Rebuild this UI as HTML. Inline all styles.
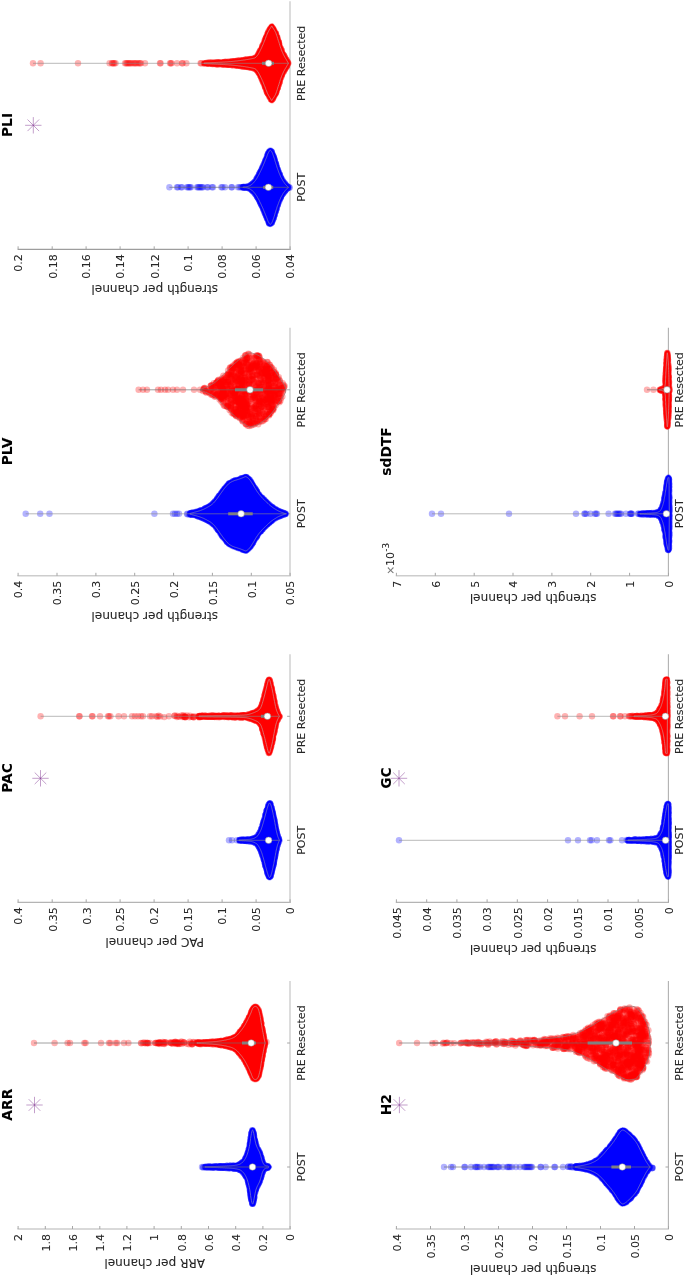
<!DOCTYPE html>
<html><head><meta charset="utf-8"><title>Violin plots</title><style>html,body{margin:0;padding:0;background:#fff}svg{display:block}text{stroke:#262626;stroke-width:.08px}</style></head><body>
<svg width="685" height="1277" viewBox="0 0 685 1277" font-family="'DejaVu Sans','Liberation Sans',sans-serif" fill="#262626">
<path d="M17.4 1229H290.8" fill="none" stroke="#cdcdcd" stroke-width="1.4"/>
<path d="M290 1229V981" fill="none" stroke="#cdcdcd" stroke-width="1.4"/>
<path d="M290.1 1229v-3M262.9 1229v-3M235.7 1229v-3M208.5 1229v-3M181.3 1229v-3M154.1 1229v-3M126.9 1229v-3M99.8 1229v-3M72.5 1229v-3M45.3 1229v-3M18.1 1229v-3M290.1 1167h-3M290.1 1043h-3" fill="none" stroke="#a6a6a6" stroke-width="1"/>
<text transform="translate(294.4,1233.9) rotate(-90)" text-anchor="end" font-size="11.0">0</text>
<text transform="translate(267.2,1233.9) rotate(-90)" text-anchor="end" font-size="11.0">0.2</text>
<text transform="translate(240,1233.9) rotate(-90)" text-anchor="end" font-size="11.0">0.4</text>
<text transform="translate(212.8,1233.9) rotate(-90)" text-anchor="end" font-size="11.0">0.6</text>
<text transform="translate(185.6,1233.9) rotate(-90)" text-anchor="end" font-size="11.0">0.8</text>
<text transform="translate(158.4,1233.9) rotate(-90)" text-anchor="end" font-size="11.0">1</text>
<text transform="translate(131.2,1233.9) rotate(-90)" text-anchor="end" font-size="11.0">1.2</text>
<text transform="translate(104,1233.9) rotate(-90)" text-anchor="end" font-size="11.0">1.4</text>
<text transform="translate(76.8,1233.9) rotate(-90)" text-anchor="end" font-size="11.0">1.6</text>
<text transform="translate(49.6,1233.9) rotate(-90)" text-anchor="end" font-size="11.0">1.8</text>
<text transform="translate(22.4,1233.9) rotate(-90)" text-anchor="end" font-size="11.0">2</text>
<text transform="translate(305.2,1167) rotate(-90)" text-anchor="middle" font-size="11.0">POST</text>
<text transform="translate(305.2,1043) rotate(-90)" text-anchor="middle" font-size="11.0">PRE Resected</text>
<text transform="translate(154.7,1258.5) rotate(180)" text-anchor="middle" font-size="12.1">ARR per channel</text>
<text transform="translate(12.3,1104.7) rotate(-90)" text-anchor="middle" font-size="13.8" font-weight="bold" fill="#000">ARR</text>
<path d="M26.3 1105h16.4 M34.5 1096.8v16.4 M28.7 1099.2l11.6 11.6 M28.7 1110.8l11.6 -11.6" stroke="#7E2F8E" stroke-width="0.55" stroke-opacity="0.85" fill="none"/>
<g fill="#0000ff" fill-opacity="0.3"><circle cx="202" cy="1167" r="3.2"/><circle cx="203.5" cy="1167" r="3.2"/><circle cx="216.8" cy="1166.8" r="3.2"/><circle cx="222.7" cy="1166.7" r="3.2"/><circle cx="220.1" cy="1166.7" r="3.2"/><circle cx="208" cy="1166.9" r="3.2"/><circle cx="209.6" cy="1167" r="3.2"/><circle cx="222.2" cy="1167.1" r="3.2"/><circle cx="203.1" cy="1167.6" r="3.2"/><circle cx="221.1" cy="1167.4" r="3.2"/><circle cx="220.5" cy="1167.1" r="3.2"/><circle cx="213.3" cy="1167.6" r="3.2"/><circle cx="267.6" cy="1167.5" r="3.2"/><circle cx="267.9" cy="1166.4" r="3.2"/><circle cx="267.3" cy="1167" r="3.2"/></g>
<path d="M205 1166.7 205.4 1166.7 205.8 1166.7 206.2 1166.7 206.6 1166.7 207 1166.7 207.4 1166.7 207.8 1166.7 208.2 1166.7 208.6 1166.6 209 1166.6 209.4 1166.6 209.8 1166.6 210.2 1166.6 210.6 1166.6 211 1166.6 211.5 1166.6 211.9 1166.6 212.3 1166.6 212.7 1166.5 213.1 1166.5 213.5 1166.5 213.9 1166.5 214.3 1166.5 214.7 1166.5 215.1 1166.5 215.5 1166.5 215.9 1166.4 216.3 1166.4 216.7 1166.4 217.1 1166.4 217.5 1166.4 217.9 1166.4 218.3 1166.3 218.7 1166.3 219.1 1166.3 219.5 1166.3 219.9 1166.3 220.3 1166.3 220.7 1166.2 221.1 1166.2 221.5 1166.2 221.9 1166.2 222.3 1166.2 222.7 1166.2 223.1 1166.1 223.5 1166.1 223.9 1166.1 224.4 1166.1 224.8 1166.1 225.2 1166 225.6 1166 226 1166 226.4 1166 226.8 1166 227.2 1165.9 227.6 1165.9 228 1165.9 228.4 1165.9 228.8 1165.9 229.2 1165.8 229.6 1165.8 230 1165.8 230.4 1165.8 230.8 1165.7 231.2 1165.7 231.6 1165.7 232 1165.6 232.4 1165.6 232.8 1165.6 233.2 1165.5 233.6 1165.5 234 1165.5 234.4 1165.4 234.8 1165.4 235.2 1165.3 235.6 1165.2 236 1165.2 236.4 1165.1 236.8 1165 237.3 1164.9 237.7 1164.8 238.1 1164.7 238.5 1164.6 238.9 1164.5 239.3 1164.4 239.7 1164.2 240.1 1164 240.5 1163.8 240.9 1163.6 241.3 1163.3 241.7 1163 242.1 1162.6 242.5 1162.3 242.9 1161.9 243.3 1161.5 243.7 1161 244.1 1160.5 244.5 1159.9 244.9 1159.3 245.3 1158.6 245.7 1157.9 246.1 1157.1 246.5 1156.2 246.9 1155.2 247.3 1154.1 247.7 1152.9 248.1 1151.5 248.5 1150 248.9 1148.4 249.3 1146.7 249.7 1144.7 250.2 1141.9 250.6 1138.4 251 1135.8 251.4 1133.6 251.8 1131.6 252.2 1130.3 252.6 1130 253 1130.4 253.4 1131.9 253.8 1133.7 254.2 1135.9 254.6 1138 255 1140.1 255.4 1142.1 255.8 1143.8 256.2 1145 256.6 1146.1 257 1147 257.4 1147.9 257.8 1148.7 258.2 1149.5 258.6 1150.3 259 1151 259.4 1151.9 259.8 1152.9 260.2 1154.1 260.6 1155.4 261 1156.8 261.4 1158.2 261.8 1159.7 262.2 1161.1 262.6 1162.2 263.1 1163.1 263.5 1164 263.9 1164.6 264.3 1164.9 264.7 1165.2 265.1 1165.5 265.5 1165.7 265.9 1165.8 266.3 1165.9 266.7 1166 267.1 1166 267.5 1166 267.9 1166.1 268.3 1166.2 268.7 1166.6 269.1 1167 269.1 1167 268.7 1167.4 268.3 1167.8 267.9 1167.9 267.5 1168 267.1 1168 266.7 1168 266.3 1168.1 265.9 1168.2 265.5 1168.3 265.1 1168.5 264.7 1168.8 264.3 1169.1 263.9 1169.4 263.5 1170 263.1 1170.9 262.6 1171.8 262.2 1172.9 261.8 1174.3 261.4 1175.8 261 1177.2 260.6 1178.6 260.2 1179.9 259.8 1181.1 259.4 1182.1 259 1183 258.6 1183.7 258.2 1184.5 257.8 1185.3 257.4 1186.1 257 1187 256.6 1187.9 256.2 1189 255.8 1190.2 255.4 1191.9 255 1193.9 254.6 1196 254.2 1198.1 253.8 1200.3 253.4 1202.1 253 1203.6 252.6 1204 252.2 1203.7 251.8 1202.4 251.4 1200.4 251 1198.2 250.6 1195.6 250.2 1192.1 249.7 1189.3 249.3 1187.3 248.9 1185.6 248.5 1184 248.1 1182.5 247.7 1181.1 247.3 1179.9 246.9 1178.8 246.5 1177.8 246.1 1176.9 245.7 1176.1 245.3 1175.4 244.9 1174.7 244.5 1174.1 244.1 1173.5 243.7 1173 243.3 1172.5 242.9 1172.1 242.5 1171.7 242.1 1171.4 241.7 1171 241.3 1170.7 240.9 1170.4 240.5 1170.2 240.1 1170 239.7 1169.8 239.3 1169.6 238.9 1169.5 238.5 1169.4 238.1 1169.3 237.7 1169.2 237.3 1169.1 236.8 1169 236.4 1168.9 236 1168.8 235.6 1168.8 235.2 1168.7 234.8 1168.6 234.4 1168.6 234 1168.5 233.6 1168.5 233.2 1168.5 232.8 1168.4 232.4 1168.4 232 1168.4 231.6 1168.3 231.2 1168.3 230.8 1168.3 230.4 1168.2 230 1168.2 229.6 1168.2 229.2 1168.2 228.8 1168.1 228.4 1168.1 228 1168.1 227.6 1168.1 227.2 1168.1 226.8 1168 226.4 1168 226 1168 225.6 1168 225.2 1168 224.8 1167.9 224.4 1167.9 223.9 1167.9 223.5 1167.9 223.1 1167.9 222.7 1167.8 222.3 1167.8 221.9 1167.8 221.5 1167.8 221.1 1167.8 220.7 1167.8 220.3 1167.7 219.9 1167.7 219.5 1167.7 219.1 1167.7 218.7 1167.7 218.3 1167.7 217.9 1167.6 217.5 1167.6 217.1 1167.6 216.7 1167.6 216.3 1167.6 215.9 1167.6 215.5 1167.5 215.1 1167.5 214.7 1167.5 214.3 1167.5 213.9 1167.5 213.5 1167.5 213.1 1167.5 212.7 1167.5 212.3 1167.4 211.9 1167.4 211.5 1167.4 211 1167.4 210.6 1167.4 210.2 1167.4 209.8 1167.4 209.4 1167.4 209 1167.4 208.6 1167.4 208.2 1167.3 207.8 1167.3 207.4 1167.3 207 1167.3 206.6 1167.3 206.2 1167.3 205.8 1167.3 205.4 1167.3 205 1167.3Z" fill="#0000ff" stroke="#0000ff" stroke-width="5.9" stroke-opacity="0.35" stroke-linejoin="round"/>
<path d="M205 1166.7 205.4 1166.7 205.8 1166.7 206.2 1166.7 206.6 1166.7 207 1166.7 207.4 1166.7 207.8 1166.7 208.2 1166.7 208.6 1166.6 209 1166.6 209.4 1166.6 209.8 1166.6 210.2 1166.6 210.6 1166.6 211 1166.6 211.5 1166.6 211.9 1166.6 212.3 1166.6 212.7 1166.5 213.1 1166.5 213.5 1166.5 213.9 1166.5 214.3 1166.5 214.7 1166.5 215.1 1166.5 215.5 1166.5 215.9 1166.4 216.3 1166.4 216.7 1166.4 217.1 1166.4 217.5 1166.4 217.9 1166.4 218.3 1166.3 218.7 1166.3 219.1 1166.3 219.5 1166.3 219.9 1166.3 220.3 1166.3 220.7 1166.2 221.1 1166.2 221.5 1166.2 221.9 1166.2 222.3 1166.2 222.7 1166.2 223.1 1166.1 223.5 1166.1 223.9 1166.1 224.4 1166.1 224.8 1166.1 225.2 1166 225.6 1166 226 1166 226.4 1166 226.8 1166 227.2 1165.9 227.6 1165.9 228 1165.9 228.4 1165.9 228.8 1165.9 229.2 1165.8 229.6 1165.8 230 1165.8 230.4 1165.8 230.8 1165.7 231.2 1165.7 231.6 1165.7 232 1165.6 232.4 1165.6 232.8 1165.6 233.2 1165.5 233.6 1165.5 234 1165.5 234.4 1165.4 234.8 1165.4 235.2 1165.3 235.6 1165.2 236 1165.2 236.4 1165.1 236.8 1165 237.3 1164.9 237.7 1164.8 238.1 1164.7 238.5 1164.6 238.9 1164.5 239.3 1164.4 239.7 1164.2 240.1 1164 240.5 1163.8 240.9 1163.6 241.3 1163.3 241.7 1163 242.1 1162.6 242.5 1162.3 242.9 1161.9 243.3 1161.5 243.7 1161 244.1 1160.5 244.5 1159.9 244.9 1159.3 245.3 1158.6 245.7 1157.9 246.1 1157.1 246.5 1156.2 246.9 1155.2 247.3 1154.1 247.7 1152.9 248.1 1151.5 248.5 1150 248.9 1148.4 249.3 1146.7 249.7 1144.7 250.2 1141.9 250.6 1138.4 251 1135.8 251.4 1133.6 251.8 1131.6 252.2 1130.3 252.6 1130 253 1130.4 253.4 1131.9 253.8 1133.7 254.2 1135.9 254.6 1138 255 1140.1 255.4 1142.1 255.8 1143.8 256.2 1145 256.6 1146.1 257 1147 257.4 1147.9 257.8 1148.7 258.2 1149.5 258.6 1150.3 259 1151 259.4 1151.9 259.8 1152.9 260.2 1154.1 260.6 1155.4 261 1156.8 261.4 1158.2 261.8 1159.7 262.2 1161.1 262.6 1162.2 263.1 1163.1 263.5 1164 263.9 1164.6 264.3 1164.9 264.7 1165.2 265.1 1165.5 265.5 1165.7 265.9 1165.8 266.3 1165.9 266.7 1166 267.1 1166 267.5 1166 267.9 1166.1 268.3 1166.2 268.7 1166.6 269.1 1167 269.1 1167 268.7 1167.4 268.3 1167.8 267.9 1167.9 267.5 1168 267.1 1168 266.7 1168 266.3 1168.1 265.9 1168.2 265.5 1168.3 265.1 1168.5 264.7 1168.8 264.3 1169.1 263.9 1169.4 263.5 1170 263.1 1170.9 262.6 1171.8 262.2 1172.9 261.8 1174.3 261.4 1175.8 261 1177.2 260.6 1178.6 260.2 1179.9 259.8 1181.1 259.4 1182.1 259 1183 258.6 1183.7 258.2 1184.5 257.8 1185.3 257.4 1186.1 257 1187 256.6 1187.9 256.2 1189 255.8 1190.2 255.4 1191.9 255 1193.9 254.6 1196 254.2 1198.1 253.8 1200.3 253.4 1202.1 253 1203.6 252.6 1204 252.2 1203.7 251.8 1202.4 251.4 1200.4 251 1198.2 250.6 1195.6 250.2 1192.1 249.7 1189.3 249.3 1187.3 248.9 1185.6 248.5 1184 248.1 1182.5 247.7 1181.1 247.3 1179.9 246.9 1178.8 246.5 1177.8 246.1 1176.9 245.7 1176.1 245.3 1175.4 244.9 1174.7 244.5 1174.1 244.1 1173.5 243.7 1173 243.3 1172.5 242.9 1172.1 242.5 1171.7 242.1 1171.4 241.7 1171 241.3 1170.7 240.9 1170.4 240.5 1170.2 240.1 1170 239.7 1169.8 239.3 1169.6 238.9 1169.5 238.5 1169.4 238.1 1169.3 237.7 1169.2 237.3 1169.1 236.8 1169 236.4 1168.9 236 1168.8 235.6 1168.8 235.2 1168.7 234.8 1168.6 234.4 1168.6 234 1168.5 233.6 1168.5 233.2 1168.5 232.8 1168.4 232.4 1168.4 232 1168.4 231.6 1168.3 231.2 1168.3 230.8 1168.3 230.4 1168.2 230 1168.2 229.6 1168.2 229.2 1168.2 228.8 1168.1 228.4 1168.1 228 1168.1 227.6 1168.1 227.2 1168.1 226.8 1168 226.4 1168 226 1168 225.6 1168 225.2 1168 224.8 1167.9 224.4 1167.9 223.9 1167.9 223.5 1167.9 223.1 1167.9 222.7 1167.8 222.3 1167.8 221.9 1167.8 221.5 1167.8 221.1 1167.8 220.7 1167.8 220.3 1167.7 219.9 1167.7 219.5 1167.7 219.1 1167.7 218.7 1167.7 218.3 1167.7 217.9 1167.6 217.5 1167.6 217.1 1167.6 216.7 1167.6 216.3 1167.6 215.9 1167.6 215.5 1167.5 215.1 1167.5 214.7 1167.5 214.3 1167.5 213.9 1167.5 213.5 1167.5 213.1 1167.5 212.7 1167.5 212.3 1167.4 211.9 1167.4 211.5 1167.4 211 1167.4 210.6 1167.4 210.2 1167.4 209.8 1167.4 209.4 1167.4 209 1167.4 208.6 1167.4 208.2 1167.3 207.8 1167.3 207.4 1167.3 207 1167.3 206.6 1167.3 206.2 1167.3 205.8 1167.3 205.4 1167.3 205 1167.3Z" fill="#0000ff" stroke="#0000ff" stroke-width="4.5" stroke-linejoin="round"/>
<path d="M229.8 1168.1h0M210.1 1167.4h0M248.9 1148.8h0M250 1190.7h0M206.4 1167.3h0M228.1 1168.1h0M259.4 1182.1h0M261.2 1157.3h0M253.1 1202.5h0M250.4 1141h0M244.6 1173.9h0M246.1 1176.4h0M258.7 1183h0M251.2 1199.2h0M254 1198.8h0M232.6 1165.7h0M265.7 1165.8h0M239.5 1164.4h0M220.2 1167.7h0M261.9 1160.2h0M227.2 1166h0M225.8 1166h0M250.8 1196.8h0M232.6 1165.6h0M249 1149.3h0M255.7 1144.6h0M208.5 1166.7h0M253.6 1200.6h0M260.9 1177.1h0M254.2 1198h0M256.2 1145.7h0M263 1170.9h0M258.3 1150.1h0M258.6 1182.9h0M257.4 1185.3h0M231.1 1165.8h0M225.7 1168h0M250.9 1197.3h0M264.2 1164.9h0M250 1143.3h0M255.5 1142.8h0M261.1 1176.9h0M212.9 1167.4h0M264.1 1169.1h0M254 1198.8h0M266.2 1168.1h0M228.4 1168.1h0M262.3 1172.7h0M251.5 1133h0M253.6 1134h0M248.9 1185.1h0M226.2 1168h0M256.1 1146.1h0M218 1166.4h0M261.1 1157.3h0M210.4 1166.6h0M234.1 1168.5h0M250.8 1196.8h0M224.1 1167.9h0M240.5 1163.9h0M258.4 1150h0M227 1166h0M257.9 1184.2h0M210.8 1167.4h0M218 1167.6h0M240.8 1170.3h0M219.9 1166.3h0M227.7 1166h0M251.6 1133.9h0M252.7 1203.9h0M242.1 1162.8h0M261.6 1158.7h0M253.4 1201.8h0M263.6 1164.3h0M248.7 1184.2h0M245.8 1158.2h0M259.4 1152.5h0M250.4 1192.4h0M242.3 1171.5h0M255.8 1189.5h0M213.9 1166.5h0M220.4 1166.3h0M262 1160.5h0M259.5 1152.3h0M248 1152.8h0M254.8 1139.9h0M256.7 1186.9h0" stroke="#0000ff" stroke-opacity="0.4" stroke-width="6.4" stroke-linecap="round" fill="none"/>
<path d="M223.5 1166.2h0M209.1 1167.3h0M262.3 1172.5h0M249.7 1145.6h0M227.2 1168h0M245.2 1174.6h0M222.8 1166.2h0M249.9 1189.8h0M255.5 1143.6h0M249.9 1144.3h0M251.4 1133.8h0M241.7 1163.1h0M245.7 1158.2h0M251.5 1199.4h0M222.4 1167.8h0M246.8 1156.1h0M229.8 1165.8h0M261 1176.8h0M260 1153.8h0M250.8 1138h0M262.8 1162.7h0M261.3 1157.7h0M245.5 1175.5h0M209.4 1166.7h0M250.5 1194.1h0M207.9 1167.3h0M219.2 1167.7h0M247.8 1153.5h0M243.5 1172.7h0M244.3 1173.5h0M262.1 1160.8h0M205.6 1166.7h0M220.8 1167.7h0M206.6 1166.7h0M250 1144.2h0M227.9 1168h0M243.6 1172.5h0M243.2 1172.1h0M248.3 1151.7h0M250.1 1191.3h0M251 1198h0M247.2 1154.9h0M247.9 1180.7h0M233.9 1168.5h0M254.9 1141.1h0M242.5 1171.7h0M210.8 1166.6h0M259.8 1153.1h0M249.3 1186.7h0M240.1 1169.9h0M252.3 1130.3h0M212.1 1167.4h0M258.6 1183.2h0M262.2 1172.9h0M250.1 1190.8h0M208.5 1167.3h0M233.6 1168.5h0M209.5 1167.4h0M254 1135.7h0M263.3 1170.3h0M253.6 1199.4h0M250.9 1197.4h0M264.9 1168.5h0M243 1161.8h0M252.2 1203.6h0M260.6 1178.3h0M256.3 1145.4h0M250.9 1137.6h0M216.1 1166.4h0M259.1 1182.1h0M255 1141.2h0M223.6 1167.9h0M229.7 1165.8h0M245.7 1158.1h0M253.6 1132.9h0M220.4 1166.3h0M245.6 1158.4h0M229.8 1165.8h0M248.7 1149.6h0M251 1137.4h0M256.1 1188.6h0M220.1 1167.7h0M236 1168.8h0M251.9 1133h0M261.3 1176h0M216.2 1166.4h0M259.1 1151.9h0" stroke="#0000ff" stroke-opacity="0.4" stroke-width="6.4" stroke-linecap="round" fill="none"/>
<path d="M251.7 1133.1h0M250 1143.5h0M252.4 1202.8h0M233.5 1165.6h0M254.3 1196.9h0M205.4 1167.3h0M235.8 1168.7h0M260.1 1180.3h0M215.5 1166.5h0M260.9 1177.5h0M211.8 1167.4h0M222.3 1167.8h0M267 1166h0M253 1132.6h0M248.2 1182.6h0M216.1 1167.5h0M253.9 1198.2h0M253.7 1134.6h0M263.7 1169.7h0M221.8 1166.2h0M250.5 1194.8h0M253.2 1202.5h0M247.2 1155.3h0M261 1157.2h0M241.6 1163h0M245.3 1158.7h0M265.7 1165.8h0M250.1 1191.6h0M251.2 1136h0M250.1 1142.5h0M222.4 1167.8h0M255.8 1189.5h0M247.5 1154.1h0M252.4 1131.8h0M255.1 1141.2h0M244.8 1174.3h0M263.9 1169.3h0M236.3 1168.8h0M267.2 1168h0M261.7 1174.9h0M247.7 1153h0M262.6 1172h0M250.1 1142.8h0M258.1 1184.6h0M252.5 1131.1h0M246.6 1156.3h0M229.5 1168.2h0M218 1167.6h0M251.3 1135.5h0M265.1 1168.4h0M252.9 1202.8h0M247.2 1154.9h0M255.2 1191.9h0M257.9 1149.7h0M262.3 1161.4h0M207.3 1167.3h0M226.6 1166h0M251.2 1198.2h0M207.4 1167.3h0M250.3 1141.2h0M251.7 1200h0M209.6 1166.6h0M260.3 1154.4h0M241.2 1163.4h0M257.7 1185.4h0M257.6 1184.8h0M261.2 1157.7h0M253.1 1203h0M253.7 1134.9h0M258 1184.8h0M260.7 1177.8h0M208.1 1166.7h0M250.7 1137.6h0M234.1 1168.5h0M216.7 1167.6h0M253.7 1199.8h0M245.3 1174.9h0M233.5 1168.4h0M214.4 1166.5h0M239.4 1169.7h0M220.1 1166.3h0M214.4 1167.5h0M240.1 1164h0M226.6 1166h0M245.5 1175.6h0M255.1 1141.6h0" stroke="#0000ff" stroke-opacity="0.4" stroke-width="6.4" stroke-linecap="round" fill="none"/>
<path d="M205 1166.7 205.4 1166.7 205.8 1166.7 206.2 1166.7 206.6 1166.7 207 1166.7 207.4 1166.7 207.8 1166.7 208.2 1166.7 208.6 1166.6 209 1166.6 209.4 1166.6 209.8 1166.6 210.2 1166.6 210.6 1166.6 211 1166.6 211.5 1166.6 211.9 1166.6 212.3 1166.6 212.7 1166.5 213.1 1166.5 213.5 1166.5 213.9 1166.5 214.3 1166.5 214.7 1166.5 215.1 1166.5 215.5 1166.5 215.9 1166.4 216.3 1166.4 216.7 1166.4 217.1 1166.4 217.5 1166.4 217.9 1166.4 218.3 1166.3 218.7 1166.3 219.1 1166.3 219.5 1166.3 219.9 1166.3 220.3 1166.3 220.7 1166.2 221.1 1166.2 221.5 1166.2 221.9 1166.2 222.3 1166.2 222.7 1166.2 223.1 1166.1 223.5 1166.1 223.9 1166.1 224.4 1166.1 224.8 1166.1 225.2 1166 225.6 1166 226 1166 226.4 1166 226.8 1166 227.2 1165.9 227.6 1165.9 228 1165.9 228.4 1165.9 228.8 1165.9 229.2 1165.8 229.6 1165.8 230 1165.8 230.4 1165.8 230.8 1165.7 231.2 1165.7 231.6 1165.7 232 1165.6 232.4 1165.6 232.8 1165.6 233.2 1165.5 233.6 1165.5 234 1165.5 234.4 1165.4 234.8 1165.4 235.2 1165.3 235.6 1165.2 236 1165.2 236.4 1165.1 236.8 1165 237.3 1164.9 237.7 1164.8 238.1 1164.7 238.5 1164.6 238.9 1164.5 239.3 1164.4 239.7 1164.2 240.1 1164 240.5 1163.8 240.9 1163.6 241.3 1163.3 241.7 1163 242.1 1162.6 242.5 1162.3 242.9 1161.9 243.3 1161.5 243.7 1161 244.1 1160.5 244.5 1159.9 244.9 1159.3 245.3 1158.6 245.7 1157.9 246.1 1157.1 246.5 1156.2 246.9 1155.2 247.3 1154.1 247.7 1152.9 248.1 1151.5 248.5 1150 248.9 1148.4 249.3 1146.7 249.7 1144.7 250.2 1141.9 250.6 1138.4 251 1135.8 251.4 1133.6 251.8 1131.6 252.2 1130.3 252.6 1130 253 1130.4 253.4 1131.9 253.8 1133.7 254.2 1135.9 254.6 1138 255 1140.1 255.4 1142.1 255.8 1143.8 256.2 1145 256.6 1146.1 257 1147 257.4 1147.9 257.8 1148.7 258.2 1149.5 258.6 1150.3 259 1151 259.4 1151.9 259.8 1152.9 260.2 1154.1 260.6 1155.4 261 1156.8 261.4 1158.2 261.8 1159.7 262.2 1161.1 262.6 1162.2 263.1 1163.1 263.5 1164 263.9 1164.6 264.3 1164.9 264.7 1165.2 265.1 1165.5 265.5 1165.7 265.9 1165.8 266.3 1165.9 266.7 1166 267.1 1166 267.5 1166 267.9 1166.1 268.3 1166.2 268.7 1166.6 269.1 1167 269.1 1167 268.7 1167.4 268.3 1167.8 267.9 1167.9 267.5 1168 267.1 1168 266.7 1168 266.3 1168.1 265.9 1168.2 265.5 1168.3 265.1 1168.5 264.7 1168.8 264.3 1169.1 263.9 1169.4 263.5 1170 263.1 1170.9 262.6 1171.8 262.2 1172.9 261.8 1174.3 261.4 1175.8 261 1177.2 260.6 1178.6 260.2 1179.9 259.8 1181.1 259.4 1182.1 259 1183 258.6 1183.7 258.2 1184.5 257.8 1185.3 257.4 1186.1 257 1187 256.6 1187.9 256.2 1189 255.8 1190.2 255.4 1191.9 255 1193.9 254.6 1196 254.2 1198.1 253.8 1200.3 253.4 1202.1 253 1203.6 252.6 1204 252.2 1203.7 251.8 1202.4 251.4 1200.4 251 1198.2 250.6 1195.6 250.2 1192.1 249.7 1189.3 249.3 1187.3 248.9 1185.6 248.5 1184 248.1 1182.5 247.7 1181.1 247.3 1179.9 246.9 1178.8 246.5 1177.8 246.1 1176.9 245.7 1176.1 245.3 1175.4 244.9 1174.7 244.5 1174.1 244.1 1173.5 243.7 1173 243.3 1172.5 242.9 1172.1 242.5 1171.7 242.1 1171.4 241.7 1171 241.3 1170.7 240.9 1170.4 240.5 1170.2 240.1 1170 239.7 1169.8 239.3 1169.6 238.9 1169.5 238.5 1169.4 238.1 1169.3 237.7 1169.2 237.3 1169.1 236.8 1169 236.4 1168.9 236 1168.8 235.6 1168.8 235.2 1168.7 234.8 1168.6 234.4 1168.6 234 1168.5 233.6 1168.5 233.2 1168.5 232.8 1168.4 232.4 1168.4 232 1168.4 231.6 1168.3 231.2 1168.3 230.8 1168.3 230.4 1168.2 230 1168.2 229.6 1168.2 229.2 1168.2 228.8 1168.1 228.4 1168.1 228 1168.1 227.6 1168.1 227.2 1168.1 226.8 1168 226.4 1168 226 1168 225.6 1168 225.2 1168 224.8 1167.9 224.4 1167.9 223.9 1167.9 223.5 1167.9 223.1 1167.9 222.7 1167.8 222.3 1167.8 221.9 1167.8 221.5 1167.8 221.1 1167.8 220.7 1167.8 220.3 1167.7 219.9 1167.7 219.5 1167.7 219.1 1167.7 218.7 1167.7 218.3 1167.7 217.9 1167.6 217.5 1167.6 217.1 1167.6 216.7 1167.6 216.3 1167.6 215.9 1167.6 215.5 1167.5 215.1 1167.5 214.7 1167.5 214.3 1167.5 213.9 1167.5 213.5 1167.5 213.1 1167.5 212.7 1167.5 212.3 1167.4 211.9 1167.4 211.5 1167.4 211 1167.4 210.6 1167.4 210.2 1167.4 209.8 1167.4 209.4 1167.4 209 1167.4 208.6 1167.4 208.2 1167.3 207.8 1167.3 207.4 1167.3 207 1167.3 206.6 1167.3 206.2 1167.3 205.8 1167.3 205.4 1167.3 205 1167.3Z" fill="none" stroke="#7474cc" stroke-width="0.8" stroke-linejoin="round"/>
<line x1="202" y1="1167" x2="268" y2="1167" stroke="#6c6c6c" stroke-width="0.65"/>
<circle cx="252.5" cy="1167" r="3.3" fill="#fff" stroke="#808080" stroke-width="0.5"/>
<g fill="#ff0000" fill-opacity="0.3"><circle cx="34" cy="1043" r="3.2"/><circle cx="54.6" cy="1043" r="3.2"/><circle cx="67.6" cy="1043" r="3.2"/><circle cx="70" cy="1043" r="3.2"/><circle cx="84.4" cy="1043" r="3.2"/><circle cx="85.6" cy="1043" r="3.2"/><circle cx="101" cy="1043" r="3.2"/><circle cx="109" cy="1043" r="3.2"/><circle cx="110.4" cy="1043" r="3.2"/><circle cx="115.6" cy="1043" r="3.2"/><circle cx="117.2" cy="1043" r="3.2"/><circle cx="124" cy="1043" r="3.2"/><circle cx="128.4" cy="1043" r="3.2"/><circle cx="141" cy="1043" r="3.2"/><circle cx="143" cy="1043" r="3.2"/><circle cx="145" cy="1043" r="3.2"/><circle cx="148" cy="1043" r="3.2"/><circle cx="150" cy="1043" r="3.2"/><circle cx="156" cy="1043" r="3.2"/><circle cx="159.9" cy="1042.8" r="3.2"/><circle cx="141.4" cy="1043.3" r="3.2"/><circle cx="155.9" cy="1043" r="3.2"/><circle cx="147" cy="1042.9" r="3.2"/><circle cx="155.2" cy="1042.9" r="3.2"/><circle cx="157.6" cy="1042.9" r="3.2"/><circle cx="159.8" cy="1042.6" r="3.2"/><circle cx="143.9" cy="1042.5" r="3.2"/><circle cx="148" cy="1043.3" r="3.2"/><circle cx="158.7" cy="1043.1" r="3.2"/><circle cx="158.8" cy="1043.2" r="3.2"/><circle cx="146.2" cy="1043.4" r="3.2"/><circle cx="158.7" cy="1042.7" r="3.2"/><circle cx="146.9" cy="1042.7" r="3.2"/><circle cx="163.4" cy="1043.9" r="3.2"/><circle cx="164" cy="1042.4" r="3.2"/><circle cx="174.5" cy="1042.5" r="3.2"/><circle cx="165.6" cy="1042.4" r="3.2"/><circle cx="164.4" cy="1044" r="3.2"/><circle cx="171.6" cy="1042.6" r="3.2"/><circle cx="161.3" cy="1043.2" r="3.2"/><circle cx="159.4" cy="1044" r="3.2"/><circle cx="173" cy="1043.9" r="3.2"/><circle cx="174.4" cy="1042.1" r="3.2"/><circle cx="163.8" cy="1043" r="3.2"/><circle cx="171.6" cy="1043.2" r="3.2"/><circle cx="157.8" cy="1043.4" r="3.2"/><circle cx="166.3" cy="1042.7" r="3.2"/><circle cx="170.3" cy="1042.7" r="3.2"/><circle cx="162.8" cy="1042" r="3.2"/><circle cx="165" cy="1042.1" r="3.2"/><circle cx="171" cy="1043.1" r="3.2"/><circle cx="170.6" cy="1042.2" r="3.2"/><circle cx="160.5" cy="1042.4" r="3.2"/><circle cx="173.3" cy="1042.7" r="3.2"/><circle cx="158.8" cy="1042.1" r="3.2"/><circle cx="175.8" cy="1043.5" r="3.2"/><circle cx="200" cy="1043.8" r="3.2"/><circle cx="186.8" cy="1043.7" r="3.2"/><circle cx="180.5" cy="1042.9" r="3.2"/><circle cx="194.1" cy="1042.2" r="3.2"/><circle cx="175.3" cy="1041.8" r="3.2"/><circle cx="181.6" cy="1043.9" r="3.2"/><circle cx="200.9" cy="1044.2" r="3.2"/><circle cx="199.2" cy="1042.3" r="3.2"/><circle cx="192.2" cy="1044" r="3.2"/><circle cx="177.5" cy="1042.7" r="3.2"/><circle cx="183.6" cy="1042.5" r="3.2"/><circle cx="175.8" cy="1043" r="3.2"/><circle cx="180.9" cy="1041.7" r="3.2"/><circle cx="175.7" cy="1042.9" r="3.2"/><circle cx="178.4" cy="1042.2" r="3.2"/><circle cx="192.1" cy="1043.6" r="3.2"/><circle cx="177.7" cy="1043" r="3.2"/><circle cx="179.2" cy="1044" r="3.2"/><circle cx="199.4" cy="1044" r="3.2"/><circle cx="184.1" cy="1042.5" r="3.2"/><circle cx="184" cy="1042.4" r="3.2"/><circle cx="177.3" cy="1044.1" r="3.2"/><circle cx="196.5" cy="1043" r="3.2"/><circle cx="193.3" cy="1042" r="3.2"/><circle cx="189.8" cy="1041.8" r="3.2"/><circle cx="191.7" cy="1044.3" r="3.2"/><circle cx="177.7" cy="1043.2" r="3.2"/><circle cx="182" cy="1041.8" r="3.2"/><circle cx="190.8" cy="1043" r="3.2"/><circle cx="200.7" cy="1043" r="3.2"/><circle cx="197.1" cy="1042.8" r="3.2"/><circle cx="192.3" cy="1044.2" r="3.2"/><circle cx="189" cy="1044.2" r="3.2"/><circle cx="175.4" cy="1042" r="3.2"/><circle cx="199" cy="1042.1" r="3.2"/><circle cx="176.8" cy="1042.8" r="3.2"/><circle cx="178.5" cy="1043.9" r="3.2"/><circle cx="266.5" cy="1042" r="3.2"/></g>
<path d="M197 1042.5 197.4 1042.5 197.9 1042.5 198.3 1042.5 198.7 1042.5 199.1 1042.5 199.6 1042.5 200 1042.5 200.4 1042.5 200.9 1042.4 201.3 1042.4 201.7 1042.4 202.1 1042.4 202.6 1042.4 203 1042.4 203.4 1042.4 203.9 1042.3 204.3 1042.3 204.7 1042.3 205.1 1042.3 205.6 1042.3 206 1042.2 206.4 1042.2 206.9 1042.2 207.3 1042.2 207.7 1042.1 208.1 1042.1 208.6 1042.1 209 1042 209.4 1042 209.8 1042 210.3 1042 210.7 1041.9 211.1 1041.9 211.6 1041.9 212 1041.8 212.4 1041.8 212.8 1041.8 213.3 1041.7 213.7 1041.7 214.1 1041.7 214.6 1041.6 215 1041.6 215.4 1041.6 215.8 1041.5 216.3 1041.5 216.7 1041.4 217.1 1041.4 217.6 1041.3 218 1041.3 218.4 1041.2 218.8 1041.2 219.3 1041.1 219.7 1041 220.1 1041 220.6 1040.9 221 1040.8 221.4 1040.8 221.8 1040.7 222.3 1040.6 222.7 1040.5 223.1 1040.5 223.6 1040.4 224 1040.3 224.4 1040.2 224.8 1040.1 225.3 1040.1 225.7 1040 226.1 1039.9 226.6 1039.8 227 1039.7 227.4 1039.6 227.8 1039.5 228.3 1039.4 228.7 1039.3 229.1 1039.2 229.6 1039.1 230 1039 230.4 1038.9 230.8 1038.7 231.3 1038.6 231.7 1038.4 232.1 1038.3 232.5 1038.1 233 1037.9 233.4 1037.7 233.8 1037.5 234.3 1037.2 234.7 1037 235.1 1036.7 235.5 1036.4 236 1036 236.4 1035.7 236.8 1035.4 237.3 1035 237.7 1034.6 238.1 1034.1 238.5 1033.6 239 1033.1 239.4 1032.6 239.8 1032.1 240.3 1031.5 240.7 1031 241.1 1030.5 241.5 1029.9 242 1029.4 242.4 1028.8 242.8 1028.2 243.3 1027.6 243.7 1027 244.1 1026.3 244.5 1025.7 245 1025 245.4 1024.2 245.8 1023.4 246.3 1022.6 246.7 1021.8 247.1 1021 247.5 1020.1 248 1019.3 248.4 1018.4 248.8 1017.5 249.3 1016.6 249.7 1015.7 250.1 1014.7 250.5 1013.8 251 1012.8 251.4 1011.7 251.8 1010.5 252.3 1009.3 252.7 1008.3 253.1 1007.7 253.5 1007.3 254 1006.9 254.4 1006.7 254.8 1006.5 255.2 1006.4 255.7 1006.5 256.1 1006.6 256.5 1006.8 257 1007.1 257.4 1007.5 257.8 1008.1 258.2 1009 258.7 1010.2 259.1 1011.7 259.5 1013.3 260 1015.2 260.4 1017.6 260.8 1020.1 261.2 1022.7 261.7 1025.3 262.1 1028 262.5 1030.4 263 1032.7 263.4 1034.8 263.8 1036.9 264.2 1039 264.7 1041 265.1 1043 265.1 1043 264.7 1045 264.2 1047 263.8 1049.1 263.4 1051.2 263 1053.3 262.5 1055.6 262.1 1058 261.7 1060.7 261.2 1063.3 260.8 1065.9 260.4 1068.4 260 1070.8 259.5 1072.7 259.1 1074.3 258.7 1075.8 258.2 1077 257.8 1077.9 257.4 1078.5 257 1078.9 256.5 1079.2 256.1 1079.4 255.7 1079.5 255.2 1079.6 254.8 1079.5 254.4 1079.3 254 1079.1 253.5 1078.7 253.1 1078.3 252.7 1077.7 252.3 1076.7 251.8 1075.5 251.4 1074.3 251 1073.2 250.5 1072.2 250.1 1071.3 249.7 1070.3 249.3 1069.4 248.8 1068.5 248.4 1067.6 248 1066.7 247.5 1065.9 247.1 1065 246.7 1064.2 246.3 1063.4 245.8 1062.6 245.4 1061.8 245 1061 244.5 1060.3 244.1 1059.7 243.7 1059 243.3 1058.4 242.8 1057.8 242.4 1057.2 242 1056.6 241.5 1056.1 241.1 1055.5 240.7 1055 240.3 1054.5 239.8 1053.9 239.4 1053.4 239 1052.9 238.5 1052.4 238.1 1051.9 237.7 1051.4 237.3 1051 236.8 1050.6 236.4 1050.3 236 1050 235.5 1049.6 235.1 1049.3 234.7 1049 234.3 1048.8 233.8 1048.5 233.4 1048.3 233 1048.1 232.5 1047.9 232.1 1047.7 231.7 1047.6 231.3 1047.4 230.8 1047.3 230.4 1047.1 230 1047 229.6 1046.9 229.1 1046.8 228.7 1046.7 228.3 1046.6 227.8 1046.5 227.4 1046.4 227 1046.3 226.6 1046.2 226.1 1046.1 225.7 1046 225.3 1045.9 224.8 1045.9 224.4 1045.8 224 1045.7 223.6 1045.6 223.1 1045.5 222.7 1045.5 222.3 1045.4 221.8 1045.3 221.4 1045.2 221 1045.2 220.6 1045.1 220.1 1045 219.7 1045 219.3 1044.9 218.8 1044.8 218.4 1044.8 218 1044.7 217.6 1044.7 217.1 1044.6 216.7 1044.6 216.3 1044.5 215.8 1044.5 215.4 1044.4 215 1044.4 214.6 1044.4 214.1 1044.3 213.7 1044.3 213.3 1044.3 212.8 1044.2 212.4 1044.2 212 1044.2 211.6 1044.1 211.1 1044.1 210.7 1044.1 210.3 1044 209.8 1044 209.4 1044 209 1044 208.6 1043.9 208.1 1043.9 207.7 1043.9 207.3 1043.8 206.9 1043.8 206.4 1043.8 206 1043.8 205.6 1043.7 205.1 1043.7 204.7 1043.7 204.3 1043.7 203.9 1043.7 203.4 1043.6 203 1043.6 202.6 1043.6 202.1 1043.6 201.7 1043.6 201.3 1043.6 200.9 1043.6 200.4 1043.5 200 1043.5 199.6 1043.5 199.1 1043.5 198.7 1043.5 198.3 1043.5 197.9 1043.5 197.4 1043.5 197 1043.5Z" fill="#ff0000" stroke="#ff0000" stroke-width="5.9" stroke-opacity="0.35" stroke-linejoin="round"/>
<path d="M197 1042.5 197.4 1042.5 197.9 1042.5 198.3 1042.5 198.7 1042.5 199.1 1042.5 199.6 1042.5 200 1042.5 200.4 1042.5 200.9 1042.4 201.3 1042.4 201.7 1042.4 202.1 1042.4 202.6 1042.4 203 1042.4 203.4 1042.4 203.9 1042.3 204.3 1042.3 204.7 1042.3 205.1 1042.3 205.6 1042.3 206 1042.2 206.4 1042.2 206.9 1042.2 207.3 1042.2 207.7 1042.1 208.1 1042.1 208.6 1042.1 209 1042 209.4 1042 209.8 1042 210.3 1042 210.7 1041.9 211.1 1041.9 211.6 1041.9 212 1041.8 212.4 1041.8 212.8 1041.8 213.3 1041.7 213.7 1041.7 214.1 1041.7 214.6 1041.6 215 1041.6 215.4 1041.6 215.8 1041.5 216.3 1041.5 216.7 1041.4 217.1 1041.4 217.6 1041.3 218 1041.3 218.4 1041.2 218.8 1041.2 219.3 1041.1 219.7 1041 220.1 1041 220.6 1040.9 221 1040.8 221.4 1040.8 221.8 1040.7 222.3 1040.6 222.7 1040.5 223.1 1040.5 223.6 1040.4 224 1040.3 224.4 1040.2 224.8 1040.1 225.3 1040.1 225.7 1040 226.1 1039.9 226.6 1039.8 227 1039.7 227.4 1039.6 227.8 1039.5 228.3 1039.4 228.7 1039.3 229.1 1039.2 229.6 1039.1 230 1039 230.4 1038.9 230.8 1038.7 231.3 1038.6 231.7 1038.4 232.1 1038.3 232.5 1038.1 233 1037.9 233.4 1037.7 233.8 1037.5 234.3 1037.2 234.7 1037 235.1 1036.7 235.5 1036.4 236 1036 236.4 1035.7 236.8 1035.4 237.3 1035 237.7 1034.6 238.1 1034.1 238.5 1033.6 239 1033.1 239.4 1032.6 239.8 1032.1 240.3 1031.5 240.7 1031 241.1 1030.5 241.5 1029.9 242 1029.4 242.4 1028.8 242.8 1028.2 243.3 1027.6 243.7 1027 244.1 1026.3 244.5 1025.7 245 1025 245.4 1024.2 245.8 1023.4 246.3 1022.6 246.7 1021.8 247.1 1021 247.5 1020.1 248 1019.3 248.4 1018.4 248.8 1017.5 249.3 1016.6 249.7 1015.7 250.1 1014.7 250.5 1013.8 251 1012.8 251.4 1011.7 251.8 1010.5 252.3 1009.3 252.7 1008.3 253.1 1007.7 253.5 1007.3 254 1006.9 254.4 1006.7 254.8 1006.5 255.2 1006.4 255.7 1006.5 256.1 1006.6 256.5 1006.8 257 1007.1 257.4 1007.5 257.8 1008.1 258.2 1009 258.7 1010.2 259.1 1011.7 259.5 1013.3 260 1015.2 260.4 1017.6 260.8 1020.1 261.2 1022.7 261.7 1025.3 262.1 1028 262.5 1030.4 263 1032.7 263.4 1034.8 263.8 1036.9 264.2 1039 264.7 1041 265.1 1043 265.1 1043 264.7 1045 264.2 1047 263.8 1049.1 263.4 1051.2 263 1053.3 262.5 1055.6 262.1 1058 261.7 1060.7 261.2 1063.3 260.8 1065.9 260.4 1068.4 260 1070.8 259.5 1072.7 259.1 1074.3 258.7 1075.8 258.2 1077 257.8 1077.9 257.4 1078.5 257 1078.9 256.5 1079.2 256.1 1079.4 255.7 1079.5 255.2 1079.6 254.8 1079.5 254.4 1079.3 254 1079.1 253.5 1078.7 253.1 1078.3 252.7 1077.7 252.3 1076.7 251.8 1075.5 251.4 1074.3 251 1073.2 250.5 1072.2 250.1 1071.3 249.7 1070.3 249.3 1069.4 248.8 1068.5 248.4 1067.6 248 1066.7 247.5 1065.9 247.1 1065 246.7 1064.2 246.3 1063.4 245.8 1062.6 245.4 1061.8 245 1061 244.5 1060.3 244.1 1059.7 243.7 1059 243.3 1058.4 242.8 1057.8 242.4 1057.2 242 1056.6 241.5 1056.1 241.1 1055.5 240.7 1055 240.3 1054.5 239.8 1053.9 239.4 1053.4 239 1052.9 238.5 1052.4 238.1 1051.9 237.7 1051.4 237.3 1051 236.8 1050.6 236.4 1050.3 236 1050 235.5 1049.6 235.1 1049.3 234.7 1049 234.3 1048.8 233.8 1048.5 233.4 1048.3 233 1048.1 232.5 1047.9 232.1 1047.7 231.7 1047.6 231.3 1047.4 230.8 1047.3 230.4 1047.1 230 1047 229.6 1046.9 229.1 1046.8 228.7 1046.7 228.3 1046.6 227.8 1046.5 227.4 1046.4 227 1046.3 226.6 1046.2 226.1 1046.1 225.7 1046 225.3 1045.9 224.8 1045.9 224.4 1045.8 224 1045.7 223.6 1045.6 223.1 1045.5 222.7 1045.5 222.3 1045.4 221.8 1045.3 221.4 1045.2 221 1045.2 220.6 1045.1 220.1 1045 219.7 1045 219.3 1044.9 218.8 1044.8 218.4 1044.8 218 1044.7 217.6 1044.7 217.1 1044.6 216.7 1044.6 216.3 1044.5 215.8 1044.5 215.4 1044.4 215 1044.4 214.6 1044.4 214.1 1044.3 213.7 1044.3 213.3 1044.3 212.8 1044.2 212.4 1044.2 212 1044.2 211.6 1044.1 211.1 1044.1 210.7 1044.1 210.3 1044 209.8 1044 209.4 1044 209 1044 208.6 1043.9 208.1 1043.9 207.7 1043.9 207.3 1043.8 206.9 1043.8 206.4 1043.8 206 1043.8 205.6 1043.7 205.1 1043.7 204.7 1043.7 204.3 1043.7 203.9 1043.7 203.4 1043.6 203 1043.6 202.6 1043.6 202.1 1043.6 201.7 1043.6 201.3 1043.6 200.9 1043.6 200.4 1043.5 200 1043.5 199.6 1043.5 199.1 1043.5 198.7 1043.5 198.3 1043.5 197.9 1043.5 197.4 1043.5 197 1043.5Z" fill="#ff0000" stroke="#ff0000" stroke-width="4.5" stroke-linejoin="round"/>
<path d="M252.3 1010.6h0M221.1 1040.9h0M258.3 1075.9h0M264.5 1045.7h0M242.1 1056.8h0M225.9 1046h0M238.7 1052.1h0M254.7 1077.9h0M264.2 1038.6h0M262 1027.9h0M229.7 1046.8h0M251.5 1012.9h0M261 1064.4h0M236.2 1049.7h0M252.2 1076.1h0M264.2 1038.9h0M261 1022h0M220.2 1045h0M252.2 1011.2h0M247.5 1020.3h0M211.7 1041.9h0M213.3 1044.2h0M212.4 1044.2h0M241.7 1030.3h0M255.6 1007h0M244.4 1026.1h0M259 1012h0M239.7 1032.3h0M256.5 1078.3h0M264.9 1044h0M264.1 1047.5h0M221.4 1045.2h0M251 1071.9h0M261.1 1063.3h0M212.8 1041.8h0M242.1 1056.1h0M247 1021.6h0M260.2 1018.1h0M264.9 1042.1h0M241.2 1055.6h0M253.2 1078.2h0M262.2 1029.3h0M229.5 1046.7h0M258.1 1076.1h0M263.9 1037.4h0M251.5 1074.3h0M202.7 1042.4h0M237.7 1051.3h0M261.3 1023.4h0M250 1070.6h0M264.2 1038.7h0M254.3 1008.6h0M230 1039.2h0M210.7 1044.1h0M213.9 1044.3h0M249 1018.3h0M203.8 1043.6h0M244.2 1059.6h0M262.2 1028.9h0M260.6 1019.9h0M258.9 1074.6h0M233.8 1037.8h0M263.5 1035.6h0M237.2 1050.7h0M247.1 1021.3h0M230 1046.9h0M262.4 1056.3h0M242.9 1057.6h0M250.8 1072.7h0M240.7 1054.9h0M258.6 1010.2h0M245.7 1024.6h0M211.6 1044.1h0M261.8 1059.8h0M207 1043.8h0M264.3 1046.7h0M211.7 1041.9h0M211.3 1041.9h0M240.7 1054.8h0M260.9 1064.5h0M246 1062.8h0M247 1021.8h0M226.9 1039.8h0M263.4 1051h0M206.6 1042.2h0M262.8 1031.8h0M226.3 1039.9h0" stroke="#ff0000" stroke-opacity="0.4" stroke-width="6.4" stroke-linecap="round" fill="none"/>
<path d="M259.3 1072.6h0M261.2 1063.3h0M219.3 1044.8h0M248.5 1019.7h0M255.1 1007.5h0M199.1 1043.5h0M246.7 1022.8h0M216.8 1041.5h0M246.1 1062.7h0M230 1047h0M259 1073.3h0M263.4 1034.7h0M248.6 1067.7h0M205 1042.3h0M208.2 1042.1h0M264.6 1045.1h0M217.4 1044.6h0M262.2 1057.7h0M247.6 1065.1h0M230.1 1047h0M260.9 1065.4h0M198.5 1043.5h0M218.6 1041.3h0M242.2 1029.5h0M230 1039h0M262.9 1053.5h0M232.2 1047.5h0M246.7 1063.3h0M207.8 1043.9h0M200.3 1043.5h0M198.7 1043.5h0M206.9 1042.2h0M233.1 1038.1h0M261 1064.5h0M248.6 1067.6h0M262.1 1058.2h0M210.1 1042h0M259.4 1071.6h0M259 1074.1h0M260.5 1066.7h0M259 1011.9h0M244.7 1025.4h0M263.2 1051.6h0M240.8 1031.1h0M200.5 1043.5h0M205.5 1042.3h0M249 1017.8h0M231.7 1047.4h0M263.6 1049.9h0M197.7 1042.5h0M210.6 1042h0M230.5 1047h0M262.7 1054.7h0M259.9 1015.2h0M247.2 1065.1h0M259.7 1070.6h0M251 1071.8h0M260.3 1068.6h0M250.6 1071.3h0M262.2 1028.7h0M219.6 1041.1h0M251 1073.1h0M198.5 1042.5h0M261.2 1023.1h0M260.1 1016.5h0M207 1043.8h0M251.3 1012h0M239 1052.6h0M263.9 1037.8h0M251.9 1011.2h0M244.9 1025.9h0M264.2 1046.9h0M261.4 1061.5h0M251.7 1011.7h0M260.6 1019.3h0M262.3 1056.7h0M262.5 1030.6h0M246.4 1022.6h0M253.2 1009.5h0M215.5 1041.6h0M264.8 1044.1h0M263.1 1033.8h0M249.3 1017.2h0M206.7 1043.8h0M258.8 1075h0M262.6 1054.8h0M197.1 1042.5h0" stroke="#ff0000" stroke-opacity="0.4" stroke-width="6.4" stroke-linecap="round" fill="none"/>
<path d="M250.3 1071.6h0M198.6 1043.5h0M244.9 1060.4h0M203.5 1042.4h0M203.5 1042.4h0M248.5 1067.5h0M230.7 1047h0M262.9 1032.7h0M244.5 1026.1h0M260.9 1064.9h0M234.7 1037.2h0M203.2 1042.4h0M238.6 1052h0M226.5 1039.8h0M256.1 1077.4h0M262.6 1030.8h0M264.4 1046.3h0M262.3 1029.4h0M220 1044.9h0M211.4 1041.9h0M263.3 1051.5h0M227.1 1039.8h0M250.6 1014.4h0M220.5 1040.9h0M240 1031.9h0M225.2 1045.9h0M262.7 1054.9h0M262.3 1029.6h0M212.7 1041.8h0M231.2 1047.2h0M215.5 1041.6h0M244.9 1060h0M209.5 1042h0M249.6 1069.8h0M252.5 1010.2h0M239.4 1053.3h0M249.7 1068.8h0M226.4 1040h0M241.8 1056.1h0M217.1 1041.4h0M247.3 1065h0M244.5 1026h0M232.9 1047.8h0M263.6 1049.9h0M265 1042.4h0M246.3 1022.9h0M218.3 1041.3h0M251.4 1012.2h0M234.2 1037.5h0M238 1034.5h0M262.2 1029h0M260.4 1067h0M206.5 1042.2h0M243.5 1027.4h0M230.8 1038.9h0M261.9 1059h0M264.7 1044.8h0M208.2 1042.1h0M262.5 1055.3h0M203.6 1042.4h0M227.3 1046.2h0M252.5 1075.2h0M219.2 1041.2h0M249 1017.5h0M254.6 1077.7h0M244.3 1059.6h0M203.1 1043.6h0M250.6 1071.7h0M235.1 1048.9h0M262.5 1030.5h0M261.1 1023.1h0M229.2 1046.8h0M230.8 1038.9h0M246.9 1022.4h0M204.6 1043.7h0M231.5 1047.5h0M245.4 1061.6h0M225.2 1040.2h0M263.1 1033.6h0M245.2 1061.2h0M207 1042.2h0M240 1032.2h0M233.3 1048.1h0M220.7 1045.1h0M230.4 1039.1h0M263.6 1036.1h0" stroke="#ff0000" stroke-opacity="0.4" stroke-width="6.4" stroke-linecap="round" fill="none"/>
<path d="M197 1042.5 197.4 1042.5 197.9 1042.5 198.3 1042.5 198.7 1042.5 199.1 1042.5 199.6 1042.5 200 1042.5 200.4 1042.5 200.9 1042.4 201.3 1042.4 201.7 1042.4 202.1 1042.4 202.6 1042.4 203 1042.4 203.4 1042.4 203.9 1042.3 204.3 1042.3 204.7 1042.3 205.1 1042.3 205.6 1042.3 206 1042.2 206.4 1042.2 206.9 1042.2 207.3 1042.2 207.7 1042.1 208.1 1042.1 208.6 1042.1 209 1042 209.4 1042 209.8 1042 210.3 1042 210.7 1041.9 211.1 1041.9 211.6 1041.9 212 1041.8 212.4 1041.8 212.8 1041.8 213.3 1041.7 213.7 1041.7 214.1 1041.7 214.6 1041.6 215 1041.6 215.4 1041.6 215.8 1041.5 216.3 1041.5 216.7 1041.4 217.1 1041.4 217.6 1041.3 218 1041.3 218.4 1041.2 218.8 1041.2 219.3 1041.1 219.7 1041 220.1 1041 220.6 1040.9 221 1040.8 221.4 1040.8 221.8 1040.7 222.3 1040.6 222.7 1040.5 223.1 1040.5 223.6 1040.4 224 1040.3 224.4 1040.2 224.8 1040.1 225.3 1040.1 225.7 1040 226.1 1039.9 226.6 1039.8 227 1039.7 227.4 1039.6 227.8 1039.5 228.3 1039.4 228.7 1039.3 229.1 1039.2 229.6 1039.1 230 1039 230.4 1038.9 230.8 1038.7 231.3 1038.6 231.7 1038.4 232.1 1038.3 232.5 1038.1 233 1037.9 233.4 1037.7 233.8 1037.5 234.3 1037.2 234.7 1037 235.1 1036.7 235.5 1036.4 236 1036 236.4 1035.7 236.8 1035.4 237.3 1035 237.7 1034.6 238.1 1034.1 238.5 1033.6 239 1033.1 239.4 1032.6 239.8 1032.1 240.3 1031.5 240.7 1031 241.1 1030.5 241.5 1029.9 242 1029.4 242.4 1028.8 242.8 1028.2 243.3 1027.6 243.7 1027 244.1 1026.3 244.5 1025.7 245 1025 245.4 1024.2 245.8 1023.4 246.3 1022.6 246.7 1021.8 247.1 1021 247.5 1020.1 248 1019.3 248.4 1018.4 248.8 1017.5 249.3 1016.6 249.7 1015.7 250.1 1014.7 250.5 1013.8 251 1012.8 251.4 1011.7 251.8 1010.5 252.3 1009.3 252.7 1008.3 253.1 1007.7 253.5 1007.3 254 1006.9 254.4 1006.7 254.8 1006.5 255.2 1006.4 255.7 1006.5 256.1 1006.6 256.5 1006.8 257 1007.1 257.4 1007.5 257.8 1008.1 258.2 1009 258.7 1010.2 259.1 1011.7 259.5 1013.3 260 1015.2 260.4 1017.6 260.8 1020.1 261.2 1022.7 261.7 1025.3 262.1 1028 262.5 1030.4 263 1032.7 263.4 1034.8 263.8 1036.9 264.2 1039 264.7 1041 265.1 1043 265.1 1043 264.7 1045 264.2 1047 263.8 1049.1 263.4 1051.2 263 1053.3 262.5 1055.6 262.1 1058 261.7 1060.7 261.2 1063.3 260.8 1065.9 260.4 1068.4 260 1070.8 259.5 1072.7 259.1 1074.3 258.7 1075.8 258.2 1077 257.8 1077.9 257.4 1078.5 257 1078.9 256.5 1079.2 256.1 1079.4 255.7 1079.5 255.2 1079.6 254.8 1079.5 254.4 1079.3 254 1079.1 253.5 1078.7 253.1 1078.3 252.7 1077.7 252.3 1076.7 251.8 1075.5 251.4 1074.3 251 1073.2 250.5 1072.2 250.1 1071.3 249.7 1070.3 249.3 1069.4 248.8 1068.5 248.4 1067.6 248 1066.7 247.5 1065.9 247.1 1065 246.7 1064.2 246.3 1063.4 245.8 1062.6 245.4 1061.8 245 1061 244.5 1060.3 244.1 1059.7 243.7 1059 243.3 1058.4 242.8 1057.8 242.4 1057.2 242 1056.6 241.5 1056.1 241.1 1055.5 240.7 1055 240.3 1054.5 239.8 1053.9 239.4 1053.4 239 1052.9 238.5 1052.4 238.1 1051.9 237.7 1051.4 237.3 1051 236.8 1050.6 236.4 1050.3 236 1050 235.5 1049.6 235.1 1049.3 234.7 1049 234.3 1048.8 233.8 1048.5 233.4 1048.3 233 1048.1 232.5 1047.9 232.1 1047.7 231.7 1047.6 231.3 1047.4 230.8 1047.3 230.4 1047.1 230 1047 229.6 1046.9 229.1 1046.8 228.7 1046.7 228.3 1046.6 227.8 1046.5 227.4 1046.4 227 1046.3 226.6 1046.2 226.1 1046.1 225.7 1046 225.3 1045.9 224.8 1045.9 224.4 1045.8 224 1045.7 223.6 1045.6 223.1 1045.5 222.7 1045.5 222.3 1045.4 221.8 1045.3 221.4 1045.2 221 1045.2 220.6 1045.1 220.1 1045 219.7 1045 219.3 1044.9 218.8 1044.8 218.4 1044.8 218 1044.7 217.6 1044.7 217.1 1044.6 216.7 1044.6 216.3 1044.5 215.8 1044.5 215.4 1044.4 215 1044.4 214.6 1044.4 214.1 1044.3 213.7 1044.3 213.3 1044.3 212.8 1044.2 212.4 1044.2 212 1044.2 211.6 1044.1 211.1 1044.1 210.7 1044.1 210.3 1044 209.8 1044 209.4 1044 209 1044 208.6 1043.9 208.1 1043.9 207.7 1043.9 207.3 1043.8 206.9 1043.8 206.4 1043.8 206 1043.8 205.6 1043.7 205.1 1043.7 204.7 1043.7 204.3 1043.7 203.9 1043.7 203.4 1043.6 203 1043.6 202.6 1043.6 202.1 1043.6 201.7 1043.6 201.3 1043.6 200.9 1043.6 200.4 1043.5 200 1043.5 199.6 1043.5 199.1 1043.5 198.7 1043.5 198.3 1043.5 197.9 1043.5 197.4 1043.5 197 1043.5Z" fill="none" stroke="#d48484" stroke-width="0.8" stroke-linejoin="round"/>
<line x1="34" y1="1043" x2="266" y2="1043" stroke="#6c6c6c" stroke-width="0.65"/>
<rect x="242" y="1041.5" width="14" height="3" fill="#808080"/>
<circle cx="251.2" cy="1043" r="3.3" fill="#fff" stroke="#808080" stroke-width="0.5"/>
<path d="M17.5 902.3H290.8" fill="none" stroke="#b4b4b4" stroke-width="1.2"/>
<path d="M290 902.3V654.3" fill="none" stroke="#cdcdcd" stroke-width="1.4"/>
<path d="M290.1 902.3v-3M256.1 902.3v-3M222.1 902.3v-3M188.1 902.3v-3M154.1 902.3v-3M120.1 902.3v-3M86.2 902.3v-3M52.2 902.3v-3M18.1 902.3v-3M290.1 840.3h-3M290.1 716.3h-3" fill="none" stroke="#a6a6a6" stroke-width="1"/>
<text transform="translate(294.4,907.2) rotate(-90)" text-anchor="end" font-size="11.0">0</text>
<text transform="translate(260.4,907.2) rotate(-90)" text-anchor="end" font-size="11.0">0.05</text>
<text transform="translate(226.4,907.2) rotate(-90)" text-anchor="end" font-size="11.0">0.1</text>
<text transform="translate(192.4,907.2) rotate(-90)" text-anchor="end" font-size="11.0">0.15</text>
<text transform="translate(158.4,907.2) rotate(-90)" text-anchor="end" font-size="11.0">0.2</text>
<text transform="translate(124.4,907.2) rotate(-90)" text-anchor="end" font-size="11.0">0.25</text>
<text transform="translate(90.5,907.2) rotate(-90)" text-anchor="end" font-size="11.0">0.3</text>
<text transform="translate(56.5,907.2) rotate(-90)" text-anchor="end" font-size="11.0">0.35</text>
<text transform="translate(22.4,907.2) rotate(-90)" text-anchor="end" font-size="11.0">0.4</text>
<text transform="translate(305.2,840.3) rotate(-90)" text-anchor="middle" font-size="11.0">POST</text>
<text transform="translate(305.2,716.3) rotate(-90)" text-anchor="middle" font-size="11.0">PRE Resected</text>
<text transform="translate(154.7,938.4) rotate(180)" text-anchor="middle" font-size="12.1">PAC per channel</text>
<text transform="translate(12.3,778) rotate(-90)" text-anchor="middle" font-size="13.8" font-weight="bold" fill="#000">PAC</text>
<path d="M32.3 778.3h16.4 M40.5 770.1v16.4 M34.7 772.5l11.6 11.6 M34.7 784.1l11.6 -11.6" stroke="#7E2F8E" stroke-width="0.55" stroke-opacity="0.85" fill="none"/>
<g fill="#0000ff" fill-opacity="0.3"><circle cx="229" cy="840.3" r="3.2"/><circle cx="232" cy="840.3" r="3.2"/><circle cx="237" cy="840.3" r="3.2"/><circle cx="241" cy="840.2" r="3.2"/><circle cx="242" cy="840.2" r="3.2"/><circle cx="243.4" cy="840" r="3.2"/><circle cx="245.8" cy="840.8" r="3.2"/><circle cx="244.8" cy="839.8" r="3.2"/><circle cx="241.4" cy="839.9" r="3.2"/></g>
<path d="M239.2 839.9 239.5 839.9 239.7 839.9 240 839.9 240.2 839.9 240.5 839.9 240.7 839.9 241 839.9 241.2 839.9 241.5 839.9 241.7 839.9 242 839.9 242.2 839.8 242.5 839.8 242.8 839.8 243 839.8 243.3 839.8 243.5 839.8 243.8 839.8 244 839.8 244.3 839.7 244.5 839.7 244.8 839.7 245 839.7 245.3 839.7 245.6 839.7 245.8 839.7 246.1 839.6 246.3 839.6 246.6 839.6 246.8 839.6 247.1 839.6 247.3 839.5 247.6 839.5 247.8 839.5 248.1 839.5 248.3 839.4 248.6 839.4 248.9 839.4 249.1 839.4 249.4 839.3 249.6 839.3 249.9 839.3 250.1 839.3 250.4 839.2 250.6 839.2 250.9 839.2 251.1 839.1 251.4 839.1 251.7 839 251.9 839 252.2 838.9 252.4 838.8 252.7 838.7 252.9 838.7 253.2 838.6 253.4 838.5 253.7 838.4 253.9 838.3 254.2 838.2 254.4 838.1 254.7 838 255 837.9 255.2 837.7 255.5 837.6 255.7 837.4 256 837.3 256.2 837.1 256.5 836.9 256.7 836.7 257 836.5 257.2 836.3 257.5 836 257.7 835.7 258 835.4 258.3 835 258.5 834.6 258.8 834.1 259 833.7 259.3 833.3 259.5 832.8 259.8 832.3 260 831.8 260.3 831.3 260.5 830.8 260.8 830.2 261.1 829.6 261.3 828.9 261.6 828.2 261.8 827.5 262.1 826.7 262.3 825.9 262.6 825.1 262.8 824.2 263.1 823.4 263.3 822.6 263.6 821.7 263.8 820.8 264.1 819.9 264.4 818.9 264.6 817.9 264.9 817 265.1 816 265.4 815 265.6 814.1 265.9 813.2 266.1 812.3 266.4 811.4 266.6 810.5 266.9 809.6 267.1 808.7 267.4 807.8 267.7 807 267.9 806.2 268.2 805.5 268.4 804.8 268.7 804.2 268.9 803.7 269.2 803.3 269.4 803.1 269.7 803 269.9 803.3 270.2 803.6 270.5 804 270.7 804.6 271 805.3 271.2 806 271.5 806.9 271.7 807.8 272 808.9 272.2 809.9 272.5 811 272.7 812.1 273 813.2 273.2 814.5 273.5 815.7 273.8 817 274 818.3 274.3 819.6 274.5 821 274.8 822.4 275 823.8 275.3 825.2 275.5 826.5 275.8 827.9 276 829.3 276.3 830.6 276.6 831.8 276.8 832.8 277.1 833.8 277.3 834.8 277.6 835.6 277.8 836.4 278.1 837.1 278.3 837.8 278.6 838.4 278.8 839 279.1 839.5 279.3 839.9 279.6 840.3 279.6 840.3 279.3 840.7 279.1 841.1 278.8 841.6 278.6 842.2 278.3 842.8 278.1 843.5 277.8 844.2 277.6 845 277.3 845.8 277.1 846.8 276.8 847.8 276.6 848.8 276.3 850 276 851.3 275.8 852.7 275.5 854.1 275.3 855.4 275 856.8 274.8 858.2 274.5 859.6 274.3 861 274 862.3 273.8 863.6 273.5 864.9 273.2 866.1 273 867.4 272.7 868.5 272.5 869.6 272.2 870.7 272 871.7 271.7 872.8 271.5 873.7 271.2 874.6 271 875.3 270.7 876 270.5 876.6 270.2 877 269.9 877.3 269.7 877.6 269.4 877.5 269.2 877.3 268.9 876.9 268.7 876.4 268.4 875.8 268.2 875.1 267.9 874.4 267.7 873.6 267.4 872.8 267.1 871.9 266.9 871 266.6 870.1 266.4 869.2 266.1 868.3 265.9 867.4 265.6 866.5 265.4 865.6 265.1 864.6 264.9 863.6 264.6 862.7 264.4 861.7 264.1 860.7 263.8 859.8 263.6 858.9 263.3 858 263.1 857.2 262.8 856.4 262.6 855.5 262.3 854.7 262.1 853.9 261.8 853.1 261.6 852.4 261.3 851.7 261.1 851 260.8 850.4 260.5 849.8 260.3 849.3 260 848.8 259.8 848.3 259.5 847.8 259.3 847.3 259 846.9 258.8 846.5 258.5 846 258.3 845.6 258 845.2 257.7 844.9 257.5 844.6 257.2 844.3 257 844.1 256.7 843.9 256.5 843.7 256.2 843.5 256 843.3 255.7 843.2 255.5 843 255.2 842.9 255 842.7 254.7 842.6 254.4 842.5 254.2 842.4 253.9 842.3 253.7 842.2 253.4 842.1 253.2 842 252.9 841.9 252.7 841.9 252.4 841.8 252.2 841.7 251.9 841.6 251.7 841.6 251.4 841.5 251.1 841.5 250.9 841.4 250.6 841.4 250.4 841.4 250.1 841.3 249.9 841.3 249.6 841.3 249.4 841.3 249.1 841.2 248.9 841.2 248.6 841.2 248.3 841.2 248.1 841.1 247.8 841.1 247.6 841.1 247.3 841.1 247.1 841 246.8 841 246.6 841 246.3 841 246.1 841 245.8 840.9 245.6 840.9 245.3 840.9 245 840.9 244.8 840.9 244.5 840.9 244.3 840.9 244 840.8 243.8 840.8 243.5 840.8 243.3 840.8 243 840.8 242.8 840.8 242.5 840.8 242.2 840.8 242 840.7 241.7 840.7 241.5 840.7 241.2 840.7 241 840.7 240.7 840.7 240.5 840.7 240.2 840.7 240 840.7 239.7 840.7 239.5 840.7 239.2 840.7Z" fill="#0000ff" stroke="#0000ff" stroke-width="5.9" stroke-opacity="0.35" stroke-linejoin="round"/>
<path d="M239.2 839.9 239.5 839.9 239.7 839.9 240 839.9 240.2 839.9 240.5 839.9 240.7 839.9 241 839.9 241.2 839.9 241.5 839.9 241.7 839.9 242 839.9 242.2 839.8 242.5 839.8 242.8 839.8 243 839.8 243.3 839.8 243.5 839.8 243.8 839.8 244 839.8 244.3 839.7 244.5 839.7 244.8 839.7 245 839.7 245.3 839.7 245.6 839.7 245.8 839.7 246.1 839.6 246.3 839.6 246.6 839.6 246.8 839.6 247.1 839.6 247.3 839.5 247.6 839.5 247.8 839.5 248.1 839.5 248.3 839.4 248.6 839.4 248.9 839.4 249.1 839.4 249.4 839.3 249.6 839.3 249.9 839.3 250.1 839.3 250.4 839.2 250.6 839.2 250.9 839.2 251.1 839.1 251.4 839.1 251.7 839 251.9 839 252.2 838.9 252.4 838.8 252.7 838.7 252.9 838.7 253.2 838.6 253.4 838.5 253.7 838.4 253.9 838.3 254.2 838.2 254.4 838.1 254.7 838 255 837.9 255.2 837.7 255.5 837.6 255.7 837.4 256 837.3 256.2 837.1 256.5 836.9 256.7 836.7 257 836.5 257.2 836.3 257.5 836 257.7 835.7 258 835.4 258.3 835 258.5 834.6 258.8 834.1 259 833.7 259.3 833.3 259.5 832.8 259.8 832.3 260 831.8 260.3 831.3 260.5 830.8 260.8 830.2 261.1 829.6 261.3 828.9 261.6 828.2 261.8 827.5 262.1 826.7 262.3 825.9 262.6 825.1 262.8 824.2 263.1 823.4 263.3 822.6 263.6 821.7 263.8 820.8 264.1 819.9 264.4 818.9 264.6 817.9 264.9 817 265.1 816 265.4 815 265.6 814.1 265.9 813.2 266.1 812.3 266.4 811.4 266.6 810.5 266.9 809.6 267.1 808.7 267.4 807.8 267.7 807 267.9 806.2 268.2 805.5 268.4 804.8 268.7 804.2 268.9 803.7 269.2 803.3 269.4 803.1 269.7 803 269.9 803.3 270.2 803.6 270.5 804 270.7 804.6 271 805.3 271.2 806 271.5 806.9 271.7 807.8 272 808.9 272.2 809.9 272.5 811 272.7 812.1 273 813.2 273.2 814.5 273.5 815.7 273.8 817 274 818.3 274.3 819.6 274.5 821 274.8 822.4 275 823.8 275.3 825.2 275.5 826.5 275.8 827.9 276 829.3 276.3 830.6 276.6 831.8 276.8 832.8 277.1 833.8 277.3 834.8 277.6 835.6 277.8 836.4 278.1 837.1 278.3 837.8 278.6 838.4 278.8 839 279.1 839.5 279.3 839.9 279.6 840.3 279.6 840.3 279.3 840.7 279.1 841.1 278.8 841.6 278.6 842.2 278.3 842.8 278.1 843.5 277.8 844.2 277.6 845 277.3 845.8 277.1 846.8 276.8 847.8 276.6 848.8 276.3 850 276 851.3 275.8 852.7 275.5 854.1 275.3 855.4 275 856.8 274.8 858.2 274.5 859.6 274.3 861 274 862.3 273.8 863.6 273.5 864.9 273.2 866.1 273 867.4 272.7 868.5 272.5 869.6 272.2 870.7 272 871.7 271.7 872.8 271.5 873.7 271.2 874.6 271 875.3 270.7 876 270.5 876.6 270.2 877 269.9 877.3 269.7 877.6 269.4 877.5 269.2 877.3 268.9 876.9 268.7 876.4 268.4 875.8 268.2 875.1 267.9 874.4 267.7 873.6 267.4 872.8 267.1 871.9 266.9 871 266.6 870.1 266.4 869.2 266.1 868.3 265.9 867.4 265.6 866.5 265.4 865.6 265.1 864.6 264.9 863.6 264.6 862.7 264.4 861.7 264.1 860.7 263.8 859.8 263.6 858.9 263.3 858 263.1 857.2 262.8 856.4 262.6 855.5 262.3 854.7 262.1 853.9 261.8 853.1 261.6 852.4 261.3 851.7 261.1 851 260.8 850.4 260.5 849.8 260.3 849.3 260 848.8 259.8 848.3 259.5 847.8 259.3 847.3 259 846.9 258.8 846.5 258.5 846 258.3 845.6 258 845.2 257.7 844.9 257.5 844.6 257.2 844.3 257 844.1 256.7 843.9 256.5 843.7 256.2 843.5 256 843.3 255.7 843.2 255.5 843 255.2 842.9 255 842.7 254.7 842.6 254.4 842.5 254.2 842.4 253.9 842.3 253.7 842.2 253.4 842.1 253.2 842 252.9 841.9 252.7 841.9 252.4 841.8 252.2 841.7 251.9 841.6 251.7 841.6 251.4 841.5 251.1 841.5 250.9 841.4 250.6 841.4 250.4 841.4 250.1 841.3 249.9 841.3 249.6 841.3 249.4 841.3 249.1 841.2 248.9 841.2 248.6 841.2 248.3 841.2 248.1 841.1 247.8 841.1 247.6 841.1 247.3 841.1 247.1 841 246.8 841 246.6 841 246.3 841 246.1 841 245.8 840.9 245.6 840.9 245.3 840.9 245 840.9 244.8 840.9 244.5 840.9 244.3 840.9 244 840.8 243.8 840.8 243.5 840.8 243.3 840.8 243 840.8 242.8 840.8 242.5 840.8 242.2 840.8 242 840.7 241.7 840.7 241.5 840.7 241.2 840.7 241 840.7 240.7 840.7 240.5 840.7 240.2 840.7 240 840.7 239.7 840.7 239.5 840.7 239.2 840.7Z" fill="#0000ff" stroke="#0000ff" stroke-width="4.5" stroke-linejoin="round"/>
<path d="M272.2 811.1h0M277.3 845.7h0M247.7 841.1h0M264.1 820.6h0M276.6 848.4h0M242.2 840.7h0M278 843.5h0M257.4 844.5h0M246.3 841h0M263.5 822h0M262.3 854.1h0M271.2 872.7h0M277.5 835.7h0M275.9 851.8h0M268.7 874.8h0M262.8 825h0M262.8 856.1h0M265.7 865.9h0M261.4 851.4h0M277.1 846.2h0M270.2 803.7h0M261.8 827.6h0M261.3 851.4h0M276.3 830.7h0M266.5 812.7h0M278.2 837.5h0M277.6 835.7h0M249.8 841.3h0M275.4 826.4h0M278.6 838.5h0M258 845h0M273.4 865.2h0M277.5 835.4h0M275.3 825.5h0M262.5 825.5h0M263.2 823.5h0M265.9 866h0M273.9 818.7h0M267.6 872.7h0M249.5 841.3h0M242.7 839.8h0M250.9 839.2h0M273.2 815.1h0M243.8 840.8h0M276.7 832.6h0M276 851.3h0M262.6 854.8h0M262.5 825.6h0M264.9 863.2h0M263.3 823.8h0M270.4 875.8h0M276.4 848.9h0M272.7 868.1h0M266.7 868.7h0M275 856.4h0M247.5 839.5h0M276.9 833.2h0M264 859.4h0M276.6 832.3h0M277 846.7h0M265.8 814.7h0M265.9 866.6h0M261.3 851.3h0M260.6 849.4h0M261.7 828.3h0M276.1 830h0M273.8 818.5h0M274.4 820.3h0M276.8 833.1h0M274.2 819.1h0M266.6 810.9h0M273.8 863.2h0M274.8 823.1h0M266.8 869.4h0M255.4 837.6h0M254.2 842.3h0M266 866.8h0M278.5 838.3h0M276.5 831.6h0M261.1 850.9h0M270.5 875.2h0M261.9 853.3h0M259.2 846.8h0M277.6 844.7h0M269 875.2h0M263.9 859.6h0M250.6 839.2h0" stroke="#0000ff" stroke-opacity="0.4" stroke-width="6.4" stroke-linecap="round" fill="none"/>
<path d="M270 803.5h0M264.5 861.1h0M276.3 849.4h0M276.2 830.8h0M275.2 855h0M265.5 814.6h0M240 840.7h0M240.5 840.7h0M276.5 831.7h0M275.5 826.6h0M275.6 827.1h0M263 824.2h0M262.9 824.3h0M272.2 811.8h0M261.8 852.9h0M256.9 836.6h0M279.1 839.5h0M278.4 838h0M275.1 855.8h0M275.3 826.3h0M268.3 874.4h0M263.9 858.9h0M255.3 842.9h0M263.3 857.6h0M261 830.4h0M262.8 855.9h0M261.5 828.8h0M273.6 863.3h0M278.5 842.3h0M260.9 850h0M247 839.6h0M274.4 820.8h0M259.6 847.5h0M276.4 849.2h0M265.8 865.5h0M274.8 857.6h0M276.4 849h0M271.7 872.2h0M270.7 875.6h0M279.2 840.9h0M277.5 835.7h0M275.1 825.1h0M275.2 855h0M275.1 824.7h0M260.6 849.6h0M263.1 823.3h0M239.7 839.9h0M249.3 841.2h0M268.7 804.6h0M274 819.2h0M264.8 863.1h0M260.4 831.5h0M247.3 841.1h0M259.5 847.6h0M271.5 872.8h0M267.4 872.4h0M271.7 871.8h0M268.9 876.4h0M275.2 825h0M245.4 840.9h0M273.9 862.5h0M275.2 855.4h0M266.4 868.2h0M275.1 855.9h0M268.2 873.8h0M276.1 850.4h0M271.6 808h0M276.5 831.7h0M251.1 841.4h0M261.7 852.2h0M252.7 841.9h0M252.7 838.8h0M276.8 832.8h0M263.5 857.7h0M266.6 868.5h0M263.8 822h0M272.9 813.5h0M276.2 830.4h0M265.3 865.4h0M267.4 871.6h0M266.9 810.8h0M275.3 855.1h0M255.5 843h0M241.4 839.9h0M273 866.2h0M258.3 835h0M245.3 839.7h0" stroke="#0000ff" stroke-opacity="0.4" stroke-width="6.4" stroke-linecap="round" fill="none"/>
<path d="M260.9 850.3h0M270.3 876.6h0M248.8 839.4h0M277.6 845h0M259 834.1h0M245.1 840.9h0M262.3 854.5h0M266.7 810.4h0M272.7 813.4h0M274.7 822.2h0M277.2 834.3h0M276.5 848.8h0M247.3 839.6h0M258.9 846.7h0M276.9 833.5h0M243.2 839.8h0M258.2 845.5h0M239.8 839.9h0M248.1 839.5h0M252.5 838.8h0M272.9 812.9h0M259.3 847.1h0M276.6 848.3h0M272.8 814.2h0M263 824.6h0M269.2 875.9h0M274.9 823.2h0M274.9 857.3h0M273.2 865.1h0M267.3 871.1h0M265.2 864.9h0M240.8 839.9h0M261.3 851.7h0M273.7 863.8h0M275.3 854.4h0M274.5 859.6h0M263.9 820.7h0M262.5 854.6h0M267.7 873.7h0M278.2 837.7h0M267.6 872.9h0M265.1 817.6h0M267.7 872h0M272.9 813.7h0M274.5 859.1h0M264.5 819.3h0M258.9 834h0M274.2 820.4h0M261.1 850.7h0M266 866.2h0M268.3 806.9h0M267.2 871.4h0M278.1 843.3h0M274.1 819.8h0M276.8 833.2h0M273.8 863.1h0M270.6 804.6h0M268.2 806.2h0M273.7 817.2h0M274.3 859.9h0M261.5 829.1h0M242.5 839.8h0M275.6 852.9h0M259.5 847.3h0M272 870h0M259.7 832.8h0M263.9 859.5h0M266.2 813.6h0M254.5 838.1h0M269.7 804.1h0M274 861.4h0M260.1 848.9h0M276 829.3h0M265.4 815.5h0M258.9 846.2h0M245.2 840.9h0M271.9 809.4h0M271.5 808h0M274.7 822.7h0M278.7 838.7h0M274.5 858.7h0M240.9 839.9h0M260 848.8h0M261.5 851.9h0M274.3 821h0M275.6 852.9h0" stroke="#0000ff" stroke-opacity="0.4" stroke-width="6.4" stroke-linecap="round" fill="none"/>
<path d="M239.2 839.9 239.5 839.9 239.7 839.9 240 839.9 240.2 839.9 240.5 839.9 240.7 839.9 241 839.9 241.2 839.9 241.5 839.9 241.7 839.9 242 839.9 242.2 839.8 242.5 839.8 242.8 839.8 243 839.8 243.3 839.8 243.5 839.8 243.8 839.8 244 839.8 244.3 839.7 244.5 839.7 244.8 839.7 245 839.7 245.3 839.7 245.6 839.7 245.8 839.7 246.1 839.6 246.3 839.6 246.6 839.6 246.8 839.6 247.1 839.6 247.3 839.5 247.6 839.5 247.8 839.5 248.1 839.5 248.3 839.4 248.6 839.4 248.9 839.4 249.1 839.4 249.4 839.3 249.6 839.3 249.9 839.3 250.1 839.3 250.4 839.2 250.6 839.2 250.9 839.2 251.1 839.1 251.4 839.1 251.7 839 251.9 839 252.2 838.9 252.4 838.8 252.7 838.7 252.9 838.7 253.2 838.6 253.4 838.5 253.7 838.4 253.9 838.3 254.2 838.2 254.4 838.1 254.7 838 255 837.9 255.2 837.7 255.5 837.6 255.7 837.4 256 837.3 256.2 837.1 256.5 836.9 256.7 836.7 257 836.5 257.2 836.3 257.5 836 257.7 835.7 258 835.4 258.3 835 258.5 834.6 258.8 834.1 259 833.7 259.3 833.3 259.5 832.8 259.8 832.3 260 831.8 260.3 831.3 260.5 830.8 260.8 830.2 261.1 829.6 261.3 828.9 261.6 828.2 261.8 827.5 262.1 826.7 262.3 825.9 262.6 825.1 262.8 824.2 263.1 823.4 263.3 822.6 263.6 821.7 263.8 820.8 264.1 819.9 264.4 818.9 264.6 817.9 264.9 817 265.1 816 265.4 815 265.6 814.1 265.9 813.2 266.1 812.3 266.4 811.4 266.6 810.5 266.9 809.6 267.1 808.7 267.4 807.8 267.7 807 267.9 806.2 268.2 805.5 268.4 804.8 268.7 804.2 268.9 803.7 269.2 803.3 269.4 803.1 269.7 803 269.9 803.3 270.2 803.6 270.5 804 270.7 804.6 271 805.3 271.2 806 271.5 806.9 271.7 807.8 272 808.9 272.2 809.9 272.5 811 272.7 812.1 273 813.2 273.2 814.5 273.5 815.7 273.8 817 274 818.3 274.3 819.6 274.5 821 274.8 822.4 275 823.8 275.3 825.2 275.5 826.5 275.8 827.9 276 829.3 276.3 830.6 276.6 831.8 276.8 832.8 277.1 833.8 277.3 834.8 277.6 835.6 277.8 836.4 278.1 837.1 278.3 837.8 278.6 838.4 278.8 839 279.1 839.5 279.3 839.9 279.6 840.3 279.6 840.3 279.3 840.7 279.1 841.1 278.8 841.6 278.6 842.2 278.3 842.8 278.1 843.5 277.8 844.2 277.6 845 277.3 845.8 277.1 846.8 276.8 847.8 276.6 848.8 276.3 850 276 851.3 275.8 852.7 275.5 854.1 275.3 855.4 275 856.8 274.8 858.2 274.5 859.6 274.3 861 274 862.3 273.8 863.6 273.5 864.9 273.2 866.1 273 867.4 272.7 868.5 272.5 869.6 272.2 870.7 272 871.7 271.7 872.8 271.5 873.7 271.2 874.6 271 875.3 270.7 876 270.5 876.6 270.2 877 269.9 877.3 269.7 877.6 269.4 877.5 269.2 877.3 268.9 876.9 268.7 876.4 268.4 875.8 268.2 875.1 267.9 874.4 267.7 873.6 267.4 872.8 267.1 871.9 266.9 871 266.6 870.1 266.4 869.2 266.1 868.3 265.9 867.4 265.6 866.5 265.4 865.6 265.1 864.6 264.9 863.6 264.6 862.7 264.4 861.7 264.1 860.7 263.8 859.8 263.6 858.9 263.3 858 263.1 857.2 262.8 856.4 262.6 855.5 262.3 854.7 262.1 853.9 261.8 853.1 261.6 852.4 261.3 851.7 261.1 851 260.8 850.4 260.5 849.8 260.3 849.3 260 848.8 259.8 848.3 259.5 847.8 259.3 847.3 259 846.9 258.8 846.5 258.5 846 258.3 845.6 258 845.2 257.7 844.9 257.5 844.6 257.2 844.3 257 844.1 256.7 843.9 256.5 843.7 256.2 843.5 256 843.3 255.7 843.2 255.5 843 255.2 842.9 255 842.7 254.7 842.6 254.4 842.5 254.2 842.4 253.9 842.3 253.7 842.2 253.4 842.1 253.2 842 252.9 841.9 252.7 841.9 252.4 841.8 252.2 841.7 251.9 841.6 251.7 841.6 251.4 841.5 251.1 841.5 250.9 841.4 250.6 841.4 250.4 841.4 250.1 841.3 249.9 841.3 249.6 841.3 249.4 841.3 249.1 841.2 248.9 841.2 248.6 841.2 248.3 841.2 248.1 841.1 247.8 841.1 247.6 841.1 247.3 841.1 247.1 841 246.8 841 246.6 841 246.3 841 246.1 841 245.8 840.9 245.6 840.9 245.3 840.9 245 840.9 244.8 840.9 244.5 840.9 244.3 840.9 244 840.8 243.8 840.8 243.5 840.8 243.3 840.8 243 840.8 242.8 840.8 242.5 840.8 242.2 840.8 242 840.7 241.7 840.7 241.5 840.7 241.2 840.7 241 840.7 240.7 840.7 240.5 840.7 240.2 840.7 240 840.7 239.7 840.7 239.5 840.7 239.2 840.7Z" fill="none" stroke="#7474cc" stroke-width="0.8" stroke-linejoin="round"/>
<line x1="229" y1="840.3" x2="279.4" y2="840.3" stroke="#8a8a8a" stroke-width="0.6"/>
<circle cx="268.6" cy="840.3" r="3.3" fill="#fff" stroke="#808080" stroke-width="0.5"/>
<g fill="#ff0000" fill-opacity="0.3"><circle cx="40.6" cy="716.3" r="3.2"/><circle cx="79.2" cy="716.3" r="3.2"/><circle cx="79.6" cy="716.3" r="3.2"/><circle cx="92" cy="716.3" r="3.2"/><circle cx="92.5" cy="716.3" r="3.2"/><circle cx="100" cy="716.3" r="3.2"/><circle cx="108" cy="716.3" r="3.2"/><circle cx="109" cy="716.3" r="3.2"/><circle cx="110.4" cy="716.3" r="3.2"/><circle cx="118.6" cy="716.3" r="3.2"/><circle cx="124" cy="716.3" r="3.2"/><circle cx="132" cy="716.3" r="3.2"/><circle cx="135" cy="716.3" r="3.2"/><circle cx="138" cy="716.3" r="3.2"/><circle cx="141" cy="716.3" r="3.2"/><circle cx="143" cy="716.3" r="3.2"/><circle cx="150" cy="716.3" r="3.2"/><circle cx="152" cy="716.3" r="3.2"/><circle cx="156" cy="716.3" r="3.2"/><circle cx="164.3" cy="717.1" r="3.2"/><circle cx="176.9" cy="717.1" r="3.2"/><circle cx="179.5" cy="716.6" r="3.2"/><circle cx="168.9" cy="716.2" r="3.2"/><circle cx="184.7" cy="716.7" r="3.2"/><circle cx="174.7" cy="715.8" r="3.2"/><circle cx="178.2" cy="716.6" r="3.2"/><circle cx="157.6" cy="716.7" r="3.2"/><circle cx="160.2" cy="716.4" r="3.2"/><circle cx="176.9" cy="715.8" r="3.2"/><circle cx="183.4" cy="715.3" r="3.2"/><circle cx="174.6" cy="715.7" r="3.2"/><circle cx="182.6" cy="717" r="3.2"/><circle cx="158.7" cy="715.7" r="3.2"/><circle cx="181.6" cy="715.5" r="3.2"/><circle cx="185.4" cy="717.2" r="3.2"/><circle cx="191.4" cy="716.9" r="3.2"/><circle cx="192.9" cy="716.9" r="3.2"/><circle cx="199.3" cy="717.5" r="3.2"/><circle cx="198.8" cy="716.4" r="3.2"/><circle cx="201.3" cy="715.5" r="3.2"/><circle cx="199.5" cy="716.6" r="3.2"/><circle cx="189.9" cy="715.8" r="3.2"/><circle cx="183.1" cy="716.3" r="3.2"/><circle cx="201" cy="716.2" r="3.2"/><circle cx="185" cy="716.5" r="3.2"/><circle cx="193.7" cy="717.3" r="3.2"/><circle cx="185.8" cy="717" r="3.2"/><circle cx="198" cy="716.1" r="3.2"/><circle cx="184.4" cy="717.1" r="3.2"/><circle cx="189.3" cy="717.2" r="3.2"/><circle cx="184.8" cy="717" r="3.2"/><circle cx="198.9" cy="716.4" r="3.2"/><circle cx="193.6" cy="717.3" r="3.2"/><circle cx="193.9" cy="716.3" r="3.2"/><circle cx="186.9" cy="715.4" r="3.2"/></g>
<path d="M199 715.9 199.5 715.9 200 715.9 200.5 715.9 201 715.9 201.5 715.9 202 715.8 202.5 715.8 203.1 715.8 203.6 715.8 204.1 715.8 204.6 715.8 205.1 715.8 205.6 715.8 206.1 715.8 206.6 715.8 207.1 715.8 207.6 715.7 208.1 715.7 208.6 715.7 209.1 715.7 209.6 715.7 210.1 715.7 210.7 715.7 211.2 715.7 211.7 715.7 212.2 715.7 212.7 715.7 213.2 715.7 213.7 715.6 214.2 715.6 214.7 715.6 215.2 715.6 215.7 715.6 216.2 715.6 216.7 715.6 217.2 715.6 217.7 715.6 218.3 715.6 218.8 715.6 219.3 715.6 219.8 715.6 220.3 715.6 220.8 715.6 221.3 715.6 221.8 715.5 222.3 715.5 222.8 715.5 223.3 715.5 223.8 715.5 224.3 715.5 224.8 715.5 225.3 715.5 225.8 715.5 226.4 715.5 226.9 715.5 227.4 715.5 227.9 715.5 228.4 715.5 228.9 715.5 229.4 715.5 229.9 715.5 230.4 715.5 230.9 715.5 231.4 715.4 231.9 715.4 232.4 715.4 232.9 715.4 233.4 715.4 234 715.4 234.5 715.4 235 715.4 235.5 715.4 236 715.4 236.5 715.4 237 715.3 237.5 715.3 238 715.3 238.5 715.3 239 715.3 239.5 715.3 240 715.2 240.5 715.2 241 715.2 241.6 715.2 242.1 715.2 242.6 715.1 243.1 715.1 243.6 715.1 244.1 715 244.6 715 245.1 715 245.6 714.9 246.1 714.9 246.6 714.8 247.1 714.7 247.6 714.6 248.1 714.5 248.6 714.4 249.2 714.2 249.7 714.1 250.2 713.9 250.7 713.8 251.2 713.6 251.7 713.5 252.2 713.3 252.7 713.1 253.2 712.9 253.7 712.7 254.2 712.5 254.7 712.3 255.2 712.1 255.7 711.8 256.2 711.6 256.8 711.3 257.3 711.1 257.8 710.8 258.3 710.4 258.8 710 259.3 709.6 259.8 709 260.3 708.3 260.8 707.4 261.3 706.3 261.8 704.9 262.3 703.4 262.8 701.7 263.3 699.9 263.8 698 264.4 696 264.9 694 265.4 692 265.9 690 266.4 688 266.9 685.9 267.4 683.8 267.9 681.9 268.4 680.2 268.9 679.4 269.4 679.5 269.9 680.5 270.4 682.3 270.9 684.3 271.4 686.3 272 688.6 272.5 691 273 693.6 273.5 696.3 274 698.9 274.5 701.5 275 703.9 275.5 706.4 276 708.5 276.5 710.2 277 711.5 277.5 712.7 278 713.8 278.5 714.7 279 715.6 279.6 716.3 279.6 716.3 279 717 278.5 717.9 278 718.8 277.5 719.9 277 721.1 276.5 722.4 276 724.1 275.5 726.2 275 728.7 274.5 731.1 274 733.7 273.5 736.3 273 739 272.5 741.6 272 744 271.4 746.3 270.9 748.3 270.4 750.3 269.9 752.1 269.4 753.1 268.9 753.2 268.4 752.4 267.9 750.7 267.4 748.8 266.9 746.7 266.4 744.6 265.9 742.6 265.4 740.6 264.9 738.6 264.4 736.6 263.8 734.6 263.3 732.7 262.8 730.9 262.3 729.2 261.8 727.7 261.3 726.3 260.8 725.2 260.3 724.3 259.8 723.6 259.3 723 258.8 722.6 258.3 722.2 257.8 721.8 257.3 721.5 256.8 721.3 256.2 721 255.7 720.8 255.2 720.5 254.7 720.3 254.2 720.1 253.7 719.9 253.2 719.7 252.7 719.5 252.2 719.3 251.7 719.1 251.2 719 250.7 718.8 250.2 718.7 249.7 718.5 249.2 718.4 248.6 718.2 248.1 718.1 247.6 718 247.1 717.9 246.6 717.8 246.1 717.7 245.6 717.7 245.1 717.6 244.6 717.6 244.1 717.6 243.6 717.5 243.1 717.5 242.6 717.5 242.1 717.4 241.6 717.4 241 717.4 240.5 717.4 240 717.4 239.5 717.3 239 717.3 238.5 717.3 238 717.3 237.5 717.3 237 717.3 236.5 717.2 236 717.2 235.5 717.2 235 717.2 234.5 717.2 234 717.2 233.4 717.2 232.9 717.2 232.4 717.2 231.9 717.2 231.4 717.2 230.9 717.1 230.4 717.1 229.9 717.1 229.4 717.1 228.9 717.1 228.4 717.1 227.9 717.1 227.4 717.1 226.9 717.1 226.4 717.1 225.8 717.1 225.3 717.1 224.8 717.1 224.3 717.1 223.8 717.1 223.3 717.1 222.8 717.1 222.3 717.1 221.8 717.1 221.3 717 220.8 717 220.3 717 219.8 717 219.3 717 218.8 717 218.3 717 217.7 717 217.2 717 216.7 717 216.2 717 215.7 717 215.2 717 214.7 717 214.2 717 213.7 717 213.2 716.9 212.7 716.9 212.2 716.9 211.7 716.9 211.2 716.9 210.7 716.9 210.1 716.9 209.6 716.9 209.1 716.9 208.6 716.9 208.1 716.9 207.6 716.9 207.1 716.8 206.6 716.8 206.1 716.8 205.6 716.8 205.1 716.8 204.6 716.8 204.1 716.8 203.6 716.8 203.1 716.8 202.5 716.8 202 716.8 201.5 716.7 201 716.7 200.5 716.7 200 716.7 199.5 716.7 199 716.7Z" fill="#ff0000" stroke="#ff0000" stroke-width="5.9" stroke-opacity="0.35" stroke-linejoin="round"/>
<path d="M199 715.9 199.5 715.9 200 715.9 200.5 715.9 201 715.9 201.5 715.9 202 715.8 202.5 715.8 203.1 715.8 203.6 715.8 204.1 715.8 204.6 715.8 205.1 715.8 205.6 715.8 206.1 715.8 206.6 715.8 207.1 715.8 207.6 715.7 208.1 715.7 208.6 715.7 209.1 715.7 209.6 715.7 210.1 715.7 210.7 715.7 211.2 715.7 211.7 715.7 212.2 715.7 212.7 715.7 213.2 715.7 213.7 715.6 214.2 715.6 214.7 715.6 215.2 715.6 215.7 715.6 216.2 715.6 216.7 715.6 217.2 715.6 217.7 715.6 218.3 715.6 218.8 715.6 219.3 715.6 219.8 715.6 220.3 715.6 220.8 715.6 221.3 715.6 221.8 715.5 222.3 715.5 222.8 715.5 223.3 715.5 223.8 715.5 224.3 715.5 224.8 715.5 225.3 715.5 225.8 715.5 226.4 715.5 226.9 715.5 227.4 715.5 227.9 715.5 228.4 715.5 228.9 715.5 229.4 715.5 229.9 715.5 230.4 715.5 230.9 715.5 231.4 715.4 231.9 715.4 232.4 715.4 232.9 715.4 233.4 715.4 234 715.4 234.5 715.4 235 715.4 235.5 715.4 236 715.4 236.5 715.4 237 715.3 237.5 715.3 238 715.3 238.5 715.3 239 715.3 239.5 715.3 240 715.2 240.5 715.2 241 715.2 241.6 715.2 242.1 715.2 242.6 715.1 243.1 715.1 243.6 715.1 244.1 715 244.6 715 245.1 715 245.6 714.9 246.1 714.9 246.6 714.8 247.1 714.7 247.6 714.6 248.1 714.5 248.6 714.4 249.2 714.2 249.7 714.1 250.2 713.9 250.7 713.8 251.2 713.6 251.7 713.5 252.2 713.3 252.7 713.1 253.2 712.9 253.7 712.7 254.2 712.5 254.7 712.3 255.2 712.1 255.7 711.8 256.2 711.6 256.8 711.3 257.3 711.1 257.8 710.8 258.3 710.4 258.8 710 259.3 709.6 259.8 709 260.3 708.3 260.8 707.4 261.3 706.3 261.8 704.9 262.3 703.4 262.8 701.7 263.3 699.9 263.8 698 264.4 696 264.9 694 265.4 692 265.9 690 266.4 688 266.9 685.9 267.4 683.8 267.9 681.9 268.4 680.2 268.9 679.4 269.4 679.5 269.9 680.5 270.4 682.3 270.9 684.3 271.4 686.3 272 688.6 272.5 691 273 693.6 273.5 696.3 274 698.9 274.5 701.5 275 703.9 275.5 706.4 276 708.5 276.5 710.2 277 711.5 277.5 712.7 278 713.8 278.5 714.7 279 715.6 279.6 716.3 279.6 716.3 279 717 278.5 717.9 278 718.8 277.5 719.9 277 721.1 276.5 722.4 276 724.1 275.5 726.2 275 728.7 274.5 731.1 274 733.7 273.5 736.3 273 739 272.5 741.6 272 744 271.4 746.3 270.9 748.3 270.4 750.3 269.9 752.1 269.4 753.1 268.9 753.2 268.4 752.4 267.9 750.7 267.4 748.8 266.9 746.7 266.4 744.6 265.9 742.6 265.4 740.6 264.9 738.6 264.4 736.6 263.8 734.6 263.3 732.7 262.8 730.9 262.3 729.2 261.8 727.7 261.3 726.3 260.8 725.2 260.3 724.3 259.8 723.6 259.3 723 258.8 722.6 258.3 722.2 257.8 721.8 257.3 721.5 256.8 721.3 256.2 721 255.7 720.8 255.2 720.5 254.7 720.3 254.2 720.1 253.7 719.9 253.2 719.7 252.7 719.5 252.2 719.3 251.7 719.1 251.2 719 250.7 718.8 250.2 718.7 249.7 718.5 249.2 718.4 248.6 718.2 248.1 718.1 247.6 718 247.1 717.9 246.6 717.8 246.1 717.7 245.6 717.7 245.1 717.6 244.6 717.6 244.1 717.6 243.6 717.5 243.1 717.5 242.6 717.5 242.1 717.4 241.6 717.4 241 717.4 240.5 717.4 240 717.4 239.5 717.3 239 717.3 238.5 717.3 238 717.3 237.5 717.3 237 717.3 236.5 717.2 236 717.2 235.5 717.2 235 717.2 234.5 717.2 234 717.2 233.4 717.2 232.9 717.2 232.4 717.2 231.9 717.2 231.4 717.2 230.9 717.1 230.4 717.1 229.9 717.1 229.4 717.1 228.9 717.1 228.4 717.1 227.9 717.1 227.4 717.1 226.9 717.1 226.4 717.1 225.8 717.1 225.3 717.1 224.8 717.1 224.3 717.1 223.8 717.1 223.3 717.1 222.8 717.1 222.3 717.1 221.8 717.1 221.3 717 220.8 717 220.3 717 219.8 717 219.3 717 218.8 717 218.3 717 217.7 717 217.2 717 216.7 717 216.2 717 215.7 717 215.2 717 214.7 717 214.2 717 213.7 717 213.2 716.9 212.7 716.9 212.2 716.9 211.7 716.9 211.2 716.9 210.7 716.9 210.1 716.9 209.6 716.9 209.1 716.9 208.6 716.9 208.1 716.9 207.6 716.9 207.1 716.8 206.6 716.8 206.1 716.8 205.6 716.8 205.1 716.8 204.6 716.8 204.1 716.8 203.6 716.8 203.1 716.8 202.5 716.8 202 716.8 201.5 716.7 201 716.7 200.5 716.7 200 716.7 199.5 716.7 199 716.7Z" fill="#ff0000" stroke="#ff0000" stroke-width="4.5" stroke-linejoin="round"/>
<path d="M235 717.2h0M254.5 712.5h0M211.4 715.7h0M241.9 717.4h0M266 742.7h0M276.8 711h0M276.6 710.4h0M223.4 715.5h0M253.1 713.1h0M228 717.1h0M231.7 715.5h0M259.5 709.7h0M204.8 715.8h0M272 742.9h0M266.5 743.7h0M279.4 716.5h0M261.2 707.1h0M227.8 715.5h0M257.4 711.3h0M203.3 715.8h0M202.6 715.8h0M269 679.9h0M262.3 703.6h0M210.4 716.9h0M240.5 717.4h0M273.6 697.9h0M252.4 713.4h0M277.4 720.1h0M274.6 702.3h0M232.5 717.1h0M264.6 695.8h0M275.3 705.5h0M215.4 715.7h0M213.7 715.7h0M239.9 717.3h0M213.7 715.7h0M269.4 681.4h0M263.6 733.2h0M227 717.1h0M262.8 702.2h0M273.3 695.9h0M235.2 717.2h0M256.6 711.6h0M278.2 714.2h0M263.5 699.4h0M211 716.9h0M206.6 716.8h0M276.1 708.9h0M275.3 726.7h0M254.3 720.1h0M227.2 717.1h0M273.2 695.9h0M206.2 716.8h0M208.8 716.8h0M225.2 715.6h0M201.4 716.7h0M230.2 715.5h0M266.1 690.6h0M259.1 710h0M273.5 697.1h0M261.1 707.3h0M270.2 682.6h0M274.3 731.5h0M276.1 723.4h0M271.2 746.2h0M274 732.9h0M208 716.8h0M272.8 739.4h0M265.9 690.3h0M273 738.8h0M271.9 688.8h0M264.7 694.7h0M262.2 728.3h0M234.5 717.2h0M212.6 715.7h0M269.6 680.6h0M243.9 715.1h0M267.1 746.9h0M257.3 711.4h0M262.9 730.5h0M265.9 690h0M233.5 717.1h0M256.7 711.5h0M269.4 681.5h0M264.6 696.1h0M276.5 710.3h0M212.9 716.9h0" stroke="#ff0000" stroke-opacity="0.4" stroke-width="6.4" stroke-linecap="round" fill="none"/>
<path d="M267 686.6h0M252 713.5h0M205.5 715.8h0M258.5 710.4h0M272.7 738.8h0M207.8 716.8h0M259.2 722.6h0M207 716.8h0M261.9 704.6h0M277.5 712.6h0M229.9 717.1h0M274.6 730.1h0M219.2 717h0M260.5 708.1h0M201.6 716.7h0M242.7 715.1h0M228.4 717.1h0M241.5 715.2h0M263.5 732.8h0M234.3 717.2h0M270.5 684.1h0M243 715.1h0M275.3 727.1h0M204.1 716.8h0M214.8 717h0M265.1 693.4h0M234.2 715.5h0M258.7 710.2h0M278.5 717.9h0M224.2 715.6h0M274.4 701.4h0M244.2 715.1h0M262.4 728.7h0M215.1 716.9h0M268.8 753h0M266.9 746.7h0M270 680.8h0M270.7 747.9h0M270.7 683.9h0M233.4 717.2h0M267.1 685.4h0M272.6 693.1h0M274.2 731.8h0M267.2 684.6h0M269.4 679.9h0M260 709h0M272.2 742h0M248.2 714.5h0M253.1 719.5h0M243.7 715.1h0M255.6 720.4h0M277.8 719.1h0M199.5 716.7h0M267.7 684.3h0M231.6 715.4h0M274.1 732.9h0M226.5 715.5h0M241.1 717.4h0M275.3 727.1h0M266.5 687.6h0M267.7 683.3h0M223.1 715.5h0M251.1 713.7h0M264.4 695.8h0M267.2 686.2h0M260.7 724.4h0M229.2 717.1h0M212.1 715.7h0M252.9 719.5h0M275.5 706.7h0M199.4 715.9h0M276.8 711.3h0M251.3 718.9h0M234.8 717.2h0M263.7 733.3h0M266.4 744.6h0M274.5 701.9h0M272.6 692.6h0M266.2 742.4h0M211.6 716.9h0M277.7 713.2h0M218.3 715.6h0M249.1 718.3h0M263.9 698.7h0M267.6 749.2h0M278.1 718.5h0M257.9 710.9h0" stroke="#ff0000" stroke-opacity="0.4" stroke-width="6.4" stroke-linecap="round" fill="none"/>
<path d="M249.1 718.3h0M224.4 715.5h0M267.4 684.6h0M276 708.8h0M271.4 687.6h0M249.7 714.1h0M276.5 710.3h0M274.9 728.6h0M276.1 708.7h0M251.3 713.6h0M262.4 729.3h0M205.7 716.8h0M265.3 692.7h0M265.6 691.5h0M231.6 717.1h0M276.5 710.1h0M199.3 716.7h0M256.5 721h0M260 723.5h0M277.2 711.9h0M260.2 708.8h0M247.9 718h0M242.4 717.4h0M274.5 730.8h0M265 739h0M219.1 715.6h0M201.2 716.7h0M216.8 717h0M272.9 738.4h0M262.6 729.6h0M277.4 720h0M264.7 736.9h0M208.4 716.8h0M238.9 717.3h0M209.1 716.8h0M267.5 685h0M267.1 685.9h0M209.8 715.7h0M224.5 717.1h0M255.5 720.6h0M257.2 711.2h0M267 746.2h0M268.2 750.2h0M275 728h0M273.5 697.1h0M265.3 692.6h0M269.8 750.6h0M259.6 709.2h0M273.3 696h0M235.7 717.2h0M220.4 717h0M211.9 715.7h0M275.9 724.2h0M239.2 717.3h0M268 681.4h0M264.1 735.1h0M266.9 745.1h0M243.2 715.1h0M263.1 701.1h0M263.9 734h0M261.2 706.8h0M241.6 715.2h0M273.5 697.6h0M212.5 716.9h0M237.5 715.4h0M206.5 716.8h0M265.5 740.4h0M201.9 715.9h0M256.8 721.1h0M277.4 719.9h0M218.9 717h0M209.8 716.9h0M252.6 713.3h0M230.5 715.5h0M257.3 711.3h0M276.7 711h0M249.8 718.5h0M251.3 718.9h0M213.6 715.7h0M228.7 717.1h0M279.5 716.4h0M262.4 703.8h0M271.6 688.1h0M265.8 741.8h0M275.8 725h0M274 699.6h0" stroke="#ff0000" stroke-opacity="0.4" stroke-width="6.4" stroke-linecap="round" fill="none"/>
<path d="M199 715.9 199.5 715.9 200 715.9 200.5 715.9 201 715.9 201.5 715.9 202 715.8 202.5 715.8 203.1 715.8 203.6 715.8 204.1 715.8 204.6 715.8 205.1 715.8 205.6 715.8 206.1 715.8 206.6 715.8 207.1 715.8 207.6 715.7 208.1 715.7 208.6 715.7 209.1 715.7 209.6 715.7 210.1 715.7 210.7 715.7 211.2 715.7 211.7 715.7 212.2 715.7 212.7 715.7 213.2 715.7 213.7 715.6 214.2 715.6 214.7 715.6 215.2 715.6 215.7 715.6 216.2 715.6 216.7 715.6 217.2 715.6 217.7 715.6 218.3 715.6 218.8 715.6 219.3 715.6 219.8 715.6 220.3 715.6 220.8 715.6 221.3 715.6 221.8 715.5 222.3 715.5 222.8 715.5 223.3 715.5 223.8 715.5 224.3 715.5 224.8 715.5 225.3 715.5 225.8 715.5 226.4 715.5 226.9 715.5 227.4 715.5 227.9 715.5 228.4 715.5 228.9 715.5 229.4 715.5 229.9 715.5 230.4 715.5 230.9 715.5 231.4 715.4 231.9 715.4 232.4 715.4 232.9 715.4 233.4 715.4 234 715.4 234.5 715.4 235 715.4 235.5 715.4 236 715.4 236.5 715.4 237 715.3 237.5 715.3 238 715.3 238.5 715.3 239 715.3 239.5 715.3 240 715.2 240.5 715.2 241 715.2 241.6 715.2 242.1 715.2 242.6 715.1 243.1 715.1 243.6 715.1 244.1 715 244.6 715 245.1 715 245.6 714.9 246.1 714.9 246.6 714.8 247.1 714.7 247.6 714.6 248.1 714.5 248.6 714.4 249.2 714.2 249.7 714.1 250.2 713.9 250.7 713.8 251.2 713.6 251.7 713.5 252.2 713.3 252.7 713.1 253.2 712.9 253.7 712.7 254.2 712.5 254.7 712.3 255.2 712.1 255.7 711.8 256.2 711.6 256.8 711.3 257.3 711.1 257.8 710.8 258.3 710.4 258.8 710 259.3 709.6 259.8 709 260.3 708.3 260.8 707.4 261.3 706.3 261.8 704.9 262.3 703.4 262.8 701.7 263.3 699.9 263.8 698 264.4 696 264.9 694 265.4 692 265.9 690 266.4 688 266.9 685.9 267.4 683.8 267.9 681.9 268.4 680.2 268.9 679.4 269.4 679.5 269.9 680.5 270.4 682.3 270.9 684.3 271.4 686.3 272 688.6 272.5 691 273 693.6 273.5 696.3 274 698.9 274.5 701.5 275 703.9 275.5 706.4 276 708.5 276.5 710.2 277 711.5 277.5 712.7 278 713.8 278.5 714.7 279 715.6 279.6 716.3 279.6 716.3 279 717 278.5 717.9 278 718.8 277.5 719.9 277 721.1 276.5 722.4 276 724.1 275.5 726.2 275 728.7 274.5 731.1 274 733.7 273.5 736.3 273 739 272.5 741.6 272 744 271.4 746.3 270.9 748.3 270.4 750.3 269.9 752.1 269.4 753.1 268.9 753.2 268.4 752.4 267.9 750.7 267.4 748.8 266.9 746.7 266.4 744.6 265.9 742.6 265.4 740.6 264.9 738.6 264.4 736.6 263.8 734.6 263.3 732.7 262.8 730.9 262.3 729.2 261.8 727.7 261.3 726.3 260.8 725.2 260.3 724.3 259.8 723.6 259.3 723 258.8 722.6 258.3 722.2 257.8 721.8 257.3 721.5 256.8 721.3 256.2 721 255.7 720.8 255.2 720.5 254.7 720.3 254.2 720.1 253.7 719.9 253.2 719.7 252.7 719.5 252.2 719.3 251.7 719.1 251.2 719 250.7 718.8 250.2 718.7 249.7 718.5 249.2 718.4 248.6 718.2 248.1 718.1 247.6 718 247.1 717.9 246.6 717.8 246.1 717.7 245.6 717.7 245.1 717.6 244.6 717.6 244.1 717.6 243.6 717.5 243.1 717.5 242.6 717.5 242.1 717.4 241.6 717.4 241 717.4 240.5 717.4 240 717.4 239.5 717.3 239 717.3 238.5 717.3 238 717.3 237.5 717.3 237 717.3 236.5 717.2 236 717.2 235.5 717.2 235 717.2 234.5 717.2 234 717.2 233.4 717.2 232.9 717.2 232.4 717.2 231.9 717.2 231.4 717.2 230.9 717.1 230.4 717.1 229.9 717.1 229.4 717.1 228.9 717.1 228.4 717.1 227.9 717.1 227.4 717.1 226.9 717.1 226.4 717.1 225.8 717.1 225.3 717.1 224.8 717.1 224.3 717.1 223.8 717.1 223.3 717.1 222.8 717.1 222.3 717.1 221.8 717.1 221.3 717 220.8 717 220.3 717 219.8 717 219.3 717 218.8 717 218.3 717 217.7 717 217.2 717 216.7 717 216.2 717 215.7 717 215.2 717 214.7 717 214.2 717 213.7 717 213.2 716.9 212.7 716.9 212.2 716.9 211.7 716.9 211.2 716.9 210.7 716.9 210.1 716.9 209.6 716.9 209.1 716.9 208.6 716.9 208.1 716.9 207.6 716.9 207.1 716.8 206.6 716.8 206.1 716.8 205.6 716.8 205.1 716.8 204.6 716.8 204.1 716.8 203.6 716.8 203.1 716.8 202.5 716.8 202 716.8 201.5 716.7 201 716.7 200.5 716.7 200 716.7 199.5 716.7 199 716.7Z" fill="none" stroke="#d48484" stroke-width="0.8" stroke-linejoin="round"/>
<line x1="40.6" y1="716.3" x2="279.4" y2="716.3" stroke="#8a8a8a" stroke-width="0.6"/>
<rect x="261" y="714.8" width="8" height="3" fill="#808080"/>
<circle cx="267.4" cy="716.3" r="3.3" fill="#fff" stroke="#808080" stroke-width="0.5"/>
<path d="M17.4 575.8H290.8" fill="none" stroke="#cdcdcd" stroke-width="1.4"/>
<path d="M290 575.8V327.8" fill="none" stroke="#cdcdcd" stroke-width="1.4"/>
<path d="M290.1 575.8v-3M251.3 575.8v-3M212.4 575.8v-3M173.6 575.8v-3M134.7 575.8v-3M95.9 575.8v-3M57 575.8v-3M18.1 575.8v-3M290.1 513.8h-3M290.1 389.8h-3" fill="none" stroke="#a6a6a6" stroke-width="1"/>
<text transform="translate(294.4,580.7) rotate(-90)" text-anchor="end" font-size="11.0">0.05</text>
<text transform="translate(255.6,580.7) rotate(-90)" text-anchor="end" font-size="11.0">0.1</text>
<text transform="translate(216.7,580.7) rotate(-90)" text-anchor="end" font-size="11.0">0.15</text>
<text transform="translate(177.9,580.7) rotate(-90)" text-anchor="end" font-size="11.0">0.2</text>
<text transform="translate(139,580.7) rotate(-90)" text-anchor="end" font-size="11.0">0.25</text>
<text transform="translate(100.2,580.7) rotate(-90)" text-anchor="end" font-size="11.0">0.3</text>
<text transform="translate(61.3,580.7) rotate(-90)" text-anchor="end" font-size="11.0">0.35</text>
<text transform="translate(22.4,580.7) rotate(-90)" text-anchor="end" font-size="11.0">0.4</text>
<text transform="translate(305.2,513.8) rotate(-90)" text-anchor="middle" font-size="11.0">POST</text>
<text transform="translate(305.2,389.8) rotate(-90)" text-anchor="middle" font-size="11.0">PRE Resected</text>
<text transform="translate(154.7,611.9) rotate(180)" text-anchor="middle" font-size="12.1">strength per channel</text>
<text transform="translate(12.3,451.5) rotate(-90)" text-anchor="middle" font-size="13.8" font-weight="bold" fill="#000">PLV</text>
<g fill="#0000ff" fill-opacity="0.3"><circle cx="25.7" cy="513.8" r="3.2"/><circle cx="40.2" cy="513.8" r="3.2"/><circle cx="49.5" cy="513.8" r="3.2"/><circle cx="154.4" cy="513.8" r="3.2"/><circle cx="173" cy="513.8" r="3.2"/><circle cx="175" cy="513.8" r="3.2"/><circle cx="177" cy="513.8" r="3.2"/><circle cx="179" cy="513.8" r="3.2"/><circle cx="190.6" cy="514.6" r="3.2"/><circle cx="189.1" cy="514.6" r="3.2"/><circle cx="187.3" cy="513.8" r="3.2"/><circle cx="191.7" cy="513.6" r="3.2"/><circle cx="187.3" cy="514.2" r="3.2"/><circle cx="192.1" cy="514.5" r="3.2"/><circle cx="191.2" cy="514" r="3.2"/><circle cx="191.1" cy="513" r="3.2"/><circle cx="191.5" cy="513.1" r="3.2"/></g>
<path d="M190 513.4 190.6 513.3 191.2 513.1 191.8 513 192.4 512.8 193 512.6 193.6 512.5 194.2 512.3 194.8 512.1 195.4 512 196 511.8 196.6 511.7 197.2 511.5 197.8 511.3 198.4 511.1 199 511 199.6 510.8 200.2 510.6 200.8 510.3 201.4 510.1 202.1 509.9 202.7 509.6 203.3 509.4 203.9 509.1 204.5 508.8 205.1 508.5 205.7 508.2 206.3 507.9 206.9 507.6 207.5 507.2 208.1 506.9 208.7 506.6 209.3 506.2 209.9 505.8 210.5 505.5 211.1 505 211.7 504.6 212.3 504.1 212.9 503.6 213.5 503 214.1 502.4 214.7 501.7 215.3 501 215.9 500.2 216.5 499.5 217.1 498.7 217.7 497.9 218.3 497 218.9 496.1 219.5 495.3 220.1 494.4 220.7 493.5 221.3 492.7 221.9 491.9 222.5 491 223.1 490.2 223.7 489.4 224.3 488.6 224.9 487.9 225.5 487.1 226.2 486.4 226.8 485.7 227.4 485 228 484.4 228.6 483.8 229.2 483.3 229.8 482.9 230.4 482.5 231 482.1 231.6 481.8 232.2 481.5 232.8 481.2 233.4 481 234 480.8 234.6 480.5 235.2 480.3 235.8 480.2 236.4 480 237 479.8 237.6 479.6 238.2 479.4 238.8 479.2 239.4 479 240 478.8 240.6 478.6 241.2 478.4 241.8 478.1 242.4 477.9 243 477.7 243.6 477.4 244.2 477.1 244.8 476.9 245.4 476.7 246 476.6 246.6 477 247.2 477.4 247.8 477.8 248.4 478.3 249 478.9 249.6 479.7 250.3 480.5 250.9 481.4 251.5 482.3 252.1 483.3 252.7 484.2 253.3 485.2 253.9 486.2 254.5 487.3 255.1 488.3 255.7 489.3 256.3 490.3 256.9 491.2 257.5 492 258.1 492.9 258.7 493.7 259.3 494.5 259.9 495.2 260.5 495.9 261.1 496.6 261.7 497.3 262.3 498 262.9 498.6 263.5 499.2 264.1 499.8 264.7 500.4 265.3 501 265.9 501.6 266.5 502.1 267.1 502.7 267.7 503.2 268.3 503.8 268.9 504.4 269.5 504.9 270.1 505.4 270.7 505.9 271.3 506.4 271.9 506.9 272.5 507.3 273.1 507.7 273.7 508.2 274.4 508.6 275 509 275.6 509.3 276.2 509.7 276.8 510 277.4 510.4 278 510.7 278.6 511 279.2 511.3 279.8 511.5 280.4 511.8 281 512 281.6 512.3 282.2 512.5 282.8 512.7 283.4 512.9 284 513.2 284.6 513.4 285.2 513.6 285.8 513.8 285.8 513.8 285.2 514 284.6 514.2 284 514.4 283.4 514.7 282.8 514.9 282.2 515.1 281.6 515.3 281 515.6 280.4 515.8 279.8 516.1 279.2 516.3 278.6 516.6 278 516.9 277.4 517.2 276.8 517.6 276.2 517.9 275.6 518.3 275 518.6 274.4 519 273.7 519.4 273.1 519.9 272.5 520.3 271.9 520.7 271.3 521.2 270.7 521.7 270.1 522.2 269.5 522.7 268.9 523.2 268.3 523.8 267.7 524.4 267.1 524.9 266.5 525.5 265.9 526 265.3 526.6 264.7 527.2 264.1 527.8 263.5 528.4 262.9 529 262.3 529.6 261.7 530.3 261.1 531 260.5 531.7 259.9 532.4 259.3 533.1 258.7 533.9 258.1 534.7 257.5 535.6 256.9 536.4 256.3 537.3 255.7 538.3 255.1 539.3 254.5 540.3 253.9 541.4 253.3 542.4 252.7 543.4 252.1 544.3 251.5 545.3 250.9 546.2 250.3 547.1 249.6 547.9 249 548.7 248.4 549.3 247.8 549.8 247.2 550.2 246.6 550.6 246 551 245.4 550.9 244.8 550.7 244.2 550.5 243.6 550.2 243 549.9 242.4 549.7 241.8 549.5 241.2 549.2 240.6 549 240 548.8 239.4 548.6 238.8 548.4 238.2 548.2 237.6 548 237 547.8 236.4 547.6 235.8 547.4 235.2 547.3 234.6 547.1 234 546.8 233.4 546.6 232.8 546.4 232.2 546.1 231.6 545.8 231 545.5 230.4 545.1 229.8 544.7 229.2 544.3 228.6 543.8 228 543.2 227.4 542.6 226.8 541.9 226.2 541.2 225.5 540.5 224.9 539.7 224.3 539 223.7 538.2 223.1 537.4 222.5 536.6 221.9 535.7 221.3 534.9 220.7 534.1 220.1 533.2 219.5 532.3 218.9 531.5 218.3 530.6 217.7 529.7 217.1 528.9 216.5 528.1 215.9 527.4 215.3 526.6 214.7 525.9 214.1 525.2 213.5 524.6 212.9 524 212.3 523.5 211.7 523 211.1 522.6 210.5 522.1 209.9 521.8 209.3 521.4 208.7 521 208.1 520.7 207.5 520.4 206.9 520 206.3 519.7 205.7 519.4 205.1 519.1 204.5 518.8 203.9 518.5 203.3 518.2 202.7 518 202.1 517.7 201.4 517.5 200.8 517.3 200.2 517 199.6 516.8 199 516.6 198.4 516.5 197.8 516.3 197.2 516.1 196.6 515.9 196 515.8 195.4 515.6 194.8 515.5 194.2 515.3 193.6 515.1 193 515 192.4 514.8 191.8 514.6 191.2 514.5 190.6 514.3 190 514.2Z" fill="#0000ff" stroke="#0000ff" stroke-width="5.9" stroke-opacity="0.35" stroke-linejoin="round"/>
<path d="M190 513.4 190.6 513.3 191.2 513.1 191.8 513 192.4 512.8 193 512.6 193.6 512.5 194.2 512.3 194.8 512.1 195.4 512 196 511.8 196.6 511.7 197.2 511.5 197.8 511.3 198.4 511.1 199 511 199.6 510.8 200.2 510.6 200.8 510.3 201.4 510.1 202.1 509.9 202.7 509.6 203.3 509.4 203.9 509.1 204.5 508.8 205.1 508.5 205.7 508.2 206.3 507.9 206.9 507.6 207.5 507.2 208.1 506.9 208.7 506.6 209.3 506.2 209.9 505.8 210.5 505.5 211.1 505 211.7 504.6 212.3 504.1 212.9 503.6 213.5 503 214.1 502.4 214.7 501.7 215.3 501 215.9 500.2 216.5 499.5 217.1 498.7 217.7 497.9 218.3 497 218.9 496.1 219.5 495.3 220.1 494.4 220.7 493.5 221.3 492.7 221.9 491.9 222.5 491 223.1 490.2 223.7 489.4 224.3 488.6 224.9 487.9 225.5 487.1 226.2 486.4 226.8 485.7 227.4 485 228 484.4 228.6 483.8 229.2 483.3 229.8 482.9 230.4 482.5 231 482.1 231.6 481.8 232.2 481.5 232.8 481.2 233.4 481 234 480.8 234.6 480.5 235.2 480.3 235.8 480.2 236.4 480 237 479.8 237.6 479.6 238.2 479.4 238.8 479.2 239.4 479 240 478.8 240.6 478.6 241.2 478.4 241.8 478.1 242.4 477.9 243 477.7 243.6 477.4 244.2 477.1 244.8 476.9 245.4 476.7 246 476.6 246.6 477 247.2 477.4 247.8 477.8 248.4 478.3 249 478.9 249.6 479.7 250.3 480.5 250.9 481.4 251.5 482.3 252.1 483.3 252.7 484.2 253.3 485.2 253.9 486.2 254.5 487.3 255.1 488.3 255.7 489.3 256.3 490.3 256.9 491.2 257.5 492 258.1 492.9 258.7 493.7 259.3 494.5 259.9 495.2 260.5 495.9 261.1 496.6 261.7 497.3 262.3 498 262.9 498.6 263.5 499.2 264.1 499.8 264.7 500.4 265.3 501 265.9 501.6 266.5 502.1 267.1 502.7 267.7 503.2 268.3 503.8 268.9 504.4 269.5 504.9 270.1 505.4 270.7 505.9 271.3 506.4 271.9 506.9 272.5 507.3 273.1 507.7 273.7 508.2 274.4 508.6 275 509 275.6 509.3 276.2 509.7 276.8 510 277.4 510.4 278 510.7 278.6 511 279.2 511.3 279.8 511.5 280.4 511.8 281 512 281.6 512.3 282.2 512.5 282.8 512.7 283.4 512.9 284 513.2 284.6 513.4 285.2 513.6 285.8 513.8 285.8 513.8 285.2 514 284.6 514.2 284 514.4 283.4 514.7 282.8 514.9 282.2 515.1 281.6 515.3 281 515.6 280.4 515.8 279.8 516.1 279.2 516.3 278.6 516.6 278 516.9 277.4 517.2 276.8 517.6 276.2 517.9 275.6 518.3 275 518.6 274.4 519 273.7 519.4 273.1 519.9 272.5 520.3 271.9 520.7 271.3 521.2 270.7 521.7 270.1 522.2 269.5 522.7 268.9 523.2 268.3 523.8 267.7 524.4 267.1 524.9 266.5 525.5 265.9 526 265.3 526.6 264.7 527.2 264.1 527.8 263.5 528.4 262.9 529 262.3 529.6 261.7 530.3 261.1 531 260.5 531.7 259.9 532.4 259.3 533.1 258.7 533.9 258.1 534.7 257.5 535.6 256.9 536.4 256.3 537.3 255.7 538.3 255.1 539.3 254.5 540.3 253.9 541.4 253.3 542.4 252.7 543.4 252.1 544.3 251.5 545.3 250.9 546.2 250.3 547.1 249.6 547.9 249 548.7 248.4 549.3 247.8 549.8 247.2 550.2 246.6 550.6 246 551 245.4 550.9 244.8 550.7 244.2 550.5 243.6 550.2 243 549.9 242.4 549.7 241.8 549.5 241.2 549.2 240.6 549 240 548.8 239.4 548.6 238.8 548.4 238.2 548.2 237.6 548 237 547.8 236.4 547.6 235.8 547.4 235.2 547.3 234.6 547.1 234 546.8 233.4 546.6 232.8 546.4 232.2 546.1 231.6 545.8 231 545.5 230.4 545.1 229.8 544.7 229.2 544.3 228.6 543.8 228 543.2 227.4 542.6 226.8 541.9 226.2 541.2 225.5 540.5 224.9 539.7 224.3 539 223.7 538.2 223.1 537.4 222.5 536.6 221.9 535.7 221.3 534.9 220.7 534.1 220.1 533.2 219.5 532.3 218.9 531.5 218.3 530.6 217.7 529.7 217.1 528.9 216.5 528.1 215.9 527.4 215.3 526.6 214.7 525.9 214.1 525.2 213.5 524.6 212.9 524 212.3 523.5 211.7 523 211.1 522.6 210.5 522.1 209.9 521.8 209.3 521.4 208.7 521 208.1 520.7 207.5 520.4 206.9 520 206.3 519.7 205.7 519.4 205.1 519.1 204.5 518.8 203.9 518.5 203.3 518.2 202.7 518 202.1 517.7 201.4 517.5 200.8 517.3 200.2 517 199.6 516.8 199 516.6 198.4 516.5 197.8 516.3 197.2 516.1 196.6 515.9 196 515.8 195.4 515.6 194.8 515.5 194.2 515.3 193.6 515.1 193 515 192.4 514.8 191.8 514.6 191.2 514.5 190.6 514.3 190 514.2Z" fill="#0000ff" stroke="#0000ff" stroke-width="4.5" stroke-linejoin="round"/>
<path d="M235.3 480.4h0M226.2 487.9h0M201.4 517.5h0M240.1 547.7h0M269.7 522.1h0M257.3 535.4h0M280.9 512h0M253.1 485.6h0M213 504h0M217.8 498.6h0M253.2 542.4h0M265.5 501.3h0M272.4 507.5h0M226.9 541.5h0M230.3 543.3h0M256 537.3h0M240.6 480.6h0M217.8 498.6h0M258.1 533.8h0M276.8 510.1h0M252.2 542.6h0M257.1 535.9h0M275.8 509.7h0M226.3 486.9h0M237.5 480.4h0M190.6 514.3h0M246.3 477.3h0M267.7 503.9h0M216.9 499.6h0M206.2 508h0M220 495.5h0M250.4 545.7h0M243.7 549.5h0M243.2 478.7h0M284.1 513.2h0M251.5 484h0M271 506.5h0M275.3 518.3h0M229.4 484.2h0M212.6 523.3h0M254 488h0M206.2 507.9h0M275.8 517.9h0M213.8 503.2h0M270.5 505.8h0M260.6 530.9h0M208.8 520.9h0M255.5 489.3h0M191.6 513h0M222.5 535.9h0M228.5 484.1h0M216.9 499.2h0M222.9 491h0M258.7 494.4h0M230.4 544h0M224.5 488.8h0M267.6 503.7h0M279.8 516h0M263.9 499.8h0M199.4 510.9h0M272.5 520.3h0M283 512.8h0M256 537.8h0M204.9 518.8h0M278 516.8h0M208.3 520.7h0M227.5 541.2h0M253.4 486.6h0M221.2 493.2h0M250.5 546.5h0M227.5 485.4h0M268.7 504.5h0M212.5 504.4h0M251.6 484h0M284.7 514.2h0M255.1 538.3h0M227.1 486.4h0M245.8 550.4h0M265.2 501.1h0M226.9 486.7h0M248.5 479.3h0M261.1 530.9h0M256.6 490.9h0M207.9 507.2h0M267.4 524.3h0M218.1 529.7h0M199.9 510.8h0" stroke="#0000ff" stroke-opacity="0.4" stroke-width="6.4" stroke-linecap="round" fill="none"/>
<path d="M263.8 499.5h0M241.6 478.3h0M190.1 513.4h0M270.8 521.3h0M218.5 497h0M207.1 520h0M282.3 515h0M254.9 488.2h0M204.7 518.7h0M198 516.2h0M243.8 479.3h0M190.3 514.3h0M278 516.8h0M216.8 528.3h0M238.2 548h0M256.3 537.1h0M262 497.9h0M275.4 509.3h0M209.6 521.3h0M279.1 516.3h0M192.2 512.8h0M225.1 488.9h0M206.2 508.2h0M210.3 505.9h0M274 508.4h0M196.8 511.6h0M250.9 545.1h0M246.3 477.1h0M262.8 529h0M250 480.9h0M220.7 533.7h0M262.3 498.3h0M244.3 477.8h0M218.5 497.5h0M200.9 517.1h0M228.8 543.5h0M216.1 527.3h0M282.2 512.6h0M260.1 531.2h0M282.2 515h0M216.1 527.1h0M279 516.4h0M209.3 521.2h0M284.4 514.3h0M220.6 533.3h0M218 529.6h0M229 543h0M249.7 479.8h0M278.7 511.1h0M193.1 512.7h0M243.5 549.8h0M263.6 499.7h0M238.6 480.7h0M200.1 510.8h0M217.5 528.5h0M230.4 483.3h0M214.4 502.3h0M218.1 497.5h0M221.5 534.7h0M251.1 483h0M249.3 480.5h0M254.2 540.1h0M256.6 491.2h0M217.1 498.7h0M285.1 513.6h0M204.8 508.7h0M212.4 523.6h0M264.2 527.3h0M220.6 533.6h0M229.3 483.7h0M220.8 533h0M272.1 507.2h0M235.2 480.4h0M251.8 544.6h0M211.1 522.4h0M265.8 502h0M218.5 529.8h0M219.2 495.8h0M269.3 522.8h0M254.2 539.9h0M263.7 499.7h0M238 480.1h0M267.8 523.8h0M203.6 518.4h0M199.2 516.7h0M285.7 513.8h0M263.3 527.9h0" stroke="#0000ff" stroke-opacity="0.4" stroke-width="6.4" stroke-linecap="round" fill="none"/>
<path d="M273.1 508h0M241.2 478.4h0M242.4 549.4h0M211 505.1h0M244.2 478.4h0M279.5 511.5h0M190.3 513.3h0M272.4 507.3h0M265.7 526.1h0M201.1 517.3h0M260.4 531.5h0M278 510.8h0M262.1 529.5h0M275.8 509.6h0M256.7 491.4h0M251.8 484h0M227.9 485.7h0M269.1 522.6h0M195.5 512h0M218.6 497.6h0M227.7 542.1h0M265.5 501.6h0M256 489.9h0M224.2 490.2h0M261.8 497.8h0M285.1 514h0M224.4 489.9h0M249.6 546.8h0M214.1 524.8h0M267.8 503.5h0M207.6 507.4h0M204.9 508.8h0M202.8 517.9h0M212.7 503.8h0M223.7 537.6h0M192.2 514.7h0M229.5 483.3h0M276 509.7h0M269.3 505h0M202.2 509.9h0M214.1 502.5h0M205.2 519.1h0M222.7 536.7h0M201.2 517.3h0M280.2 511.8h0M240.8 547.8h0M193.2 512.6h0M218.5 530h0M204.8 508.8h0M226.9 541.7h0M222.2 535.5h0M219 496.7h0M218.7 496.5h0M222.2 492.7h0M268.5 504.1h0M235.9 481.1h0M267.5 503.1h0M209.7 521.2h0M215.1 501.3h0M278.5 511h0M232.4 482.9h0M280.7 515.7h0M256.9 536.1h0M198 516.2h0M250.5 481.9h0M233.2 481.2h0M200.8 510.4h0M197.6 516.2h0M244.5 478.8h0M271 521.1h0M262 497.8h0M209.7 506.2h0M282 515.1h0M222.5 491.9h0M246.5 549.5h0M266.1 502.4h0M283.4 513h0M206.3 519.7h0M247.6 548.5h0M283.5 513h0M272.6 507.7h0M210.7 505.6h0M281.4 515.4h0M252.7 542.9h0M251.2 482h0M225.1 538.6h0" stroke="#0000ff" stroke-opacity="0.4" stroke-width="6.4" stroke-linecap="round" fill="none"/>
<path d="M190 513.4 190.6 513.3 191.2 513.1 191.8 513 192.4 512.8 193 512.6 193.6 512.5 194.2 512.3 194.8 512.1 195.4 512 196 511.8 196.6 511.7 197.2 511.5 197.8 511.3 198.4 511.1 199 511 199.6 510.8 200.2 510.6 200.8 510.3 201.4 510.1 202.1 509.9 202.7 509.6 203.3 509.4 203.9 509.1 204.5 508.8 205.1 508.5 205.7 508.2 206.3 507.9 206.9 507.6 207.5 507.2 208.1 506.9 208.7 506.6 209.3 506.2 209.9 505.8 210.5 505.5 211.1 505 211.7 504.6 212.3 504.1 212.9 503.6 213.5 503 214.1 502.4 214.7 501.7 215.3 501 215.9 500.2 216.5 499.5 217.1 498.7 217.7 497.9 218.3 497 218.9 496.1 219.5 495.3 220.1 494.4 220.7 493.5 221.3 492.7 221.9 491.9 222.5 491 223.1 490.2 223.7 489.4 224.3 488.6 224.9 487.9 225.5 487.1 226.2 486.4 226.8 485.7 227.4 485 228 484.4 228.6 483.8 229.2 483.3 229.8 482.9 230.4 482.5 231 482.1 231.6 481.8 232.2 481.5 232.8 481.2 233.4 481 234 480.8 234.6 480.5 235.2 480.3 235.8 480.2 236.4 480 237 479.8 237.6 479.6 238.2 479.4 238.8 479.2 239.4 479 240 478.8 240.6 478.6 241.2 478.4 241.8 478.1 242.4 477.9 243 477.7 243.6 477.4 244.2 477.1 244.8 476.9 245.4 476.7 246 476.6 246.6 477 247.2 477.4 247.8 477.8 248.4 478.3 249 478.9 249.6 479.7 250.3 480.5 250.9 481.4 251.5 482.3 252.1 483.3 252.7 484.2 253.3 485.2 253.9 486.2 254.5 487.3 255.1 488.3 255.7 489.3 256.3 490.3 256.9 491.2 257.5 492 258.1 492.9 258.7 493.7 259.3 494.5 259.9 495.2 260.5 495.9 261.1 496.6 261.7 497.3 262.3 498 262.9 498.6 263.5 499.2 264.1 499.8 264.7 500.4 265.3 501 265.9 501.6 266.5 502.1 267.1 502.7 267.7 503.2 268.3 503.8 268.9 504.4 269.5 504.9 270.1 505.4 270.7 505.9 271.3 506.4 271.9 506.9 272.5 507.3 273.1 507.7 273.7 508.2 274.4 508.6 275 509 275.6 509.3 276.2 509.7 276.8 510 277.4 510.4 278 510.7 278.6 511 279.2 511.3 279.8 511.5 280.4 511.8 281 512 281.6 512.3 282.2 512.5 282.8 512.7 283.4 512.9 284 513.2 284.6 513.4 285.2 513.6 285.8 513.8 285.8 513.8 285.2 514 284.6 514.2 284 514.4 283.4 514.7 282.8 514.9 282.2 515.1 281.6 515.3 281 515.6 280.4 515.8 279.8 516.1 279.2 516.3 278.6 516.6 278 516.9 277.4 517.2 276.8 517.6 276.2 517.9 275.6 518.3 275 518.6 274.4 519 273.7 519.4 273.1 519.9 272.5 520.3 271.9 520.7 271.3 521.2 270.7 521.7 270.1 522.2 269.5 522.7 268.9 523.2 268.3 523.8 267.7 524.4 267.1 524.9 266.5 525.5 265.9 526 265.3 526.6 264.7 527.2 264.1 527.8 263.5 528.4 262.9 529 262.3 529.6 261.7 530.3 261.1 531 260.5 531.7 259.9 532.4 259.3 533.1 258.7 533.9 258.1 534.7 257.5 535.6 256.9 536.4 256.3 537.3 255.7 538.3 255.1 539.3 254.5 540.3 253.9 541.4 253.3 542.4 252.7 543.4 252.1 544.3 251.5 545.3 250.9 546.2 250.3 547.1 249.6 547.9 249 548.7 248.4 549.3 247.8 549.8 247.2 550.2 246.6 550.6 246 551 245.4 550.9 244.8 550.7 244.2 550.5 243.6 550.2 243 549.9 242.4 549.7 241.8 549.5 241.2 549.2 240.6 549 240 548.8 239.4 548.6 238.8 548.4 238.2 548.2 237.6 548 237 547.8 236.4 547.6 235.8 547.4 235.2 547.3 234.6 547.1 234 546.8 233.4 546.6 232.8 546.4 232.2 546.1 231.6 545.8 231 545.5 230.4 545.1 229.8 544.7 229.2 544.3 228.6 543.8 228 543.2 227.4 542.6 226.8 541.9 226.2 541.2 225.5 540.5 224.9 539.7 224.3 539 223.7 538.2 223.1 537.4 222.5 536.6 221.9 535.7 221.3 534.9 220.7 534.1 220.1 533.2 219.5 532.3 218.9 531.5 218.3 530.6 217.7 529.7 217.1 528.9 216.5 528.1 215.9 527.4 215.3 526.6 214.7 525.9 214.1 525.2 213.5 524.6 212.9 524 212.3 523.5 211.7 523 211.1 522.6 210.5 522.1 209.9 521.8 209.3 521.4 208.7 521 208.1 520.7 207.5 520.4 206.9 520 206.3 519.7 205.7 519.4 205.1 519.1 204.5 518.8 203.9 518.5 203.3 518.2 202.7 518 202.1 517.7 201.4 517.5 200.8 517.3 200.2 517 199.6 516.8 199 516.6 198.4 516.5 197.8 516.3 197.2 516.1 196.6 515.9 196 515.8 195.4 515.6 194.8 515.5 194.2 515.3 193.6 515.1 193 515 192.4 514.8 191.8 514.6 191.2 514.5 190.6 514.3 190 514.2Z" fill="none" stroke="#7474cc" stroke-width="0.8" stroke-linejoin="round"/>
<line x1="25.7" y1="513.8" x2="287" y2="513.8" stroke="#8a8a8a" stroke-width="0.6"/>
<rect x="228.2" y="512.3" width="24.5" height="3" fill="#808080"/>
<circle cx="241.1" cy="513.8" r="3.3" fill="#fff" stroke="#808080" stroke-width="0.5"/>
<g fill="#ff0000" fill-opacity="0.3"><circle cx="138.6" cy="389.8" r="3.2"/><circle cx="143" cy="389.8" r="3.2"/><circle cx="147" cy="389.8" r="3.2"/><circle cx="158" cy="389.8" r="3.2"/><circle cx="161" cy="389.8" r="3.2"/><circle cx="165" cy="389.8" r="3.2"/><circle cx="168" cy="389.8" r="3.2"/><circle cx="173" cy="389.8" r="3.2"/><circle cx="177" cy="389.8" r="3.2"/><circle cx="183" cy="389.8" r="3.2"/><circle cx="194" cy="389.8" r="3.2"/><circle cx="200" cy="389.8" r="3.2"/></g>
<path d="M200 389.4 200.5 389.2 201.1 389.1 201.6 388.9 202.2 388.7 202.7 388.5 203.2 388.3 203.8 388.1 204.3 387.9 204.9 387.7 205.4 387.5 205.9 387.3 206.5 387 207 386.8 207.6 386.5 208.1 386.3 208.7 386 209.2 385.8 209.7 385.5 210.3 385.2 210.8 384.9 211.4 384.6 211.9 384.3 212.4 384 213 383.6 213.5 383.3 214.1 382.9 214.6 382.6 215.1 382.2 215.7 381.8 216.2 381.4 216.8 380.9 217.3 380.4 217.8 379.9 218.4 379.4 218.9 378.9 219.5 378.3 220 377.8 220.6 377.3 221.1 376.7 221.6 376.2 222.2 375.6 222.7 375.1 223.3 374.5 223.8 374 224.3 373.5 224.9 372.9 225.4 372.4 226 371.8 226.5 371.3 227 370.7 227.6 370.2 228.1 369.6 228.7 369.1 229.2 368.5 229.7 368 230.3 367.5 230.8 367 231.4 366.5 231.9 366 232.5 365.5 233 365 233.5 364.5 234.1 364 234.6 363.5 235.2 363 235.7 362.6 236.2 362.1 236.8 361.6 237.3 361.2 237.9 360.7 238.4 360.3 238.9 359.8 239.5 359.4 240 359 240.6 358.5 241.1 358.1 241.6 357.7 242.2 357.2 242.7 356.8 243.3 356.4 243.8 356.1 244.4 355.7 244.9 355.4 245.4 355 246 354.7 246.5 354.3 247.1 354 247.6 353.6 248.1 353.3 248.7 353.1 249.2 352.9 249.8 352.8 250.3 352.8 250.8 352.8 251.4 352.9 251.9 353 252.5 353.2 253 353.3 253.5 353.5 254.1 353.7 254.6 353.9 255.2 354.1 255.7 354.3 256.3 354.5 256.8 354.7 257.3 354.9 257.9 355.2 258.4 355.4 259 355.7 259.5 356 260 356.3 260.6 356.6 261.1 357 261.7 357.4 262.2 357.7 262.7 358.1 263.3 358.5 263.8 358.9 264.4 359.3 264.9 359.7 265.4 360.2 266 360.6 266.5 361.1 267.1 361.6 267.6 362.1 268.2 362.6 268.7 363.1 269.2 363.7 269.8 364.3 270.3 364.9 270.9 365.5 271.4 366.1 271.9 366.7 272.5 367.4 273 368.1 273.6 368.8 274.1 369.6 274.6 370.3 275.2 371.1 275.7 371.9 276.3 372.7 276.8 373.5 277.3 374.3 277.9 375.1 278.4 375.9 279 376.7 279.5 377.5 280.1 378.3 280.6 379.1 281.1 379.9 281.7 380.8 282.2 381.6 282.8 382.4 283.3 383.2 283.8 384 284.4 385 284.9 386.1 285.5 387.7 286 389.8 286 389.8 285.5 391.9 284.9 393.5 284.4 394.6 283.8 395.6 283.3 396.4 282.8 397.2 282.2 398 281.7 398.8 281.1 399.7 280.6 400.5 280.1 401.3 279.5 402.1 279 402.9 278.4 403.7 277.9 404.5 277.3 405.3 276.8 406.1 276.3 406.9 275.7 407.7 275.2 408.5 274.6 409.3 274.1 410 273.6 410.8 273 411.5 272.5 412.2 271.9 412.9 271.4 413.5 270.9 414.1 270.3 414.7 269.8 415.3 269.2 415.9 268.7 416.5 268.2 417 267.6 417.5 267.1 418 266.5 418.5 266 419 265.4 419.4 264.9 419.9 264.4 420.3 263.8 420.7 263.3 421.1 262.7 421.5 262.2 421.9 261.7 422.2 261.1 422.6 260.6 423 260 423.3 259.5 423.6 259 423.9 258.4 424.2 257.9 424.4 257.3 424.7 256.8 424.9 256.3 425.1 255.7 425.3 255.2 425.5 254.6 425.7 254.1 425.9 253.5 426.1 253 426.3 252.5 426.4 251.9 426.6 251.4 426.7 250.8 426.8 250.3 426.8 249.8 426.8 249.2 426.7 248.7 426.5 248.1 426.3 247.6 426 247.1 425.6 246.5 425.3 246 424.9 245.4 424.6 244.9 424.2 244.4 423.9 243.8 423.5 243.3 423.2 242.7 422.8 242.2 422.4 241.6 421.9 241.1 421.5 240.6 421.1 240 420.6 239.5 420.2 238.9 419.8 238.4 419.3 237.9 418.9 237.3 418.4 236.8 418 236.2 417.5 235.7 417 235.2 416.6 234.6 416.1 234.1 415.6 233.5 415.1 233 414.6 232.5 414.1 231.9 413.6 231.4 413.1 230.8 412.6 230.3 412.1 229.7 411.6 229.2 411.1 228.7 410.5 228.1 410 227.6 409.4 227 408.9 226.5 408.3 226 407.8 225.4 407.2 224.9 406.7 224.3 406.1 223.8 405.6 223.3 405.1 222.7 404.5 222.2 404 221.6 403.4 221.1 402.9 220.6 402.3 220 401.8 219.5 401.3 218.9 400.7 218.4 400.2 217.8 399.7 217.3 399.2 216.8 398.7 216.2 398.2 215.7 397.8 215.1 397.4 214.6 397 214.1 396.7 213.5 396.3 213 396 212.4 395.6 211.9 395.3 211.4 395 210.8 394.7 210.3 394.4 209.7 394.1 209.2 393.8 208.7 393.6 208.1 393.3 207.6 393.1 207 392.8 206.5 392.6 205.9 392.3 205.4 392.1 204.9 391.9 204.3 391.7 203.8 391.5 203.2 391.3 202.7 391.1 202.2 390.9 201.6 390.7 201.1 390.5 200.5 390.4 200 390.2Z" fill="#ff0000" fill-opacity="0.3" stroke="none"/>
<g fill="#ff0000" fill-opacity="0.3"><circle cx="271.2" cy="367" r="3.2"/><circle cx="265.8" cy="419.1" r="3.2"/><circle cx="241.1" cy="368.7" r="3.2"/><circle cx="253.1" cy="395.8" r="3.2"/><circle cx="237.1" cy="364.9" r="3.2"/><circle cx="233.3" cy="414" r="3.2"/><circle cx="233.6" cy="365.3" r="3.2"/><circle cx="226" cy="396.6" r="3.2"/><circle cx="235.8" cy="408.6" r="3.2"/><circle cx="234.9" cy="379" r="3.2"/><circle cx="258.2" cy="355.9" r="3.2"/><circle cx="236.6" cy="363.9" r="3.2"/><circle cx="218.1" cy="380.9" r="3.2"/><circle cx="246" cy="407.7" r="3.2"/><circle cx="233.3" cy="391.2" r="3.2"/><circle cx="259.1" cy="416.8" r="3.2"/><circle cx="234.7" cy="396.8" r="3.2"/><circle cx="252.5" cy="396.7" r="3.2"/><circle cx="231.5" cy="375.8" r="3.2"/><circle cx="248.9" cy="369.5" r="3.2"/><circle cx="269.5" cy="414.5" r="3.2"/><circle cx="239.7" cy="417.4" r="3.2"/><circle cx="251.1" cy="385.2" r="3.2"/><circle cx="246.8" cy="410.9" r="3.2"/><circle cx="221.5" cy="395.8" r="3.2"/><circle cx="212.4" cy="387.2" r="3.2"/><circle cx="267.9" cy="373.3" r="3.2"/><circle cx="241.8" cy="405.8" r="3.2"/><circle cx="258.9" cy="421.4" r="3.2"/><circle cx="245.5" cy="423.5" r="3.2"/><circle cx="267.6" cy="381.9" r="3.2"/><circle cx="232.9" cy="368.3" r="3.2"/><circle cx="249" cy="376.5" r="3.2"/><circle cx="252.1" cy="358.2" r="3.2"/><circle cx="264.8" cy="419.2" r="3.2"/><circle cx="214.7" cy="387" r="3.2"/><circle cx="242.9" cy="412.8" r="3.2"/><circle cx="248.6" cy="371.2" r="3.2"/><circle cx="254" cy="423.1" r="3.2"/><circle cx="228.8" cy="389.3" r="3.2"/><circle cx="251.9" cy="414.4" r="3.2"/><circle cx="259.3" cy="396.5" r="3.2"/><circle cx="261.4" cy="407.2" r="3.2"/><circle cx="234.9" cy="367.2" r="3.2"/><circle cx="246.9" cy="360.3" r="3.2"/><circle cx="239.4" cy="381.1" r="3.2"/><circle cx="244.3" cy="415.5" r="3.2"/><circle cx="243" cy="416.9" r="3.2"/><circle cx="275.8" cy="397.3" r="3.2"/><circle cx="210" cy="390.7" r="3.2"/><circle cx="276.1" cy="374.2" r="3.2"/><circle cx="215.5" cy="396.6" r="3.2"/><circle cx="222.5" cy="394.4" r="3.2"/><circle cx="233.6" cy="395.7" r="3.2"/><circle cx="238.7" cy="410.2" r="3.2"/><circle cx="268.9" cy="375.8" r="3.2"/><circle cx="267.8" cy="396.4" r="3.2"/><circle cx="274.8" cy="396.8" r="3.2"/><circle cx="244.4" cy="407.3" r="3.2"/><circle cx="210.9" cy="385.8" r="3.2"/><circle cx="255.9" cy="406" r="3.2"/><circle cx="271.8" cy="408.5" r="3.2"/><circle cx="225.7" cy="394.3" r="3.2"/><circle cx="266.9" cy="371.1" r="3.2"/><circle cx="203" cy="391" r="3.2"/><circle cx="261.4" cy="363.8" r="3.2"/><circle cx="249.5" cy="369.9" r="3.2"/><circle cx="272.5" cy="405.7" r="3.2"/><circle cx="270" cy="394.3" r="3.2"/><circle cx="218.1" cy="386.5" r="3.2"/><circle cx="249.7" cy="412.2" r="3.2"/><circle cx="236" cy="397.9" r="3.2"/><circle cx="246.9" cy="362.5" r="3.2"/><circle cx="221.1" cy="382.8" r="3.2"/><circle cx="242.8" cy="410.3" r="3.2"/><circle cx="245.3" cy="411.4" r="3.2"/><circle cx="205" cy="388" r="3.2"/><circle cx="248.6" cy="391.4" r="3.2"/><circle cx="271.5" cy="399.9" r="3.2"/><circle cx="220.3" cy="385.5" r="3.2"/><circle cx="275.8" cy="374.3" r="3.2"/><circle cx="249.3" cy="383.7" r="3.2"/><circle cx="233.9" cy="412.1" r="3.2"/><circle cx="278.6" cy="396.1" r="3.2"/><circle cx="248.5" cy="368.8" r="3.2"/><circle cx="246.7" cy="414.4" r="3.2"/><circle cx="243.7" cy="401.1" r="3.2"/><circle cx="270.5" cy="379.4" r="3.2"/><circle cx="227.8" cy="380.6" r="3.2"/><circle cx="233.9" cy="373.2" r="3.2"/><circle cx="238.5" cy="384.2" r="3.2"/><circle cx="220.5" cy="386.3" r="3.2"/><circle cx="268" cy="378" r="3.2"/><circle cx="249.2" cy="417.4" r="3.2"/><circle cx="254.7" cy="408.5" r="3.2"/><circle cx="270.8" cy="389.4" r="3.2"/><circle cx="249.5" cy="424" r="3.2"/><circle cx="238.1" cy="400" r="3.2"/><circle cx="251.3" cy="423.2" r="3.2"/><circle cx="249.8" cy="413.8" r="3.2"/><circle cx="239.4" cy="398" r="3.2"/><circle cx="235.3" cy="400.2" r="3.2"/><circle cx="242.7" cy="407.9" r="3.2"/><circle cx="261.5" cy="406.5" r="3.2"/><circle cx="230.7" cy="406.8" r="3.2"/><circle cx="283.6" cy="387.8" r="3.2"/><circle cx="235.6" cy="382.4" r="3.2"/><circle cx="237.9" cy="375.1" r="3.2"/><circle cx="227.1" cy="406" r="3.2"/><circle cx="244.5" cy="417.4" r="3.2"/><circle cx="243.4" cy="385.9" r="3.2"/><circle cx="258.7" cy="383" r="3.2"/><circle cx="271.6" cy="372.5" r="3.2"/><circle cx="236.4" cy="416.2" r="3.2"/><circle cx="265.8" cy="399.9" r="3.2"/><circle cx="240" cy="418.3" r="3.2"/><circle cx="245.2" cy="399" r="3.2"/><circle cx="227.6" cy="390.3" r="3.2"/><circle cx="271.3" cy="401.6" r="3.2"/><circle cx="243.5" cy="415.7" r="3.2"/><circle cx="259.7" cy="413" r="3.2"/><circle cx="214" cy="387.7" r="3.2"/><circle cx="259.5" cy="390.3" r="3.2"/><circle cx="235" cy="413.5" r="3.2"/><circle cx="247.4" cy="390.3" r="3.2"/><circle cx="258.3" cy="410.6" r="3.2"/><circle cx="231.1" cy="390.9" r="3.2"/><circle cx="251.1" cy="414.4" r="3.2"/><circle cx="267.4" cy="365.7" r="3.2"/><circle cx="230.5" cy="367.3" r="3.2"/><circle cx="248.2" cy="359.9" r="3.2"/><circle cx="232.1" cy="386.7" r="3.2"/><circle cx="228.9" cy="384.2" r="3.2"/><circle cx="249.3" cy="423.7" r="3.2"/><circle cx="247.7" cy="425.8" r="3.2"/><circle cx="256.8" cy="364.2" r="3.2"/><circle cx="268.9" cy="407.5" r="3.2"/><circle cx="260" cy="390.4" r="3.2"/><circle cx="241.5" cy="411.7" r="3.2"/><circle cx="249.1" cy="380.2" r="3.2"/><circle cx="258.3" cy="408.6" r="3.2"/><circle cx="267.6" cy="362.3" r="3.2"/><circle cx="258.8" cy="387.6" r="3.2"/><circle cx="249.9" cy="377.4" r="3.2"/><circle cx="228.1" cy="379.8" r="3.2"/><circle cx="269.6" cy="379.5" r="3.2"/><circle cx="238.4" cy="385" r="3.2"/><circle cx="245.1" cy="389.5" r="3.2"/><circle cx="270.7" cy="391" r="3.2"/><circle cx="233.7" cy="401.8" r="3.2"/><circle cx="273" cy="404" r="3.2"/><circle cx="235.2" cy="414.5" r="3.2"/><circle cx="223.6" cy="395.1" r="3.2"/><circle cx="250.4" cy="371.8" r="3.2"/><circle cx="264.9" cy="394.5" r="3.2"/><circle cx="245" cy="385.6" r="3.2"/><circle cx="267.9" cy="375.2" r="3.2"/><circle cx="244.7" cy="378.3" r="3.2"/><circle cx="266.1" cy="374.1" r="3.2"/><circle cx="226.2" cy="391.2" r="3.2"/><circle cx="238.5" cy="364.1" r="3.2"/><circle cx="227.1" cy="391.5" r="3.2"/><circle cx="261.8" cy="384.1" r="3.2"/><circle cx="248.3" cy="353.7" r="3.2"/><circle cx="257.4" cy="374.2" r="3.2"/><circle cx="235.8" cy="415.5" r="3.2"/><circle cx="261.5" cy="395" r="3.2"/><circle cx="282.7" cy="383.3" r="3.2"/><circle cx="222.6" cy="392.1" r="3.2"/><circle cx="240.6" cy="402.6" r="3.2"/><circle cx="269.7" cy="371.1" r="3.2"/><circle cx="268.5" cy="384.6" r="3.2"/><circle cx="269.8" cy="375.2" r="3.2"/><circle cx="235" cy="392.1" r="3.2"/><circle cx="252.8" cy="413.4" r="3.2"/><circle cx="223.5" cy="381.8" r="3.2"/><circle cx="246.4" cy="364.2" r="3.2"/><circle cx="253.4" cy="363.6" r="3.2"/><circle cx="237" cy="396.3" r="3.2"/><circle cx="246" cy="359.5" r="3.2"/><circle cx="243.1" cy="391.6" r="3.2"/><circle cx="223.3" cy="399.3" r="3.2"/><circle cx="221.3" cy="396.9" r="3.2"/><circle cx="264.1" cy="400.2" r="3.2"/><circle cx="204.2" cy="388" r="3.2"/><circle cx="281.3" cy="388.5" r="3.2"/><circle cx="271.7" cy="377.8" r="3.2"/><circle cx="281.5" cy="390.1" r="3.2"/><circle cx="264.4" cy="368.6" r="3.2"/><circle cx="203.8" cy="388.6" r="3.2"/><circle cx="226.5" cy="406.5" r="3.2"/><circle cx="240.6" cy="413.6" r="3.2"/><circle cx="231.9" cy="370.6" r="3.2"/><circle cx="220.3" cy="397.8" r="3.2"/><circle cx="273.3" cy="371.2" r="3.2"/><circle cx="272.7" cy="382.7" r="3.2"/><circle cx="263.3" cy="420.7" r="3.2"/><circle cx="236.7" cy="414.6" r="3.2"/><circle cx="268.5" cy="388.1" r="3.2"/><circle cx="266.4" cy="401.5" r="3.2"/><circle cx="240.8" cy="382.4" r="3.2"/><circle cx="227.6" cy="403.5" r="3.2"/><circle cx="228.3" cy="382.3" r="3.2"/><circle cx="245.3" cy="369.4" r="3.2"/><circle cx="267.2" cy="369.8" r="3.2"/><circle cx="222.3" cy="393.5" r="3.2"/><circle cx="246.4" cy="393.9" r="3.2"/><circle cx="242.5" cy="416.2" r="3.2"/><circle cx="271.3" cy="373" r="3.2"/><circle cx="229.7" cy="403.1" r="3.2"/><circle cx="257.4" cy="420.7" r="3.2"/><circle cx="240.8" cy="405.3" r="3.2"/><circle cx="256.9" cy="362.8" r="3.2"/><circle cx="266.6" cy="369.9" r="3.2"/><circle cx="266.7" cy="366.3" r="3.2"/><circle cx="268.1" cy="380.7" r="3.2"/><circle cx="239.1" cy="405.4" r="3.2"/><circle cx="238.1" cy="369" r="3.2"/><circle cx="227.1" cy="387.8" r="3.2"/><circle cx="236.8" cy="364.1" r="3.2"/><circle cx="226.8" cy="396.5" r="3.2"/><circle cx="264.3" cy="365.3" r="3.2"/><circle cx="218.2" cy="395.8" r="3.2"/><circle cx="232.6" cy="395.3" r="3.2"/><circle cx="264.6" cy="371.1" r="3.2"/><circle cx="263.4" cy="402.2" r="3.2"/><circle cx="279.2" cy="386" r="3.2"/><circle cx="244" cy="391.4" r="3.2"/><circle cx="217.9" cy="390.9" r="3.2"/><circle cx="265.7" cy="376.4" r="3.2"/><circle cx="238.7" cy="384.9" r="3.2"/><circle cx="263.7" cy="407.6" r="3.2"/><circle cx="212" cy="393.9" r="3.2"/><circle cx="215.9" cy="395.5" r="3.2"/><circle cx="254.5" cy="394.7" r="3.2"/><circle cx="258.8" cy="415.2" r="3.2"/><circle cx="252.7" cy="363.5" r="3.2"/><circle cx="251.3" cy="425.5" r="3.2"/><circle cx="254.5" cy="357" r="3.2"/><circle cx="227.9" cy="405.7" r="3.2"/><circle cx="220.7" cy="397.2" r="3.2"/><circle cx="242.2" cy="382.6" r="3.2"/><circle cx="252.1" cy="411.1" r="3.2"/><circle cx="236.4" cy="415.3" r="3.2"/><circle cx="231.7" cy="373.9" r="3.2"/><circle cx="247.2" cy="400.5" r="3.2"/><circle cx="245.4" cy="355.4" r="3.2"/><circle cx="237.7" cy="399.3" r="3.2"/><circle cx="274.1" cy="372.1" r="3.2"/><circle cx="275.6" cy="395.8" r="3.2"/><circle cx="218.2" cy="380.2" r="3.2"/><circle cx="248.8" cy="382.7" r="3.2"/><circle cx="235.7" cy="409.8" r="3.2"/><circle cx="241.5" cy="377.4" r="3.2"/><circle cx="214.5" cy="396.5" r="3.2"/><circle cx="222.8" cy="389" r="3.2"/><circle cx="215.6" cy="384.7" r="3.2"/><circle cx="227.4" cy="406.8" r="3.2"/><circle cx="257" cy="365.7" r="3.2"/><circle cx="222.6" cy="392.5" r="3.2"/><circle cx="270.8" cy="411.4" r="3.2"/><circle cx="265.4" cy="416" r="3.2"/><circle cx="237.7" cy="393" r="3.2"/><circle cx="259.2" cy="370.3" r="3.2"/><circle cx="276.6" cy="389.8" r="3.2"/><circle cx="226.5" cy="382.1" r="3.2"/><circle cx="252.6" cy="376.2" r="3.2"/><circle cx="248.1" cy="376.5" r="3.2"/><circle cx="240.1" cy="371.4" r="3.2"/><circle cx="238.8" cy="362.3" r="3.2"/><circle cx="223.5" cy="397.6" r="3.2"/><circle cx="256.9" cy="355.7" r="3.2"/><circle cx="233" cy="393.4" r="3.2"/><circle cx="246" cy="380.5" r="3.2"/><circle cx="274.2" cy="395.8" r="3.2"/><circle cx="242.2" cy="395" r="3.2"/><circle cx="240.4" cy="388.5" r="3.2"/><circle cx="274.6" cy="400.6" r="3.2"/><circle cx="253.8" cy="395" r="3.2"/><circle cx="253.2" cy="418.8" r="3.2"/><circle cx="234.7" cy="394.3" r="3.2"/><circle cx="256.6" cy="416.3" r="3.2"/><circle cx="243.8" cy="414.4" r="3.2"/><circle cx="251.9" cy="405" r="3.2"/><circle cx="244.8" cy="378.1" r="3.2"/><circle cx="222.9" cy="389.4" r="3.2"/><circle cx="270.2" cy="368.7" r="3.2"/><circle cx="259.2" cy="405.1" r="3.2"/><circle cx="277.3" cy="394.4" r="3.2"/><circle cx="239.9" cy="409.3" r="3.2"/><circle cx="238.4" cy="365.3" r="3.2"/><circle cx="228.3" cy="374.7" r="3.2"/><circle cx="239.8" cy="398.8" r="3.2"/><circle cx="240.9" cy="404.4" r="3.2"/><circle cx="232.1" cy="369.4" r="3.2"/><circle cx="237.4" cy="362.9" r="3.2"/><circle cx="239.2" cy="379.2" r="3.2"/><circle cx="268.9" cy="381.3" r="3.2"/><circle cx="247.2" cy="357.6" r="3.2"/><circle cx="266.4" cy="366.6" r="3.2"/><circle cx="218.6" cy="383.5" r="3.2"/><circle cx="232.4" cy="366.2" r="3.2"/><circle cx="276.6" cy="378.2" r="3.2"/><circle cx="218.7" cy="379.6" r="3.2"/><circle cx="221.5" cy="386.3" r="3.2"/><circle cx="250.6" cy="408.2" r="3.2"/><circle cx="238.9" cy="399.5" r="3.2"/><circle cx="232.8" cy="395" r="3.2"/><circle cx="255" cy="387.5" r="3.2"/><circle cx="255" cy="367.4" r="3.2"/><circle cx="232.4" cy="367.9" r="3.2"/><circle cx="251.6" cy="366.6" r="3.2"/><circle cx="247.6" cy="422.2" r="3.2"/><circle cx="268.1" cy="406.9" r="3.2"/><circle cx="221.3" cy="391.7" r="3.2"/><circle cx="235.4" cy="395.9" r="3.2"/><circle cx="252.9" cy="407.7" r="3.2"/><circle cx="215.6" cy="394.9" r="3.2"/><circle cx="268.1" cy="375.7" r="3.2"/><circle cx="278.5" cy="398.2" r="3.2"/><circle cx="241.1" cy="399.2" r="3.2"/><circle cx="263.7" cy="376.1" r="3.2"/><circle cx="236.4" cy="378" r="3.2"/><circle cx="276.1" cy="378.5" r="3.2"/><circle cx="234" cy="392.2" r="3.2"/><circle cx="206.4" cy="392.4" r="3.2"/><circle cx="221.3" cy="397.5" r="3.2"/><circle cx="247.8" cy="365.6" r="3.2"/><circle cx="216.6" cy="383.1" r="3.2"/><circle cx="280.3" cy="384.9" r="3.2"/><circle cx="256.1" cy="366.1" r="3.2"/><circle cx="253.1" cy="363.7" r="3.2"/><circle cx="255.9" cy="406.2" r="3.2"/><circle cx="245.8" cy="376.8" r="3.2"/><circle cx="270.8" cy="393" r="3.2"/><circle cx="260.3" cy="377.5" r="3.2"/><circle cx="246.4" cy="424.1" r="3.2"/><circle cx="238.6" cy="395.3" r="3.2"/><circle cx="229" cy="374.6" r="3.2"/><circle cx="240.4" cy="407.1" r="3.2"/><circle cx="242.4" cy="376" r="3.2"/><circle cx="222.8" cy="388.5" r="3.2"/><circle cx="273.9" cy="381.1" r="3.2"/><circle cx="237" cy="389.2" r="3.2"/><circle cx="251.7" cy="375.6" r="3.2"/><circle cx="221" cy="385.1" r="3.2"/><circle cx="252.3" cy="364.7" r="3.2"/><circle cx="256.9" cy="422" r="3.2"/><circle cx="222.7" cy="381.2" r="3.2"/><circle cx="279.5" cy="384.5" r="3.2"/><circle cx="230.5" cy="385.8" r="3.2"/><circle cx="237.3" cy="367.9" r="3.2"/><circle cx="261.6" cy="372.2" r="3.2"/><circle cx="241.6" cy="383.9" r="3.2"/><circle cx="270.2" cy="394" r="3.2"/><circle cx="235.8" cy="391.8" r="3.2"/><circle cx="240.3" cy="381.6" r="3.2"/><circle cx="259.3" cy="401.8" r="3.2"/><circle cx="269" cy="402.7" r="3.2"/><circle cx="270.7" cy="378.3" r="3.2"/><circle cx="238.8" cy="374.3" r="3.2"/><circle cx="251.3" cy="399.1" r="3.2"/><circle cx="245.4" cy="383.6" r="3.2"/><circle cx="258.4" cy="412.5" r="3.2"/><circle cx="235.1" cy="363.6" r="3.2"/><circle cx="267.6" cy="392.1" r="3.2"/><circle cx="260.4" cy="379.7" r="3.2"/><circle cx="231.4" cy="376.4" r="3.2"/><circle cx="240.3" cy="412.6" r="3.2"/><circle cx="241.5" cy="371.7" r="3.2"/><circle cx="274.4" cy="401.2" r="3.2"/><circle cx="247.7" cy="415.5" r="3.2"/><circle cx="255.4" cy="423.1" r="3.2"/><circle cx="274.5" cy="374.7" r="3.2"/><circle cx="244.7" cy="366.2" r="3.2"/><circle cx="275.9" cy="375.2" r="3.2"/><circle cx="239" cy="379" r="3.2"/><circle cx="209.7" cy="393.3" r="3.2"/><circle cx="225.2" cy="394.7" r="3.2"/><circle cx="259.3" cy="366.4" r="3.2"/><circle cx="243.9" cy="363.1" r="3.2"/><circle cx="267.3" cy="403.8" r="3.2"/><circle cx="251.3" cy="398.9" r="3.2"/><circle cx="258.9" cy="355.8" r="3.2"/><circle cx="242.4" cy="395.5" r="3.2"/><circle cx="254" cy="367.4" r="3.2"/><circle cx="259.6" cy="375.9" r="3.2"/><circle cx="243.7" cy="362.9" r="3.2"/><circle cx="249.3" cy="426.1" r="3.2"/><circle cx="267.9" cy="387.4" r="3.2"/><circle cx="274.3" cy="394.5" r="3.2"/><circle cx="242.3" cy="370.5" r="3.2"/><circle cx="221.2" cy="386.5" r="3.2"/><circle cx="267.8" cy="397.9" r="3.2"/><circle cx="247.2" cy="407.5" r="3.2"/><circle cx="278.6" cy="400.9" r="3.2"/><circle cx="263.1" cy="373.9" r="3.2"/><circle cx="243.2" cy="372.5" r="3.2"/><circle cx="268.4" cy="384.6" r="3.2"/><circle cx="252.1" cy="375.7" r="3.2"/><circle cx="260.4" cy="411.1" r="3.2"/><circle cx="270.8" cy="383.5" r="3.2"/><circle cx="253.6" cy="380.6" r="3.2"/><circle cx="276.1" cy="389.9" r="3.2"/><circle cx="244.8" cy="394.2" r="3.2"/><circle cx="243.8" cy="379.9" r="3.2"/><circle cx="256.6" cy="355.3" r="3.2"/><circle cx="245.1" cy="406.1" r="3.2"/><circle cx="260.1" cy="364" r="3.2"/><circle cx="251.3" cy="415.9" r="3.2"/><circle cx="261.9" cy="373.5" r="3.2"/><circle cx="266.8" cy="375.9" r="3.2"/><circle cx="253" cy="392.4" r="3.2"/><circle cx="273" cy="407.5" r="3.2"/><circle cx="264.1" cy="382.5" r="3.2"/><circle cx="268.8" cy="388.8" r="3.2"/><circle cx="212.1" cy="388.8" r="3.2"/><circle cx="210.7" cy="386" r="3.2"/><circle cx="256.3" cy="374.9" r="3.2"/><circle cx="241.3" cy="416.4" r="3.2"/><circle cx="269.9" cy="412.1" r="3.2"/><circle cx="244.5" cy="373.1" r="3.2"/><circle cx="262" cy="416.9" r="3.2"/><circle cx="236.3" cy="363" r="3.2"/><circle cx="256.1" cy="405.3" r="3.2"/><circle cx="271.9" cy="367.9" r="3.2"/><circle cx="269.2" cy="385.9" r="3.2"/><circle cx="243.1" cy="384" r="3.2"/><circle cx="248.9" cy="385" r="3.2"/><circle cx="251.5" cy="422.3" r="3.2"/><circle cx="242" cy="380.2" r="3.2"/><circle cx="249" cy="354.3" r="3.2"/><circle cx="278" cy="378.5" r="3.2"/><circle cx="270.4" cy="402.2" r="3.2"/><circle cx="240.3" cy="366.7" r="3.2"/><circle cx="258.8" cy="359.6" r="3.2"/><circle cx="276.2" cy="379.3" r="3.2"/><circle cx="242.9" cy="421.4" r="3.2"/><circle cx="268.2" cy="386.8" r="3.2"/><circle cx="265.1" cy="368.7" r="3.2"/><circle cx="270.9" cy="397.5" r="3.2"/><circle cx="223.3" cy="386.1" r="3.2"/><circle cx="273.8" cy="392" r="3.2"/><circle cx="280.4" cy="400.7" r="3.2"/><circle cx="236" cy="400.7" r="3.2"/><circle cx="256.2" cy="392.3" r="3.2"/><circle cx="223.9" cy="405.6" r="3.2"/><circle cx="254.7" cy="390.2" r="3.2"/><circle cx="260.1" cy="386.6" r="3.2"/><circle cx="262.1" cy="412.3" r="3.2"/><circle cx="268.8" cy="414.1" r="3.2"/><circle cx="239.1" cy="403" r="3.2"/><circle cx="226.5" cy="384.8" r="3.2"/><circle cx="266.2" cy="384.2" r="3.2"/><circle cx="213.8" cy="383.2" r="3.2"/><circle cx="235.4" cy="375.7" r="3.2"/><circle cx="235.7" cy="404.9" r="3.2"/><circle cx="263.8" cy="389.1" r="3.2"/><circle cx="247" cy="415.3" r="3.2"/><circle cx="267.6" cy="399.3" r="3.2"/><circle cx="258" cy="394.4" r="3.2"/><circle cx="267.9" cy="406.6" r="3.2"/><circle cx="264.4" cy="389.7" r="3.2"/><circle cx="270.4" cy="398.1" r="3.2"/><circle cx="238.1" cy="389.2" r="3.2"/><circle cx="242.6" cy="380.1" r="3.2"/><circle cx="256" cy="408.6" r="3.2"/><circle cx="253.8" cy="358.7" r="3.2"/><circle cx="263.9" cy="419.2" r="3.2"/><circle cx="265.7" cy="416.9" r="3.2"/><circle cx="239.8" cy="410" r="3.2"/><circle cx="227" cy="388.6" r="3.2"/><circle cx="261.9" cy="386.6" r="3.2"/><circle cx="259" cy="383.2" r="3.2"/><circle cx="238.1" cy="387.4" r="3.2"/><circle cx="219.8" cy="383.3" r="3.2"/><circle cx="213.1" cy="393.5" r="3.2"/><circle cx="236.4" cy="411" r="3.2"/><circle cx="237.9" cy="389.8" r="3.2"/><circle cx="233.7" cy="407.8" r="3.2"/><circle cx="218.8" cy="385.3" r="3.2"/><circle cx="231.1" cy="406.4" r="3.2"/><circle cx="242.3" cy="420.7" r="3.2"/><circle cx="224.1" cy="395.3" r="3.2"/><circle cx="233.7" cy="413.3" r="3.2"/><circle cx="246.8" cy="405.9" r="3.2"/><circle cx="268.2" cy="400.3" r="3.2"/><circle cx="269.8" cy="388.4" r="3.2"/><circle cx="245.1" cy="359.4" r="3.2"/><circle cx="227.4" cy="375.2" r="3.2"/><circle cx="237.7" cy="408.8" r="3.2"/><circle cx="258.3" cy="367.9" r="3.2"/><circle cx="245.3" cy="402.7" r="3.2"/><circle cx="253.1" cy="365" r="3.2"/><circle cx="261.6" cy="406.4" r="3.2"/><circle cx="257.5" cy="421.5" r="3.2"/><circle cx="269" cy="396" r="3.2"/><circle cx="223.4" cy="375.6" r="3.2"/><circle cx="239.3" cy="404.1" r="3.2"/><circle cx="215.8" cy="389.4" r="3.2"/><circle cx="250.8" cy="416.8" r="3.2"/><circle cx="255.3" cy="364.8" r="3.2"/><circle cx="236.7" cy="377.5" r="3.2"/><circle cx="219.5" cy="399.5" r="3.2"/><circle cx="248" cy="414.4" r="3.2"/><circle cx="230.9" cy="408.5" r="3.2"/><circle cx="232.8" cy="390.8" r="3.2"/><circle cx="243.9" cy="401.6" r="3.2"/><circle cx="275.8" cy="405.1" r="3.2"/><circle cx="242.8" cy="400.4" r="3.2"/><circle cx="260.1" cy="362.2" r="3.2"/><circle cx="243.5" cy="366.7" r="3.2"/><circle cx="245.2" cy="355.4" r="3.2"/><circle cx="228.6" cy="373.7" r="3.2"/><circle cx="232.1" cy="367.1" r="3.2"/><circle cx="263.5" cy="382.6" r="3.2"/><circle cx="246.4" cy="398.1" r="3.2"/><circle cx="238.6" cy="411.3" r="3.2"/><circle cx="281.5" cy="388.1" r="3.2"/><circle cx="270.3" cy="372.9" r="3.2"/><circle cx="237.4" cy="413.3" r="3.2"/><circle cx="246.6" cy="419.4" r="3.2"/><circle cx="253" cy="424.7" r="3.2"/><circle cx="230.7" cy="368.1" r="3.2"/><circle cx="246.3" cy="396.2" r="3.2"/><circle cx="238.6" cy="397.5" r="3.2"/><circle cx="265.8" cy="391.8" r="3.2"/><circle cx="224.4" cy="379.6" r="3.2"/><circle cx="282.4" cy="396.4" r="3.2"/><circle cx="235.6" cy="391.8" r="3.2"/><circle cx="241.2" cy="360.3" r="3.2"/><circle cx="222.2" cy="385.4" r="3.2"/><circle cx="272.9" cy="399.7" r="3.2"/><circle cx="266.9" cy="372.9" r="3.2"/><circle cx="221.2" cy="397.1" r="3.2"/><circle cx="251.1" cy="368.4" r="3.2"/><circle cx="244.4" cy="385.2" r="3.2"/><circle cx="254.9" cy="374.9" r="3.2"/><circle cx="241.5" cy="366" r="3.2"/><circle cx="277" cy="402" r="3.2"/><circle cx="234.4" cy="381.5" r="3.2"/><circle cx="266.4" cy="404.3" r="3.2"/><circle cx="237.6" cy="412.4" r="3.2"/><circle cx="257.1" cy="374.6" r="3.2"/><circle cx="246.3" cy="354.9" r="3.2"/><circle cx="251" cy="391.7" r="3.2"/><circle cx="250.8" cy="370.2" r="3.2"/><circle cx="255.9" cy="416.3" r="3.2"/><circle cx="221.3" cy="380.9" r="3.2"/><circle cx="220.1" cy="395.2" r="3.2"/><circle cx="278.8" cy="377.2" r="3.2"/><circle cx="236.7" cy="376.9" r="3.2"/><circle cx="242.6" cy="369.9" r="3.2"/><circle cx="235.9" cy="409.1" r="3.2"/><circle cx="256.9" cy="396.7" r="3.2"/><circle cx="280.9" cy="393.1" r="3.2"/><circle cx="245" cy="361" r="3.2"/><circle cx="240.7" cy="377.8" r="3.2"/><circle cx="242.2" cy="415.4" r="3.2"/><circle cx="214.2" cy="391.4" r="3.2"/><circle cx="223.9" cy="398" r="3.2"/><circle cx="218.4" cy="389.8" r="3.2"/><circle cx="240.8" cy="371.2" r="3.2"/><circle cx="280.9" cy="398.2" r="3.2"/><circle cx="228.7" cy="380" r="3.2"/><circle cx="252.1" cy="365.6" r="3.2"/><circle cx="233.7" cy="397.4" r="3.2"/><circle cx="216.3" cy="382.8" r="3.2"/><circle cx="267.5" cy="404.5" r="3.2"/><circle cx="227.5" cy="398.1" r="3.2"/><circle cx="228.2" cy="385.1" r="3.2"/><circle cx="266.3" cy="390.7" r="3.2"/><circle cx="236.1" cy="389.1" r="3.2"/><circle cx="233.1" cy="368.6" r="3.2"/><circle cx="275.6" cy="374.7" r="3.2"/><circle cx="232.8" cy="382.5" r="3.2"/><circle cx="267.2" cy="362" r="3.2"/><circle cx="239.9" cy="370.5" r="3.2"/><circle cx="252.9" cy="380" r="3.2"/><circle cx="240.1" cy="397.7" r="3.2"/><circle cx="241.7" cy="390.8" r="3.2"/><circle cx="274.6" cy="377.1" r="3.2"/><circle cx="272.5" cy="401.4" r="3.2"/><circle cx="231.4" cy="403.6" r="3.2"/><circle cx="261" cy="400.5" r="3.2"/><circle cx="228.6" cy="397.6" r="3.2"/><circle cx="239.5" cy="374.8" r="3.2"/><circle cx="221.6" cy="399" r="3.2"/><circle cx="257" cy="395.8" r="3.2"/><circle cx="261.1" cy="368.6" r="3.2"/><circle cx="262.1" cy="401.6" r="3.2"/><circle cx="263.7" cy="397.7" r="3.2"/><circle cx="244.6" cy="394.5" r="3.2"/><circle cx="231.6" cy="388.4" r="3.2"/><circle cx="205.3" cy="391" r="3.2"/><circle cx="246.9" cy="406.2" r="3.2"/><circle cx="274.7" cy="393.3" r="3.2"/><circle cx="247.3" cy="358.6" r="3.2"/><circle cx="255.4" cy="370.7" r="3.2"/><circle cx="273.2" cy="410.3" r="3.2"/><circle cx="269.2" cy="384.7" r="3.2"/><circle cx="261.8" cy="398.4" r="3.2"/><circle cx="254.2" cy="363.2" r="3.2"/><circle cx="235.3" cy="393.6" r="3.2"/><circle cx="262.3" cy="396.8" r="3.2"/><circle cx="245.8" cy="408.1" r="3.2"/><circle cx="260" cy="421.2" r="3.2"/><circle cx="234.8" cy="387.5" r="3.2"/><circle cx="275.4" cy="382.9" r="3.2"/><circle cx="230.6" cy="374.4" r="3.2"/><circle cx="264.7" cy="379.8" r="3.2"/><circle cx="271.2" cy="387.1" r="3.2"/><circle cx="229.6" cy="409.9" r="3.2"/><circle cx="269.4" cy="390.4" r="3.2"/><circle cx="256.8" cy="402.1" r="3.2"/><circle cx="254.8" cy="406.6" r="3.2"/><circle cx="236.8" cy="362.4" r="3.2"/><circle cx="241.1" cy="372.9" r="3.2"/><circle cx="235.6" cy="392" r="3.2"/><circle cx="247" cy="358.1" r="3.2"/><circle cx="257" cy="365.3" r="3.2"/><circle cx="261.2" cy="406.3" r="3.2"/><circle cx="260" cy="401.5" r="3.2"/><circle cx="242.1" cy="366.3" r="3.2"/><circle cx="241.5" cy="365.3" r="3.2"/><circle cx="263.1" cy="411.4" r="3.2"/><circle cx="279.3" cy="389.1" r="3.2"/><circle cx="234.7" cy="380.1" r="3.2"/><circle cx="245.5" cy="405.1" r="3.2"/><circle cx="238.1" cy="399.7" r="3.2"/><circle cx="279.4" cy="402.2" r="3.2"/><circle cx="211.1" cy="385.8" r="3.2"/><circle cx="271.3" cy="402.6" r="3.2"/><circle cx="263.3" cy="387.3" r="3.2"/><circle cx="241.3" cy="373.8" r="3.2"/><circle cx="258.6" cy="389.7" r="3.2"/><circle cx="243.3" cy="357.8" r="3.2"/><circle cx="256.4" cy="363.3" r="3.2"/><circle cx="246.2" cy="362.2" r="3.2"/><circle cx="273.1" cy="398.1" r="3.2"/><circle cx="247.7" cy="404.9" r="3.2"/><circle cx="266" cy="374.8" r="3.2"/><circle cx="253.4" cy="375.8" r="3.2"/><circle cx="243.5" cy="408.1" r="3.2"/><circle cx="278.3" cy="386.6" r="3.2"/><circle cx="232.9" cy="382.3" r="3.2"/><circle cx="272.5" cy="409.7" r="3.2"/><circle cx="280.4" cy="390.8" r="3.2"/><circle cx="268.3" cy="391.9" r="3.2"/><circle cx="255.1" cy="397.7" r="3.2"/><circle cx="255.7" cy="357.2" r="3.2"/><circle cx="274.3" cy="385.8" r="3.2"/><circle cx="246.5" cy="410.3" r="3.2"/><circle cx="266.7" cy="398.4" r="3.2"/><circle cx="263.7" cy="414" r="3.2"/><circle cx="268.9" cy="379.8" r="3.2"/><circle cx="246.9" cy="388.1" r="3.2"/><circle cx="257.2" cy="371.3" r="3.2"/><circle cx="224.1" cy="379.7" r="3.2"/><circle cx="221.8" cy="378.5" r="3.2"/><circle cx="225.7" cy="379.1" r="3.2"/><circle cx="261.5" cy="367.9" r="3.2"/><circle cx="242.5" cy="385.8" r="3.2"/><circle cx="272.6" cy="385.8" r="3.2"/><circle cx="222.7" cy="397.6" r="3.2"/><circle cx="231.2" cy="402.7" r="3.2"/><circle cx="267.5" cy="392.1" r="3.2"/><circle cx="245.8" cy="400.8" r="3.2"/><circle cx="234.6" cy="388.1" r="3.2"/><circle cx="264.1" cy="378.2" r="3.2"/><circle cx="235.5" cy="390" r="3.2"/><circle cx="279.2" cy="393.1" r="3.2"/><circle cx="238" cy="416.4" r="3.2"/><circle cx="268.9" cy="406.5" r="3.2"/><circle cx="248.8" cy="357.9" r="3.2"/><circle cx="274.9" cy="395.2" r="3.2"/><circle cx="239.3" cy="365.1" r="3.2"/><circle cx="274" cy="394.8" r="3.2"/><circle cx="239.7" cy="411.1" r="3.2"/><circle cx="247.3" cy="404.1" r="3.2"/><circle cx="256.2" cy="362.9" r="3.2"/><circle cx="252.4" cy="384.2" r="3.2"/><circle cx="258.1" cy="368.8" r="3.2"/><circle cx="259.4" cy="400.7" r="3.2"/><circle cx="237.6" cy="402" r="3.2"/><circle cx="208" cy="391.4" r="3.2"/><circle cx="260.9" cy="380.3" r="3.2"/><circle cx="254.6" cy="396.8" r="3.2"/><circle cx="252.8" cy="368.5" r="3.2"/><circle cx="249.6" cy="421.6" r="3.2"/><circle cx="274.2" cy="407.4" r="3.2"/><circle cx="239.3" cy="361.4" r="3.2"/><circle cx="272.8" cy="392.6" r="3.2"/><circle cx="230.9" cy="399.8" r="3.2"/><circle cx="259.4" cy="371.6" r="3.2"/><circle cx="275.5" cy="372.8" r="3.2"/><circle cx="229.8" cy="368" r="3.2"/><circle cx="263.5" cy="402.7" r="3.2"/><circle cx="237.9" cy="361.4" r="3.2"/><circle cx="220.1" cy="387.1" r="3.2"/><circle cx="246.5" cy="411" r="3.2"/><circle cx="259.6" cy="359.6" r="3.2"/><circle cx="238.5" cy="402" r="3.2"/><circle cx="276.4" cy="387.5" r="3.2"/><circle cx="203.6" cy="389.4" r="3.2"/><circle cx="237.6" cy="388.9" r="3.2"/><circle cx="241.8" cy="380.2" r="3.2"/><circle cx="243.4" cy="414" r="3.2"/><circle cx="239.5" cy="400.1" r="3.2"/><circle cx="212.6" cy="388.5" r="3.2"/><circle cx="233.9" cy="370.3" r="3.2"/><circle cx="237.2" cy="390" r="3.2"/><circle cx="258.2" cy="424.2" r="3.2"/><circle cx="243.7" cy="416.2" r="3.2"/><circle cx="260.8" cy="361.3" r="3.2"/><circle cx="247" cy="379.5" r="3.2"/><circle cx="241.8" cy="387.8" r="3.2"/><circle cx="230.2" cy="385.6" r="3.2"/><circle cx="235.1" cy="369.1" r="3.2"/><circle cx="272" cy="375.4" r="3.2"/><circle cx="247.6" cy="392.3" r="3.2"/><circle cx="240.3" cy="403.5" r="3.2"/><circle cx="234.5" cy="401.1" r="3.2"/><circle cx="270.2" cy="398.4" r="3.2"/><circle cx="259.9" cy="401.5" r="3.2"/><circle cx="259.4" cy="356.5" r="3.2"/><circle cx="265.5" cy="373.1" r="3.2"/><circle cx="236" cy="380.8" r="3.2"/><circle cx="261.3" cy="373.9" r="3.2"/><circle cx="221.7" cy="386.7" r="3.2"/><circle cx="257.8" cy="382.8" r="3.2"/><circle cx="240.8" cy="379.7" r="3.2"/><circle cx="257.7" cy="355.8" r="3.2"/><circle cx="235" cy="409.2" r="3.2"/><circle cx="242.5" cy="419.7" r="3.2"/><circle cx="258.1" cy="397.8" r="3.2"/><circle cx="275.3" cy="381.4" r="3.2"/><circle cx="241.8" cy="386.6" r="3.2"/><circle cx="231" cy="408.7" r="3.2"/><circle cx="227.3" cy="393.7" r="3.2"/><circle cx="258.2" cy="403.4" r="3.2"/><circle cx="271.5" cy="399.3" r="3.2"/><circle cx="211.3" cy="394.7" r="3.2"/><circle cx="242" cy="399.8" r="3.2"/><circle cx="230.9" cy="371.8" r="3.2"/><circle cx="276.9" cy="390" r="3.2"/><circle cx="228" cy="406.7" r="3.2"/><circle cx="221.4" cy="379.9" r="3.2"/><circle cx="263.4" cy="361.8" r="3.2"/><circle cx="284.7" cy="386.1" r="3.2"/><circle cx="263.7" cy="363.1" r="3.2"/><circle cx="226.4" cy="377.4" r="3.2"/><circle cx="245.3" cy="408.6" r="3.2"/><circle cx="250.7" cy="397.2" r="3.2"/><circle cx="271.8" cy="400.6" r="3.2"/><circle cx="262.5" cy="393.4" r="3.2"/><circle cx="220.2" cy="386.2" r="3.2"/><circle cx="247.5" cy="410.5" r="3.2"/><circle cx="264" cy="369.5" r="3.2"/><circle cx="251.8" cy="379.5" r="3.2"/><circle cx="257.9" cy="383.9" r="3.2"/><circle cx="278.4" cy="394.8" r="3.2"/><circle cx="280" cy="395.9" r="3.2"/><circle cx="267.5" cy="393.5" r="3.2"/><circle cx="253.2" cy="397.7" r="3.2"/><circle cx="239.9" cy="376.3" r="3.2"/><circle cx="230.2" cy="394" r="3.2"/><circle cx="230.8" cy="405.5" r="3.2"/><circle cx="256.6" cy="385.5" r="3.2"/><circle cx="263.6" cy="405.4" r="3.2"/><circle cx="268.9" cy="390.2" r="3.2"/><circle cx="273" cy="390.4" r="3.2"/><circle cx="238.8" cy="396.2" r="3.2"/><circle cx="241.4" cy="366.8" r="3.2"/><circle cx="232.9" cy="375.7" r="3.2"/><circle cx="251.9" cy="365.9" r="3.2"/><circle cx="276" cy="391" r="3.2"/><circle cx="262.8" cy="400.5" r="3.2"/><circle cx="246.7" cy="404.6" r="3.2"/><circle cx="230.2" cy="376.8" r="3.2"/><circle cx="267.9" cy="380.7" r="3.2"/><circle cx="271.6" cy="373.2" r="3.2"/><circle cx="263.4" cy="399.4" r="3.2"/><circle cx="239" cy="385" r="3.2"/><circle cx="244.4" cy="374.3" r="3.2"/><circle cx="253.8" cy="369.9" r="3.2"/><circle cx="273.3" cy="408.9" r="3.2"/><circle cx="236" cy="388.8" r="3.2"/><circle cx="245.9" cy="424.2" r="3.2"/><circle cx="220.2" cy="385.4" r="3.2"/><circle cx="204.4" cy="388.7" r="3.2"/><circle cx="236.1" cy="401.7" r="3.2"/><circle cx="265.8" cy="414" r="3.2"/><circle cx="258.4" cy="366.7" r="3.2"/><circle cx="248.7" cy="416.4" r="3.2"/><circle cx="245.4" cy="395.9" r="3.2"/><circle cx="237.4" cy="413" r="3.2"/><circle cx="263.3" cy="417.8" r="3.2"/><circle cx="249.2" cy="384.4" r="3.2"/><circle cx="221.5" cy="401.8" r="3.2"/><circle cx="255.9" cy="367.2" r="3.2"/><circle cx="282.8" cy="389" r="3.2"/><circle cx="221.9" cy="388.2" r="3.2"/><circle cx="284" cy="387" r="3.2"/><circle cx="224.9" cy="389.3" r="3.2"/><circle cx="239.9" cy="405.3" r="3.2"/><circle cx="279.6" cy="380.3" r="3.2"/><circle cx="279" cy="389.3" r="3.2"/><circle cx="232.1" cy="391" r="3.2"/><circle cx="260.7" cy="369.7" r="3.2"/><circle cx="255.2" cy="399.9" r="3.2"/><circle cx="244.8" cy="372.8" r="3.2"/><circle cx="264.3" cy="394.1" r="3.2"/><circle cx="256.3" cy="394.9" r="3.2"/><circle cx="234.9" cy="403" r="3.2"/><circle cx="249.3" cy="421.9" r="3.2"/><circle cx="260.2" cy="418.3" r="3.2"/><circle cx="255.7" cy="389.9" r="3.2"/><circle cx="251.8" cy="372.3" r="3.2"/><circle cx="261.7" cy="373.1" r="3.2"/><circle cx="228.2" cy="401.4" r="3.2"/><circle cx="217.5" cy="394.8" r="3.2"/><circle cx="215.5" cy="394.4" r="3.2"/><circle cx="255.6" cy="413.5" r="3.2"/><circle cx="246.6" cy="394.4" r="3.2"/><circle cx="267.4" cy="412" r="3.2"/><circle cx="278.9" cy="393.9" r="3.2"/><circle cx="226.1" cy="394.6" r="3.2"/><circle cx="243.8" cy="412.5" r="3.2"/><circle cx="245.9" cy="400.5" r="3.2"/><circle cx="252" cy="409.5" r="3.2"/><circle cx="272.6" cy="408.9" r="3.2"/><circle cx="254.6" cy="382.3" r="3.2"/><circle cx="239.8" cy="405.2" r="3.2"/><circle cx="257.7" cy="375.8" r="3.2"/><circle cx="241.1" cy="388.9" r="3.2"/><circle cx="252.4" cy="417.2" r="3.2"/><circle cx="224.8" cy="405.7" r="3.2"/><circle cx="252.8" cy="422.5" r="3.2"/><circle cx="248.8" cy="408.7" r="3.2"/><circle cx="256.9" cy="414.2" r="3.2"/><circle cx="253" cy="417.9" r="3.2"/><circle cx="253.3" cy="397.8" r="3.2"/><circle cx="261.7" cy="373.2" r="3.2"/><circle cx="228.1" cy="370.4" r="3.2"/><circle cx="262.4" cy="406.5" r="3.2"/><circle cx="255.8" cy="408.3" r="3.2"/><circle cx="259.1" cy="405.5" r="3.2"/><circle cx="244.9" cy="395.3" r="3.2"/><circle cx="223.4" cy="394.6" r="3.2"/><circle cx="273.7" cy="398.9" r="3.2"/><circle cx="266.9" cy="391.6" r="3.2"/><circle cx="279.6" cy="393.7" r="3.2"/><circle cx="247.9" cy="369.8" r="3.2"/><circle cx="270.8" cy="391.5" r="3.2"/><circle cx="269.8" cy="396.4" r="3.2"/><circle cx="252.2" cy="394.8" r="3.2"/><circle cx="271.9" cy="378.6" r="3.2"/><circle cx="266.1" cy="368.1" r="3.2"/><circle cx="225.2" cy="395.1" r="3.2"/><circle cx="228.1" cy="374.2" r="3.2"/><circle cx="245.3" cy="410.2" r="3.2"/><circle cx="251.3" cy="366.3" r="3.2"/><circle cx="257.2" cy="408.8" r="3.2"/><circle cx="252.9" cy="379.3" r="3.2"/><circle cx="270.1" cy="410" r="3.2"/><circle cx="265.3" cy="373.5" r="3.2"/><circle cx="225.2" cy="378" r="3.2"/><circle cx="241.7" cy="401.1" r="3.2"/><circle cx="271" cy="403" r="3.2"/><circle cx="262.6" cy="380.2" r="3.2"/><circle cx="210.8" cy="389.5" r="3.2"/><circle cx="255.9" cy="401.3" r="3.2"/><circle cx="227.5" cy="381.8" r="3.2"/><circle cx="249.9" cy="381.6" r="3.2"/><circle cx="283.1" cy="390.7" r="3.2"/><circle cx="222.2" cy="384.2" r="3.2"/><circle cx="266.7" cy="369.5" r="3.2"/><circle cx="249" cy="419.9" r="3.2"/><circle cx="280" cy="381.1" r="3.2"/><circle cx="269" cy="415.5" r="3.2"/><circle cx="220.9" cy="398.7" r="3.2"/><circle cx="256.7" cy="386.1" r="3.2"/><circle cx="269" cy="408.8" r="3.2"/><circle cx="238.3" cy="364.2" r="3.2"/><circle cx="259.9" cy="394" r="3.2"/><circle cx="236.8" cy="381.6" r="3.2"/><circle cx="233.6" cy="379.7" r="3.2"/><circle cx="241.3" cy="415" r="3.2"/><circle cx="239.1" cy="362" r="3.2"/><circle cx="277.8" cy="400.6" r="3.2"/><circle cx="235.5" cy="367" r="3.2"/><circle cx="246.1" cy="402.3" r="3.2"/><circle cx="249.1" cy="374" r="3.2"/><circle cx="259.2" cy="391.6" r="3.2"/><circle cx="278.7" cy="401.3" r="3.2"/><circle cx="255.3" cy="411" r="3.2"/><circle cx="269.1" cy="368.7" r="3.2"/><circle cx="227.9" cy="382" r="3.2"/><circle cx="257.7" cy="389" r="3.2"/><circle cx="231.2" cy="399.9" r="3.2"/><circle cx="269.8" cy="364.6" r="3.2"/><circle cx="254.4" cy="416" r="3.2"/><circle cx="228.3" cy="403.7" r="3.2"/><circle cx="268.4" cy="414.4" r="3.2"/><circle cx="251" cy="367.8" r="3.2"/><circle cx="249.1" cy="368.7" r="3.2"/><circle cx="222.9" cy="399.7" r="3.2"/><circle cx="272.4" cy="390.5" r="3.2"/><circle cx="250.4" cy="371" r="3.2"/><circle cx="269.3" cy="364.7" r="3.2"/><circle cx="222.2" cy="381.7" r="3.2"/><circle cx="258.6" cy="401.8" r="3.2"/><circle cx="243.6" cy="405.4" r="3.2"/><circle cx="251.5" cy="379.1" r="3.2"/><circle cx="255.8" cy="419.4" r="3.2"/><circle cx="266.8" cy="390.4" r="3.2"/><circle cx="273.8" cy="390.5" r="3.2"/><circle cx="230.8" cy="385" r="3.2"/><circle cx="269" cy="384.7" r="3.2"/><circle cx="226.6" cy="384.6" r="3.2"/><circle cx="208.9" cy="392.3" r="3.2"/><circle cx="239.6" cy="386.2" r="3.2"/><circle cx="238.6" cy="373.9" r="3.2"/><circle cx="263.5" cy="385.8" r="3.2"/><circle cx="252.7" cy="420.9" r="3.2"/><circle cx="244.3" cy="399.3" r="3.2"/><circle cx="264.7" cy="365.9" r="3.2"/><circle cx="274.9" cy="386.7" r="3.2"/><circle cx="256.6" cy="387.5" r="3.2"/><circle cx="257.2" cy="355.9" r="3.2"/><circle cx="269.1" cy="414" r="3.2"/><circle cx="239.1" cy="414.8" r="3.2"/><circle cx="283.6" cy="384.9" r="3.2"/><circle cx="231.5" cy="392.3" r="3.2"/><circle cx="217.9" cy="386.1" r="3.2"/><circle cx="266.6" cy="373.3" r="3.2"/><circle cx="231.4" cy="379.3" r="3.2"/><circle cx="241.5" cy="361.2" r="3.2"/><circle cx="250.4" cy="403.7" r="3.2"/><circle cx="226.1" cy="385" r="3.2"/><circle cx="246.1" cy="403.9" r="3.2"/><circle cx="242.5" cy="410.5" r="3.2"/><circle cx="223.4" cy="392" r="3.2"/><circle cx="254.7" cy="378.6" r="3.2"/><circle cx="247.4" cy="363.8" r="3.2"/><circle cx="230.2" cy="396.5" r="3.2"/><circle cx="264.5" cy="400.4" r="3.2"/><circle cx="245.4" cy="409.3" r="3.2"/><circle cx="213.8" cy="385" r="3.2"/><circle cx="270.4" cy="367.2" r="3.2"/><circle cx="245.4" cy="416.1" r="3.2"/><circle cx="224.1" cy="393.2" r="3.2"/><circle cx="238.9" cy="365.5" r="3.2"/><circle cx="236.8" cy="401.6" r="3.2"/><circle cx="217.7" cy="381.2" r="3.2"/><circle cx="241.2" cy="398.2" r="3.2"/><circle cx="230.9" cy="392.3" r="3.2"/><circle cx="234.1" cy="400.9" r="3.2"/><circle cx="258.3" cy="361.9" r="3.2"/><circle cx="230.1" cy="407.9" r="3.2"/><circle cx="212.7" cy="395" r="3.2"/><circle cx="231.7" cy="412.7" r="3.2"/><circle cx="239.2" cy="405.9" r="3.2"/><circle cx="230.6" cy="381.3" r="3.2"/><circle cx="254.5" cy="424.3" r="3.2"/><circle cx="270.4" cy="395.5" r="3.2"/><circle cx="267.1" cy="402.1" r="3.2"/><circle cx="248.4" cy="401.6" r="3.2"/><circle cx="264.4" cy="371.9" r="3.2"/><circle cx="264.7" cy="411.2" r="3.2"/><circle cx="256.3" cy="400.2" r="3.2"/><circle cx="265.4" cy="373.2" r="3.2"/><circle cx="243.8" cy="381.6" r="3.2"/><circle cx="262.2" cy="367" r="3.2"/><circle cx="250.9" cy="384.8" r="3.2"/><circle cx="261.7" cy="421.5" r="3.2"/><circle cx="261.8" cy="382.3" r="3.2"/><circle cx="221" cy="387.1" r="3.2"/><circle cx="267.3" cy="406.8" r="3.2"/><circle cx="216.2" cy="382.8" r="3.2"/><circle cx="246.3" cy="362.9" r="3.2"/><circle cx="254.2" cy="407.6" r="3.2"/><circle cx="266.6" cy="368.6" r="3.2"/><circle cx="219.8" cy="392.4" r="3.2"/><circle cx="258.2" cy="411.6" r="3.2"/><circle cx="242" cy="393.9" r="3.2"/><circle cx="217.1" cy="382.1" r="3.2"/><circle cx="241.3" cy="371.1" r="3.2"/><circle cx="256.6" cy="392.6" r="3.2"/><circle cx="223.1" cy="403.5" r="3.2"/><circle cx="268.2" cy="398.1" r="3.2"/><circle cx="217.5" cy="393.6" r="3.2"/><circle cx="235.8" cy="395" r="3.2"/><circle cx="241.2" cy="378.7" r="3.2"/><circle cx="220.8" cy="392.6" r="3.2"/><circle cx="274" cy="369.8" r="3.2"/><circle cx="278.2" cy="387.4" r="3.2"/><circle cx="272.3" cy="403.9" r="3.2"/><circle cx="233.1" cy="375.1" r="3.2"/><circle cx="267.3" cy="398.1" r="3.2"/><circle cx="241.6" cy="404" r="3.2"/><circle cx="238.8" cy="369.3" r="3.2"/><circle cx="259.1" cy="414.1" r="3.2"/><circle cx="223.4" cy="381.9" r="3.2"/><circle cx="206.1" cy="392.2" r="3.2"/><circle cx="274.5" cy="383.7" r="3.2"/><circle cx="242.5" cy="397.1" r="3.2"/><circle cx="264.9" cy="416.8" r="3.2"/><circle cx="246.2" cy="412.4" r="3.2"/><circle cx="224.2" cy="389.3" r="3.2"/><circle cx="248.6" cy="367.4" r="3.2"/><circle cx="231.1" cy="395.1" r="3.2"/><circle cx="222.9" cy="392.4" r="3.2"/><circle cx="211.9" cy="385" r="3.2"/><circle cx="244.9" cy="381.7" r="3.2"/><circle cx="237" cy="413.7" r="3.2"/><circle cx="241.5" cy="391.4" r="3.2"/><circle cx="277.7" cy="380.2" r="3.2"/><circle cx="267" cy="397.9" r="3.2"/><circle cx="260" cy="386.7" r="3.2"/><circle cx="236.1" cy="412.6" r="3.2"/><circle cx="262.3" cy="389.2" r="3.2"/><circle cx="259.5" cy="357.8" r="3.2"/><circle cx="251.1" cy="364.8" r="3.2"/><circle cx="235.8" cy="372.1" r="3.2"/><circle cx="233.7" cy="412.8" r="3.2"/><circle cx="245.9" cy="379.9" r="3.2"/><circle cx="238.1" cy="380.9" r="3.2"/><circle cx="270.8" cy="413.1" r="3.2"/><circle cx="248.1" cy="368.4" r="3.2"/><circle cx="258.5" cy="398.2" r="3.2"/><circle cx="271.7" cy="410.7" r="3.2"/><circle cx="255.6" cy="418.9" r="3.2"/><circle cx="230.3" cy="374.6" r="3.2"/><circle cx="240.6" cy="388" r="3.2"/><circle cx="273.7" cy="379.5" r="3.2"/><circle cx="218" cy="393.8" r="3.2"/><circle cx="234.7" cy="376.4" r="3.2"/><circle cx="255.5" cy="366.8" r="3.2"/><circle cx="268.6" cy="377.6" r="3.2"/><circle cx="266.5" cy="368.5" r="3.2"/><circle cx="261.3" cy="403.9" r="3.2"/><circle cx="259.8" cy="375" r="3.2"/><circle cx="243.5" cy="383.1" r="3.2"/><circle cx="220.4" cy="384.2" r="3.2"/><circle cx="256.4" cy="381.4" r="3.2"/><circle cx="221.9" cy="384.4" r="3.2"/><circle cx="265.1" cy="381" r="3.2"/><circle cx="227.9" cy="398.1" r="3.2"/></g>
<path d="M200 389.4 200.5 389.2 201.1 389.1 201.6 388.9 202.2 388.7 202.7 388.5 203.2 388.3 203.8 388.1 204.3 387.9 204.9 387.7 205.4 387.5 205.9 387.3 206.5 387 207 386.8 207.6 386.5 208.1 386.3 208.7 386 209.2 385.8 209.7 385.5 210.3 385.2 210.8 384.9 211.4 384.6 211.9 384.3 212.4 384 213 383.6 213.5 383.3 214.1 382.9 214.6 382.6 215.1 382.2 215.7 381.8 216.2 381.4 216.8 380.9 217.3 380.4 217.8 379.9 218.4 379.4 218.9 378.9 219.5 378.3 220 377.8 220.6 377.3 221.1 376.7 221.6 376.2 222.2 375.6 222.7 375.1 223.3 374.5 223.8 374 224.3 373.5 224.9 372.9 225.4 372.4 226 371.8 226.5 371.3 227 370.7 227.6 370.2 228.1 369.6 228.7 369.1 229.2 368.5 229.7 368 230.3 367.5 230.8 367 231.4 366.5 231.9 366 232.5 365.5 233 365 233.5 364.5 234.1 364 234.6 363.5 235.2 363 235.7 362.6 236.2 362.1 236.8 361.6 237.3 361.2 237.9 360.7 238.4 360.3 238.9 359.8 239.5 359.4 240 359 240.6 358.5 241.1 358.1 241.6 357.7 242.2 357.2 242.7 356.8 243.3 356.4 243.8 356.1 244.4 355.7 244.9 355.4 245.4 355 246 354.7 246.5 354.3 247.1 354 247.6 353.6 248.1 353.3 248.7 353.1 249.2 352.9 249.8 352.8 250.3 352.8 250.8 352.8 251.4 352.9 251.9 353 252.5 353.2 253 353.3 253.5 353.5 254.1 353.7 254.6 353.9 255.2 354.1 255.7 354.3 256.3 354.5 256.8 354.7 257.3 354.9 257.9 355.2 258.4 355.4 259 355.7 259.5 356 260 356.3 260.6 356.6 261.1 357 261.7 357.4 262.2 357.7 262.7 358.1 263.3 358.5 263.8 358.9 264.4 359.3 264.9 359.7 265.4 360.2 266 360.6 266.5 361.1 267.1 361.6 267.6 362.1 268.2 362.6 268.7 363.1 269.2 363.7 269.8 364.3 270.3 364.9 270.9 365.5 271.4 366.1 271.9 366.7 272.5 367.4 273 368.1 273.6 368.8 274.1 369.6 274.6 370.3 275.2 371.1 275.7 371.9 276.3 372.7 276.8 373.5 277.3 374.3 277.9 375.1 278.4 375.9 279 376.7 279.5 377.5 280.1 378.3 280.6 379.1 281.1 379.9 281.7 380.8 282.2 381.6 282.8 382.4 283.3 383.2 283.8 384 284.4 385 284.9 386.1 285.5 387.7 286 389.8 286 389.8 285.5 391.9 284.9 393.5 284.4 394.6 283.8 395.6 283.3 396.4 282.8 397.2 282.2 398 281.7 398.8 281.1 399.7 280.6 400.5 280.1 401.3 279.5 402.1 279 402.9 278.4 403.7 277.9 404.5 277.3 405.3 276.8 406.1 276.3 406.9 275.7 407.7 275.2 408.5 274.6 409.3 274.1 410 273.6 410.8 273 411.5 272.5 412.2 271.9 412.9 271.4 413.5 270.9 414.1 270.3 414.7 269.8 415.3 269.2 415.9 268.7 416.5 268.2 417 267.6 417.5 267.1 418 266.5 418.5 266 419 265.4 419.4 264.9 419.9 264.4 420.3 263.8 420.7 263.3 421.1 262.7 421.5 262.2 421.9 261.7 422.2 261.1 422.6 260.6 423 260 423.3 259.5 423.6 259 423.9 258.4 424.2 257.9 424.4 257.3 424.7 256.8 424.9 256.3 425.1 255.7 425.3 255.2 425.5 254.6 425.7 254.1 425.9 253.5 426.1 253 426.3 252.5 426.4 251.9 426.6 251.4 426.7 250.8 426.8 250.3 426.8 249.8 426.8 249.2 426.7 248.7 426.5 248.1 426.3 247.6 426 247.1 425.6 246.5 425.3 246 424.9 245.4 424.6 244.9 424.2 244.4 423.9 243.8 423.5 243.3 423.2 242.7 422.8 242.2 422.4 241.6 421.9 241.1 421.5 240.6 421.1 240 420.6 239.5 420.2 238.9 419.8 238.4 419.3 237.9 418.9 237.3 418.4 236.8 418 236.2 417.5 235.7 417 235.2 416.6 234.6 416.1 234.1 415.6 233.5 415.1 233 414.6 232.5 414.1 231.9 413.6 231.4 413.1 230.8 412.6 230.3 412.1 229.7 411.6 229.2 411.1 228.7 410.5 228.1 410 227.6 409.4 227 408.9 226.5 408.3 226 407.8 225.4 407.2 224.9 406.7 224.3 406.1 223.8 405.6 223.3 405.1 222.7 404.5 222.2 404 221.6 403.4 221.1 402.9 220.6 402.3 220 401.8 219.5 401.3 218.9 400.7 218.4 400.2 217.8 399.7 217.3 399.2 216.8 398.7 216.2 398.2 215.7 397.8 215.1 397.4 214.6 397 214.1 396.7 213.5 396.3 213 396 212.4 395.6 211.9 395.3 211.4 395 210.8 394.7 210.3 394.4 209.7 394.1 209.2 393.8 208.7 393.6 208.1 393.3 207.6 393.1 207 392.8 206.5 392.6 205.9 392.3 205.4 392.1 204.9 391.9 204.3 391.7 203.8 391.5 203.2 391.3 202.7 391.1 202.2 390.9 201.6 390.7 201.1 390.5 200.5 390.4 200 390.2Z" fill="none" stroke="#a07070" stroke-width="0.8" stroke-linejoin="round"/>
<line x1="138.6" y1="389.8" x2="286" y2="389.8" stroke="#6c6c6c" stroke-width="0.65"/>
<rect x="235" y="388.3" width="28" height="3" fill="#808080"/>
<circle cx="250" cy="389.8" r="3.3" fill="#fff" stroke="#808080" stroke-width="0.5"/>
<path d="M17.6 249.3H290.8" fill="none" stroke="#858585" stroke-width="1.0"/>
<path d="M290 249.3V1.3" fill="none" stroke="#cdcdcd" stroke-width="1.4"/>
<path d="M290.1 249.3v-3M256.1 249.3v-3M222.1 249.3v-3M188.1 249.3v-3M154.2 249.3v-3M120.1 249.3v-3M86.1 249.3v-3M52.2 249.3v-3M18.1 249.3v-3M290.1 187.3h-3M290.1 63.3h-3" fill="none" stroke="#a6a6a6" stroke-width="1"/>
<text transform="translate(294.4,254.2) rotate(-90)" text-anchor="end" font-size="11.0">0.04</text>
<text transform="translate(260.4,254.2) rotate(-90)" text-anchor="end" font-size="11.0">0.06</text>
<text transform="translate(226.4,254.2) rotate(-90)" text-anchor="end" font-size="11.0">0.08</text>
<text transform="translate(192.4,254.2) rotate(-90)" text-anchor="end" font-size="11.0">0.1</text>
<text transform="translate(158.5,254.2) rotate(-90)" text-anchor="end" font-size="11.0">0.12</text>
<text transform="translate(124.4,254.2) rotate(-90)" text-anchor="end" font-size="11.0">0.14</text>
<text transform="translate(90.4,254.2) rotate(-90)" text-anchor="end" font-size="11.0">0.16</text>
<text transform="translate(56.5,254.2) rotate(-90)" text-anchor="end" font-size="11.0">0.18</text>
<text transform="translate(22.4,254.2) rotate(-90)" text-anchor="end" font-size="11.0">0.2</text>
<text transform="translate(305.2,187.3) rotate(-90)" text-anchor="middle" font-size="11.0">POST</text>
<text transform="translate(305.2,63.3) rotate(-90)" text-anchor="middle" font-size="11.0">PRE Resected</text>
<text transform="translate(154.7,285.4) rotate(180)" text-anchor="middle" font-size="12.1">strength per channel</text>
<text transform="translate(12.3,125) rotate(-90)" text-anchor="middle" font-size="13.8" font-weight="bold" fill="#000">PLI</text>
<path d="M25.1 125.3h16.4 M33.3 117.1v16.4 M27.5 119.5l11.6 11.6 M27.5 131.1l11.6 -11.6" stroke="#7E2F8E" stroke-width="0.55" stroke-opacity="0.85" fill="none"/>
<g fill="#0000ff" fill-opacity="0.3"><circle cx="169.4" cy="187.3" r="3.2"/><circle cx="177" cy="187.3" r="3.2"/><circle cx="178" cy="187.3" r="3.2"/><circle cx="181" cy="187.3" r="3.2"/><circle cx="182" cy="187.3" r="3.2"/><circle cx="187" cy="187.3" r="3.2"/><circle cx="188" cy="187.3" r="3.2"/><circle cx="189" cy="187.3" r="3.2"/><circle cx="190" cy="187.3" r="3.2"/><circle cx="191" cy="187.3" r="3.2"/><circle cx="197" cy="187.3" r="3.2"/><circle cx="198" cy="187.3" r="3.2"/><circle cx="199" cy="187.3" r="3.2"/><circle cx="200" cy="187.3" r="3.2"/><circle cx="201" cy="187.3" r="3.2"/><circle cx="202" cy="187.3" r="3.2"/><circle cx="203" cy="187.3" r="3.2"/><circle cx="207" cy="187.3" r="3.2"/><circle cx="208" cy="187.3" r="3.2"/><circle cx="212" cy="187.3" r="3.2"/><circle cx="213" cy="187.3" r="3.2"/><circle cx="221.4" cy="187.3" r="3.2"/><circle cx="222.5" cy="187.3" r="3.2"/><circle cx="225" cy="187.3" r="3.2"/><circle cx="231.4" cy="187.3" r="3.2"/><circle cx="232" cy="187.3" r="3.2"/><circle cx="238" cy="187.3" r="3.2"/><circle cx="239.5" cy="187.3" r="3.2"/><circle cx="241" cy="187.3" r="3.2"/><circle cx="242" cy="187.3" r="3.2"/><circle cx="243.5" cy="187.3" r="3.2"/><circle cx="244.5" cy="187.3" r="3.2"/><circle cx="289.3" cy="187.3" r="3.2"/><circle cx="289.6" cy="187.8" r="3.2"/></g>
<path d="M243 187 243.3 187 243.6 187 243.9 187 244.1 187 244.4 186.9 244.7 186.9 245 186.9 245.3 186.9 245.6 186.9 245.9 186.8 246.1 186.8 246.4 186.8 246.7 186.7 247 186.6 247.3 186.6 247.6 186.5 247.8 186.4 248.1 186.3 248.4 186.2 248.7 186.1 249 186 249.3 185.9 249.6 185.8 249.8 185.6 250.1 185.5 250.4 185.3 250.7 185.2 251 185 251.3 184.8 251.6 184.6 251.8 184.3 252.1 184.1 252.4 183.8 252.7 183.6 253 183.3 253.3 183.1 253.6 182.8 253.8 182.4 254.1 182.1 254.4 181.8 254.7 181.4 255 181 255.3 180.7 255.5 180.3 255.8 179.9 256.1 179.5 256.4 179 256.7 178.6 257 178.1 257.3 177.6 257.5 177.1 257.8 176.6 258.1 176.1 258.4 175.6 258.7 175.1 259 174.5 259.3 174 259.5 173.4 259.8 172.8 260.1 172.2 260.4 171.6 260.7 171 261 170.4 261.3 169.8 261.5 169.2 261.8 168.6 262.1 167.9 262.4 167.3 262.7 166.6 263 166 263.3 165.3 263.5 164.7 263.8 164 264.1 163.3 264.4 162.6 264.7 161.9 265 161.2 265.2 160.5 265.5 159.8 265.8 159.1 266.1 158.4 266.4 157.7 266.7 157 267 156.2 267.2 155.5 267.5 154.7 267.8 154 268.1 153.3 268.4 152.7 268.7 152.2 269 151.6 269.2 151.1 269.5 150.8 269.8 150.5 270.1 150.3 270.4 150.3 270.7 150.4 271 150.7 271.2 150.9 271.5 151.4 271.8 151.9 272.1 152.5 272.4 153.1 272.7 153.8 272.9 154.5 273.2 155.3 273.5 156.2 273.8 157 274.1 157.9 274.4 158.7 274.7 159.7 274.9 160.6 275.2 161.6 275.5 162.5 275.8 163.5 276.1 164.4 276.4 165.3 276.7 166.1 276.9 167 277.2 167.9 277.5 168.7 277.8 169.5 278.1 170.3 278.4 171.1 278.7 171.9 278.9 172.6 279.2 173.3 279.5 174 279.8 174.7 280.1 175.4 280.4 176 280.6 176.7 280.9 177.3 281.2 177.8 281.5 178.4 281.8 178.9 282.1 179.4 282.4 179.9 282.6 180.4 282.9 180.9 283.2 181.3 283.5 181.7 283.8 182.2 284.1 182.6 284.4 182.9 284.6 183.3 284.9 183.7 285.2 184 285.5 184.4 285.8 184.7 286.1 185 286.4 185.3 286.6 185.6 286.9 185.9 287.2 186.2 287.5 186.5 287.8 186.8 288.1 187 288.4 187.3 288.4 187.3 288.1 187.6 287.8 187.8 287.5 188.1 287.2 188.4 286.9 188.7 286.6 189 286.4 189.3 286.1 189.6 285.8 189.9 285.5 190.2 285.2 190.6 284.9 190.9 284.6 191.3 284.4 191.7 284.1 192 283.8 192.4 283.5 192.9 283.2 193.3 282.9 193.7 282.6 194.2 282.4 194.7 282.1 195.2 281.8 195.7 281.5 196.2 281.2 196.8 280.9 197.3 280.6 197.9 280.4 198.6 280.1 199.2 279.8 199.9 279.5 200.6 279.2 201.3 278.9 202 278.7 202.7 278.4 203.5 278.1 204.3 277.8 205.1 277.5 205.9 277.2 206.7 276.9 207.6 276.7 208.5 276.4 209.3 276.1 210.2 275.8 211.1 275.5 212.1 275.2 213 274.9 214 274.7 214.9 274.4 215.9 274.1 216.7 273.8 217.6 273.5 218.4 273.2 219.3 272.9 220.1 272.7 220.8 272.4 221.5 272.1 222.1 271.8 222.7 271.5 223.2 271.2 223.7 271 223.9 270.7 224.2 270.4 224.3 270.1 224.3 269.8 224.1 269.5 223.8 269.2 223.5 269 223 268.7 222.4 268.4 221.9 268.1 221.3 267.8 220.6 267.5 219.9 267.2 219.1 267 218.4 266.7 217.6 266.4 216.9 266.1 216.2 265.8 215.5 265.5 214.8 265.2 214.1 265 213.4 264.7 212.7 264.4 212 264.1 211.3 263.8 210.6 263.5 209.9 263.3 209.3 263 208.6 262.7 208 262.4 207.3 262.1 206.7 261.8 206 261.5 205.4 261.3 204.8 261 204.2 260.7 203.6 260.4 203 260.1 202.4 259.8 201.8 259.5 201.2 259.3 200.6 259 200.1 258.7 199.5 258.4 199 258.1 198.5 257.8 198 257.5 197.5 257.3 197 257 196.5 256.7 196 256.4 195.6 256.1 195.1 255.8 194.7 255.5 194.3 255.3 193.9 255 193.6 254.7 193.2 254.4 192.8 254.1 192.5 253.8 192.2 253.6 191.8 253.3 191.5 253 191.3 252.7 191 252.4 190.8 252.1 190.5 251.8 190.3 251.6 190 251.3 189.8 251 189.6 250.7 189.4 250.4 189.3 250.1 189.1 249.8 189 249.6 188.8 249.3 188.7 249 188.6 248.7 188.5 248.4 188.4 248.1 188.3 247.8 188.2 247.6 188.1 247.3 188 247 188 246.7 187.9 246.4 187.8 246.1 187.8 245.9 187.8 245.6 187.7 245.3 187.7 245 187.7 244.7 187.7 244.4 187.7 244.1 187.6 243.9 187.6 243.6 187.6 243.3 187.6 243 187.6Z" fill="#0000ff" stroke="#0000ff" stroke-width="5.9" stroke-opacity="0.35" stroke-linejoin="round"/>
<path d="M243 187 243.3 187 243.6 187 243.9 187 244.1 187 244.4 186.9 244.7 186.9 245 186.9 245.3 186.9 245.6 186.9 245.9 186.8 246.1 186.8 246.4 186.8 246.7 186.7 247 186.6 247.3 186.6 247.6 186.5 247.8 186.4 248.1 186.3 248.4 186.2 248.7 186.1 249 186 249.3 185.9 249.6 185.8 249.8 185.6 250.1 185.5 250.4 185.3 250.7 185.2 251 185 251.3 184.8 251.6 184.6 251.8 184.3 252.1 184.1 252.4 183.8 252.7 183.6 253 183.3 253.3 183.1 253.6 182.8 253.8 182.4 254.1 182.1 254.4 181.8 254.7 181.4 255 181 255.3 180.7 255.5 180.3 255.8 179.9 256.1 179.5 256.4 179 256.7 178.6 257 178.1 257.3 177.6 257.5 177.1 257.8 176.6 258.1 176.1 258.4 175.6 258.7 175.1 259 174.5 259.3 174 259.5 173.4 259.8 172.8 260.1 172.2 260.4 171.6 260.7 171 261 170.4 261.3 169.8 261.5 169.2 261.8 168.6 262.1 167.9 262.4 167.3 262.7 166.6 263 166 263.3 165.3 263.5 164.7 263.8 164 264.1 163.3 264.4 162.6 264.7 161.9 265 161.2 265.2 160.5 265.5 159.8 265.8 159.1 266.1 158.4 266.4 157.7 266.7 157 267 156.2 267.2 155.5 267.5 154.7 267.8 154 268.1 153.3 268.4 152.7 268.7 152.2 269 151.6 269.2 151.1 269.5 150.8 269.8 150.5 270.1 150.3 270.4 150.3 270.7 150.4 271 150.7 271.2 150.9 271.5 151.4 271.8 151.9 272.1 152.5 272.4 153.1 272.7 153.8 272.9 154.5 273.2 155.3 273.5 156.2 273.8 157 274.1 157.9 274.4 158.7 274.7 159.7 274.9 160.6 275.2 161.6 275.5 162.5 275.8 163.5 276.1 164.4 276.4 165.3 276.7 166.1 276.9 167 277.2 167.9 277.5 168.7 277.8 169.5 278.1 170.3 278.4 171.1 278.7 171.9 278.9 172.6 279.2 173.3 279.5 174 279.8 174.7 280.1 175.4 280.4 176 280.6 176.7 280.9 177.3 281.2 177.8 281.5 178.4 281.8 178.9 282.1 179.4 282.4 179.9 282.6 180.4 282.9 180.9 283.2 181.3 283.5 181.7 283.8 182.2 284.1 182.6 284.4 182.9 284.6 183.3 284.9 183.7 285.2 184 285.5 184.4 285.8 184.7 286.1 185 286.4 185.3 286.6 185.6 286.9 185.9 287.2 186.2 287.5 186.5 287.8 186.8 288.1 187 288.4 187.3 288.4 187.3 288.1 187.6 287.8 187.8 287.5 188.1 287.2 188.4 286.9 188.7 286.6 189 286.4 189.3 286.1 189.6 285.8 189.9 285.5 190.2 285.2 190.6 284.9 190.9 284.6 191.3 284.4 191.7 284.1 192 283.8 192.4 283.5 192.9 283.2 193.3 282.9 193.7 282.6 194.2 282.4 194.7 282.1 195.2 281.8 195.7 281.5 196.2 281.2 196.8 280.9 197.3 280.6 197.9 280.4 198.6 280.1 199.2 279.8 199.9 279.5 200.6 279.2 201.3 278.9 202 278.7 202.7 278.4 203.5 278.1 204.3 277.8 205.1 277.5 205.9 277.2 206.7 276.9 207.6 276.7 208.5 276.4 209.3 276.1 210.2 275.8 211.1 275.5 212.1 275.2 213 274.9 214 274.7 214.9 274.4 215.9 274.1 216.7 273.8 217.6 273.5 218.4 273.2 219.3 272.9 220.1 272.7 220.8 272.4 221.5 272.1 222.1 271.8 222.7 271.5 223.2 271.2 223.7 271 223.9 270.7 224.2 270.4 224.3 270.1 224.3 269.8 224.1 269.5 223.8 269.2 223.5 269 223 268.7 222.4 268.4 221.9 268.1 221.3 267.8 220.6 267.5 219.9 267.2 219.1 267 218.4 266.7 217.6 266.4 216.9 266.1 216.2 265.8 215.5 265.5 214.8 265.2 214.1 265 213.4 264.7 212.7 264.4 212 264.1 211.3 263.8 210.6 263.5 209.9 263.3 209.3 263 208.6 262.7 208 262.4 207.3 262.1 206.7 261.8 206 261.5 205.4 261.3 204.8 261 204.2 260.7 203.6 260.4 203 260.1 202.4 259.8 201.8 259.5 201.2 259.3 200.6 259 200.1 258.7 199.5 258.4 199 258.1 198.5 257.8 198 257.5 197.5 257.3 197 257 196.5 256.7 196 256.4 195.6 256.1 195.1 255.8 194.7 255.5 194.3 255.3 193.9 255 193.6 254.7 193.2 254.4 192.8 254.1 192.5 253.8 192.2 253.6 191.8 253.3 191.5 253 191.3 252.7 191 252.4 190.8 252.1 190.5 251.8 190.3 251.6 190 251.3 189.8 251 189.6 250.7 189.4 250.4 189.3 250.1 189.1 249.8 189 249.6 188.8 249.3 188.7 249 188.6 248.7 188.5 248.4 188.4 248.1 188.3 247.8 188.2 247.6 188.1 247.3 188 247 188 246.7 187.9 246.4 187.8 246.1 187.8 245.9 187.8 245.6 187.7 245.3 187.7 245 187.7 244.7 187.7 244.4 187.7 244.1 187.6 243.9 187.6 243.6 187.6 243.3 187.6 243 187.6Z" fill="#0000ff" stroke="#0000ff" stroke-width="4.5" stroke-linejoin="round"/>
<path d="M256 194.7h0M251.1 189.6h0M246.8 187.9h0M250 189h0M280 198.7h0M252.9 183.5h0M271.6 221.3h0M259.5 174.3h0M274.3 215.1h0M259.2 199.8h0M268.7 221.7h0M278.2 170.7h0M243.4 187h0M280.8 197.3h0M274.2 215.7h0M272.5 220.1h0M272.8 155.1h0M257.4 197.1h0M255.3 193.9h0M279.2 173.6h0M273.3 155.9h0M274.5 214h0M279.6 174.3h0M264.8 162.6h0M261.9 205.8h0M276.1 164.8h0M272.1 220.3h0M261.3 170.7h0M253.6 182.8h0M263 208.1h0M259.3 173.9h0M274.2 159h0M260.8 203.8h0M273.6 156.9h0M285.4 190.2h0M260.3 202.7h0M272.9 156.2h0M244.4 187h0M273.6 157.2h0M260.9 171.2h0M280.7 197.7h0M262.6 207.3h0M255.7 194.4h0M256.3 179.2h0M279.5 174.3h0M284.5 191.4h0M286.6 185.6h0M253.2 191.5h0M272 153h0M259.3 200.3h0M266 214.5h0M277.6 169.5h0M285.3 184.3h0M266.2 215.8h0M275.2 162.8h0M256.4 179.5h0M253.8 191.9h0M287.6 188h0M266.8 216.1h0M263.4 208.5h0M254.6 181.7h0M265.2 160.8h0M262.5 167.3h0M269.3 223.4h0M273.4 218.6h0M252.4 184h0M244 187.6h0M268.6 153.7h0M267.8 154.2h0M249.2 186h0M249.8 185.6h0M274.6 213.8h0M266.1 215.1h0M262.6 206.9h0M286.7 188.8h0M256.2 195.2h0M250.3 189.1h0M271.6 151.6h0M275.4 211.5h0M278.2 170.9h0M283.7 182.1h0M286.8 185.9h0M260.5 202.5h0M246 187.8h0M275.6 163.1h0M249.6 185.8h0M276.3 209h0" stroke="#0000ff" stroke-opacity="0.4" stroke-width="6.4" stroke-linecap="round" fill="none"/>
<path d="M275.5 211h0M252.9 191h0M260.4 171.9h0M257.7 176.9h0M252.6 190.7h0M271.9 220.9h0M268.6 220.6h0M287.9 186.9h0M272.6 220.6h0M255 193.4h0M274.3 214.7h0M280.1 198.6h0M280 198.7h0M243.1 187h0M245.3 187.7h0M253 183.6h0M267 156.3h0M256.1 194.9h0M279.4 200.8h0M265.2 213.9h0M264.8 212.2h0M253.9 192h0M257.6 197.5h0M277.9 204.6h0M277.8 204.8h0M277.4 169.1h0M272.9 219.1h0M266.9 157.5h0M282.5 194.1h0M288 187.6h0M257.6 197.4h0M259 199.7h0M280 175.3h0M283.3 193h0M267.8 156.1h0M275.7 163.4h0M281 196.6h0M283.3 193.2h0M273.1 219.3h0M250.8 185.2h0M274.8 160.5h0M245.8 187.8h0M261.5 204.9h0M275.5 211.7h0M287.3 188.3h0M277.8 170.4h0M268.8 220.6h0M261.8 205.5h0M275.4 212.1h0M271.5 222.6h0M258.1 198h0M276.3 208.8h0M247 187.9h0M278.9 201.4h0M285.3 190.4h0M265.3 212.8h0M246.5 187.8h0M284.2 191.6h0M279.7 174.9h0M285.3 190.3h0M266.6 215.8h0M269.3 151.6h0M274.5 214.6h0M273.5 218h0M267 218.2h0M281 177.8h0M276.4 209.3h0M269 222.4h0M274.2 158.6h0M275 161.4h0M283.1 193.3h0M260 201.6h0M278.6 202.2h0M273.9 158.5h0M273.3 156.9h0M276.1 208.9h0M266.4 216.5h0M267.2 217.8h0M260 201.6h0M275.4 163.2h0M280.6 176.9h0M269.1 221.8h0M264.5 211.6h0M276.4 208.2h0M276.7 166.7h0M271.8 222.4h0M276.2 164.7h0" stroke="#0000ff" stroke-opacity="0.4" stroke-width="6.4" stroke-linecap="round" fill="none"/>
<path d="M263.1 166.1h0M282.6 194h0M281 196.6h0M260.2 201.9h0M285 190.7h0M277.9 204.1h0M266.2 159.4h0M265.1 212.1h0M285.9 184.9h0M282.6 180.4h0M273.9 157.5h0M275.9 209.5h0M246.8 186.7h0M278 203.8h0M277.4 205.6h0M281.6 178.7h0M285 183.7h0M282.3 194.4h0M257.7 197.3h0M273.6 216.5h0M269.1 221.6h0M283.4 192.8h0M258.4 198.5h0M269 222.7h0M257 196.4h0M251.7 184.5h0M286.5 189.1h0M284.4 191.3h0M263.7 209.5h0M264.6 212.4h0M275.7 210.9h0M268.1 153.4h0M263.5 209.7h0M258.9 174.7h0M274.3 215.1h0M276.5 208.3h0M267.3 217.9h0M272 153.4h0M246.7 186.7h0M274.5 215.2h0M279.2 173.5h0M265.3 162h0M258.9 174.7h0M273.1 155.9h0M258.9 175.1h0M271.8 222.6h0M245.6 186.9h0M275.8 210.4h0M244.7 186.9h0M274.7 160.7h0M261.7 169.2h0M259.3 174h0M258.8 175.5h0M271.9 221.4h0M263.8 210.2h0M271.8 221.6h0M276.6 167.1h0M264.1 164.4h0M287.4 188.2h0M275.8 163.9h0M243.3 187.6h0M278.7 172.5h0M274.9 161.5h0M266.9 216.7h0M283.2 181.6h0M277.1 168.5h0M263.6 209.1h0M276.8 207.2h0M258.1 198.1h0M287.6 186.6h0M264.4 163.5h0M275.6 210.4h0M260.5 172h0M251.9 190.2h0M286.6 185.6h0M257.3 177.8h0M267.3 218.3h0M257 196.1h0M261 203.6h0M276.6 208.1h0M258.1 197.8h0M271.6 151.8h0M271.6 221.8h0M263.2 209h0M273.7 217.6h0M263.4 165.2h0" stroke="#0000ff" stroke-opacity="0.4" stroke-width="6.4" stroke-linecap="round" fill="none"/>
<path d="M243 187 243.3 187 243.6 187 243.9 187 244.1 187 244.4 186.9 244.7 186.9 245 186.9 245.3 186.9 245.6 186.9 245.9 186.8 246.1 186.8 246.4 186.8 246.7 186.7 247 186.6 247.3 186.6 247.6 186.5 247.8 186.4 248.1 186.3 248.4 186.2 248.7 186.1 249 186 249.3 185.9 249.6 185.8 249.8 185.6 250.1 185.5 250.4 185.3 250.7 185.2 251 185 251.3 184.8 251.6 184.6 251.8 184.3 252.1 184.1 252.4 183.8 252.7 183.6 253 183.3 253.3 183.1 253.6 182.8 253.8 182.4 254.1 182.1 254.4 181.8 254.7 181.4 255 181 255.3 180.7 255.5 180.3 255.8 179.9 256.1 179.5 256.4 179 256.7 178.6 257 178.1 257.3 177.6 257.5 177.1 257.8 176.6 258.1 176.1 258.4 175.6 258.7 175.1 259 174.5 259.3 174 259.5 173.4 259.8 172.8 260.1 172.2 260.4 171.6 260.7 171 261 170.4 261.3 169.8 261.5 169.2 261.8 168.6 262.1 167.9 262.4 167.3 262.7 166.6 263 166 263.3 165.3 263.5 164.7 263.8 164 264.1 163.3 264.4 162.6 264.7 161.9 265 161.2 265.2 160.5 265.5 159.8 265.8 159.1 266.1 158.4 266.4 157.7 266.7 157 267 156.2 267.2 155.5 267.5 154.7 267.8 154 268.1 153.3 268.4 152.7 268.7 152.2 269 151.6 269.2 151.1 269.5 150.8 269.8 150.5 270.1 150.3 270.4 150.3 270.7 150.4 271 150.7 271.2 150.9 271.5 151.4 271.8 151.9 272.1 152.5 272.4 153.1 272.7 153.8 272.9 154.5 273.2 155.3 273.5 156.2 273.8 157 274.1 157.9 274.4 158.7 274.7 159.7 274.9 160.6 275.2 161.6 275.5 162.5 275.8 163.5 276.1 164.4 276.4 165.3 276.7 166.1 276.9 167 277.2 167.9 277.5 168.7 277.8 169.5 278.1 170.3 278.4 171.1 278.7 171.9 278.9 172.6 279.2 173.3 279.5 174 279.8 174.7 280.1 175.4 280.4 176 280.6 176.7 280.9 177.3 281.2 177.8 281.5 178.4 281.8 178.9 282.1 179.4 282.4 179.9 282.6 180.4 282.9 180.9 283.2 181.3 283.5 181.7 283.8 182.2 284.1 182.6 284.4 182.9 284.6 183.3 284.9 183.7 285.2 184 285.5 184.4 285.8 184.7 286.1 185 286.4 185.3 286.6 185.6 286.9 185.9 287.2 186.2 287.5 186.5 287.8 186.8 288.1 187 288.4 187.3 288.4 187.3 288.1 187.6 287.8 187.8 287.5 188.1 287.2 188.4 286.9 188.7 286.6 189 286.4 189.3 286.1 189.6 285.8 189.9 285.5 190.2 285.2 190.6 284.9 190.9 284.6 191.3 284.4 191.7 284.1 192 283.8 192.4 283.5 192.9 283.2 193.3 282.9 193.7 282.6 194.2 282.4 194.7 282.1 195.2 281.8 195.7 281.5 196.2 281.2 196.8 280.9 197.3 280.6 197.9 280.4 198.6 280.1 199.2 279.8 199.9 279.5 200.6 279.2 201.3 278.9 202 278.7 202.7 278.4 203.5 278.1 204.3 277.8 205.1 277.5 205.9 277.2 206.7 276.9 207.6 276.7 208.5 276.4 209.3 276.1 210.2 275.8 211.1 275.5 212.1 275.2 213 274.9 214 274.7 214.9 274.4 215.9 274.1 216.7 273.8 217.6 273.5 218.4 273.2 219.3 272.9 220.1 272.7 220.8 272.4 221.5 272.1 222.1 271.8 222.7 271.5 223.2 271.2 223.7 271 223.9 270.7 224.2 270.4 224.3 270.1 224.3 269.8 224.1 269.5 223.8 269.2 223.5 269 223 268.7 222.4 268.4 221.9 268.1 221.3 267.8 220.6 267.5 219.9 267.2 219.1 267 218.4 266.7 217.6 266.4 216.9 266.1 216.2 265.8 215.5 265.5 214.8 265.2 214.1 265 213.4 264.7 212.7 264.4 212 264.1 211.3 263.8 210.6 263.5 209.9 263.3 209.3 263 208.6 262.7 208 262.4 207.3 262.1 206.7 261.8 206 261.5 205.4 261.3 204.8 261 204.2 260.7 203.6 260.4 203 260.1 202.4 259.8 201.8 259.5 201.2 259.3 200.6 259 200.1 258.7 199.5 258.4 199 258.1 198.5 257.8 198 257.5 197.5 257.3 197 257 196.5 256.7 196 256.4 195.6 256.1 195.1 255.8 194.7 255.5 194.3 255.3 193.9 255 193.6 254.7 193.2 254.4 192.8 254.1 192.5 253.8 192.2 253.6 191.8 253.3 191.5 253 191.3 252.7 191 252.4 190.8 252.1 190.5 251.8 190.3 251.6 190 251.3 189.8 251 189.6 250.7 189.4 250.4 189.3 250.1 189.1 249.8 189 249.6 188.8 249.3 188.7 249 188.6 248.7 188.5 248.4 188.4 248.1 188.3 247.8 188.2 247.6 188.1 247.3 188 247 188 246.7 187.9 246.4 187.8 246.1 187.8 245.9 187.8 245.6 187.7 245.3 187.7 245 187.7 244.7 187.7 244.4 187.7 244.1 187.6 243.9 187.6 243.6 187.6 243.3 187.6 243 187.6Z" fill="none" stroke="#7474cc" stroke-width="0.8" stroke-linejoin="round"/>
<line x1="169.4" y1="187.3" x2="289" y2="187.3" stroke="#6c6c6c" stroke-width="0.65"/>
<rect x="263.2" y="185.8" width="10" height="3" fill="#808080"/>
<circle cx="268.4" cy="187.3" r="3.3" fill="#fff" stroke="#808080" stroke-width="0.5"/>
<g fill="#ff0000" fill-opacity="0.3"><circle cx="33" cy="63.3" r="3.2"/><circle cx="40.6" cy="63.3" r="3.2"/><circle cx="78" cy="63.3" r="3.2"/><circle cx="109.6" cy="63.3" r="3.2"/><circle cx="112" cy="63.3" r="3.2"/><circle cx="112.6" cy="63.3" r="3.2"/><circle cx="113.6" cy="63.3" r="3.2"/><circle cx="114.4" cy="63.3" r="3.2"/><circle cx="115.6" cy="63.3" r="3.2"/><circle cx="125" cy="63.3" r="3.2"/><circle cx="126" cy="63.3" r="3.2"/><circle cx="127" cy="63.3" r="3.2"/><circle cx="128" cy="63.3" r="3.2"/><circle cx="129" cy="63.3" r="3.2"/><circle cx="130" cy="63.3" r="3.2"/><circle cx="131" cy="63.3" r="3.2"/><circle cx="132.5" cy="63.3" r="3.2"/><circle cx="134" cy="63.3" r="3.2"/><circle cx="135" cy="63.3" r="3.2"/><circle cx="136" cy="63.3" r="3.2"/><circle cx="137.5" cy="63.3" r="3.2"/><circle cx="139" cy="63.3" r="3.2"/><circle cx="140" cy="63.3" r="3.2"/><circle cx="141" cy="63.3" r="3.2"/><circle cx="145" cy="63.3" r="3.2"/><circle cx="160" cy="63.3" r="3.2"/><circle cx="160.6" cy="63.3" r="3.2"/><circle cx="170" cy="63.3" r="3.2"/><circle cx="170.8" cy="63.3" r="3.2"/><circle cx="171.5" cy="63.3" r="3.2"/><circle cx="177" cy="63.3" r="3.2"/><circle cx="182" cy="63.3" r="3.2"/><circle cx="182.7" cy="63.3" r="3.2"/><circle cx="186.4" cy="63.3" r="3.2"/><circle cx="200.6" cy="63.3" r="3.2"/><circle cx="201.3" cy="63.3" r="3.2"/></g>
<path d="M204 63 204.5 63 205.1 63 205.6 62.9 206.1 62.9 206.7 62.9 207.2 62.9 207.7 62.8 208.2 62.8 208.8 62.8 209.3 62.8 209.8 62.8 210.4 62.7 210.9 62.7 211.4 62.7 212 62.7 212.5 62.6 213 62.6 213.5 62.6 214.1 62.6 214.6 62.5 215.1 62.5 215.7 62.5 216.2 62.4 216.7 62.4 217.3 62.4 217.8 62.4 218.3 62.3 218.8 62.3 219.4 62.3 219.9 62.2 220.4 62.2 221 62.2 221.5 62.2 222 62.1 222.6 62.1 223.1 62.1 223.6 62 224.1 62 224.7 62 225.2 61.9 225.7 61.9 226.3 61.9 226.8 61.8 227.3 61.8 227.9 61.8 228.4 61.7 228.9 61.7 229.4 61.6 230 61.6 230.5 61.6 231 61.5 231.6 61.5 232.1 61.4 232.6 61.4 233.2 61.3 233.7 61.3 234.2 61.2 234.8 61.2 235.3 61.1 235.8 61 236.3 61 236.9 60.9 237.4 60.9 237.9 60.8 238.5 60.7 239 60.7 239.5 60.6 240.1 60.5 240.6 60.5 241.1 60.4 241.6 60.3 242.2 60.3 242.7 60.2 243.2 60.1 243.8 60 244.3 60 244.8 59.9 245.4 59.8 245.9 59.7 246.4 59.6 246.9 59.6 247.5 59.5 248 59.4 248.5 59.3 249.1 59.2 249.6 59.1 250.1 59 250.7 58.9 251.2 58.8 251.7 58.7 252.2 58.6 252.8 58.5 253.3 58.4 253.8 58.2 254.4 58.1 254.9 57.9 255.4 57.6 256 57.2 256.5 56.6 257 56 257.5 55.3 258.1 54.6 258.6 53.7 259.1 52.7 259.7 51.7 260.2 50.6 260.7 49.5 261.3 48.4 261.8 47.3 262.3 46.1 262.9 44.9 263.4 43.6 263.9 42.4 264.4 41.1 265 39.8 265.5 38.4 266 36.9 266.6 35.6 267.1 34.2 267.6 33 268.2 31.9 268.7 30.9 269.2 30.1 269.7 29.2 270.3 28.4 270.8 27.5 271.3 26.4 271.9 26.1 272.4 27 272.9 28 273.5 28.8 274 29.6 274.5 30.4 275 31.3 275.6 32.4 276.1 33.7 276.6 35.2 277.2 36.8 277.7 38.5 278.2 40.2 278.8 41.8 279.3 43.5 279.8 45.2 280.3 46.9 280.9 48.4 281.4 49.8 281.9 51.2 282.5 52.4 283 53.6 283.5 54.8 284.1 55.8 284.6 56.8 285.1 57.7 285.6 58.5 286.2 59.4 286.7 60.3 287.2 61.2 287.8 62.2 288.3 63.3 288.3 63.3 287.8 64.4 287.2 65.4 286.7 66.3 286.2 67.2 285.6 68.1 285.1 68.9 284.6 69.8 284.1 70.8 283.5 71.8 283 73 282.5 74.2 281.9 75.4 281.4 76.8 280.9 78.2 280.3 79.7 279.8 81.4 279.3 83.1 278.8 84.8 278.2 86.4 277.7 88.1 277.2 89.8 276.6 91.4 276.1 92.9 275.6 94.2 275 95.3 274.5 96.2 274 97 273.5 97.8 272.9 98.6 272.4 99.6 271.9 100.5 271.3 100.2 270.8 99.1 270.3 98.2 269.7 97.4 269.2 96.5 268.7 95.7 268.2 94.7 267.6 93.6 267.1 92.4 266.6 91 266 89.7 265.5 88.2 265 86.8 264.4 85.5 263.9 84.2 263.4 83 262.9 81.7 262.3 80.5 261.8 79.3 261.3 78.2 260.7 77.1 260.2 76 259.7 74.9 259.1 73.9 258.6 72.9 258.1 72 257.5 71.3 257 70.6 256.5 70 256 69.4 255.4 69 254.9 68.7 254.4 68.5 253.8 68.4 253.3 68.2 252.8 68.1 252.2 68 251.7 67.9 251.2 67.8 250.7 67.7 250.1 67.6 249.6 67.5 249.1 67.4 248.5 67.3 248 67.2 247.5 67.1 246.9 67 246.4 67 245.9 66.9 245.4 66.8 244.8 66.7 244.3 66.6 243.8 66.6 243.2 66.5 242.7 66.4 242.2 66.3 241.6 66.3 241.1 66.2 240.6 66.1 240.1 66.1 239.5 66 239 65.9 238.5 65.9 237.9 65.8 237.4 65.7 236.9 65.7 236.3 65.6 235.8 65.6 235.3 65.5 234.8 65.4 234.2 65.4 233.7 65.3 233.2 65.3 232.6 65.2 232.1 65.2 231.6 65.1 231 65.1 230.5 65 230 65 229.4 65 228.9 64.9 228.4 64.9 227.9 64.8 227.3 64.8 226.8 64.8 226.3 64.7 225.7 64.7 225.2 64.7 224.7 64.6 224.1 64.6 223.6 64.6 223.1 64.5 222.6 64.5 222 64.5 221.5 64.4 221 64.4 220.4 64.4 219.9 64.4 219.4 64.3 218.8 64.3 218.3 64.3 217.8 64.2 217.3 64.2 216.7 64.2 216.2 64.2 215.7 64.1 215.1 64.1 214.6 64.1 214.1 64 213.5 64 213 64 212.5 64 212 63.9 211.4 63.9 210.9 63.9 210.4 63.9 209.8 63.8 209.3 63.8 208.8 63.8 208.2 63.8 207.7 63.8 207.2 63.7 206.7 63.7 206.1 63.7 205.6 63.7 205.1 63.6 204.5 63.6 204 63.6Z" fill="#ff0000" stroke="#ff0000" stroke-width="5.9" stroke-opacity="0.35" stroke-linejoin="round"/>
<path d="M204 63 204.5 63 205.1 63 205.6 62.9 206.1 62.9 206.7 62.9 207.2 62.9 207.7 62.8 208.2 62.8 208.8 62.8 209.3 62.8 209.8 62.8 210.4 62.7 210.9 62.7 211.4 62.7 212 62.7 212.5 62.6 213 62.6 213.5 62.6 214.1 62.6 214.6 62.5 215.1 62.5 215.7 62.5 216.2 62.4 216.7 62.4 217.3 62.4 217.8 62.4 218.3 62.3 218.8 62.3 219.4 62.3 219.9 62.2 220.4 62.2 221 62.2 221.5 62.2 222 62.1 222.6 62.1 223.1 62.1 223.6 62 224.1 62 224.7 62 225.2 61.9 225.7 61.9 226.3 61.9 226.8 61.8 227.3 61.8 227.9 61.8 228.4 61.7 228.9 61.7 229.4 61.6 230 61.6 230.5 61.6 231 61.5 231.6 61.5 232.1 61.4 232.6 61.4 233.2 61.3 233.7 61.3 234.2 61.2 234.8 61.2 235.3 61.1 235.8 61 236.3 61 236.9 60.9 237.4 60.9 237.9 60.8 238.5 60.7 239 60.7 239.5 60.6 240.1 60.5 240.6 60.5 241.1 60.4 241.6 60.3 242.2 60.3 242.7 60.2 243.2 60.1 243.8 60 244.3 60 244.8 59.9 245.4 59.8 245.9 59.7 246.4 59.6 246.9 59.6 247.5 59.5 248 59.4 248.5 59.3 249.1 59.2 249.6 59.1 250.1 59 250.7 58.9 251.2 58.8 251.7 58.7 252.2 58.6 252.8 58.5 253.3 58.4 253.8 58.2 254.4 58.1 254.9 57.9 255.4 57.6 256 57.2 256.5 56.6 257 56 257.5 55.3 258.1 54.6 258.6 53.7 259.1 52.7 259.7 51.7 260.2 50.6 260.7 49.5 261.3 48.4 261.8 47.3 262.3 46.1 262.9 44.9 263.4 43.6 263.9 42.4 264.4 41.1 265 39.8 265.5 38.4 266 36.9 266.6 35.6 267.1 34.2 267.6 33 268.2 31.9 268.7 30.9 269.2 30.1 269.7 29.2 270.3 28.4 270.8 27.5 271.3 26.4 271.9 26.1 272.4 27 272.9 28 273.5 28.8 274 29.6 274.5 30.4 275 31.3 275.6 32.4 276.1 33.7 276.6 35.2 277.2 36.8 277.7 38.5 278.2 40.2 278.8 41.8 279.3 43.5 279.8 45.2 280.3 46.9 280.9 48.4 281.4 49.8 281.9 51.2 282.5 52.4 283 53.6 283.5 54.8 284.1 55.8 284.6 56.8 285.1 57.7 285.6 58.5 286.2 59.4 286.7 60.3 287.2 61.2 287.8 62.2 288.3 63.3 288.3 63.3 287.8 64.4 287.2 65.4 286.7 66.3 286.2 67.2 285.6 68.1 285.1 68.9 284.6 69.8 284.1 70.8 283.5 71.8 283 73 282.5 74.2 281.9 75.4 281.4 76.8 280.9 78.2 280.3 79.7 279.8 81.4 279.3 83.1 278.8 84.8 278.2 86.4 277.7 88.1 277.2 89.8 276.6 91.4 276.1 92.9 275.6 94.2 275 95.3 274.5 96.2 274 97 273.5 97.8 272.9 98.6 272.4 99.6 271.9 100.5 271.3 100.2 270.8 99.1 270.3 98.2 269.7 97.4 269.2 96.5 268.7 95.7 268.2 94.7 267.6 93.6 267.1 92.4 266.6 91 266 89.7 265.5 88.2 265 86.8 264.4 85.5 263.9 84.2 263.4 83 262.9 81.7 262.3 80.5 261.8 79.3 261.3 78.2 260.7 77.1 260.2 76 259.7 74.9 259.1 73.9 258.6 72.9 258.1 72 257.5 71.3 257 70.6 256.5 70 256 69.4 255.4 69 254.9 68.7 254.4 68.5 253.8 68.4 253.3 68.2 252.8 68.1 252.2 68 251.7 67.9 251.2 67.8 250.7 67.7 250.1 67.6 249.6 67.5 249.1 67.4 248.5 67.3 248 67.2 247.5 67.1 246.9 67 246.4 67 245.9 66.9 245.4 66.8 244.8 66.7 244.3 66.6 243.8 66.6 243.2 66.5 242.7 66.4 242.2 66.3 241.6 66.3 241.1 66.2 240.6 66.1 240.1 66.1 239.5 66 239 65.9 238.5 65.9 237.9 65.8 237.4 65.7 236.9 65.7 236.3 65.6 235.8 65.6 235.3 65.5 234.8 65.4 234.2 65.4 233.7 65.3 233.2 65.3 232.6 65.2 232.1 65.2 231.6 65.1 231 65.1 230.5 65 230 65 229.4 65 228.9 64.9 228.4 64.9 227.9 64.8 227.3 64.8 226.8 64.8 226.3 64.7 225.7 64.7 225.2 64.7 224.7 64.6 224.1 64.6 223.6 64.6 223.1 64.5 222.6 64.5 222 64.5 221.5 64.4 221 64.4 220.4 64.4 219.9 64.4 219.4 64.3 218.8 64.3 218.3 64.3 217.8 64.2 217.3 64.2 216.7 64.2 216.2 64.2 215.7 64.1 215.1 64.1 214.6 64.1 214.1 64 213.5 64 213 64 212.5 64 212 63.9 211.4 63.9 210.9 63.9 210.4 63.9 209.8 63.8 209.3 63.8 208.8 63.8 208.2 63.8 207.7 63.8 207.2 63.7 206.7 63.7 206.1 63.7 205.6 63.7 205.1 63.6 204.5 63.6 204 63.6Z" fill="#ff0000" stroke="#ff0000" stroke-width="4.5" stroke-linejoin="round"/>
<path d="M277.9 87.2h0M266.6 36.7h0M233 61.4h0M284.1 56.2h0M243.2 66.4h0M271.7 27.4h0M257.6 71.2h0M206.7 62.9h0M262.8 81h0M278.6 41.7h0M218.4 64.3h0M283.7 55.1h0M262.5 80.7h0M284.9 57.5h0M262.1 47.2h0M269.5 29.9h0M285.8 67.6h0M287.4 61.5h0M284.8 57.3h0M257.7 55.6h0M225.6 61.9h0M216.8 64.2h0M245.2 59.8h0M267.3 91.8h0M267.7 93.2h0M258.8 53.5h0M283.2 72.1h0M277.9 39.8h0M265.7 87.6h0M218.7 62.4h0M262.1 47.5h0M265.7 38.7h0M274.5 94.5h0M278.4 85.6h0M253.6 68.3h0M277.5 88h0M258.6 72.6h0M265.4 40.2h0M255.7 57.5h0M286.2 67.1h0M287.8 62.4h0M281.5 50.1h0M227.9 64.8h0M212.2 64h0M216.5 62.5h0M268.2 31.9h0M285.2 58.1h0M269.4 96.6h0M236.7 65.6h0M276.2 91.8h0M286.9 65.9h0M250.8 67.5h0M283.6 71.4h0M263.7 82.5h0M270 30.8h0M241.4 60.5h0M270.4 97.9h0M246.2 66.8h0M258.8 53.4h0M281.7 75.5h0M273.4 96.7h0M230.2 61.7h0M276.4 91.3h0M248.9 59.3h0M236 61h0M250.2 59h0M270.1 29.5h0M265.5 88.1h0M266.3 89.5h0M269.1 32h0M270.9 99.3h0M220.9 64.4h0M286.2 67.1h0M283.3 54.7h0M272.4 99.2h0M284.2 70.4h0M265.1 86h0M210.6 62.7h0M278.8 42.9h0M243.2 66.3h0M222.2 64.5h0M262.5 45.8h0M281.2 77.3h0M277 37.6h0M272.5 28.5h0M252.5 68h0M245.4 66.6h0" stroke="#ff0000" stroke-opacity="0.4" stroke-width="6.4" stroke-linecap="round" fill="none"/>
<path d="M246.2 59.8h0M286.9 66h0M251.1 67.5h0M223.8 62.1h0M245.1 59.8h0M276 33.8h0M284.6 69.6h0M206.2 62.9h0M272.7 97.5h0M263.4 82.1h0M256.2 69.5h0M276.7 36.9h0M260.2 75.5h0M239.4 65.9h0M285.4 68.4h0M215.7 64.1h0M274.4 94.6h0M263.9 83.7h0M266 38h0M276.1 92.4h0M253.8 68.2h0M219.6 62.3h0M227.1 64.7h0M278.9 42.6h0M237.8 60.8h0M265.9 38h0M268 93.4h0M224.7 64.6h0M237.4 61h0M208.6 62.8h0M268.3 93.9h0M287.2 65.5h0M242.7 60.3h0M281.6 50.9h0M247.3 67h0M285.6 68h0M270.7 29.6h0M228.1 61.8h0M238.4 60.8h0M272.8 28.3h0M217.7 64.2h0M286.4 59.8h0M265.2 86.7h0M280.6 48.3h0M217.6 62.4h0M231.7 65.1h0M231 61.6h0M217.9 62.4h0M208.2 63.8h0M244.3 66.6h0M235.4 61.1h0M234.8 61.3h0M214.5 62.5h0M208.5 62.8h0M264.9 86.5h0M283.7 71.4h0M283.5 55h0M279.6 82.1h0M278.5 41.8h0M277 89.3h0M233 61.4h0M271.8 27.4h0M238.2 65.7h0M279.1 43.7h0M241.3 66.2h0M247.5 67h0M283.8 71.2h0M250.3 67.5h0M212.2 62.6h0M225.1 62h0M263.1 82.3h0M243.7 60.2h0M214.1 62.6h0M222.6 62.1h0M250.1 59.1h0M260.1 50.8h0M208.1 63.8h0M287 61h0M282 74.8h0M266.9 91.7h0M277.1 88.4h0M238.2 60.8h0M277 88.9h0M283.6 71.5h0M237.9 60.9h0M283.5 54.9h0M281.5 50h0" stroke="#ff0000" stroke-opacity="0.4" stroke-width="6.4" stroke-linecap="round" fill="none"/>
<path d="M242.8 60.4h0M240.3 60.6h0M277.3 37.3h0M207.8 62.9h0M276 92h0M254.2 58.2h0M210.2 62.8h0M278.8 83.9h0M269.9 29.9h0M246.1 59.7h0M229.1 64.9h0M240.5 66.1h0M266.9 91.7h0M267.4 92.6h0M232 61.5h0M264.1 43.2h0M208 63.8h0M265.8 38.8h0M232.3 65.2h0M254.7 58.1h0M217.2 62.4h0M262.4 46.5h0M275.6 33.4h0M224.7 64.6h0M261.6 78.8h0M265.4 40.1h0M249 59.4h0M277.2 37.9h0M276.2 35.5h0M238.9 60.7h0M244.3 66.5h0M288.2 63.1h0M260.6 50.6h0M285.2 58.1h0M247 59.6h0M265 86.2h0M257.1 70.3h0M216.7 64.1h0M223.5 64.6h0M253.6 58.5h0M248.7 67.1h0M277.8 87.4h0M213.2 64h0M204.3 63.6h0M273.8 30h0M256.1 69.5h0M212.7 62.6h0M264.7 40.4h0M270.2 28.8h0M224.3 62h0M235.6 61.1h0M235.6 65.5h0M279.5 82.4h0M223.4 64.5h0M235.1 65.4h0M275.5 93.6h0M233.7 61.3h0M258.5 54.1h0M288.3 63.2h0M258.8 72.8h0M236.6 61h0M285 69.1h0M270.3 97h0M261.1 77.5h0M215 64h0M259.5 52h0M278.8 84.2h0M225.9 62h0M210.9 62.7h0M280 80.5h0M284.3 56.3h0M262.3 46.8h0M266.8 91.4h0M273.3 96.6h0M263.7 43.8h0M259.4 52.4h0M278.5 42.3h0M286.5 66.6h0M267.5 34h0M271.5 99.2h0M243 66.3h0M240.2 66.1h0M212 63.9h0M273.3 97.1h0M272.9 98.6h0M273.3 97.7h0" stroke="#ff0000" stroke-opacity="0.4" stroke-width="6.4" stroke-linecap="round" fill="none"/>
<path d="M204 63 204.5 63 205.1 63 205.6 62.9 206.1 62.9 206.7 62.9 207.2 62.9 207.7 62.8 208.2 62.8 208.8 62.8 209.3 62.8 209.8 62.8 210.4 62.7 210.9 62.7 211.4 62.7 212 62.7 212.5 62.6 213 62.6 213.5 62.6 214.1 62.6 214.6 62.5 215.1 62.5 215.7 62.5 216.2 62.4 216.7 62.4 217.3 62.4 217.8 62.4 218.3 62.3 218.8 62.3 219.4 62.3 219.9 62.2 220.4 62.2 221 62.2 221.5 62.2 222 62.1 222.6 62.1 223.1 62.1 223.6 62 224.1 62 224.7 62 225.2 61.9 225.7 61.9 226.3 61.9 226.8 61.8 227.3 61.8 227.9 61.8 228.4 61.7 228.9 61.7 229.4 61.6 230 61.6 230.5 61.6 231 61.5 231.6 61.5 232.1 61.4 232.6 61.4 233.2 61.3 233.7 61.3 234.2 61.2 234.8 61.2 235.3 61.1 235.8 61 236.3 61 236.9 60.9 237.4 60.9 237.9 60.8 238.5 60.7 239 60.7 239.5 60.6 240.1 60.5 240.6 60.5 241.1 60.4 241.6 60.3 242.2 60.3 242.7 60.2 243.2 60.1 243.8 60 244.3 60 244.8 59.9 245.4 59.8 245.9 59.7 246.4 59.6 246.9 59.6 247.5 59.5 248 59.4 248.5 59.3 249.1 59.2 249.6 59.1 250.1 59 250.7 58.9 251.2 58.8 251.7 58.7 252.2 58.6 252.8 58.5 253.3 58.4 253.8 58.2 254.4 58.1 254.9 57.9 255.4 57.6 256 57.2 256.5 56.6 257 56 257.5 55.3 258.1 54.6 258.6 53.7 259.1 52.7 259.7 51.7 260.2 50.6 260.7 49.5 261.3 48.4 261.8 47.3 262.3 46.1 262.9 44.9 263.4 43.6 263.9 42.4 264.4 41.1 265 39.8 265.5 38.4 266 36.9 266.6 35.6 267.1 34.2 267.6 33 268.2 31.9 268.7 30.9 269.2 30.1 269.7 29.2 270.3 28.4 270.8 27.5 271.3 26.4 271.9 26.1 272.4 27 272.9 28 273.5 28.8 274 29.6 274.5 30.4 275 31.3 275.6 32.4 276.1 33.7 276.6 35.2 277.2 36.8 277.7 38.5 278.2 40.2 278.8 41.8 279.3 43.5 279.8 45.2 280.3 46.9 280.9 48.4 281.4 49.8 281.9 51.2 282.5 52.4 283 53.6 283.5 54.8 284.1 55.8 284.6 56.8 285.1 57.7 285.6 58.5 286.2 59.4 286.7 60.3 287.2 61.2 287.8 62.2 288.3 63.3 288.3 63.3 287.8 64.4 287.2 65.4 286.7 66.3 286.2 67.2 285.6 68.1 285.1 68.9 284.6 69.8 284.1 70.8 283.5 71.8 283 73 282.5 74.2 281.9 75.4 281.4 76.8 280.9 78.2 280.3 79.7 279.8 81.4 279.3 83.1 278.8 84.8 278.2 86.4 277.7 88.1 277.2 89.8 276.6 91.4 276.1 92.9 275.6 94.2 275 95.3 274.5 96.2 274 97 273.5 97.8 272.9 98.6 272.4 99.6 271.9 100.5 271.3 100.2 270.8 99.1 270.3 98.2 269.7 97.4 269.2 96.5 268.7 95.7 268.2 94.7 267.6 93.6 267.1 92.4 266.6 91 266 89.7 265.5 88.2 265 86.8 264.4 85.5 263.9 84.2 263.4 83 262.9 81.7 262.3 80.5 261.8 79.3 261.3 78.2 260.7 77.1 260.2 76 259.7 74.9 259.1 73.9 258.6 72.9 258.1 72 257.5 71.3 257 70.6 256.5 70 256 69.4 255.4 69 254.9 68.7 254.4 68.5 253.8 68.4 253.3 68.2 252.8 68.1 252.2 68 251.7 67.9 251.2 67.8 250.7 67.7 250.1 67.6 249.6 67.5 249.1 67.4 248.5 67.3 248 67.2 247.5 67.1 246.9 67 246.4 67 245.9 66.9 245.4 66.8 244.8 66.7 244.3 66.6 243.8 66.6 243.2 66.5 242.7 66.4 242.2 66.3 241.6 66.3 241.1 66.2 240.6 66.1 240.1 66.1 239.5 66 239 65.9 238.5 65.9 237.9 65.8 237.4 65.7 236.9 65.7 236.3 65.6 235.8 65.6 235.3 65.5 234.8 65.4 234.2 65.4 233.7 65.3 233.2 65.3 232.6 65.2 232.1 65.2 231.6 65.1 231 65.1 230.5 65 230 65 229.4 65 228.9 64.9 228.4 64.9 227.9 64.8 227.3 64.8 226.8 64.8 226.3 64.7 225.7 64.7 225.2 64.7 224.7 64.6 224.1 64.6 223.6 64.6 223.1 64.5 222.6 64.5 222 64.5 221.5 64.4 221 64.4 220.4 64.4 219.9 64.4 219.4 64.3 218.8 64.3 218.3 64.3 217.8 64.2 217.3 64.2 216.7 64.2 216.2 64.2 215.7 64.1 215.1 64.1 214.6 64.1 214.1 64 213.5 64 213 64 212.5 64 212 63.9 211.4 63.9 210.9 63.9 210.4 63.9 209.8 63.8 209.3 63.8 208.8 63.8 208.2 63.8 207.7 63.8 207.2 63.7 206.7 63.7 206.1 63.7 205.6 63.7 205.1 63.6 204.5 63.6 204 63.6Z" fill="none" stroke="#d48484" stroke-width="0.8" stroke-linejoin="round"/>
<line x1="33" y1="63.3" x2="289" y2="63.3" stroke="#8a8a8a" stroke-width="0.6"/>
<rect x="262" y="61.8" width="12" height="3" fill="#808080"/>
<circle cx="268.6" cy="63.3" r="3.3" fill="#fff" stroke="#808080" stroke-width="0.5"/>
<path d="M395.8 1229H669" fill="none" stroke="#cdcdcd" stroke-width="1.4"/>
<path d="M668.4 1229V981" fill="none" stroke="#b0b0b0" stroke-width="1.1"/>
<path d="M668.5 1229v-3M634.5 1229v-3M600.5 1229v-3M566.5 1229v-3M532.5 1229v-3M498.5 1229v-3M464.5 1229v-3M430.5 1229v-3M396.4 1229v-3M668.5 1167h-3M668.5 1043h-3" fill="none" stroke="#a6a6a6" stroke-width="1"/>
<text transform="translate(672.8,1233.9) rotate(-90)" text-anchor="end" font-size="11.0">0</text>
<text transform="translate(638.8,1233.9) rotate(-90)" text-anchor="end" font-size="11.0">0.05</text>
<text transform="translate(604.8,1233.9) rotate(-90)" text-anchor="end" font-size="11.0">0.1</text>
<text transform="translate(570.8,1233.9) rotate(-90)" text-anchor="end" font-size="11.0">0.15</text>
<text transform="translate(536.8,1233.9) rotate(-90)" text-anchor="end" font-size="11.0">0.2</text>
<text transform="translate(502.8,1233.9) rotate(-90)" text-anchor="end" font-size="11.0">0.25</text>
<text transform="translate(468.8,1233.9) rotate(-90)" text-anchor="end" font-size="11.0">0.3</text>
<text transform="translate(434.8,1233.9) rotate(-90)" text-anchor="end" font-size="11.0">0.35</text>
<text transform="translate(400.8,1233.9) rotate(-90)" text-anchor="end" font-size="11.0">0.4</text>
<text transform="translate(683.2,1167) rotate(-90)" text-anchor="middle" font-size="11.0">POST</text>
<text transform="translate(683.2,1043) rotate(-90)" text-anchor="middle" font-size="11.0">PRE Resected</text>
<text transform="translate(533.1,1265.1) rotate(180)" text-anchor="middle" font-size="12.1">strength per channel</text>
<text transform="translate(390.9,1104.7) rotate(-90)" text-anchor="middle" font-size="13.8" font-weight="bold" fill="#000">H2</text>
<path d="M391.2 1105h16.4 M399.4 1096.8v16.4 M393.6 1099.2l11.6 11.6 M393.6 1110.8l11.6 -11.6" stroke="#7E2F8E" stroke-width="0.55" stroke-opacity="0.85" fill="none"/>
<g fill="#0000ff" fill-opacity="0.3"><circle cx="444" cy="1167" r="3.2"/><circle cx="451" cy="1167" r="3.2"/><circle cx="453" cy="1167" r="3.2"/><circle cx="464.4" cy="1167" r="3.2"/><circle cx="465" cy="1167" r="3.2"/><circle cx="471" cy="1167" r="3.2"/><circle cx="475" cy="1167" r="3.2"/><circle cx="476" cy="1167" r="3.2"/><circle cx="477" cy="1167" r="3.2"/><circle cx="478" cy="1167" r="3.2"/><circle cx="480" cy="1167" r="3.2"/><circle cx="484" cy="1167" r="3.2"/><circle cx="488" cy="1167" r="3.2"/><circle cx="489" cy="1167" r="3.2"/><circle cx="490" cy="1167" r="3.2"/><circle cx="491" cy="1167" r="3.2"/><circle cx="492" cy="1167" r="3.2"/><circle cx="493" cy="1167" r="3.2"/><circle cx="494" cy="1167" r="3.2"/><circle cx="497" cy="1167" r="3.2"/><circle cx="498" cy="1167" r="3.2"/><circle cx="499" cy="1167" r="3.2"/><circle cx="503" cy="1167" r="3.2"/><circle cx="507" cy="1167" r="3.2"/><circle cx="508" cy="1167" r="3.2"/><circle cx="509" cy="1167" r="3.2"/><circle cx="510" cy="1167" r="3.2"/><circle cx="512" cy="1167" r="3.2"/><circle cx="516" cy="1167" r="3.2"/><circle cx="520" cy="1167" r="3.2"/><circle cx="524" cy="1167" r="3.2"/><circle cx="525" cy="1167" r="3.2"/><circle cx="526" cy="1167" r="3.2"/><circle cx="527" cy="1167" r="3.2"/><circle cx="528" cy="1167" r="3.2"/><circle cx="529" cy="1167" r="3.2"/><circle cx="530" cy="1167" r="3.2"/><circle cx="531" cy="1167" r="3.2"/><circle cx="532" cy="1167" r="3.2"/><circle cx="540.6" cy="1167" r="3.2"/><circle cx="540.8" cy="1167" r="3.2"/><circle cx="545.6" cy="1167" r="3.2"/><circle cx="554.4" cy="1167" r="3.2"/><circle cx="555" cy="1167" r="3.2"/><circle cx="563" cy="1167" r="3.2"/><circle cx="576.7" cy="1166.2" r="3.2"/><circle cx="568.4" cy="1166.8" r="3.2"/><circle cx="568.1" cy="1166.8" r="3.2"/><circle cx="570.7" cy="1166.4" r="3.2"/><circle cx="573" cy="1167.5" r="3.2"/><circle cx="576.8" cy="1166.6" r="3.2"/><circle cx="571.2" cy="1166.4" r="3.2"/><circle cx="575.9" cy="1166.4" r="3.2"/><circle cx="575.8" cy="1166.2" r="3.2"/><circle cx="576.8" cy="1167.4" r="3.2"/><circle cx="570" cy="1167.1" r="3.2"/><circle cx="571.2" cy="1167" r="3.2"/><circle cx="652.1" cy="1168" r="3.2"/><circle cx="652.4" cy="1167.6" r="3.2"/><circle cx="651.8" cy="1168.2" r="3.2"/><circle cx="652.6" cy="1168" r="3.2"/></g>
<path d="M575.3 1166.6 575.8 1166.5 576.2 1166.5 576.7 1166.4 577.2 1166.3 577.7 1166.3 578.1 1166.2 578.6 1166.1 579.1 1166 579.5 1166 580 1165.9 580.5 1165.8 580.9 1165.7 581.4 1165.6 581.9 1165.5 582.4 1165.4 582.8 1165.4 583.3 1165.3 583.8 1165.2 584.2 1165.1 584.7 1165 585.2 1164.9 585.6 1164.8 586.1 1164.7 586.6 1164.6 587.1 1164.4 587.5 1164.3 588 1164.2 588.5 1164.1 588.9 1163.9 589.4 1163.8 589.9 1163.6 590.4 1163.5 590.8 1163.3 591.3 1163.1 591.8 1162.9 592.2 1162.7 592.7 1162.5 593.2 1162.3 593.6 1162.1 594.1 1161.9 594.6 1161.6 595.1 1161.4 595.5 1161.1 596 1160.8 596.5 1160.5 596.9 1160.2 597.4 1159.9 597.9 1159.5 598.4 1159.1 598.8 1158.8 599.3 1158.4 599.8 1157.9 600.2 1157.5 600.7 1157 601.2 1156.5 601.6 1156 602.1 1155.5 602.6 1155 603.1 1154.5 603.5 1154 604 1153.5 604.5 1152.9 604.9 1152.4 605.4 1151.8 605.9 1151.3 606.3 1150.7 606.8 1150.2 607.3 1149.6 607.8 1149.1 608.2 1148.5 608.7 1148 609.2 1147.4 609.6 1146.9 610.1 1146.3 610.6 1145.7 611.1 1145.2 611.5 1144.6 612 1144 612.5 1143.4 612.9 1142.7 613.4 1142.1 613.9 1141.5 614.3 1140.8 614.8 1140.1 615.3 1139.4 615.8 1138.7 616.2 1137.9 616.7 1137.2 617.2 1136.4 617.6 1135.6 618.1 1134.9 618.6 1134.2 619.1 1133.5 619.5 1132.8 620 1132.1 620.5 1131.5 620.9 1131.1 621.4 1130.7 621.9 1130.4 622.3 1130.1 622.8 1130.1 623.3 1130.2 623.8 1130.3 624.2 1130.5 624.7 1130.8 625.2 1131.1 625.6 1131.4 626.1 1131.7 626.6 1132.1 627 1132.5 627.5 1132.9 628 1133.4 628.5 1133.8 628.9 1134.2 629.4 1134.7 629.9 1135.1 630.3 1135.6 630.8 1136 631.3 1136.5 631.8 1136.9 632.2 1137.4 632.7 1137.9 633.2 1138.5 633.6 1139 634.1 1139.6 634.6 1140.2 635 1140.8 635.5 1141.4 636 1142.1 636.5 1142.8 636.9 1143.5 637.4 1144.3 637.9 1145.2 638.3 1146.1 638.8 1147.1 639.3 1148.1 639.8 1149.1 640.2 1150 640.7 1151 641.2 1151.9 641.6 1152.9 642.1 1153.9 642.6 1154.8 643 1155.7 643.5 1156.6 644 1157.5 644.5 1158.4 644.9 1159.3 645.4 1160.2 645.9 1161 646.3 1161.8 646.8 1162.6 647.3 1163.3 647.7 1164 648.2 1164.6 648.7 1165.3 649.2 1165.9 649.6 1166.5 650.1 1167 650.1 1167 649.6 1167.5 649.2 1168.1 648.7 1168.7 648.2 1169.4 647.7 1170 647.3 1170.7 646.8 1171.4 646.3 1172.2 645.9 1173 645.4 1173.8 644.9 1174.7 644.5 1175.6 644 1176.5 643.5 1177.4 643 1178.3 642.6 1179.2 642.1 1180.1 641.6 1181.1 641.2 1182.1 640.7 1183 640.2 1184 639.8 1184.9 639.3 1185.9 638.8 1186.9 638.3 1187.9 637.9 1188.8 637.4 1189.7 636.9 1190.5 636.5 1191.2 636 1191.9 635.5 1192.6 635 1193.2 634.6 1193.8 634.1 1194.4 633.6 1195 633.2 1195.5 632.7 1196.1 632.2 1196.6 631.8 1197.1 631.3 1197.5 630.8 1198 630.3 1198.4 629.9 1198.9 629.4 1199.3 628.9 1199.8 628.5 1200.2 628 1200.6 627.5 1201.1 627 1201.5 626.6 1201.9 626.1 1202.3 625.6 1202.6 625.2 1202.9 624.7 1203.2 624.2 1203.5 623.8 1203.7 623.3 1203.8 622.8 1203.9 622.3 1203.9 621.9 1203.6 621.4 1203.3 620.9 1202.9 620.5 1202.5 620 1201.9 619.5 1201.2 619.1 1200.5 618.6 1199.8 618.1 1199.1 617.6 1198.4 617.2 1197.6 616.7 1196.8 616.2 1196.1 615.8 1195.3 615.3 1194.6 614.8 1193.9 614.3 1193.2 613.9 1192.5 613.4 1191.9 612.9 1191.3 612.5 1190.6 612 1190 611.5 1189.4 611.1 1188.8 610.6 1188.3 610.1 1187.7 609.6 1187.1 609.2 1186.6 608.7 1186 608.2 1185.5 607.8 1184.9 607.3 1184.4 606.8 1183.8 606.3 1183.3 605.9 1182.7 605.4 1182.2 604.9 1181.6 604.5 1181.1 604 1180.5 603.5 1180 603.1 1179.5 602.6 1179 602.1 1178.5 601.6 1178 601.2 1177.5 600.7 1177 600.2 1176.5 599.8 1176.1 599.3 1175.6 598.8 1175.2 598.4 1174.9 597.9 1174.5 597.4 1174.1 596.9 1173.8 596.5 1173.5 596 1173.2 595.5 1172.9 595.1 1172.6 594.6 1172.4 594.1 1172.1 593.6 1171.9 593.2 1171.7 592.7 1171.5 592.2 1171.3 591.8 1171.1 591.3 1170.9 590.8 1170.7 590.4 1170.5 589.9 1170.4 589.4 1170.2 588.9 1170.1 588.5 1169.9 588 1169.8 587.5 1169.7 587.1 1169.6 586.6 1169.4 586.1 1169.3 585.6 1169.2 585.2 1169.1 584.7 1169 584.2 1168.9 583.8 1168.8 583.3 1168.7 582.8 1168.6 582.4 1168.6 581.9 1168.5 581.4 1168.4 580.9 1168.3 580.5 1168.2 580 1168.1 579.5 1168 579.1 1168 578.6 1167.9 578.1 1167.8 577.7 1167.7 577.2 1167.7 576.7 1167.6 576.2 1167.5 575.8 1167.5 575.3 1167.4Z" fill="#0000ff" stroke="#0000ff" stroke-width="5.9" stroke-opacity="0.35" stroke-linejoin="round"/>
<path d="M575.3 1166.6 575.8 1166.5 576.2 1166.5 576.7 1166.4 577.2 1166.3 577.7 1166.3 578.1 1166.2 578.6 1166.1 579.1 1166 579.5 1166 580 1165.9 580.5 1165.8 580.9 1165.7 581.4 1165.6 581.9 1165.5 582.4 1165.4 582.8 1165.4 583.3 1165.3 583.8 1165.2 584.2 1165.1 584.7 1165 585.2 1164.9 585.6 1164.8 586.1 1164.7 586.6 1164.6 587.1 1164.4 587.5 1164.3 588 1164.2 588.5 1164.1 588.9 1163.9 589.4 1163.8 589.9 1163.6 590.4 1163.5 590.8 1163.3 591.3 1163.1 591.8 1162.9 592.2 1162.7 592.7 1162.5 593.2 1162.3 593.6 1162.1 594.1 1161.9 594.6 1161.6 595.1 1161.4 595.5 1161.1 596 1160.8 596.5 1160.5 596.9 1160.2 597.4 1159.9 597.9 1159.5 598.4 1159.1 598.8 1158.8 599.3 1158.4 599.8 1157.9 600.2 1157.5 600.7 1157 601.2 1156.5 601.6 1156 602.1 1155.5 602.6 1155 603.1 1154.5 603.5 1154 604 1153.5 604.5 1152.9 604.9 1152.4 605.4 1151.8 605.9 1151.3 606.3 1150.7 606.8 1150.2 607.3 1149.6 607.8 1149.1 608.2 1148.5 608.7 1148 609.2 1147.4 609.6 1146.9 610.1 1146.3 610.6 1145.7 611.1 1145.2 611.5 1144.6 612 1144 612.5 1143.4 612.9 1142.7 613.4 1142.1 613.9 1141.5 614.3 1140.8 614.8 1140.1 615.3 1139.4 615.8 1138.7 616.2 1137.9 616.7 1137.2 617.2 1136.4 617.6 1135.6 618.1 1134.9 618.6 1134.2 619.1 1133.5 619.5 1132.8 620 1132.1 620.5 1131.5 620.9 1131.1 621.4 1130.7 621.9 1130.4 622.3 1130.1 622.8 1130.1 623.3 1130.2 623.8 1130.3 624.2 1130.5 624.7 1130.8 625.2 1131.1 625.6 1131.4 626.1 1131.7 626.6 1132.1 627 1132.5 627.5 1132.9 628 1133.4 628.5 1133.8 628.9 1134.2 629.4 1134.7 629.9 1135.1 630.3 1135.6 630.8 1136 631.3 1136.5 631.8 1136.9 632.2 1137.4 632.7 1137.9 633.2 1138.5 633.6 1139 634.1 1139.6 634.6 1140.2 635 1140.8 635.5 1141.4 636 1142.1 636.5 1142.8 636.9 1143.5 637.4 1144.3 637.9 1145.2 638.3 1146.1 638.8 1147.1 639.3 1148.1 639.8 1149.1 640.2 1150 640.7 1151 641.2 1151.9 641.6 1152.9 642.1 1153.9 642.6 1154.8 643 1155.7 643.5 1156.6 644 1157.5 644.5 1158.4 644.9 1159.3 645.4 1160.2 645.9 1161 646.3 1161.8 646.8 1162.6 647.3 1163.3 647.7 1164 648.2 1164.6 648.7 1165.3 649.2 1165.9 649.6 1166.5 650.1 1167 650.1 1167 649.6 1167.5 649.2 1168.1 648.7 1168.7 648.2 1169.4 647.7 1170 647.3 1170.7 646.8 1171.4 646.3 1172.2 645.9 1173 645.4 1173.8 644.9 1174.7 644.5 1175.6 644 1176.5 643.5 1177.4 643 1178.3 642.6 1179.2 642.1 1180.1 641.6 1181.1 641.2 1182.1 640.7 1183 640.2 1184 639.8 1184.9 639.3 1185.9 638.8 1186.9 638.3 1187.9 637.9 1188.8 637.4 1189.7 636.9 1190.5 636.5 1191.2 636 1191.9 635.5 1192.6 635 1193.2 634.6 1193.8 634.1 1194.4 633.6 1195 633.2 1195.5 632.7 1196.1 632.2 1196.6 631.8 1197.1 631.3 1197.5 630.8 1198 630.3 1198.4 629.9 1198.9 629.4 1199.3 628.9 1199.8 628.5 1200.2 628 1200.6 627.5 1201.1 627 1201.5 626.6 1201.9 626.1 1202.3 625.6 1202.6 625.2 1202.9 624.7 1203.2 624.2 1203.5 623.8 1203.7 623.3 1203.8 622.8 1203.9 622.3 1203.9 621.9 1203.6 621.4 1203.3 620.9 1202.9 620.5 1202.5 620 1201.9 619.5 1201.2 619.1 1200.5 618.6 1199.8 618.1 1199.1 617.6 1198.4 617.2 1197.6 616.7 1196.8 616.2 1196.1 615.8 1195.3 615.3 1194.6 614.8 1193.9 614.3 1193.2 613.9 1192.5 613.4 1191.9 612.9 1191.3 612.5 1190.6 612 1190 611.5 1189.4 611.1 1188.8 610.6 1188.3 610.1 1187.7 609.6 1187.1 609.2 1186.6 608.7 1186 608.2 1185.5 607.8 1184.9 607.3 1184.4 606.8 1183.8 606.3 1183.3 605.9 1182.7 605.4 1182.2 604.9 1181.6 604.5 1181.1 604 1180.5 603.5 1180 603.1 1179.5 602.6 1179 602.1 1178.5 601.6 1178 601.2 1177.5 600.7 1177 600.2 1176.5 599.8 1176.1 599.3 1175.6 598.8 1175.2 598.4 1174.9 597.9 1174.5 597.4 1174.1 596.9 1173.8 596.5 1173.5 596 1173.2 595.5 1172.9 595.1 1172.6 594.6 1172.4 594.1 1172.1 593.6 1171.9 593.2 1171.7 592.7 1171.5 592.2 1171.3 591.8 1171.1 591.3 1170.9 590.8 1170.7 590.4 1170.5 589.9 1170.4 589.4 1170.2 588.9 1170.1 588.5 1169.9 588 1169.8 587.5 1169.7 587.1 1169.6 586.6 1169.4 586.1 1169.3 585.6 1169.2 585.2 1169.1 584.7 1169 584.2 1168.9 583.8 1168.8 583.3 1168.7 582.8 1168.6 582.4 1168.6 581.9 1168.5 581.4 1168.4 580.9 1168.3 580.5 1168.2 580 1168.1 579.5 1168 579.1 1168 578.6 1167.9 578.1 1167.8 577.7 1167.7 577.2 1167.7 576.7 1167.6 576.2 1167.5 575.8 1167.5 575.3 1167.4Z" fill="#0000ff" stroke="#0000ff" stroke-width="4.5" stroke-linejoin="round"/>
<path d="M612.2 1190.3h0M616.1 1194.1h0M642.1 1154.5h0M646.5 1162.2h0M639.5 1184.8h0M636 1143.5h0M638.4 1146.3h0M588.3 1164.3h0M620.7 1131.6h0M579.4 1166h0M642.2 1154.7h0M605.9 1151.4h0M596.8 1173.3h0M615.8 1139.1h0M605.2 1152.7h0M576.3 1167.5h0M580.2 1165.9h0M637.3 1188.9h0M639.6 1149.8h0M633.6 1139.9h0M601.6 1156.2h0M637 1143.6h0M641.4 1180.7h0M641.1 1182h0M619 1134.9h0M631.1 1197.1h0M647 1171.2h0M630.5 1198.2h0M624.3 1202h0M585.3 1169.1h0M594.2 1161.9h0M594.5 1161.9h0M606.7 1183.3h0M626.6 1134h0M639.1 1148.4h0M628.9 1199.6h0M629.5 1135.3h0M613.2 1143.5h0M612.3 1190.3h0M640.8 1182.4h0M579.3 1168h0M620.1 1132.2h0M648.7 1168.7h0M590.3 1170.3h0M625.9 1201.1h0M637.7 1188.3h0M614.5 1141.2h0M576.5 1166.5h0M640.3 1151h0M636 1143.3h0M629.2 1198.4h0M602.7 1155h0M612.9 1143.3h0M605 1181.1h0M585.3 1169h0M633.9 1139.6h0M640.3 1183.7h0M605.7 1151.5h0M582.8 1168.6h0M644.8 1159.4h0M597.1 1173.6h0M612.2 1190.3h0M642.3 1154.9h0M635.1 1141.3h0M616.4 1138.4h0M636.5 1191.1h0M594.5 1161.7h0M634.6 1193.8h0M648.5 1168.9h0M606.9 1183.3h0M634.2 1193.7h0M621.5 1131.1h0M619.1 1199.9h0M605 1153.2h0M609.9 1186.2h0M641.7 1153.5h0M613.5 1143h0M647.7 1169.9h0M595.8 1161h0M642 1153.7h0M610.7 1145.7h0M590.4 1163.5h0M578.4 1166.2h0M595.6 1161.2h0M623.7 1130.7h0M632.9 1138.5h0M634.3 1193.7h0" stroke="#0000ff" stroke-opacity="0.4" stroke-width="6.4" stroke-linecap="round" fill="none"/>
<path d="M647.7 1164h0M632.7 1194.4h0M643.2 1156.1h0M640.4 1183.2h0M647 1163.1h0M641.1 1152.4h0M583.7 1165.2h0M615.6 1194.4h0M645.4 1173.7h0M632.2 1138.9h0M578.7 1167.8h0M575.9 1167.5h0M634.8 1193.2h0M615.8 1194.5h0M643.4 1177.4h0M604.1 1153.7h0M642 1180.3h0M639.8 1149.2h0M615.6 1139.2h0M615.5 1193.3h0M613.8 1142.5h0M638.5 1186.5h0M608.7 1185.2h0M594.3 1162.1h0M630.9 1196.6h0M599.3 1158.4h0M644 1176.3h0M585.1 1169.1h0M633.4 1139.8h0M647.5 1170.4h0M640.3 1183.3h0M639.5 1185h0M592.4 1171.3h0M618.2 1198.5h0M605.4 1152.1h0M594.8 1172.3h0M638.8 1185.9h0M600.6 1157.2h0M638.6 1147.9h0M587.3 1169.6h0M644.8 1174.4h0M631.4 1196.3h0M648.8 1168.6h0M629.6 1136.6h0M627 1134.2h0M605.1 1152.6h0M648.4 1169h0M645 1174.3h0M626.5 1201.5h0M644.4 1175.4h0M606.1 1182.9h0M606.8 1150.6h0M603.5 1179.3h0M595.4 1161.4h0M600.4 1157.5h0M602.8 1179h0M613.8 1143h0M607.5 1150h0M648.5 1168.9h0M630.4 1197.3h0M643.7 1176.9h0M595.6 1161.1h0M648 1169.6h0M633.3 1140.3h0M620.9 1131.9h0M612.5 1143.8h0M648.4 1165h0M630.5 1197.2h0M579.3 1166h0M629 1198.9h0M642.2 1154.1h0M611.4 1188.9h0M607.7 1183.8h0M614.3 1141.3h0M629.7 1197.6h0M608.6 1185.5h0M644.3 1175.8h0M575.8 1167.4h0M644 1158.1h0M628.2 1134.3h0M610.5 1146.9h0M627.5 1134.1h0M593.3 1171.6h0M614.8 1140.6h0M636.1 1191.7h0M642.4 1179.2h0M626.1 1133.7h0" stroke="#0000ff" stroke-opacity="0.4" stroke-width="6.4" stroke-linecap="round" fill="none"/>
<path d="M609.8 1187h0M645.7 1161h0M594.6 1172.4h0M606.3 1151.1h0M636.3 1143.7h0M643.1 1156.4h0M597 1173.7h0M582.4 1168.6h0M648.8 1165.5h0M590.6 1163.6h0M586.4 1169.4h0M630.6 1198.2h0M646.8 1171.3h0M649.8 1167.3h0M634.4 1140.4h0M634.9 1192.1h0M644.8 1174.6h0M625.2 1131.5h0M611.9 1145.4h0M605 1181.2h0M610.1 1146.9h0M639.2 1185.1h0M609.2 1185.9h0M633.6 1193.8h0M633.2 1140h0M577.9 1167.7h0M617.8 1197.7h0M615.1 1192.9h0M597.9 1174.5h0M641.6 1180.9h0M639.8 1184.4h0M610.1 1147.5h0M624.7 1131.6h0M586.1 1169.2h0M601.6 1177.8h0M644.7 1174.8h0M607.1 1149.8h0M600.6 1176.3h0M617.7 1136.3h0M603.4 1154.3h0M582.1 1168.4h0M596.6 1160.4h0M599.6 1175.6h0M618.4 1134.8h0M647.2 1170.7h0M636.6 1190.3h0M616.2 1194.5h0M602.5 1155.4h0M636.4 1190.7h0M640.8 1152.1h0M617.2 1196.9h0M615.2 1140.1h0M604.5 1180.4h0M623.8 1201.7h0M593.4 1171.5h0M586.1 1169.2h0M639.5 1184.5h0M621.4 1132.7h0M589.6 1170.2h0M637.5 1145.4h0M619.7 1133h0M593.5 1171.8h0M612.5 1144.1h0M617.2 1197.2h0M607.5 1184.4h0M617.8 1135.8h0M583.7 1168.8h0M607.4 1184h0M602.2 1155.5h0M624.5 1201.4h0M577.4 1167.7h0M632.7 1138.8h0M576 1166.5h0M606.9 1183.4h0M606.7 1182.8h0M613.6 1191.1h0M625.9 1202.2h0M647.2 1163.3h0M580.1 1168.1h0M632.4 1138.2h0M592 1163.1h0M607.2 1183.4h0M593.3 1171.7h0M644.7 1159.2h0M586.7 1164.7h0M649.7 1166.6h0" stroke="#0000ff" stroke-opacity="0.4" stroke-width="6.4" stroke-linecap="round" fill="none"/>
<path d="M575.3 1166.6 575.8 1166.5 576.2 1166.5 576.7 1166.4 577.2 1166.3 577.7 1166.3 578.1 1166.2 578.6 1166.1 579.1 1166 579.5 1166 580 1165.9 580.5 1165.8 580.9 1165.7 581.4 1165.6 581.9 1165.5 582.4 1165.4 582.8 1165.4 583.3 1165.3 583.8 1165.2 584.2 1165.1 584.7 1165 585.2 1164.9 585.6 1164.8 586.1 1164.7 586.6 1164.6 587.1 1164.4 587.5 1164.3 588 1164.2 588.5 1164.1 588.9 1163.9 589.4 1163.8 589.9 1163.6 590.4 1163.5 590.8 1163.3 591.3 1163.1 591.8 1162.9 592.2 1162.7 592.7 1162.5 593.2 1162.3 593.6 1162.1 594.1 1161.9 594.6 1161.6 595.1 1161.4 595.5 1161.1 596 1160.8 596.5 1160.5 596.9 1160.2 597.4 1159.9 597.9 1159.5 598.4 1159.1 598.8 1158.8 599.3 1158.4 599.8 1157.9 600.2 1157.5 600.7 1157 601.2 1156.5 601.6 1156 602.1 1155.5 602.6 1155 603.1 1154.5 603.5 1154 604 1153.5 604.5 1152.9 604.9 1152.4 605.4 1151.8 605.9 1151.3 606.3 1150.7 606.8 1150.2 607.3 1149.6 607.8 1149.1 608.2 1148.5 608.7 1148 609.2 1147.4 609.6 1146.9 610.1 1146.3 610.6 1145.7 611.1 1145.2 611.5 1144.6 612 1144 612.5 1143.4 612.9 1142.7 613.4 1142.1 613.9 1141.5 614.3 1140.8 614.8 1140.1 615.3 1139.4 615.8 1138.7 616.2 1137.9 616.7 1137.2 617.2 1136.4 617.6 1135.6 618.1 1134.9 618.6 1134.2 619.1 1133.5 619.5 1132.8 620 1132.1 620.5 1131.5 620.9 1131.1 621.4 1130.7 621.9 1130.4 622.3 1130.1 622.8 1130.1 623.3 1130.2 623.8 1130.3 624.2 1130.5 624.7 1130.8 625.2 1131.1 625.6 1131.4 626.1 1131.7 626.6 1132.1 627 1132.5 627.5 1132.9 628 1133.4 628.5 1133.8 628.9 1134.2 629.4 1134.7 629.9 1135.1 630.3 1135.6 630.8 1136 631.3 1136.5 631.8 1136.9 632.2 1137.4 632.7 1137.9 633.2 1138.5 633.6 1139 634.1 1139.6 634.6 1140.2 635 1140.8 635.5 1141.4 636 1142.1 636.5 1142.8 636.9 1143.5 637.4 1144.3 637.9 1145.2 638.3 1146.1 638.8 1147.1 639.3 1148.1 639.8 1149.1 640.2 1150 640.7 1151 641.2 1151.9 641.6 1152.9 642.1 1153.9 642.6 1154.8 643 1155.7 643.5 1156.6 644 1157.5 644.5 1158.4 644.9 1159.3 645.4 1160.2 645.9 1161 646.3 1161.8 646.8 1162.6 647.3 1163.3 647.7 1164 648.2 1164.6 648.7 1165.3 649.2 1165.9 649.6 1166.5 650.1 1167 650.1 1167 649.6 1167.5 649.2 1168.1 648.7 1168.7 648.2 1169.4 647.7 1170 647.3 1170.7 646.8 1171.4 646.3 1172.2 645.9 1173 645.4 1173.8 644.9 1174.7 644.5 1175.6 644 1176.5 643.5 1177.4 643 1178.3 642.6 1179.2 642.1 1180.1 641.6 1181.1 641.2 1182.1 640.7 1183 640.2 1184 639.8 1184.9 639.3 1185.9 638.8 1186.9 638.3 1187.9 637.9 1188.8 637.4 1189.7 636.9 1190.5 636.5 1191.2 636 1191.9 635.5 1192.6 635 1193.2 634.6 1193.8 634.1 1194.4 633.6 1195 633.2 1195.5 632.7 1196.1 632.2 1196.6 631.8 1197.1 631.3 1197.5 630.8 1198 630.3 1198.4 629.9 1198.9 629.4 1199.3 628.9 1199.8 628.5 1200.2 628 1200.6 627.5 1201.1 627 1201.5 626.6 1201.9 626.1 1202.3 625.6 1202.6 625.2 1202.9 624.7 1203.2 624.2 1203.5 623.8 1203.7 623.3 1203.8 622.8 1203.9 622.3 1203.9 621.9 1203.6 621.4 1203.3 620.9 1202.9 620.5 1202.5 620 1201.9 619.5 1201.2 619.1 1200.5 618.6 1199.8 618.1 1199.1 617.6 1198.4 617.2 1197.6 616.7 1196.8 616.2 1196.1 615.8 1195.3 615.3 1194.6 614.8 1193.9 614.3 1193.2 613.9 1192.5 613.4 1191.9 612.9 1191.3 612.5 1190.6 612 1190 611.5 1189.4 611.1 1188.8 610.6 1188.3 610.1 1187.7 609.6 1187.1 609.2 1186.6 608.7 1186 608.2 1185.5 607.8 1184.9 607.3 1184.4 606.8 1183.8 606.3 1183.3 605.9 1182.7 605.4 1182.2 604.9 1181.6 604.5 1181.1 604 1180.5 603.5 1180 603.1 1179.5 602.6 1179 602.1 1178.5 601.6 1178 601.2 1177.5 600.7 1177 600.2 1176.5 599.8 1176.1 599.3 1175.6 598.8 1175.2 598.4 1174.9 597.9 1174.5 597.4 1174.1 596.9 1173.8 596.5 1173.5 596 1173.2 595.5 1172.9 595.1 1172.6 594.6 1172.4 594.1 1172.1 593.6 1171.9 593.2 1171.7 592.7 1171.5 592.2 1171.3 591.8 1171.1 591.3 1170.9 590.8 1170.7 590.4 1170.5 589.9 1170.4 589.4 1170.2 588.9 1170.1 588.5 1169.9 588 1169.8 587.5 1169.7 587.1 1169.6 586.6 1169.4 586.1 1169.3 585.6 1169.2 585.2 1169.1 584.7 1169 584.2 1168.9 583.8 1168.8 583.3 1168.7 582.8 1168.6 582.4 1168.6 581.9 1168.5 581.4 1168.4 580.9 1168.3 580.5 1168.2 580 1168.1 579.5 1168 579.1 1168 578.6 1167.9 578.1 1167.8 577.7 1167.7 577.2 1167.7 576.7 1167.6 576.2 1167.5 575.8 1167.5 575.3 1167.4Z" fill="none" stroke="#7474cc" stroke-width="0.8" stroke-linejoin="round"/>
<line x1="444" y1="1167" x2="651" y2="1167" stroke="#6c6c6c" stroke-width="0.65"/>
<rect x="611.4" y="1165.5" width="19.6" height="3" fill="#808080"/>
<circle cx="622.3" cy="1167" r="3.3" fill="#fff" stroke="#808080" stroke-width="0.5"/>
<g fill="#ff0000" fill-opacity="0.3"><circle cx="399.2" cy="1043" r="3.2"/><circle cx="417" cy="1043" r="3.2"/><circle cx="435.4" cy="1043" r="3.2"/><circle cx="450.8" cy="1043.3" r="3.2"/><circle cx="446.7" cy="1042.7" r="3.2"/><circle cx="442.9" cy="1043.5" r="3.2"/><circle cx="467.1" cy="1042.6" r="3.2"/><circle cx="447.3" cy="1042.6" r="3.2"/><circle cx="467" cy="1042.5" r="3.2"/><circle cx="454.2" cy="1043.1" r="3.2"/><circle cx="468.1" cy="1042.9" r="3.2"/><circle cx="443.5" cy="1042.6" r="3.2"/><circle cx="465.8" cy="1043" r="3.2"/><circle cx="469.4" cy="1043.4" r="3.2"/><circle cx="461.6" cy="1042.6" r="3.2"/><circle cx="444.9" cy="1043.1" r="3.2"/><circle cx="469.9" cy="1042.7" r="3.2"/></g>
<path d="M430 1042.8 431.4 1042.8 432.8 1042.8 434.2 1042.8 435.5 1042.8 436.9 1042.8 438.3 1042.8 439.7 1042.7 441.1 1042.7 442.5 1042.7 443.9 1042.7 445.3 1042.7 446.6 1042.6 448 1042.6 449.4 1042.6 450.8 1042.6 452.2 1042.6 453.6 1042.5 455 1042.5 456.4 1042.5 457.7 1042.4 459.1 1042.4 460.5 1042.3 461.9 1042.3 463.3 1042.2 464.7 1042.2 466.1 1042.1 467.5 1042.1 468.8 1042 470.2 1042 471.6 1041.9 473 1041.9 474.4 1041.8 475.8 1041.8 477.2 1041.7 478.6 1041.7 479.9 1041.6 481.3 1041.5 482.7 1041.5 484.1 1041.4 485.5 1041.4 486.9 1041.3 488.3 1041.3 489.7 1041.2 491 1041.2 492.4 1041.1 493.8 1041.1 495.2 1041 496.6 1041 498 1040.9 499.4 1040.9 500.8 1040.9 502.1 1040.8 503.5 1040.8 504.9 1040.7 506.3 1040.7 507.7 1040.6 509.1 1040.6 510.5 1040.6 511.9 1040.5 513.2 1040.5 514.6 1040.4 516 1040.4 517.4 1040.3 518.8 1040.3 520.2 1040.2 521.6 1040.1 523 1040.1 524.3 1040 525.7 1039.9 527.1 1039.8 528.5 1039.8 529.9 1039.7 531.3 1039.6 532.7 1039.5 534.1 1039.4 535.4 1039.3 536.8 1039.2 538.2 1039.1 539.6 1039 541 1038.9 542.4 1038.8 543.8 1038.7 545.2 1038.6 546.5 1038.5 547.9 1038.4 549.3 1038.3 550.7 1038.1 552.1 1038 553.5 1037.9 554.9 1037.7 556.3 1037.6 557.6 1037.4 559 1037.3 560.4 1037.1 561.8 1036.9 563.2 1036.7 564.6 1036.4 566 1036.2 567.4 1035.9 568.7 1035.6 570.1 1035.2 571.5 1034.8 572.9 1034.3 574.3 1033.8 575.7 1033.3 577.1 1032.8 578.5 1032.2 579.8 1031.7 581.2 1031.1 582.6 1030.5 584 1029.8 585.4 1029.1 586.8 1028.3 588.2 1027.6 589.6 1026.8 590.9 1026.1 592.3 1025.3 593.7 1024.5 595.1 1023.6 596.5 1022.7 597.9 1021.9 599.3 1021 600.7 1020.2 602 1019.4 603.4 1018.5 604.8 1017.7 606.2 1016.8 607.6 1016 609 1015.2 610.4 1014.4 611.8 1013.6 613.1 1012.8 614.5 1012 615.9 1011.2 617.3 1010.5 618.7 1009.8 620.1 1009.2 621.5 1008.5 622.9 1007.8 624.2 1007.2 625.6 1006.6 627 1006.3 628.4 1006.2 629.8 1006.2 631.2 1006.3 632.6 1006.4 634 1006.6 635.3 1007.1 636.7 1008.1 638.1 1009.5 639.5 1011 640.9 1012.7 642.3 1014.7 643.7 1017.1 645.1 1019.7 646.4 1022.7 647.8 1026.2 649.2 1030.2 650.6 1043 650.6 1043 649.2 1055.8 647.8 1059.8 646.4 1063.3 645.1 1066.3 643.7 1068.9 642.3 1071.3 640.9 1073.3 639.5 1075 638.1 1076.5 636.7 1077.9 635.3 1078.9 634 1079.4 632.6 1079.6 631.2 1079.7 629.8 1079.8 628.4 1079.8 627 1079.7 625.6 1079.4 624.2 1078.8 622.9 1078.2 621.5 1077.5 620.1 1076.8 618.7 1076.2 617.3 1075.5 615.9 1074.8 614.5 1074 613.1 1073.2 611.8 1072.4 610.4 1071.6 609 1070.8 607.6 1070 606.2 1069.2 604.8 1068.3 603.4 1067.5 602 1066.6 600.7 1065.8 599.3 1065 597.9 1064.1 596.5 1063.3 595.1 1062.4 593.7 1061.5 592.3 1060.7 590.9 1059.9 589.6 1059.2 588.2 1058.4 586.8 1057.7 585.4 1056.9 584 1056.2 582.6 1055.5 581.2 1054.9 579.8 1054.3 578.5 1053.8 577.1 1053.2 575.7 1052.7 574.3 1052.2 572.9 1051.7 571.5 1051.2 570.1 1050.8 568.7 1050.4 567.4 1050.1 566 1049.8 564.6 1049.6 563.2 1049.3 561.8 1049.1 560.4 1048.9 559 1048.7 557.6 1048.6 556.3 1048.4 554.9 1048.3 553.5 1048.1 552.1 1048 550.7 1047.9 549.3 1047.7 547.9 1047.6 546.5 1047.5 545.2 1047.4 543.8 1047.3 542.4 1047.2 541 1047.1 539.6 1047 538.2 1046.9 536.8 1046.8 535.4 1046.7 534.1 1046.6 532.7 1046.5 531.3 1046.4 529.9 1046.3 528.5 1046.2 527.1 1046.2 525.7 1046.1 524.3 1046 523 1045.9 521.6 1045.9 520.2 1045.8 518.8 1045.7 517.4 1045.7 516 1045.6 514.6 1045.6 513.2 1045.5 511.9 1045.5 510.5 1045.4 509.1 1045.4 507.7 1045.4 506.3 1045.3 504.9 1045.3 503.5 1045.2 502.1 1045.2 500.8 1045.1 499.4 1045.1 498 1045.1 496.6 1045 495.2 1045 493.8 1044.9 492.4 1044.9 491 1044.8 489.7 1044.8 488.3 1044.7 486.9 1044.7 485.5 1044.6 484.1 1044.6 482.7 1044.5 481.3 1044.5 479.9 1044.4 478.6 1044.3 477.2 1044.3 475.8 1044.2 474.4 1044.2 473 1044.1 471.6 1044.1 470.2 1044 468.8 1044 467.5 1043.9 466.1 1043.9 464.7 1043.8 463.3 1043.8 461.9 1043.7 460.5 1043.7 459.1 1043.6 457.7 1043.6 456.4 1043.5 455 1043.5 453.6 1043.5 452.2 1043.4 450.8 1043.4 449.4 1043.4 448 1043.4 446.6 1043.4 445.3 1043.3 443.9 1043.3 442.5 1043.3 441.1 1043.3 439.7 1043.3 438.3 1043.2 436.9 1043.2 435.5 1043.2 434.2 1043.2 432.8 1043.2 431.4 1043.2 430 1043.2Z" fill="#ff0000" fill-opacity="0.3" stroke="none"/>
<g fill="#ff0000" fill-opacity="0.3"><circle cx="613.9" cy="1020.5" r="3.2"/><circle cx="599.6" cy="1037.5" r="3.2"/><circle cx="592.2" cy="1048.5" r="3.2"/><circle cx="477" cy="1042.4" r="3.2"/><circle cx="618.6" cy="1070.3" r="3.2"/><circle cx="608.7" cy="1065.9" r="3.2"/><circle cx="625.9" cy="1035" r="3.2"/><circle cx="577.5" cy="1044.8" r="3.2"/><circle cx="646.7" cy="1054.3" r="3.2"/><circle cx="488.2" cy="1044.7" r="3.2"/><circle cx="579.7" cy="1047.4" r="3.2"/><circle cx="622.8" cy="1039.5" r="3.2"/><circle cx="563.5" cy="1037.2" r="3.2"/><circle cx="590.2" cy="1047.7" r="3.2"/><circle cx="613.2" cy="1052.6" r="3.2"/><circle cx="630" cy="1057.2" r="3.2"/><circle cx="636.8" cy="1032.4" r="3.2"/><circle cx="596.9" cy="1057.8" r="3.2"/><circle cx="623.8" cy="1049.6" r="3.2"/><circle cx="492.4" cy="1042.5" r="3.2"/><circle cx="638.6" cy="1026.1" r="3.2"/><circle cx="624.7" cy="1009.2" r="3.2"/><circle cx="639.4" cy="1056.6" r="3.2"/><circle cx="582.4" cy="1038.4" r="3.2"/><circle cx="612.8" cy="1064.3" r="3.2"/><circle cx="629.2" cy="1029.9" r="3.2"/><circle cx="494.8" cy="1042.2" r="3.2"/><circle cx="635.3" cy="1063.4" r="3.2"/><circle cx="626.9" cy="1034.2" r="3.2"/><circle cx="631.9" cy="1078.6" r="3.2"/><circle cx="572.2" cy="1044.1" r="3.2"/><circle cx="631.2" cy="1075.1" r="3.2"/><circle cx="617.9" cy="1018.2" r="3.2"/><circle cx="568.7" cy="1036.3" r="3.2"/><circle cx="562.8" cy="1036.9" r="3.2"/><circle cx="636.3" cy="1069.5" r="3.2"/><circle cx="604.9" cy="1041.8" r="3.2"/><circle cx="591.7" cy="1051.1" r="3.2"/><circle cx="602.1" cy="1044.2" r="3.2"/><circle cx="625.5" cy="1077" r="3.2"/><circle cx="564.3" cy="1047" r="3.2"/><circle cx="572.1" cy="1042.7" r="3.2"/><circle cx="623.3" cy="1020.4" r="3.2"/><circle cx="638.8" cy="1035.4" r="3.2"/><circle cx="624.7" cy="1035.1" r="3.2"/><circle cx="642.8" cy="1035.3" r="3.2"/><circle cx="593.1" cy="1050.8" r="3.2"/><circle cx="600.8" cy="1058.4" r="3.2"/><circle cx="602.5" cy="1058.8" r="3.2"/><circle cx="601.2" cy="1029" r="3.2"/><circle cx="591.2" cy="1031.7" r="3.2"/><circle cx="632.2" cy="1055.5" r="3.2"/><circle cx="593.1" cy="1051.5" r="3.2"/><circle cx="606.4" cy="1057.9" r="3.2"/><circle cx="611" cy="1066.4" r="3.2"/><circle cx="648.5" cy="1038.2" r="3.2"/><circle cx="598.3" cy="1024.5" r="3.2"/><circle cx="625.9" cy="1033.5" r="3.2"/><circle cx="598.1" cy="1035.5" r="3.2"/><circle cx="632.7" cy="1014.5" r="3.2"/><circle cx="603.9" cy="1051.9" r="3.2"/><circle cx="490.4" cy="1043" r="3.2"/><circle cx="614.8" cy="1050.7" r="3.2"/><circle cx="599.1" cy="1059.2" r="3.2"/><circle cx="590.7" cy="1045.5" r="3.2"/><circle cx="594.2" cy="1057.6" r="3.2"/><circle cx="446" cy="1043.2" r="3.2"/><circle cx="628.4" cy="1045" r="3.2"/><circle cx="616.5" cy="1050.7" r="3.2"/><circle cx="622.5" cy="1040.9" r="3.2"/><circle cx="618" cy="1035.6" r="3.2"/><circle cx="603.3" cy="1054.3" r="3.2"/><circle cx="609.9" cy="1048.7" r="3.2"/><circle cx="611.3" cy="1035.4" r="3.2"/><circle cx="640.5" cy="1052.4" r="3.2"/><circle cx="600.2" cy="1044.6" r="3.2"/><circle cx="569.4" cy="1037.1" r="3.2"/><circle cx="541.4" cy="1045" r="3.2"/><circle cx="599.1" cy="1042.9" r="3.2"/><circle cx="618.2" cy="1071.2" r="3.2"/><circle cx="618.9" cy="1069.6" r="3.2"/><circle cx="628.2" cy="1014.6" r="3.2"/><circle cx="623.9" cy="1026.3" r="3.2"/><circle cx="541.1" cy="1044.6" r="3.2"/><circle cx="604.1" cy="1028.1" r="3.2"/><circle cx="602.3" cy="1058.4" r="3.2"/><circle cx="555.4" cy="1044.8" r="3.2"/><circle cx="619.3" cy="1073.2" r="3.2"/><circle cx="631.1" cy="1032.1" r="3.2"/><circle cx="512.6" cy="1043.9" r="3.2"/><circle cx="615.3" cy="1049.4" r="3.2"/><circle cx="558.1" cy="1045" r="3.2"/><circle cx="631.2" cy="1075.9" r="3.2"/><circle cx="617.3" cy="1033.4" r="3.2"/><circle cx="530.5" cy="1041.2" r="3.2"/><circle cx="614.2" cy="1061.8" r="3.2"/><circle cx="587.4" cy="1032.5" r="3.2"/><circle cx="581.9" cy="1044.3" r="3.2"/><circle cx="624.4" cy="1073.6" r="3.2"/><circle cx="605.4" cy="1060.8" r="3.2"/><circle cx="641.4" cy="1054.4" r="3.2"/><circle cx="640.5" cy="1013" r="3.2"/><circle cx="636" cy="1077" r="3.2"/><circle cx="605.9" cy="1040.5" r="3.2"/><circle cx="639.6" cy="1029.7" r="3.2"/><circle cx="534.5" cy="1039.9" r="3.2"/><circle cx="631.2" cy="1016.9" r="3.2"/><circle cx="601.2" cy="1022" r="3.2"/><circle cx="636.9" cy="1047.2" r="3.2"/><circle cx="499.8" cy="1042.5" r="3.2"/><circle cx="618.4" cy="1029.4" r="3.2"/><circle cx="533" cy="1045.2" r="3.2"/><circle cx="594.4" cy="1027.1" r="3.2"/><circle cx="617.7" cy="1037.9" r="3.2"/><circle cx="565.2" cy="1047" r="3.2"/><circle cx="626.1" cy="1067.1" r="3.2"/><circle cx="614" cy="1055.8" r="3.2"/><circle cx="584.7" cy="1043.7" r="3.2"/><circle cx="615.8" cy="1021.4" r="3.2"/><circle cx="608.9" cy="1037.2" r="3.2"/><circle cx="503.9" cy="1044" r="3.2"/><circle cx="627.1" cy="1063.6" r="3.2"/><circle cx="627.4" cy="1051.1" r="3.2"/><circle cx="640" cy="1068.1" r="3.2"/><circle cx="642.5" cy="1046.6" r="3.2"/><circle cx="602.3" cy="1059.6" r="3.2"/><circle cx="622.9" cy="1071.5" r="3.2"/><circle cx="620.6" cy="1020.4" r="3.2"/><circle cx="520.7" cy="1041" r="3.2"/><circle cx="627.9" cy="1078.9" r="3.2"/><circle cx="591.7" cy="1035.9" r="3.2"/><circle cx="607.1" cy="1040.2" r="3.2"/><circle cx="621.4" cy="1037.7" r="3.2"/><circle cx="613.4" cy="1064.1" r="3.2"/><circle cx="592.7" cy="1025.5" r="3.2"/><circle cx="637.4" cy="1042.4" r="3.2"/><circle cx="546.6" cy="1042.7" r="3.2"/><circle cx="620.3" cy="1015.8" r="3.2"/><circle cx="577.5" cy="1041.9" r="3.2"/><circle cx="641.1" cy="1065.5" r="3.2"/><circle cx="642" cy="1017.3" r="3.2"/><circle cx="627.3" cy="1024.6" r="3.2"/><circle cx="638.1" cy="1050.2" r="3.2"/><circle cx="630.6" cy="1046.2" r="3.2"/><circle cx="623.6" cy="1061.5" r="3.2"/><circle cx="629.4" cy="1031.4" r="3.2"/><circle cx="640" cy="1019.4" r="3.2"/><circle cx="583.6" cy="1039.6" r="3.2"/><circle cx="628.3" cy="1067.3" r="3.2"/><circle cx="576.3" cy="1041.7" r="3.2"/><circle cx="610.1" cy="1037.1" r="3.2"/><circle cx="599.4" cy="1055.4" r="3.2"/><circle cx="622.3" cy="1049" r="3.2"/><circle cx="622.6" cy="1017.5" r="3.2"/><circle cx="639.4" cy="1035.3" r="3.2"/><circle cx="635.2" cy="1072.5" r="3.2"/><circle cx="530" cy="1039.9" r="3.2"/><circle cx="574.9" cy="1047.9" r="3.2"/><circle cx="514.3" cy="1042" r="3.2"/><circle cx="627.1" cy="1061.3" r="3.2"/><circle cx="600" cy="1028" r="3.2"/><circle cx="645.7" cy="1049.9" r="3.2"/><circle cx="583.1" cy="1052.2" r="3.2"/><circle cx="643.8" cy="1020.7" r="3.2"/><circle cx="630" cy="1076.6" r="3.2"/><circle cx="630.3" cy="1014.1" r="3.2"/><circle cx="620.6" cy="1009.8" r="3.2"/><circle cx="638.1" cy="1064.6" r="3.2"/><circle cx="586.4" cy="1043.4" r="3.2"/><circle cx="637.1" cy="1010.9" r="3.2"/><circle cx="637.9" cy="1053.5" r="3.2"/><circle cx="620.5" cy="1043.6" r="3.2"/><circle cx="624.1" cy="1078.4" r="3.2"/><circle cx="585.5" cy="1056.3" r="3.2"/><circle cx="612.4" cy="1065.6" r="3.2"/><circle cx="619.2" cy="1044.5" r="3.2"/><circle cx="596.9" cy="1056.1" r="3.2"/><circle cx="512.1" cy="1044.2" r="3.2"/><circle cx="643.2" cy="1030.8" r="3.2"/><circle cx="633" cy="1061.1" r="3.2"/><circle cx="601.8" cy="1033.4" r="3.2"/><circle cx="615.4" cy="1038" r="3.2"/><circle cx="619.5" cy="1014.8" r="3.2"/><circle cx="643.9" cy="1024.5" r="3.2"/><circle cx="617.3" cy="1043.1" r="3.2"/><circle cx="627.9" cy="1067.9" r="3.2"/><circle cx="632.9" cy="1064.5" r="3.2"/><circle cx="549.9" cy="1039.7" r="3.2"/><circle cx="618.9" cy="1045.8" r="3.2"/><circle cx="641.5" cy="1031.6" r="3.2"/><circle cx="634.2" cy="1021.5" r="3.2"/><circle cx="640.9" cy="1034.9" r="3.2"/><circle cx="572.2" cy="1046" r="3.2"/><circle cx="631.3" cy="1074.2" r="3.2"/><circle cx="592.6" cy="1028.6" r="3.2"/><circle cx="637.5" cy="1028.9" r="3.2"/><circle cx="631.7" cy="1061.2" r="3.2"/><circle cx="602.8" cy="1042.9" r="3.2"/><circle cx="618.7" cy="1035.6" r="3.2"/><circle cx="610.7" cy="1060.4" r="3.2"/><circle cx="642.4" cy="1016" r="3.2"/><circle cx="616.9" cy="1071.8" r="3.2"/><circle cx="537.8" cy="1041.3" r="3.2"/><circle cx="615.6" cy="1064.9" r="3.2"/><circle cx="487.5" cy="1044.1" r="3.2"/><circle cx="564.2" cy="1047.4" r="3.2"/><circle cx="612.4" cy="1050.1" r="3.2"/><circle cx="610.1" cy="1051.5" r="3.2"/><circle cx="532.6" cy="1039.9" r="3.2"/><circle cx="599.4" cy="1039.8" r="3.2"/><circle cx="593.5" cy="1047.6" r="3.2"/><circle cx="593.5" cy="1034.6" r="3.2"/><circle cx="608.6" cy="1053" r="3.2"/><circle cx="504.8" cy="1043.2" r="3.2"/><circle cx="502.8" cy="1043.7" r="3.2"/><circle cx="586.5" cy="1053.3" r="3.2"/><circle cx="627.5" cy="1030.8" r="3.2"/><circle cx="642.1" cy="1050.1" r="3.2"/><circle cx="629.9" cy="1009.8" r="3.2"/><circle cx="537.4" cy="1045.3" r="3.2"/><circle cx="634.2" cy="1065.9" r="3.2"/><circle cx="633.9" cy="1056.7" r="3.2"/><circle cx="635.4" cy="1056.7" r="3.2"/><circle cx="628.2" cy="1047.5" r="3.2"/><circle cx="590.2" cy="1037.2" r="3.2"/><circle cx="612.7" cy="1060.8" r="3.2"/><circle cx="608.4" cy="1022.8" r="3.2"/><circle cx="505" cy="1043.4" r="3.2"/><circle cx="616" cy="1018" r="3.2"/><circle cx="590.7" cy="1051.2" r="3.2"/><circle cx="643.4" cy="1043.1" r="3.2"/><circle cx="624.4" cy="1052.6" r="3.2"/><circle cx="633.3" cy="1018.9" r="3.2"/><circle cx="502.6" cy="1042.6" r="3.2"/><circle cx="627.2" cy="1054.8" r="3.2"/><circle cx="632.9" cy="1038.7" r="3.2"/><circle cx="610.1" cy="1055.7" r="3.2"/><circle cx="589" cy="1029.8" r="3.2"/><circle cx="612.1" cy="1034.6" r="3.2"/><circle cx="616.7" cy="1017.8" r="3.2"/><circle cx="607.9" cy="1056" r="3.2"/><circle cx="597.1" cy="1038.7" r="3.2"/><circle cx="624.5" cy="1060.8" r="3.2"/><circle cx="638.6" cy="1059.9" r="3.2"/><circle cx="591.2" cy="1027.2" r="3.2"/><circle cx="638" cy="1051.2" r="3.2"/><circle cx="522.6" cy="1044.8" r="3.2"/><circle cx="625.7" cy="1073.3" r="3.2"/><circle cx="599.8" cy="1024.7" r="3.2"/><circle cx="614.9" cy="1017.6" r="3.2"/><circle cx="600.8" cy="1040.4" r="3.2"/><circle cx="539.5" cy="1045" r="3.2"/><circle cx="573.1" cy="1036.2" r="3.2"/><circle cx="647.1" cy="1061.6" r="3.2"/><circle cx="606.4" cy="1054.2" r="3.2"/><circle cx="643.2" cy="1017" r="3.2"/><circle cx="614.5" cy="1058.1" r="3.2"/><circle cx="639.2" cy="1038.5" r="3.2"/><circle cx="608.8" cy="1025" r="3.2"/><circle cx="647.7" cy="1048.6" r="3.2"/><circle cx="611.4" cy="1055.6" r="3.2"/><circle cx="589.9" cy="1047" r="3.2"/><circle cx="575.5" cy="1038.2" r="3.2"/><circle cx="534.4" cy="1040.7" r="3.2"/><circle cx="554.1" cy="1038.4" r="3.2"/><circle cx="625.4" cy="1018.9" r="3.2"/><circle cx="601.6" cy="1036.5" r="3.2"/><circle cx="637.4" cy="1031.9" r="3.2"/><circle cx="580.1" cy="1033.2" r="3.2"/><circle cx="641.8" cy="1063" r="3.2"/><circle cx="578.6" cy="1036.2" r="3.2"/><circle cx="591.4" cy="1028.6" r="3.2"/><circle cx="599.4" cy="1030.2" r="3.2"/><circle cx="590.5" cy="1041.1" r="3.2"/><circle cx="606.3" cy="1049.5" r="3.2"/><circle cx="632.8" cy="1012.4" r="3.2"/><circle cx="534" cy="1040.5" r="3.2"/><circle cx="587.8" cy="1028.6" r="3.2"/><circle cx="521.2" cy="1042.4" r="3.2"/><circle cx="631.1" cy="1079.6" r="3.2"/><circle cx="558.2" cy="1046.2" r="3.2"/><circle cx="613.8" cy="1064.6" r="3.2"/><circle cx="637" cy="1071.6" r="3.2"/><circle cx="596.8" cy="1031.6" r="3.2"/><circle cx="556.5" cy="1044.6" r="3.2"/><circle cx="590.9" cy="1040.2" r="3.2"/><circle cx="642.3" cy="1035.3" r="3.2"/><circle cx="547.2" cy="1045.4" r="3.2"/><circle cx="636.7" cy="1047.3" r="3.2"/><circle cx="558.5" cy="1044.4" r="3.2"/><circle cx="572.5" cy="1039.1" r="3.2"/><circle cx="630.9" cy="1075.3" r="3.2"/><circle cx="622.7" cy="1054" r="3.2"/><circle cx="597.4" cy="1048.4" r="3.2"/><circle cx="626.6" cy="1062" r="3.2"/><circle cx="568.1" cy="1049" r="3.2"/><circle cx="637.9" cy="1021.1" r="3.2"/><circle cx="618.4" cy="1027.4" r="3.2"/><circle cx="642.9" cy="1068.8" r="3.2"/><circle cx="619.8" cy="1054.7" r="3.2"/><circle cx="618.2" cy="1068.6" r="3.2"/><circle cx="636.3" cy="1031.1" r="3.2"/><circle cx="618.9" cy="1075.4" r="3.2"/><circle cx="543" cy="1042.4" r="3.2"/><circle cx="620.9" cy="1063.8" r="3.2"/><circle cx="594.3" cy="1058.6" r="3.2"/><circle cx="622.6" cy="1044.2" r="3.2"/><circle cx="648.9" cy="1040.7" r="3.2"/><circle cx="620.7" cy="1042.9" r="3.2"/><circle cx="634.8" cy="1016.1" r="3.2"/><circle cx="600.8" cy="1023.4" r="3.2"/><circle cx="476.1" cy="1044.1" r="3.2"/><circle cx="516.1" cy="1043.8" r="3.2"/><circle cx="486.3" cy="1041.6" r="3.2"/><circle cx="583.7" cy="1045.4" r="3.2"/><circle cx="591.5" cy="1034.3" r="3.2"/><circle cx="597.4" cy="1057.2" r="3.2"/><circle cx="623.6" cy="1033" r="3.2"/><circle cx="629.5" cy="1007.5" r="3.2"/><circle cx="630.7" cy="1055.2" r="3.2"/><circle cx="629.7" cy="1079.4" r="3.2"/><circle cx="636.2" cy="1059.8" r="3.2"/><circle cx="627.8" cy="1077" r="3.2"/><circle cx="609.9" cy="1020.4" r="3.2"/><circle cx="606.2" cy="1032.1" r="3.2"/><circle cx="540.1" cy="1045.2" r="3.2"/><circle cx="478.9" cy="1042.9" r="3.2"/><circle cx="636.3" cy="1020.3" r="3.2"/><circle cx="568.3" cy="1040.7" r="3.2"/><circle cx="636.8" cy="1028" r="3.2"/><circle cx="605" cy="1053.3" r="3.2"/><circle cx="526.4" cy="1044.7" r="3.2"/><circle cx="634.5" cy="1060.1" r="3.2"/><circle cx="627.4" cy="1055.3" r="3.2"/><circle cx="648.8" cy="1050" r="3.2"/><circle cx="616.1" cy="1070" r="3.2"/><circle cx="641.5" cy="1029.1" r="3.2"/><circle cx="613.5" cy="1029.5" r="3.2"/><circle cx="590.3" cy="1059" r="3.2"/><circle cx="605.1" cy="1062.4" r="3.2"/><circle cx="624" cy="1054.8" r="3.2"/><circle cx="638.5" cy="1062.4" r="3.2"/><circle cx="633.7" cy="1053.4" r="3.2"/><circle cx="641.6" cy="1031.7" r="3.2"/><circle cx="615.8" cy="1047.1" r="3.2"/><circle cx="610.1" cy="1028.4" r="3.2"/><circle cx="614.9" cy="1017.9" r="3.2"/><circle cx="641.8" cy="1033.6" r="3.2"/><circle cx="601.9" cy="1057.5" r="3.2"/><circle cx="526.7" cy="1040.7" r="3.2"/><circle cx="604.3" cy="1020.3" r="3.2"/><circle cx="623.3" cy="1024.3" r="3.2"/><circle cx="634.7" cy="1063.6" r="3.2"/><circle cx="642.6" cy="1064.3" r="3.2"/><circle cx="625.7" cy="1026.5" r="3.2"/><circle cx="633.5" cy="1076.6" r="3.2"/><circle cx="633.4" cy="1041.4" r="3.2"/><circle cx="633.2" cy="1056.6" r="3.2"/><circle cx="620" cy="1054.4" r="3.2"/><circle cx="642.8" cy="1039.9" r="3.2"/><circle cx="638.6" cy="1065.5" r="3.2"/><circle cx="467.9" cy="1043.7" r="3.2"/><circle cx="558.8" cy="1042.7" r="3.2"/><circle cx="647.8" cy="1036.3" r="3.2"/><circle cx="624.4" cy="1074.4" r="3.2"/><circle cx="565.6" cy="1045.7" r="3.2"/><circle cx="640" cy="1034.4" r="3.2"/><circle cx="544.3" cy="1040.1" r="3.2"/><circle cx="615.8" cy="1036.3" r="3.2"/><circle cx="603.9" cy="1040.2" r="3.2"/><circle cx="593.7" cy="1054.6" r="3.2"/><circle cx="587.1" cy="1049" r="3.2"/><circle cx="543" cy="1043.1" r="3.2"/><circle cx="603" cy="1062.7" r="3.2"/><circle cx="549.7" cy="1043.8" r="3.2"/><circle cx="621.7" cy="1068.2" r="3.2"/><circle cx="597.4" cy="1024.8" r="3.2"/><circle cx="630.6" cy="1012.1" r="3.2"/><circle cx="642.1" cy="1063.5" r="3.2"/><circle cx="638.3" cy="1058.7" r="3.2"/><circle cx="628.9" cy="1025.3" r="3.2"/><circle cx="631.5" cy="1015.2" r="3.2"/><circle cx="545.7" cy="1039.2" r="3.2"/><circle cx="645.4" cy="1034.8" r="3.2"/><circle cx="618.5" cy="1068.5" r="3.2"/><circle cx="616.2" cy="1023.3" r="3.2"/><circle cx="624.9" cy="1024.9" r="3.2"/><circle cx="578" cy="1050" r="3.2"/><circle cx="610.8" cy="1024.8" r="3.2"/><circle cx="559" cy="1040" r="3.2"/><circle cx="640.6" cy="1058.1" r="3.2"/><circle cx="613.1" cy="1064.5" r="3.2"/><circle cx="563" cy="1048.6" r="3.2"/><circle cx="645.1" cy="1021.9" r="3.2"/><circle cx="618.8" cy="1031.7" r="3.2"/><circle cx="629.9" cy="1051.1" r="3.2"/><circle cx="632.9" cy="1030.7" r="3.2"/><circle cx="626.2" cy="1060.6" r="3.2"/><circle cx="608.7" cy="1027.8" r="3.2"/><circle cx="592.7" cy="1046.8" r="3.2"/><circle cx="520" cy="1041.1" r="3.2"/><circle cx="621.7" cy="1018.8" r="3.2"/><circle cx="554.2" cy="1046.1" r="3.2"/><circle cx="602.2" cy="1049.1" r="3.2"/><circle cx="638.5" cy="1047.5" r="3.2"/><circle cx="639.5" cy="1035.1" r="3.2"/><circle cx="634" cy="1055.6" r="3.2"/><circle cx="579.2" cy="1053" r="3.2"/><circle cx="642.5" cy="1036" r="3.2"/><circle cx="565.6" cy="1036.9" r="3.2"/><circle cx="640.6" cy="1028.1" r="3.2"/><circle cx="629.5" cy="1063.7" r="3.2"/><circle cx="645.2" cy="1033.7" r="3.2"/><circle cx="646.7" cy="1053" r="3.2"/><circle cx="614.9" cy="1024.5" r="3.2"/><circle cx="596.4" cy="1046.9" r="3.2"/><circle cx="640.6" cy="1034.8" r="3.2"/><circle cx="596.6" cy="1044.3" r="3.2"/><circle cx="598.6" cy="1037.6" r="3.2"/><circle cx="618" cy="1049.1" r="3.2"/><circle cx="566.1" cy="1046.3" r="3.2"/><circle cx="609.7" cy="1054.3" r="3.2"/><circle cx="564.8" cy="1042.1" r="3.2"/><circle cx="609.5" cy="1017" r="3.2"/><circle cx="639.8" cy="1063.7" r="3.2"/><circle cx="640.7" cy="1019" r="3.2"/><circle cx="644" cy="1036.9" r="3.2"/><circle cx="628" cy="1064.3" r="3.2"/><circle cx="629.3" cy="1078.3" r="3.2"/><circle cx="607.3" cy="1055.2" r="3.2"/><circle cx="638.9" cy="1017.8" r="3.2"/><circle cx="563.5" cy="1048.9" r="3.2"/><circle cx="573.2" cy="1035" r="3.2"/><circle cx="557.6" cy="1037.8" r="3.2"/><circle cx="605.8" cy="1055.2" r="3.2"/><circle cx="526.3" cy="1045.6" r="3.2"/><circle cx="626.7" cy="1053.3" r="3.2"/><circle cx="577" cy="1050.7" r="3.2"/><circle cx="625.8" cy="1053.8" r="3.2"/><circle cx="617.6" cy="1015.9" r="3.2"/><circle cx="626" cy="1051.7" r="3.2"/><circle cx="626.6" cy="1062.5" r="3.2"/><circle cx="631.8" cy="1042.6" r="3.2"/><circle cx="611.5" cy="1055.3" r="3.2"/><circle cx="618.1" cy="1040.9" r="3.2"/><circle cx="588.8" cy="1030.5" r="3.2"/><circle cx="613.2" cy="1064.9" r="3.2"/><circle cx="544.4" cy="1040.5" r="3.2"/><circle cx="643.6" cy="1027.6" r="3.2"/><circle cx="641.4" cy="1021.1" r="3.2"/><circle cx="535.5" cy="1041.9" r="3.2"/><circle cx="474.5" cy="1042.8" r="3.2"/><circle cx="604.6" cy="1027.8" r="3.2"/><circle cx="615" cy="1021.9" r="3.2"/><circle cx="611.5" cy="1040.1" r="3.2"/><circle cx="599.1" cy="1021.7" r="3.2"/><circle cx="621.6" cy="1042.4" r="3.2"/><circle cx="605.1" cy="1023" r="3.2"/><circle cx="605.5" cy="1024.1" r="3.2"/><circle cx="502.5" cy="1041.3" r="3.2"/><circle cx="619.6" cy="1066.3" r="3.2"/><circle cx="541" cy="1045.6" r="3.2"/><circle cx="636.4" cy="1077.1" r="3.2"/><circle cx="611.4" cy="1060.8" r="3.2"/><circle cx="600.8" cy="1043.3" r="3.2"/><circle cx="624" cy="1035.4" r="3.2"/><circle cx="638.2" cy="1048.7" r="3.2"/><circle cx="573.8" cy="1045.3" r="3.2"/><circle cx="605.1" cy="1067.9" r="3.2"/><circle cx="645.5" cy="1035.6" r="3.2"/><circle cx="636.7" cy="1071.1" r="3.2"/><circle cx="604.2" cy="1065.5" r="3.2"/><circle cx="601.6" cy="1064.2" r="3.2"/><circle cx="633.7" cy="1052.2" r="3.2"/><circle cx="541.6" cy="1043.9" r="3.2"/><circle cx="557.8" cy="1048.5" r="3.2"/><circle cx="618.1" cy="1037.3" r="3.2"/><circle cx="617.9" cy="1061.1" r="3.2"/><circle cx="618" cy="1015.4" r="3.2"/><circle cx="630.5" cy="1023.8" r="3.2"/><circle cx="637.9" cy="1043.3" r="3.2"/><circle cx="605" cy="1055" r="3.2"/><circle cx="597.9" cy="1029.4" r="3.2"/><circle cx="635.8" cy="1065.7" r="3.2"/><circle cx="588" cy="1045.3" r="3.2"/><circle cx="637.5" cy="1018.1" r="3.2"/><circle cx="626.9" cy="1009.1" r="3.2"/><circle cx="635.6" cy="1035.7" r="3.2"/><circle cx="622.5" cy="1065.5" r="3.2"/><circle cx="552.4" cy="1047.8" r="3.2"/><circle cx="627.4" cy="1062.1" r="3.2"/><circle cx="612.8" cy="1026.5" r="3.2"/><circle cx="577.2" cy="1051.2" r="3.2"/><circle cx="550.6" cy="1039.7" r="3.2"/><circle cx="590.5" cy="1039.6" r="3.2"/><circle cx="560.4" cy="1045" r="3.2"/><circle cx="564.1" cy="1040.9" r="3.2"/><circle cx="635.4" cy="1030.7" r="3.2"/><circle cx="643.3" cy="1039.4" r="3.2"/><circle cx="648.3" cy="1055.6" r="3.2"/><circle cx="617.3" cy="1040.9" r="3.2"/><circle cx="617.8" cy="1016" r="3.2"/><circle cx="526.1" cy="1042.1" r="3.2"/><circle cx="557.7" cy="1044" r="3.2"/><circle cx="630.8" cy="1046" r="3.2"/><circle cx="618.1" cy="1073" r="3.2"/><circle cx="617.8" cy="1043.6" r="3.2"/><circle cx="629.8" cy="1064.4" r="3.2"/><circle cx="633.5" cy="1061.2" r="3.2"/><circle cx="627.1" cy="1040.5" r="3.2"/><circle cx="474.4" cy="1042.8" r="3.2"/><circle cx="616.2" cy="1040.4" r="3.2"/><circle cx="634.9" cy="1015.5" r="3.2"/><circle cx="633.9" cy="1012.9" r="3.2"/><circle cx="643.1" cy="1022.2" r="3.2"/><circle cx="614.5" cy="1020.1" r="3.2"/><circle cx="614.7" cy="1017" r="3.2"/><circle cx="494.2" cy="1042.6" r="3.2"/><circle cx="614" cy="1021.4" r="3.2"/><circle cx="617.6" cy="1074.2" r="3.2"/><circle cx="640.6" cy="1037.2" r="3.2"/><circle cx="638.2" cy="1009.9" r="3.2"/><circle cx="528.2" cy="1044" r="3.2"/><circle cx="566.2" cy="1045.9" r="3.2"/><circle cx="603.4" cy="1064.9" r="3.2"/><circle cx="631.4" cy="1024.3" r="3.2"/><circle cx="573.2" cy="1039.8" r="3.2"/><circle cx="631" cy="1061.2" r="3.2"/><circle cx="619.6" cy="1051.5" r="3.2"/><circle cx="637.7" cy="1051.5" r="3.2"/><circle cx="599.6" cy="1062.3" r="3.2"/><circle cx="605.2" cy="1068.4" r="3.2"/><circle cx="526.6" cy="1039.9" r="3.2"/><circle cx="614.4" cy="1036.1" r="3.2"/><circle cx="631.1" cy="1075.5" r="3.2"/><circle cx="614" cy="1013.4" r="3.2"/><circle cx="614.6" cy="1033" r="3.2"/><circle cx="640.4" cy="1059.4" r="3.2"/><circle cx="630.6" cy="1011.8" r="3.2"/><circle cx="596.7" cy="1046.6" r="3.2"/><circle cx="642.7" cy="1066.1" r="3.2"/><circle cx="628" cy="1045.5" r="3.2"/><circle cx="595.2" cy="1023.7" r="3.2"/><circle cx="582.6" cy="1033.3" r="3.2"/><circle cx="625" cy="1036.4" r="3.2"/><circle cx="613.6" cy="1013.3" r="3.2"/><circle cx="620" cy="1053.9" r="3.2"/><circle cx="561.8" cy="1040.2" r="3.2"/><circle cx="630.5" cy="1031.4" r="3.2"/><circle cx="636.5" cy="1062.9" r="3.2"/><circle cx="606.7" cy="1055.4" r="3.2"/><circle cx="595.6" cy="1054.8" r="3.2"/><circle cx="645.7" cy="1029.3" r="3.2"/><circle cx="645.7" cy="1036.1" r="3.2"/><circle cx="560.1" cy="1044.6" r="3.2"/><circle cx="616" cy="1043.1" r="3.2"/><circle cx="608.1" cy="1059.8" r="3.2"/><circle cx="592.7" cy="1039.9" r="3.2"/><circle cx="614.5" cy="1068.4" r="3.2"/><circle cx="624.5" cy="1022.9" r="3.2"/><circle cx="602" cy="1050.3" r="3.2"/><circle cx="595.9" cy="1054.9" r="3.2"/><circle cx="636.7" cy="1077.1" r="3.2"/><circle cx="623.8" cy="1034.3" r="3.2"/><circle cx="595.7" cy="1058.2" r="3.2"/><circle cx="570.5" cy="1044.6" r="3.2"/><circle cx="603.7" cy="1049.9" r="3.2"/><circle cx="642.2" cy="1029.2" r="3.2"/><circle cx="634.6" cy="1070.5" r="3.2"/><circle cx="582.4" cy="1032.2" r="3.2"/><circle cx="620.5" cy="1076.4" r="3.2"/><circle cx="460.9" cy="1043.1" r="3.2"/><circle cx="639.8" cy="1048.2" r="3.2"/><circle cx="642.5" cy="1024.8" r="3.2"/><circle cx="583.5" cy="1047.6" r="3.2"/><circle cx="599.6" cy="1027.7" r="3.2"/><circle cx="595.2" cy="1056" r="3.2"/><circle cx="577.7" cy="1048.2" r="3.2"/><circle cx="625.4" cy="1018.9" r="3.2"/><circle cx="602.9" cy="1057" r="3.2"/><circle cx="460.3" cy="1043.2" r="3.2"/><circle cx="584" cy="1037.6" r="3.2"/><circle cx="624" cy="1054.7" r="3.2"/><circle cx="626.6" cy="1057.3" r="3.2"/><circle cx="483.8" cy="1043" r="3.2"/><circle cx="616.7" cy="1055.5" r="3.2"/><circle cx="622.6" cy="1063.4" r="3.2"/><circle cx="622.5" cy="1070.4" r="3.2"/><circle cx="623.4" cy="1066.5" r="3.2"/><circle cx="631.4" cy="1014.2" r="3.2"/><circle cx="598.9" cy="1058.7" r="3.2"/><circle cx="635.9" cy="1075" r="3.2"/><circle cx="608.5" cy="1042.1" r="3.2"/><circle cx="526.8" cy="1045.5" r="3.2"/><circle cx="623.4" cy="1023.4" r="3.2"/><circle cx="599.6" cy="1022.6" r="3.2"/><circle cx="622.4" cy="1039.3" r="3.2"/><circle cx="602.6" cy="1024.8" r="3.2"/><circle cx="612.9" cy="1020.8" r="3.2"/><circle cx="617" cy="1039.4" r="3.2"/><circle cx="627" cy="1077.8" r="3.2"/><circle cx="594.6" cy="1043.8" r="3.2"/><circle cx="624.6" cy="1078.1" r="3.2"/><circle cx="586.2" cy="1043.3" r="3.2"/><circle cx="632.1" cy="1040.3" r="3.2"/><circle cx="585.9" cy="1029.4" r="3.2"/><circle cx="534.4" cy="1040" r="3.2"/><circle cx="508.5" cy="1044.8" r="3.2"/><circle cx="620" cy="1055.7" r="3.2"/><circle cx="597.6" cy="1045.7" r="3.2"/><circle cx="618.4" cy="1068.8" r="3.2"/><circle cx="596.3" cy="1049" r="3.2"/><circle cx="608.4" cy="1031" r="3.2"/><circle cx="637.2" cy="1068.2" r="3.2"/><circle cx="641" cy="1056.8" r="3.2"/><circle cx="512.8" cy="1040.9" r="3.2"/><circle cx="643" cy="1060.9" r="3.2"/><circle cx="613.4" cy="1034.8" r="3.2"/><circle cx="628.9" cy="1068.4" r="3.2"/><circle cx="641.5" cy="1062.2" r="3.2"/><circle cx="578.2" cy="1051.7" r="3.2"/><circle cx="603.4" cy="1024.1" r="3.2"/><circle cx="638.3" cy="1058.7" r="3.2"/><circle cx="614.5" cy="1031.4" r="3.2"/><circle cx="639.1" cy="1066.2" r="3.2"/><circle cx="635.1" cy="1015.2" r="3.2"/><circle cx="649" cy="1053.2" r="3.2"/><circle cx="624" cy="1076.8" r="3.2"/><circle cx="531.3" cy="1043.1" r="3.2"/><circle cx="639.4" cy="1046.1" r="3.2"/><circle cx="577.5" cy="1045.3" r="3.2"/><circle cx="570.7" cy="1049.3" r="3.2"/><circle cx="602.2" cy="1023.4" r="3.2"/><circle cx="581.8" cy="1051.6" r="3.2"/><circle cx="565.4" cy="1041" r="3.2"/><circle cx="622.6" cy="1036.4" r="3.2"/><circle cx="640" cy="1066.4" r="3.2"/><circle cx="590.6" cy="1030.4" r="3.2"/><circle cx="602.7" cy="1025.9" r="3.2"/><circle cx="622.8" cy="1055.7" r="3.2"/><circle cx="595.1" cy="1051.9" r="3.2"/><circle cx="612.6" cy="1026.6" r="3.2"/><circle cx="640.2" cy="1055.1" r="3.2"/><circle cx="557.1" cy="1041.4" r="3.2"/><circle cx="615.6" cy="1013.1" r="3.2"/><circle cx="582.9" cy="1037" r="3.2"/><circle cx="631" cy="1018.1" r="3.2"/><circle cx="582" cy="1041.8" r="3.2"/><circle cx="633.3" cy="1039.6" r="3.2"/><circle cx="605.3" cy="1037.1" r="3.2"/><circle cx="641.6" cy="1067.1" r="3.2"/><circle cx="601.6" cy="1037.6" r="3.2"/><circle cx="612.5" cy="1024.6" r="3.2"/><circle cx="552.7" cy="1047.5" r="3.2"/><circle cx="592.3" cy="1048" r="3.2"/><circle cx="606.4" cy="1066.7" r="3.2"/><circle cx="638.7" cy="1039.8" r="3.2"/><circle cx="619.2" cy="1050" r="3.2"/><circle cx="633.3" cy="1030.5" r="3.2"/><circle cx="636" cy="1075.8" r="3.2"/><circle cx="544.8" cy="1041.1" r="3.2"/><circle cx="596.7" cy="1060.6" r="3.2"/><circle cx="634.7" cy="1031.5" r="3.2"/><circle cx="629.9" cy="1062.7" r="3.2"/><circle cx="617.6" cy="1052.6" r="3.2"/><circle cx="605.4" cy="1057.3" r="3.2"/><circle cx="613" cy="1025.2" r="3.2"/><circle cx="481.3" cy="1044.4" r="3.2"/><circle cx="561.6" cy="1043" r="3.2"/><circle cx="600.9" cy="1023.5" r="3.2"/><circle cx="565.6" cy="1045.5" r="3.2"/><circle cx="585.8" cy="1031.1" r="3.2"/><circle cx="633.1" cy="1053.8" r="3.2"/><circle cx="630.7" cy="1058.9" r="3.2"/><circle cx="628.4" cy="1021.2" r="3.2"/><circle cx="617.8" cy="1017.8" r="3.2"/><circle cx="640.9" cy="1020.8" r="3.2"/><circle cx="585.7" cy="1047.4" r="3.2"/><circle cx="621.4" cy="1060" r="3.2"/><circle cx="606.8" cy="1065.3" r="3.2"/><circle cx="642.5" cy="1033.2" r="3.2"/><circle cx="599.7" cy="1025.1" r="3.2"/><circle cx="587" cy="1046.8" r="3.2"/><circle cx="630.7" cy="1067.7" r="3.2"/><circle cx="633.3" cy="1059.5" r="3.2"/><circle cx="627.6" cy="1042.3" r="3.2"/><circle cx="631.6" cy="1026" r="3.2"/><circle cx="579" cy="1048" r="3.2"/><circle cx="620.4" cy="1067.2" r="3.2"/><circle cx="615.8" cy="1025.2" r="3.2"/><circle cx="639.9" cy="1056.2" r="3.2"/><circle cx="604.8" cy="1056.7" r="3.2"/><circle cx="588.1" cy="1058.3" r="3.2"/><circle cx="595.9" cy="1038" r="3.2"/><circle cx="614" cy="1036.4" r="3.2"/><circle cx="646.6" cy="1024.9" r="3.2"/><circle cx="626.3" cy="1018.1" r="3.2"/><circle cx="627.7" cy="1061" r="3.2"/><circle cx="610.5" cy="1029.9" r="3.2"/><circle cx="604.7" cy="1063.8" r="3.2"/><circle cx="641.6" cy="1032.4" r="3.2"/><circle cx="609.3" cy="1059.6" r="3.2"/><circle cx="560.4" cy="1041.3" r="3.2"/><circle cx="631.4" cy="1061.8" r="3.2"/><circle cx="580.9" cy="1041.6" r="3.2"/><circle cx="604.1" cy="1028.6" r="3.2"/><circle cx="620.9" cy="1022.9" r="3.2"/><circle cx="634.7" cy="1027.5" r="3.2"/><circle cx="465.5" cy="1042.4" r="3.2"/><circle cx="623.5" cy="1069.1" r="3.2"/><circle cx="564.3" cy="1048.5" r="3.2"/><circle cx="622.1" cy="1063.6" r="3.2"/><circle cx="620.4" cy="1009.3" r="3.2"/><circle cx="614.3" cy="1066.6" r="3.2"/><circle cx="607.3" cy="1058.8" r="3.2"/><circle cx="616" cy="1064.8" r="3.2"/><circle cx="643.8" cy="1049.7" r="3.2"/><circle cx="600.6" cy="1029.7" r="3.2"/><circle cx="610.9" cy="1031.3" r="3.2"/><circle cx="567.9" cy="1041.4" r="3.2"/><circle cx="604" cy="1027.3" r="3.2"/><circle cx="520.1" cy="1040.4" r="3.2"/><circle cx="639.9" cy="1071.5" r="3.2"/><circle cx="599.9" cy="1038.1" r="3.2"/><circle cx="642.1" cy="1049.2" r="3.2"/><circle cx="563.9" cy="1037.9" r="3.2"/><circle cx="624.1" cy="1068.6" r="3.2"/><circle cx="620.3" cy="1060.1" r="3.2"/><circle cx="624" cy="1010.1" r="3.2"/><circle cx="632.4" cy="1021.1" r="3.2"/><circle cx="536.1" cy="1044.8" r="3.2"/><circle cx="628.9" cy="1010.4" r="3.2"/><circle cx="495.8" cy="1041.1" r="3.2"/><circle cx="595.2" cy="1028.1" r="3.2"/><circle cx="635.7" cy="1017.4" r="3.2"/><circle cx="618.1" cy="1061" r="3.2"/><circle cx="641.6" cy="1059.6" r="3.2"/><circle cx="636.6" cy="1048" r="3.2"/><circle cx="607" cy="1032.6" r="3.2"/><circle cx="592.9" cy="1053.2" r="3.2"/><circle cx="581.2" cy="1046.2" r="3.2"/><circle cx="512.1" cy="1040.8" r="3.2"/><circle cx="627.5" cy="1020.1" r="3.2"/><circle cx="633" cy="1057.3" r="3.2"/><circle cx="516.8" cy="1043.4" r="3.2"/><circle cx="612.4" cy="1036.7" r="3.2"/><circle cx="634.6" cy="1045.2" r="3.2"/><circle cx="622.7" cy="1025" r="3.2"/><circle cx="606.5" cy="1047.5" r="3.2"/><circle cx="643.1" cy="1023.6" r="3.2"/><circle cx="607" cy="1068.9" r="3.2"/><circle cx="596.4" cy="1056.1" r="3.2"/><circle cx="612.9" cy="1042.8" r="3.2"/><circle cx="600.1" cy="1064.4" r="3.2"/><circle cx="604.3" cy="1051.9" r="3.2"/><circle cx="612.8" cy="1047.7" r="3.2"/><circle cx="537.8" cy="1044.1" r="3.2"/><circle cx="620.3" cy="1056.7" r="3.2"/><circle cx="618.9" cy="1075.6" r="3.2"/><circle cx="627.2" cy="1063.9" r="3.2"/><circle cx="587.7" cy="1035.1" r="3.2"/><circle cx="510.9" cy="1040.8" r="3.2"/><circle cx="627" cy="1073.9" r="3.2"/><circle cx="602.2" cy="1054.3" r="3.2"/><circle cx="619.9" cy="1048.6" r="3.2"/><circle cx="591.5" cy="1042.6" r="3.2"/><circle cx="600.2" cy="1063.3" r="3.2"/><circle cx="590.5" cy="1027.7" r="3.2"/><circle cx="612.5" cy="1022.4" r="3.2"/><circle cx="623.2" cy="1030.1" r="3.2"/><circle cx="586.6" cy="1057.5" r="3.2"/><circle cx="596.9" cy="1051" r="3.2"/><circle cx="610.2" cy="1048.7" r="3.2"/><circle cx="626.2" cy="1031.5" r="3.2"/><circle cx="602.2" cy="1026.8" r="3.2"/><circle cx="528" cy="1039.9" r="3.2"/><circle cx="614.5" cy="1020.8" r="3.2"/><circle cx="609.5" cy="1024.6" r="3.2"/><circle cx="648.7" cy="1043.3" r="3.2"/><circle cx="618.8" cy="1034.1" r="3.2"/><circle cx="515.5" cy="1045.5" r="3.2"/><circle cx="622.9" cy="1072.7" r="3.2"/><circle cx="540.9" cy="1043.4" r="3.2"/><circle cx="602.5" cy="1027" r="3.2"/><circle cx="505.3" cy="1042.2" r="3.2"/><circle cx="620.1" cy="1010.9" r="3.2"/><circle cx="574.8" cy="1046" r="3.2"/><circle cx="642.7" cy="1036.7" r="3.2"/><circle cx="579.2" cy="1052.5" r="3.2"/><circle cx="644.9" cy="1034.3" r="3.2"/><circle cx="640.3" cy="1064.9" r="3.2"/><circle cx="614.4" cy="1036.4" r="3.2"/><circle cx="610.3" cy="1051.8" r="3.2"/><circle cx="604" cy="1035.8" r="3.2"/><circle cx="629.5" cy="1065.7" r="3.2"/><circle cx="578.1" cy="1037.1" r="3.2"/><circle cx="600.8" cy="1027.4" r="3.2"/><circle cx="525.5" cy="1040.3" r="3.2"/><circle cx="607.4" cy="1036.6" r="3.2"/><circle cx="578.8" cy="1048.1" r="3.2"/><circle cx="640.7" cy="1040.7" r="3.2"/><circle cx="609.3" cy="1062.2" r="3.2"/><circle cx="584.6" cy="1045.3" r="3.2"/><circle cx="591.9" cy="1044.2" r="3.2"/><circle cx="576" cy="1043" r="3.2"/><circle cx="544.2" cy="1039" r="3.2"/><circle cx="521.4" cy="1043.5" r="3.2"/><circle cx="627.5" cy="1020.3" r="3.2"/><circle cx="551.9" cy="1038.8" r="3.2"/><circle cx="635.3" cy="1014.4" r="3.2"/><circle cx="644.9" cy="1027.2" r="3.2"/><circle cx="640.3" cy="1050.5" r="3.2"/><circle cx="575.7" cy="1038.9" r="3.2"/><circle cx="632.2" cy="1028" r="3.2"/><circle cx="619.9" cy="1037.1" r="3.2"/><circle cx="642.8" cy="1068" r="3.2"/><circle cx="594.3" cy="1033.9" r="3.2"/><circle cx="620.4" cy="1029.5" r="3.2"/><circle cx="621.2" cy="1025.9" r="3.2"/><circle cx="578.5" cy="1039" r="3.2"/><circle cx="620.1" cy="1029.3" r="3.2"/><circle cx="628" cy="1067.3" r="3.2"/><circle cx="633.1" cy="1078" r="3.2"/><circle cx="636.2" cy="1035.5" r="3.2"/><circle cx="496.4" cy="1044.5" r="3.2"/><circle cx="630.1" cy="1014" r="3.2"/><circle cx="597.8" cy="1042.2" r="3.2"/><circle cx="630.5" cy="1066.7" r="3.2"/><circle cx="569.1" cy="1036.9" r="3.2"/><circle cx="602.9" cy="1067.1" r="3.2"/><circle cx="605.6" cy="1037.8" r="3.2"/><circle cx="626.2" cy="1042.9" r="3.2"/><circle cx="621.1" cy="1073.6" r="3.2"/><circle cx="633.5" cy="1073.6" r="3.2"/><circle cx="463.5" cy="1042.6" r="3.2"/><circle cx="593.2" cy="1041.4" r="3.2"/><circle cx="628.7" cy="1060.3" r="3.2"/><circle cx="587.2" cy="1041.8" r="3.2"/><circle cx="635.4" cy="1074.6" r="3.2"/><circle cx="596.2" cy="1030.9" r="3.2"/><circle cx="624.4" cy="1077.2" r="3.2"/><circle cx="522.9" cy="1043.7" r="3.2"/><circle cx="640.4" cy="1050" r="3.2"/><circle cx="555.2" cy="1044.9" r="3.2"/><circle cx="606" cy="1030.8" r="3.2"/><circle cx="604.1" cy="1040.2" r="3.2"/><circle cx="595.5" cy="1032" r="3.2"/><circle cx="615.7" cy="1062.4" r="3.2"/><circle cx="614.9" cy="1032.5" r="3.2"/><circle cx="632.3" cy="1016.9" r="3.2"/><circle cx="645.3" cy="1060.7" r="3.2"/><circle cx="632.7" cy="1031.6" r="3.2"/><circle cx="627.9" cy="1076.1" r="3.2"/><circle cx="580.1" cy="1041.7" r="3.2"/><circle cx="582.8" cy="1046.8" r="3.2"/><circle cx="477.4" cy="1043.7" r="3.2"/><circle cx="546.2" cy="1043.1" r="3.2"/><circle cx="631.6" cy="1075.6" r="3.2"/><circle cx="524.1" cy="1044.9" r="3.2"/><circle cx="591.3" cy="1056.4" r="3.2"/><circle cx="603.5" cy="1044.6" r="3.2"/><circle cx="570.8" cy="1037.1" r="3.2"/><circle cx="599.3" cy="1028.6" r="3.2"/><circle cx="589" cy="1031.8" r="3.2"/><circle cx="605.8" cy="1044.8" r="3.2"/><circle cx="576.1" cy="1051.9" r="3.2"/><circle cx="495.3" cy="1043.2" r="3.2"/><circle cx="639.9" cy="1038.6" r="3.2"/><circle cx="629.1" cy="1014.5" r="3.2"/><circle cx="630.8" cy="1033.8" r="3.2"/><circle cx="589.4" cy="1032.9" r="3.2"/><circle cx="642.3" cy="1040.5" r="3.2"/><circle cx="634.8" cy="1040" r="3.2"/><circle cx="605.7" cy="1065.5" r="3.2"/><circle cx="593.8" cy="1039.1" r="3.2"/><circle cx="632.2" cy="1071.1" r="3.2"/><circle cx="489.6" cy="1041.4" r="3.2"/><circle cx="618.2" cy="1032.8" r="3.2"/><circle cx="637" cy="1058.4" r="3.2"/><circle cx="640.2" cy="1039.7" r="3.2"/><circle cx="641.1" cy="1017.7" r="3.2"/><circle cx="607.5" cy="1035.3" r="3.2"/><circle cx="482.6" cy="1043.2" r="3.2"/><circle cx="600.3" cy="1063.6" r="3.2"/><circle cx="591.4" cy="1034" r="3.2"/><circle cx="618.6" cy="1015.8" r="3.2"/><circle cx="628" cy="1062" r="3.2"/><circle cx="646.2" cy="1047.8" r="3.2"/><circle cx="597.2" cy="1036.8" r="3.2"/><circle cx="601.6" cy="1037.9" r="3.2"/><circle cx="542.8" cy="1041.6" r="3.2"/><circle cx="634.7" cy="1054.8" r="3.2"/><circle cx="613" cy="1065" r="3.2"/><circle cx="586.2" cy="1037.3" r="3.2"/><circle cx="613.3" cy="1067.8" r="3.2"/><circle cx="611.9" cy="1038.2" r="3.2"/><circle cx="633.7" cy="1042.4" r="3.2"/><circle cx="585.7" cy="1036.2" r="3.2"/><circle cx="613.6" cy="1017.8" r="3.2"/><circle cx="608.8" cy="1026.4" r="3.2"/><circle cx="549.8" cy="1040.6" r="3.2"/><circle cx="564.9" cy="1042.2" r="3.2"/><circle cx="587.4" cy="1042.8" r="3.2"/><circle cx="608" cy="1061.8" r="3.2"/><circle cx="617.1" cy="1033.9" r="3.2"/><circle cx="629.3" cy="1062.5" r="3.2"/><circle cx="640" cy="1027.5" r="3.2"/><circle cx="545.5" cy="1042.8" r="3.2"/><circle cx="645.5" cy="1024.1" r="3.2"/><circle cx="606.1" cy="1063.5" r="3.2"/><circle cx="631.5" cy="1032.2" r="3.2"/><circle cx="598.6" cy="1049.1" r="3.2"/><circle cx="628.3" cy="1047.6" r="3.2"/><circle cx="625.6" cy="1042.1" r="3.2"/><circle cx="487.5" cy="1042.1" r="3.2"/><circle cx="637.3" cy="1065.3" r="3.2"/><circle cx="513.4" cy="1042.9" r="3.2"/><circle cx="612.5" cy="1021" r="3.2"/><circle cx="583.6" cy="1032.6" r="3.2"/><circle cx="619.5" cy="1043.2" r="3.2"/><circle cx="576.9" cy="1044.3" r="3.2"/><circle cx="620.7" cy="1027.7" r="3.2"/><circle cx="630.8" cy="1023.5" r="3.2"/><circle cx="619.7" cy="1065.2" r="3.2"/><circle cx="635" cy="1056.3" r="3.2"/><circle cx="603.4" cy="1025.6" r="3.2"/><circle cx="624.5" cy="1065.1" r="3.2"/><circle cx="609" cy="1018.4" r="3.2"/><circle cx="640.4" cy="1064.2" r="3.2"/><circle cx="547.2" cy="1046.1" r="3.2"/><circle cx="637.1" cy="1017" r="3.2"/><circle cx="479" cy="1044.3" r="3.2"/><circle cx="636.2" cy="1071.3" r="3.2"/><circle cx="542.2" cy="1040.3" r="3.2"/><circle cx="626.3" cy="1054.2" r="3.2"/><circle cx="550.4" cy="1042.7" r="3.2"/><circle cx="631.4" cy="1016.9" r="3.2"/><circle cx="584.5" cy="1035.1" r="3.2"/><circle cx="533.4" cy="1040.9" r="3.2"/><circle cx="637.2" cy="1054.9" r="3.2"/><circle cx="618.5" cy="1047.8" r="3.2"/><circle cx="635.7" cy="1076.6" r="3.2"/><circle cx="632.2" cy="1028.8" r="3.2"/><circle cx="546.9" cy="1042.8" r="3.2"/><circle cx="547.9" cy="1041.8" r="3.2"/><circle cx="627.4" cy="1034.3" r="3.2"/><circle cx="635.5" cy="1049" r="3.2"/><circle cx="576.5" cy="1048.7" r="3.2"/><circle cx="638.3" cy="1055.2" r="3.2"/><circle cx="496.1" cy="1041.5" r="3.2"/><circle cx="630.7" cy="1026.5" r="3.2"/><circle cx="621.9" cy="1051.8" r="3.2"/><circle cx="603.7" cy="1055.9" r="3.2"/><circle cx="603.4" cy="1061" r="3.2"/><circle cx="595.9" cy="1037.5" r="3.2"/><circle cx="611.2" cy="1040.6" r="3.2"/><circle cx="613.1" cy="1015.7" r="3.2"/><circle cx="572.9" cy="1043.3" r="3.2"/><circle cx="479.2" cy="1042.5" r="3.2"/><circle cx="615" cy="1044.6" r="3.2"/><circle cx="578.7" cy="1045.2" r="3.2"/><circle cx="548.8" cy="1039.9" r="3.2"/><circle cx="589" cy="1029.5" r="3.2"/><circle cx="567" cy="1046" r="3.2"/><circle cx="636.8" cy="1058.5" r="3.2"/><circle cx="594" cy="1061.2" r="3.2"/><circle cx="623.2" cy="1043.3" r="3.2"/><circle cx="472.3" cy="1042.1" r="3.2"/><circle cx="624" cy="1012.8" r="3.2"/><circle cx="643.6" cy="1067.6" r="3.2"/><circle cx="629.9" cy="1060.3" r="3.2"/><circle cx="630.4" cy="1018.4" r="3.2"/><circle cx="606.6" cy="1038.9" r="3.2"/><circle cx="611.4" cy="1025.2" r="3.2"/><circle cx="639.3" cy="1060.8" r="3.2"/><circle cx="586.8" cy="1049.8" r="3.2"/><circle cx="613.5" cy="1069" r="3.2"/><circle cx="628.3" cy="1054.6" r="3.2"/><circle cx="599.1" cy="1038.8" r="3.2"/><circle cx="610.9" cy="1066.8" r="3.2"/><circle cx="505.6" cy="1042.5" r="3.2"/><circle cx="625.4" cy="1060.1" r="3.2"/><circle cx="573.4" cy="1038" r="3.2"/><circle cx="589.9" cy="1035.7" r="3.2"/><circle cx="584.9" cy="1045.9" r="3.2"/><circle cx="627.6" cy="1027.8" r="3.2"/><circle cx="605" cy="1061.3" r="3.2"/><circle cx="648.1" cy="1043.5" r="3.2"/><circle cx="632.6" cy="1074.3" r="3.2"/><circle cx="641" cy="1049.1" r="3.2"/><circle cx="625.7" cy="1048.6" r="3.2"/><circle cx="585.7" cy="1043.2" r="3.2"/><circle cx="597.7" cy="1030.2" r="3.2"/><circle cx="601.7" cy="1036" r="3.2"/><circle cx="581" cy="1052.4" r="3.2"/><circle cx="610.5" cy="1053.2" r="3.2"/><circle cx="632.1" cy="1062.8" r="3.2"/><circle cx="614.7" cy="1037.8" r="3.2"/><circle cx="573.2" cy="1037.8" r="3.2"/><circle cx="628.5" cy="1064.7" r="3.2"/><circle cx="644.6" cy="1039" r="3.2"/><circle cx="611.1" cy="1059.2" r="3.2"/><circle cx="566.1" cy="1037.1" r="3.2"/><circle cx="628.3" cy="1032.1" r="3.2"/><circle cx="615.9" cy="1052.5" r="3.2"/><circle cx="633.2" cy="1074.4" r="3.2"/><circle cx="620.5" cy="1022.7" r="3.2"/><circle cx="637.3" cy="1076.1" r="3.2"/><circle cx="480.5" cy="1043.5" r="3.2"/><circle cx="623.4" cy="1021.7" r="3.2"/><circle cx="620.2" cy="1010.1" r="3.2"/><circle cx="631.3" cy="1074.4" r="3.2"/><circle cx="583.9" cy="1047.6" r="3.2"/><circle cx="619.1" cy="1057.9" r="3.2"/><circle cx="591" cy="1040.1" r="3.2"/><circle cx="629.9" cy="1012.7" r="3.2"/><circle cx="539.1" cy="1042.8" r="3.2"/><circle cx="570.9" cy="1045.3" r="3.2"/><circle cx="642.8" cy="1030.8" r="3.2"/><circle cx="628.8" cy="1076.8" r="3.2"/><circle cx="589" cy="1051.7" r="3.2"/><circle cx="596.4" cy="1023.5" r="3.2"/><circle cx="607.9" cy="1031.8" r="3.2"/><circle cx="586.3" cy="1054.5" r="3.2"/><circle cx="565.6" cy="1046.3" r="3.2"/><circle cx="645.1" cy="1057" r="3.2"/><circle cx="582.7" cy="1035.2" r="3.2"/><circle cx="629.4" cy="1071" r="3.2"/><circle cx="627.6" cy="1054.7" r="3.2"/><circle cx="628.7" cy="1036" r="3.2"/><circle cx="595.4" cy="1050.2" r="3.2"/><circle cx="584.5" cy="1036.1" r="3.2"/><circle cx="621.2" cy="1070.3" r="3.2"/><circle cx="648.4" cy="1030.2" r="3.2"/><circle cx="604" cy="1031.5" r="3.2"/><circle cx="583.8" cy="1048.7" r="3.2"/><circle cx="613.7" cy="1038" r="3.2"/><circle cx="578.5" cy="1051.3" r="3.2"/><circle cx="600.1" cy="1057.7" r="3.2"/><circle cx="628.6" cy="1056.3" r="3.2"/><circle cx="587.6" cy="1038.8" r="3.2"/><circle cx="609.1" cy="1039.6" r="3.2"/><circle cx="622.9" cy="1031.1" r="3.2"/><circle cx="571.3" cy="1039.9" r="3.2"/><circle cx="567" cy="1036.2" r="3.2"/><circle cx="644.6" cy="1031.3" r="3.2"/><circle cx="637" cy="1056.6" r="3.2"/><circle cx="638.2" cy="1045.8" r="3.2"/><circle cx="618.2" cy="1031.8" r="3.2"/><circle cx="613.4" cy="1032.4" r="3.2"/><circle cx="553.6" cy="1039.7" r="3.2"/><circle cx="587.3" cy="1030.4" r="3.2"/><circle cx="555.2" cy="1039.3" r="3.2"/><circle cx="615.4" cy="1050.7" r="3.2"/><circle cx="608" cy="1066.4" r="3.2"/><circle cx="574.7" cy="1046.5" r="3.2"/><circle cx="549.1" cy="1041.5" r="3.2"/><circle cx="618.4" cy="1047.2" r="3.2"/><circle cx="565.9" cy="1038" r="3.2"/><circle cx="478.1" cy="1041.9" r="3.2"/><circle cx="585" cy="1031" r="3.2"/><circle cx="632.8" cy="1047.9" r="3.2"/><circle cx="623.8" cy="1049.1" r="3.2"/><circle cx="614.3" cy="1021.7" r="3.2"/><circle cx="585" cy="1055.1" r="3.2"/><circle cx="610.6" cy="1022.3" r="3.2"/><circle cx="472.6" cy="1043" r="3.2"/><circle cx="597.8" cy="1049.3" r="3.2"/><circle cx="611.5" cy="1015.6" r="3.2"/><circle cx="545.5" cy="1041" r="3.2"/><circle cx="618.7" cy="1045.2" r="3.2"/><circle cx="608.6" cy="1052.8" r="3.2"/><circle cx="522" cy="1044.1" r="3.2"/><circle cx="567.8" cy="1045.3" r="3.2"/><circle cx="612.2" cy="1017.7" r="3.2"/><circle cx="639" cy="1014.2" r="3.2"/><circle cx="524.1" cy="1045.2" r="3.2"/><circle cx="617.5" cy="1020" r="3.2"/><circle cx="593.2" cy="1038" r="3.2"/><circle cx="604" cy="1059.9" r="3.2"/><circle cx="640.9" cy="1015.4" r="3.2"/><circle cx="622" cy="1067.9" r="3.2"/><circle cx="593.2" cy="1048.6" r="3.2"/><circle cx="609.4" cy="1036.7" r="3.2"/><circle cx="646.4" cy="1032.4" r="3.2"/><circle cx="637" cy="1044.5" r="3.2"/><circle cx="607.2" cy="1060.4" r="3.2"/><circle cx="615.2" cy="1024.3" r="3.2"/><circle cx="609.9" cy="1028.7" r="3.2"/><circle cx="568.9" cy="1043" r="3.2"/><circle cx="644.9" cy="1057.7" r="3.2"/><circle cx="585.6" cy="1040.7" r="3.2"/><circle cx="584" cy="1040.7" r="3.2"/><circle cx="554.3" cy="1047.8" r="3.2"/><circle cx="642.5" cy="1044.9" r="3.2"/><circle cx="640.3" cy="1060.8" r="3.2"/><circle cx="622.5" cy="1055.1" r="3.2"/><circle cx="615.2" cy="1046" r="3.2"/><circle cx="618.8" cy="1038.6" r="3.2"/><circle cx="602.3" cy="1050.4" r="3.2"/><circle cx="638.5" cy="1065" r="3.2"/><circle cx="617.2" cy="1019.9" r="3.2"/><circle cx="636.2" cy="1026.7" r="3.2"/><circle cx="626.1" cy="1021.9" r="3.2"/><circle cx="625.2" cy="1065.5" r="3.2"/><circle cx="624.7" cy="1030.3" r="3.2"/><circle cx="631.2" cy="1039.2" r="3.2"/><circle cx="633.5" cy="1044" r="3.2"/><circle cx="625.4" cy="1076.2" r="3.2"/><circle cx="597.4" cy="1022.4" r="3.2"/><circle cx="590.5" cy="1032.5" r="3.2"/><circle cx="579.7" cy="1051.3" r="3.2"/><circle cx="636.2" cy="1040" r="3.2"/><circle cx="612" cy="1035.2" r="3.2"/><circle cx="432.3" cy="1043.2" r="3.2"/><circle cx="620" cy="1016.4" r="3.2"/><circle cx="636.7" cy="1009.2" r="3.2"/><circle cx="640.6" cy="1067.9" r="3.2"/><circle cx="642.2" cy="1061.2" r="3.2"/><circle cx="637.1" cy="1045.6" r="3.2"/><circle cx="575.7" cy="1038.5" r="3.2"/><circle cx="614.2" cy="1060.1" r="3.2"/><circle cx="627" cy="1017.9" r="3.2"/><circle cx="622.9" cy="1037.8" r="3.2"/><circle cx="601.2" cy="1027.8" r="3.2"/><circle cx="507.3" cy="1042.6" r="3.2"/><circle cx="638.8" cy="1010.6" r="3.2"/><circle cx="631.3" cy="1040" r="3.2"/><circle cx="636.9" cy="1039.7" r="3.2"/><circle cx="603.7" cy="1066.8" r="3.2"/><circle cx="588.4" cy="1039.2" r="3.2"/><circle cx="635.4" cy="1045.3" r="3.2"/><circle cx="623.6" cy="1018.2" r="3.2"/><circle cx="624.4" cy="1027.3" r="3.2"/><circle cx="504.5" cy="1041.8" r="3.2"/><circle cx="552.9" cy="1047.8" r="3.2"/><circle cx="630.8" cy="1015.7" r="3.2"/><circle cx="638.1" cy="1052.5" r="3.2"/><circle cx="600.7" cy="1058.2" r="3.2"/><circle cx="637.3" cy="1073.4" r="3.2"/><circle cx="576.2" cy="1047.1" r="3.2"/><circle cx="618.7" cy="1021.8" r="3.2"/><circle cx="600.3" cy="1062" r="3.2"/><circle cx="615.5" cy="1044" r="3.2"/><circle cx="579.9" cy="1043.6" r="3.2"/><circle cx="603.5" cy="1062.2" r="3.2"/><circle cx="610.1" cy="1015.4" r="3.2"/><circle cx="618.7" cy="1057.6" r="3.2"/><circle cx="581.5" cy="1049.3" r="3.2"/><circle cx="620.4" cy="1054.6" r="3.2"/><circle cx="582.7" cy="1035.3" r="3.2"/><circle cx="645.8" cy="1061" r="3.2"/><circle cx="587.4" cy="1035.2" r="3.2"/><circle cx="554" cy="1041.2" r="3.2"/><circle cx="591.6" cy="1054.6" r="3.2"/><circle cx="617.9" cy="1070.6" r="3.2"/><circle cx="608.9" cy="1029.9" r="3.2"/><circle cx="623.9" cy="1041.5" r="3.2"/><circle cx="554.1" cy="1046.6" r="3.2"/><circle cx="606.1" cy="1045" r="3.2"/><circle cx="617.1" cy="1025.4" r="3.2"/><circle cx="645.6" cy="1037.3" r="3.2"/><circle cx="638.3" cy="1051.8" r="3.2"/><circle cx="618.2" cy="1057.8" r="3.2"/><circle cx="595.1" cy="1035.6" r="3.2"/><circle cx="556.2" cy="1039.6" r="3.2"/><circle cx="622.2" cy="1062.6" r="3.2"/><circle cx="617.6" cy="1030.2" r="3.2"/><circle cx="611.1" cy="1028.2" r="3.2"/><circle cx="627.7" cy="1027.4" r="3.2"/><circle cx="610.4" cy="1027.6" r="3.2"/><circle cx="631.4" cy="1016.1" r="3.2"/><circle cx="593.7" cy="1038.8" r="3.2"/><circle cx="598.1" cy="1029.8" r="3.2"/><circle cx="640.1" cy="1052.2" r="3.2"/><circle cx="618.7" cy="1016.7" r="3.2"/><circle cx="643.6" cy="1035.5" r="3.2"/><circle cx="527.5" cy="1045.8" r="3.2"/><circle cx="641.1" cy="1040.5" r="3.2"/><circle cx="524.5" cy="1045.4" r="3.2"/><circle cx="629.4" cy="1023" r="3.2"/><circle cx="618.7" cy="1062" r="3.2"/><circle cx="558.8" cy="1038.3" r="3.2"/><circle cx="595.4" cy="1060.7" r="3.2"/><circle cx="611.5" cy="1070.1" r="3.2"/><circle cx="617.2" cy="1055.5" r="3.2"/><circle cx="612.1" cy="1025.4" r="3.2"/><circle cx="497.1" cy="1044" r="3.2"/><circle cx="648.3" cy="1052.5" r="3.2"/><circle cx="600.6" cy="1050" r="3.2"/><circle cx="627.9" cy="1063.3" r="3.2"/><circle cx="641.4" cy="1028.4" r="3.2"/><circle cx="645.6" cy="1055.5" r="3.2"/><circle cx="577.2" cy="1037.3" r="3.2"/><circle cx="638.7" cy="1043.4" r="3.2"/><circle cx="614" cy="1036.6" r="3.2"/><circle cx="623.7" cy="1022.6" r="3.2"/><circle cx="588.1" cy="1035.5" r="3.2"/><circle cx="566.9" cy="1048.4" r="3.2"/><circle cx="618.7" cy="1013.9" r="3.2"/><circle cx="639.5" cy="1042.5" r="3.2"/><circle cx="606.6" cy="1042.1" r="3.2"/><circle cx="643.5" cy="1022.6" r="3.2"/><circle cx="626.8" cy="1012.4" r="3.2"/><circle cx="486.9" cy="1042.8" r="3.2"/><circle cx="641.8" cy="1034.8" r="3.2"/><circle cx="555.2" cy="1040.4" r="3.2"/><circle cx="584.4" cy="1036.4" r="3.2"/><circle cx="617.6" cy="1025.3" r="3.2"/><circle cx="642.3" cy="1050.8" r="3.2"/><circle cx="563.8" cy="1049.1" r="3.2"/><circle cx="594.8" cy="1035.6" r="3.2"/><circle cx="515" cy="1042.5" r="3.2"/><circle cx="543.6" cy="1044.7" r="3.2"/><circle cx="607.6" cy="1032.6" r="3.2"/><circle cx="618.5" cy="1018.3" r="3.2"/><circle cx="613.9" cy="1052.1" r="3.2"/><circle cx="516.6" cy="1042.2" r="3.2"/><circle cx="607.5" cy="1016.3" r="3.2"/><circle cx="608.7" cy="1033.5" r="3.2"/><circle cx="641.9" cy="1064.9" r="3.2"/><circle cx="598.1" cy="1024" r="3.2"/><circle cx="622.3" cy="1070.3" r="3.2"/><circle cx="612.2" cy="1049.8" r="3.2"/><circle cx="631.3" cy="1067.4" r="3.2"/><circle cx="620.4" cy="1047.2" r="3.2"/><circle cx="647.8" cy="1050.1" r="3.2"/><circle cx="622.5" cy="1070.1" r="3.2"/><circle cx="599.5" cy="1028.5" r="3.2"/><circle cx="606.8" cy="1022.3" r="3.2"/><circle cx="636.2" cy="1048" r="3.2"/><circle cx="602.1" cy="1042" r="3.2"/><circle cx="641.3" cy="1044.2" r="3.2"/><circle cx="608.4" cy="1035.3" r="3.2"/><circle cx="642.6" cy="1069.7" r="3.2"/><circle cx="568.8" cy="1044.5" r="3.2"/><circle cx="631.7" cy="1051.1" r="3.2"/><circle cx="608.8" cy="1016.9" r="3.2"/><circle cx="585.2" cy="1036.8" r="3.2"/><circle cx="619.4" cy="1028.4" r="3.2"/><circle cx="526.1" cy="1046.1" r="3.2"/><circle cx="580.5" cy="1034.6" r="3.2"/><circle cx="635.6" cy="1043.4" r="3.2"/><circle cx="614.8" cy="1057.4" r="3.2"/><circle cx="599.2" cy="1048.3" r="3.2"/><circle cx="567" cy="1046.7" r="3.2"/><circle cx="571.7" cy="1040.7" r="3.2"/><circle cx="585.7" cy="1033.5" r="3.2"/><circle cx="610.1" cy="1027.5" r="3.2"/><circle cx="488.6" cy="1043.2" r="3.2"/><circle cx="581.5" cy="1043.5" r="3.2"/><circle cx="607.4" cy="1038" r="3.2"/><circle cx="638" cy="1071.2" r="3.2"/><circle cx="636.9" cy="1036.1" r="3.2"/><circle cx="641.9" cy="1026.4" r="3.2"/><circle cx="584.9" cy="1045.8" r="3.2"/><circle cx="559.9" cy="1044" r="3.2"/><circle cx="635.8" cy="1063.3" r="3.2"/><circle cx="626.4" cy="1047.4" r="3.2"/><circle cx="588.2" cy="1027.8" r="3.2"/><circle cx="607.8" cy="1042.1" r="3.2"/><circle cx="641.1" cy="1024" r="3.2"/><circle cx="633.7" cy="1023.7" r="3.2"/><circle cx="642" cy="1058.5" r="3.2"/><circle cx="612.6" cy="1070.7" r="3.2"/><circle cx="579.1" cy="1051.2" r="3.2"/><circle cx="615.9" cy="1026.2" r="3.2"/><circle cx="555.6" cy="1042.2" r="3.2"/><circle cx="557.1" cy="1047" r="3.2"/><circle cx="545.2" cy="1046" r="3.2"/><circle cx="589" cy="1029" r="3.2"/><circle cx="572.6" cy="1039.2" r="3.2"/><circle cx="589.8" cy="1046" r="3.2"/><circle cx="626.2" cy="1020.8" r="3.2"/><circle cx="624.7" cy="1008.4" r="3.2"/><circle cx="495.4" cy="1041.9" r="3.2"/><circle cx="636.4" cy="1045.9" r="3.2"/><circle cx="633.9" cy="1058.6" r="3.2"/><circle cx="642.7" cy="1056.2" r="3.2"/><circle cx="583.8" cy="1044.7" r="3.2"/><circle cx="628.3" cy="1050.3" r="3.2"/><circle cx="617.2" cy="1044.4" r="3.2"/><circle cx="626.9" cy="1064.6" r="3.2"/><circle cx="639.5" cy="1052.6" r="3.2"/><circle cx="539.9" cy="1044.5" r="3.2"/><circle cx="635.3" cy="1072" r="3.2"/><circle cx="636.4" cy="1016.1" r="3.2"/><circle cx="623" cy="1010.4" r="3.2"/><circle cx="605.2" cy="1044.6" r="3.2"/><circle cx="616.1" cy="1039.6" r="3.2"/><circle cx="565.7" cy="1048.5" r="3.2"/><circle cx="629.2" cy="1028.9" r="3.2"/><circle cx="616.8" cy="1054.4" r="3.2"/><circle cx="618.4" cy="1055.9" r="3.2"/><circle cx="627" cy="1023.8" r="3.2"/><circle cx="550.2" cy="1038.3" r="3.2"/><circle cx="516.6" cy="1042.6" r="3.2"/><circle cx="557.9" cy="1039.7" r="3.2"/><circle cx="539.3" cy="1040.6" r="3.2"/><circle cx="632.8" cy="1040.1" r="3.2"/></g>
<path d="M430 1042.8 431.4 1042.8 432.8 1042.8 434.2 1042.8 435.5 1042.8 436.9 1042.8 438.3 1042.8 439.7 1042.7 441.1 1042.7 442.5 1042.7 443.9 1042.7 445.3 1042.7 446.6 1042.6 448 1042.6 449.4 1042.6 450.8 1042.6 452.2 1042.6 453.6 1042.5 455 1042.5 456.4 1042.5 457.7 1042.4 459.1 1042.4 460.5 1042.3 461.9 1042.3 463.3 1042.2 464.7 1042.2 466.1 1042.1 467.5 1042.1 468.8 1042 470.2 1042 471.6 1041.9 473 1041.9 474.4 1041.8 475.8 1041.8 477.2 1041.7 478.6 1041.7 479.9 1041.6 481.3 1041.5 482.7 1041.5 484.1 1041.4 485.5 1041.4 486.9 1041.3 488.3 1041.3 489.7 1041.2 491 1041.2 492.4 1041.1 493.8 1041.1 495.2 1041 496.6 1041 498 1040.9 499.4 1040.9 500.8 1040.9 502.1 1040.8 503.5 1040.8 504.9 1040.7 506.3 1040.7 507.7 1040.6 509.1 1040.6 510.5 1040.6 511.9 1040.5 513.2 1040.5 514.6 1040.4 516 1040.4 517.4 1040.3 518.8 1040.3 520.2 1040.2 521.6 1040.1 523 1040.1 524.3 1040 525.7 1039.9 527.1 1039.8 528.5 1039.8 529.9 1039.7 531.3 1039.6 532.7 1039.5 534.1 1039.4 535.4 1039.3 536.8 1039.2 538.2 1039.1 539.6 1039 541 1038.9 542.4 1038.8 543.8 1038.7 545.2 1038.6 546.5 1038.5 547.9 1038.4 549.3 1038.3 550.7 1038.1 552.1 1038 553.5 1037.9 554.9 1037.7 556.3 1037.6 557.6 1037.4 559 1037.3 560.4 1037.1 561.8 1036.9 563.2 1036.7 564.6 1036.4 566 1036.2 567.4 1035.9 568.7 1035.6 570.1 1035.2 571.5 1034.8 572.9 1034.3 574.3 1033.8 575.7 1033.3 577.1 1032.8 578.5 1032.2 579.8 1031.7 581.2 1031.1 582.6 1030.5 584 1029.8 585.4 1029.1 586.8 1028.3 588.2 1027.6 589.6 1026.8 590.9 1026.1 592.3 1025.3 593.7 1024.5 595.1 1023.6 596.5 1022.7 597.9 1021.9 599.3 1021 600.7 1020.2 602 1019.4 603.4 1018.5 604.8 1017.7 606.2 1016.8 607.6 1016 609 1015.2 610.4 1014.4 611.8 1013.6 613.1 1012.8 614.5 1012 615.9 1011.2 617.3 1010.5 618.7 1009.8 620.1 1009.2 621.5 1008.5 622.9 1007.8 624.2 1007.2 625.6 1006.6 627 1006.3 628.4 1006.2 629.8 1006.2 631.2 1006.3 632.6 1006.4 634 1006.6 635.3 1007.1 636.7 1008.1 638.1 1009.5 639.5 1011 640.9 1012.7 642.3 1014.7 643.7 1017.1 645.1 1019.7 646.4 1022.7 647.8 1026.2 649.2 1030.2 650.6 1043 650.6 1043 649.2 1055.8 647.8 1059.8 646.4 1063.3 645.1 1066.3 643.7 1068.9 642.3 1071.3 640.9 1073.3 639.5 1075 638.1 1076.5 636.7 1077.9 635.3 1078.9 634 1079.4 632.6 1079.6 631.2 1079.7 629.8 1079.8 628.4 1079.8 627 1079.7 625.6 1079.4 624.2 1078.8 622.9 1078.2 621.5 1077.5 620.1 1076.8 618.7 1076.2 617.3 1075.5 615.9 1074.8 614.5 1074 613.1 1073.2 611.8 1072.4 610.4 1071.6 609 1070.8 607.6 1070 606.2 1069.2 604.8 1068.3 603.4 1067.5 602 1066.6 600.7 1065.8 599.3 1065 597.9 1064.1 596.5 1063.3 595.1 1062.4 593.7 1061.5 592.3 1060.7 590.9 1059.9 589.6 1059.2 588.2 1058.4 586.8 1057.7 585.4 1056.9 584 1056.2 582.6 1055.5 581.2 1054.9 579.8 1054.3 578.5 1053.8 577.1 1053.2 575.7 1052.7 574.3 1052.2 572.9 1051.7 571.5 1051.2 570.1 1050.8 568.7 1050.4 567.4 1050.1 566 1049.8 564.6 1049.6 563.2 1049.3 561.8 1049.1 560.4 1048.9 559 1048.7 557.6 1048.6 556.3 1048.4 554.9 1048.3 553.5 1048.1 552.1 1048 550.7 1047.9 549.3 1047.7 547.9 1047.6 546.5 1047.5 545.2 1047.4 543.8 1047.3 542.4 1047.2 541 1047.1 539.6 1047 538.2 1046.9 536.8 1046.8 535.4 1046.7 534.1 1046.6 532.7 1046.5 531.3 1046.4 529.9 1046.3 528.5 1046.2 527.1 1046.2 525.7 1046.1 524.3 1046 523 1045.9 521.6 1045.9 520.2 1045.8 518.8 1045.7 517.4 1045.7 516 1045.6 514.6 1045.6 513.2 1045.5 511.9 1045.5 510.5 1045.4 509.1 1045.4 507.7 1045.4 506.3 1045.3 504.9 1045.3 503.5 1045.2 502.1 1045.2 500.8 1045.1 499.4 1045.1 498 1045.1 496.6 1045 495.2 1045 493.8 1044.9 492.4 1044.9 491 1044.8 489.7 1044.8 488.3 1044.7 486.9 1044.7 485.5 1044.6 484.1 1044.6 482.7 1044.5 481.3 1044.5 479.9 1044.4 478.6 1044.3 477.2 1044.3 475.8 1044.2 474.4 1044.2 473 1044.1 471.6 1044.1 470.2 1044 468.8 1044 467.5 1043.9 466.1 1043.9 464.7 1043.8 463.3 1043.8 461.9 1043.7 460.5 1043.7 459.1 1043.6 457.7 1043.6 456.4 1043.5 455 1043.5 453.6 1043.5 452.2 1043.4 450.8 1043.4 449.4 1043.4 448 1043.4 446.6 1043.4 445.3 1043.3 443.9 1043.3 442.5 1043.3 441.1 1043.3 439.7 1043.3 438.3 1043.2 436.9 1043.2 435.5 1043.2 434.2 1043.2 432.8 1043.2 431.4 1043.2 430 1043.2Z" fill="none" stroke="#a07070" stroke-width="0.8" stroke-linejoin="round"/>
<line x1="399.2" y1="1043" x2="650.5" y2="1043" stroke="#6c6c6c" stroke-width="0.65"/>
<rect x="587.6" y="1041.5" width="44.4" height="3" fill="#808080"/>
<circle cx="616" cy="1043" r="3.3" fill="#fff" stroke="#808080" stroke-width="0.5"/>
<path d="M395.8 902.3H669" fill="none" stroke="#b4b4b4" stroke-width="1.2"/>
<path d="M668.4 902.3V654.3" fill="none" stroke="#b0b0b0" stroke-width="1.1"/>
<path d="M668.5 902.3v-3M638.2 902.3v-3M608 902.3v-3M577.8 902.3v-3M547.6 902.3v-3M517.3 902.3v-3M487.1 902.3v-3M456.9 902.3v-3M426.7 902.3v-3M396.4 902.3v-3M668.5 840.3h-3M668.5 716.3h-3" fill="none" stroke="#a6a6a6" stroke-width="1"/>
<text transform="translate(672.8,907.2) rotate(-90)" text-anchor="end" font-size="11.0">0</text>
<text transform="translate(642.5,907.2) rotate(-90)" text-anchor="end" font-size="11.0">0.005</text>
<text transform="translate(612.3,907.2) rotate(-90)" text-anchor="end" font-size="11.0">0.01</text>
<text transform="translate(582.1,907.2) rotate(-90)" text-anchor="end" font-size="11.0">0.015</text>
<text transform="translate(551.9,907.2) rotate(-90)" text-anchor="end" font-size="11.0">0.02</text>
<text transform="translate(521.6,907.2) rotate(-90)" text-anchor="end" font-size="11.0">0.025</text>
<text transform="translate(491.4,907.2) rotate(-90)" text-anchor="end" font-size="11.0">0.03</text>
<text transform="translate(461.2,907.2) rotate(-90)" text-anchor="end" font-size="11.0">0.035</text>
<text transform="translate(431,907.2) rotate(-90)" text-anchor="end" font-size="11.0">0.04</text>
<text transform="translate(400.8,907.2) rotate(-90)" text-anchor="end" font-size="11.0">0.045</text>
<text transform="translate(683.2,840.3) rotate(-90)" text-anchor="middle" font-size="11.0">POST</text>
<text transform="translate(683.2,716.3) rotate(-90)" text-anchor="middle" font-size="11.0">PRE Resected</text>
<text transform="translate(533.1,944.8) rotate(180)" text-anchor="middle" font-size="12.1">strength per channel</text>
<text transform="translate(390.9,778) rotate(-90)" text-anchor="middle" font-size="13.8" font-weight="bold" fill="#000">GC</text>
<path d="M390.8 778.3h16.4 M399 770.1v16.4 M393.2 772.5l11.6 11.6 M393.2 784.1l11.6 -11.6" stroke="#7E2F8E" stroke-width="0.55" stroke-opacity="0.85" fill="none"/>
<g fill="#0000ff" fill-opacity="0.3"><circle cx="399" cy="840.3" r="3.2"/><circle cx="568" cy="840.3" r="3.2"/><circle cx="578" cy="840.3" r="3.2"/><circle cx="590" cy="840.3" r="3.2"/><circle cx="591.6" cy="840.3" r="3.2"/><circle cx="597" cy="840.3" r="3.2"/><circle cx="609" cy="840.3" r="3.2"/><circle cx="610.4" cy="840.3" r="3.2"/><circle cx="622" cy="840.3" r="3.2"/><circle cx="626.7" cy="840" r="3.2"/><circle cx="628.2" cy="840.4" r="3.2"/><circle cx="628.5" cy="840.7" r="3.2"/><circle cx="627.9" cy="840.6" r="3.2"/><circle cx="628.3" cy="839.9" r="3.2"/></g>
<path d="M628 839.9 628.3 839.9 628.5 839.9 628.8 839.9 629 839.9 629.3 839.9 629.5 839.9 629.8 839.9 630.1 839.9 630.3 839.9 630.6 839.9 630.8 839.9 631.1 839.9 631.3 839.9 631.6 839.9 631.8 839.9 632.1 839.9 632.4 839.9 632.6 839.9 632.9 839.9 633.1 839.9 633.4 839.8 633.6 839.8 633.9 839.8 634.2 839.8 634.4 839.8 634.7 839.8 634.9 839.8 635.2 839.8 635.4 839.8 635.7 839.8 636 839.8 636.2 839.8 636.5 839.8 636.7 839.8 637 839.8 637.2 839.7 637.5 839.7 637.8 839.7 638 839.7 638.3 839.7 638.5 839.7 638.8 839.7 639 839.7 639.3 839.7 639.5 839.7 639.8 839.6 640.1 839.6 640.3 839.6 640.6 839.6 640.8 839.6 641.1 839.6 641.3 839.6 641.6 839.6 641.9 839.6 642.1 839.5 642.4 839.5 642.6 839.5 642.9 839.5 643.1 839.5 643.4 839.5 643.7 839.5 643.9 839.4 644.2 839.4 644.4 839.4 644.7 839.4 644.9 839.4 645.2 839.4 645.4 839.4 645.7 839.3 646 839.3 646.2 839.3 646.5 839.3 646.7 839.3 647 839.3 647.2 839.2 647.5 839.2 647.8 839.2 648 839.2 648.3 839.2 648.5 839.2 648.8 839.1 649 839.1 649.3 839.1 649.6 839.1 649.8 839.1 650.1 839 650.3 839 650.6 839 650.8 839 651.1 839 651.4 839 651.6 838.9 651.9 838.9 652.1 838.9 652.4 838.9 652.6 838.8 652.9 838.8 653.1 838.8 653.4 838.7 653.7 838.7 653.9 838.7 654.2 838.6 654.4 838.6 654.7 838.5 654.9 838.5 655.2 838.4 655.5 838.4 655.7 838.3 656 838.2 656.2 838.2 656.5 838.1 656.7 838 657 837.9 657.3 837.8 657.5 837.7 657.8 837.6 658 837.4 658.3 837.3 658.5 837.1 658.8 836.9 659 836.6 659.3 836.3 659.6 835.9 659.8 835.6 660.1 835.2 660.3 834.7 660.6 834.3 660.8 833.9 661.1 833.4 661.4 832.9 661.6 832.4 661.9 831.8 662.1 831.1 662.4 830.3 662.6 829.5 662.9 828.4 663.2 827.2 663.4 825.9 663.7 824.5 663.9 823 664.2 821.5 664.4 820.1 664.7 818.5 665 816.9 665.2 815.2 665.5 813.5 665.7 811.9 666 810.4 666.2 809 666.5 807.6 666.7 806.3 667 805.2 667.3 804.4 667.5 803.9 667.8 803.6 668 803.5 668.3 803.8 668.5 805.6 668.8 840.3 668.8 840.3 668.5 875 668.3 876.8 668 877.1 667.8 877 667.5 876.7 667.3 876.2 667 875.4 666.7 874.3 666.5 873 666.2 871.6 666 870.2 665.7 868.7 665.5 867.1 665.2 865.4 665 863.7 664.7 862.1 664.4 860.5 664.2 859.1 663.9 857.6 663.7 856.1 663.4 854.7 663.2 853.4 662.9 852.2 662.6 851.1 662.4 850.3 662.1 849.5 661.9 848.8 661.6 848.2 661.4 847.7 661.1 847.2 660.8 846.7 660.6 846.3 660.3 845.9 660.1 845.4 659.8 845 659.6 844.7 659.3 844.3 659 844 658.8 843.7 658.5 843.5 658.3 843.3 658 843.2 657.8 843 657.5 842.9 657.3 842.8 657 842.7 656.7 842.6 656.5 842.5 656.2 842.4 656 842.4 655.7 842.3 655.5 842.2 655.2 842.2 654.9 842.1 654.7 842.1 654.4 842 654.2 842 653.9 841.9 653.7 841.9 653.4 841.9 653.1 841.8 652.9 841.8 652.6 841.8 652.4 841.7 652.1 841.7 651.9 841.7 651.6 841.7 651.4 841.6 651.1 841.6 650.8 841.6 650.6 841.6 650.3 841.6 650.1 841.6 649.8 841.5 649.6 841.5 649.3 841.5 649 841.5 648.8 841.5 648.5 841.4 648.3 841.4 648 841.4 647.8 841.4 647.5 841.4 647.2 841.4 647 841.3 646.7 841.3 646.5 841.3 646.2 841.3 646 841.3 645.7 841.3 645.4 841.2 645.2 841.2 644.9 841.2 644.7 841.2 644.4 841.2 644.2 841.2 643.9 841.2 643.7 841.1 643.4 841.1 643.1 841.1 642.9 841.1 642.6 841.1 642.4 841.1 642.1 841.1 641.9 841 641.6 841 641.3 841 641.1 841 640.8 841 640.6 841 640.3 841 640.1 841 639.8 841 639.5 840.9 639.3 840.9 639 840.9 638.8 840.9 638.5 840.9 638.3 840.9 638 840.9 637.8 840.9 637.5 840.9 637.2 840.9 637 840.8 636.7 840.8 636.5 840.8 636.2 840.8 636 840.8 635.7 840.8 635.4 840.8 635.2 840.8 634.9 840.8 634.7 840.8 634.4 840.8 634.2 840.8 633.9 840.8 633.6 840.8 633.4 840.8 633.1 840.7 632.9 840.7 632.6 840.7 632.4 840.7 632.1 840.7 631.8 840.7 631.6 840.7 631.3 840.7 631.1 840.7 630.8 840.7 630.6 840.7 630.3 840.7 630.1 840.7 629.8 840.7 629.5 840.7 629.3 840.7 629 840.7 628.8 840.7 628.5 840.7 628.3 840.7 628 840.7Z" fill="#0000ff" stroke="#0000ff" stroke-width="5.9" stroke-opacity="0.35" stroke-linejoin="round"/>
<path d="M628 839.9 628.3 839.9 628.5 839.9 628.8 839.9 629 839.9 629.3 839.9 629.5 839.9 629.8 839.9 630.1 839.9 630.3 839.9 630.6 839.9 630.8 839.9 631.1 839.9 631.3 839.9 631.6 839.9 631.8 839.9 632.1 839.9 632.4 839.9 632.6 839.9 632.9 839.9 633.1 839.9 633.4 839.8 633.6 839.8 633.9 839.8 634.2 839.8 634.4 839.8 634.7 839.8 634.9 839.8 635.2 839.8 635.4 839.8 635.7 839.8 636 839.8 636.2 839.8 636.5 839.8 636.7 839.8 637 839.8 637.2 839.7 637.5 839.7 637.8 839.7 638 839.7 638.3 839.7 638.5 839.7 638.8 839.7 639 839.7 639.3 839.7 639.5 839.7 639.8 839.6 640.1 839.6 640.3 839.6 640.6 839.6 640.8 839.6 641.1 839.6 641.3 839.6 641.6 839.6 641.9 839.6 642.1 839.5 642.4 839.5 642.6 839.5 642.9 839.5 643.1 839.5 643.4 839.5 643.7 839.5 643.9 839.4 644.2 839.4 644.4 839.4 644.7 839.4 644.9 839.4 645.2 839.4 645.4 839.4 645.7 839.3 646 839.3 646.2 839.3 646.5 839.3 646.7 839.3 647 839.3 647.2 839.2 647.5 839.2 647.8 839.2 648 839.2 648.3 839.2 648.5 839.2 648.8 839.1 649 839.1 649.3 839.1 649.6 839.1 649.8 839.1 650.1 839 650.3 839 650.6 839 650.8 839 651.1 839 651.4 839 651.6 838.9 651.9 838.9 652.1 838.9 652.4 838.9 652.6 838.8 652.9 838.8 653.1 838.8 653.4 838.7 653.7 838.7 653.9 838.7 654.2 838.6 654.4 838.6 654.7 838.5 654.9 838.5 655.2 838.4 655.5 838.4 655.7 838.3 656 838.2 656.2 838.2 656.5 838.1 656.7 838 657 837.9 657.3 837.8 657.5 837.7 657.8 837.6 658 837.4 658.3 837.3 658.5 837.1 658.8 836.9 659 836.6 659.3 836.3 659.6 835.9 659.8 835.6 660.1 835.2 660.3 834.7 660.6 834.3 660.8 833.9 661.1 833.4 661.4 832.9 661.6 832.4 661.9 831.8 662.1 831.1 662.4 830.3 662.6 829.5 662.9 828.4 663.2 827.2 663.4 825.9 663.7 824.5 663.9 823 664.2 821.5 664.4 820.1 664.7 818.5 665 816.9 665.2 815.2 665.5 813.5 665.7 811.9 666 810.4 666.2 809 666.5 807.6 666.7 806.3 667 805.2 667.3 804.4 667.5 803.9 667.8 803.6 668 803.5 668.3 803.8 668.5 805.6 668.8 840.3 668.8 840.3 668.5 875 668.3 876.8 668 877.1 667.8 877 667.5 876.7 667.3 876.2 667 875.4 666.7 874.3 666.5 873 666.2 871.6 666 870.2 665.7 868.7 665.5 867.1 665.2 865.4 665 863.7 664.7 862.1 664.4 860.5 664.2 859.1 663.9 857.6 663.7 856.1 663.4 854.7 663.2 853.4 662.9 852.2 662.6 851.1 662.4 850.3 662.1 849.5 661.9 848.8 661.6 848.2 661.4 847.7 661.1 847.2 660.8 846.7 660.6 846.3 660.3 845.9 660.1 845.4 659.8 845 659.6 844.7 659.3 844.3 659 844 658.8 843.7 658.5 843.5 658.3 843.3 658 843.2 657.8 843 657.5 842.9 657.3 842.8 657 842.7 656.7 842.6 656.5 842.5 656.2 842.4 656 842.4 655.7 842.3 655.5 842.2 655.2 842.2 654.9 842.1 654.7 842.1 654.4 842 654.2 842 653.9 841.9 653.7 841.9 653.4 841.9 653.1 841.8 652.9 841.8 652.6 841.8 652.4 841.7 652.1 841.7 651.9 841.7 651.6 841.7 651.4 841.6 651.1 841.6 650.8 841.6 650.6 841.6 650.3 841.6 650.1 841.6 649.8 841.5 649.6 841.5 649.3 841.5 649 841.5 648.8 841.5 648.5 841.4 648.3 841.4 648 841.4 647.8 841.4 647.5 841.4 647.2 841.4 647 841.3 646.7 841.3 646.5 841.3 646.2 841.3 646 841.3 645.7 841.3 645.4 841.2 645.2 841.2 644.9 841.2 644.7 841.2 644.4 841.2 644.2 841.2 643.9 841.2 643.7 841.1 643.4 841.1 643.1 841.1 642.9 841.1 642.6 841.1 642.4 841.1 642.1 841.1 641.9 841 641.6 841 641.3 841 641.1 841 640.8 841 640.6 841 640.3 841 640.1 841 639.8 841 639.5 840.9 639.3 840.9 639 840.9 638.8 840.9 638.5 840.9 638.3 840.9 638 840.9 637.8 840.9 637.5 840.9 637.2 840.9 637 840.8 636.7 840.8 636.5 840.8 636.2 840.8 636 840.8 635.7 840.8 635.4 840.8 635.2 840.8 634.9 840.8 634.7 840.8 634.4 840.8 634.2 840.8 633.9 840.8 633.6 840.8 633.4 840.8 633.1 840.7 632.9 840.7 632.6 840.7 632.4 840.7 632.1 840.7 631.8 840.7 631.6 840.7 631.3 840.7 631.1 840.7 630.8 840.7 630.6 840.7 630.3 840.7 630.1 840.7 629.8 840.7 629.5 840.7 629.3 840.7 629 840.7 628.8 840.7 628.5 840.7 628.3 840.7 628 840.7Z" fill="#0000ff" stroke="#0000ff" stroke-width="4.5" stroke-linejoin="round"/>
<path d="M660.2 835.1h0M662.7 850.9h0M665.8 869.1h0M664.5 859.9h0M668.8 845.9h0M646.7 841.3h0M668.6 808.3h0M668.6 870.4h0M668.7 828h0M666.7 872.4h0M668.6 812.5h0M668.7 853.5h0M643.4 839.5h0M659.3 836.4h0M643.1 839.5h0M668.8 834.2h0M665.1 864.9h0M637.1 840.8h0M668.7 833.7h0M663 828.2h0M664.4 821.1h0M668.8 837.8h0M668.7 858h0M662.2 849.6h0M635.2 840.8h0M665.4 866.2h0M665.6 813.2h0M663.8 856.1h0M668.7 824.8h0M666.1 810.1h0M631.8 840.7h0M668.7 848h0M650.9 839h0M668.8 841.7h0M667 806.4h0M668.8 838.8h0M665.1 817.3h0M668.7 822.9h0M668.7 855h0M666.4 872.5h0M667.3 806h0M639.9 839.7h0M668.6 808.8h0M649.1 841.4h0M667.3 804.5h0M643.8 841.1h0M652 838.9h0M668.8 844.1h0M665.5 814.2h0M646.8 839.3h0M668.6 808.5h0M663 828.3h0M660.4 834.9h0M668.6 818.3h0M635 839.8h0M633.9 839.8h0M668.6 871.2h0M668.6 816.2h0M668.8 843.2h0M668.6 809.4h0M668.7 849.6h0M665.6 866.2h0M668.6 862.7h0M668.5 807.9h0M663.3 853.9h0M668.6 809.2h0M635.4 840.8h0" stroke="#0000ff" stroke-opacity="0.4" stroke-width="6.4" stroke-linecap="round" fill="none"/>
<path d="M668.6 811.7h0M668.7 823.2h0M653.8 841.8h0M661.3 847.4h0M668.6 872.2h0M668.7 847.9h0M665.9 810.9h0M660.8 846.5h0M666 811.2h0M647.2 839.3h0M665.9 811.5h0M663.3 827.4h0M668.7 847.7h0M647.9 841.4h0M665.2 815.5h0M668.6 808.4h0M668.7 831.3h0M634 839.8h0M664.2 821.9h0M646.4 841.3h0M665.4 865.1h0M667.1 806.5h0M633 839.9h0M667.9 805.1h0M645.9 839.3h0M668.7 823.5h0M647.9 841.4h0M639.7 840.9h0M666.8 874.1h0M660.1 845.5h0M666.6 872.5h0M666 868.8h0M665.7 866.7h0M668.8 836.1h0M635.4 839.8h0M642.4 841h0M668.8 841h0M666.4 809.7h0M668.3 874.9h0M668.6 819.2h0M664.1 822.2h0M668.2 804.4h0M665.2 863.7h0M668.7 856h0M638.5 840.9h0M664.9 817.5h0M668.2 875.9h0M641.8 839.6h0M668.6 808.1h0M664.7 861.5h0M660.4 845.7h0M633.3 840.7h0M655 838.5h0M662.1 849.3h0M640.8 841h0M668.6 818.8h0M666.9 806.3h0M668.7 852.6h0M668.7 859.4h0M632.8 839.9h0M668.7 827h0M661.2 833.4h0M668.6 807.5h0M629.3 839.9h0M631.6 840.7h0M654.6 842h0M637.1 839.8h0" stroke="#0000ff" stroke-opacity="0.4" stroke-width="6.4" stroke-linecap="round" fill="none"/>
<path d="M666.3 871.4h0M668.7 850.9h0M668.8 844h0M641.1 841h0M635.4 839.8h0M635.8 839.8h0M664.8 819h0M667.1 873.7h0M665.2 864.3h0M660.6 834.3h0M640.2 840.9h0M653.5 841.8h0M668.6 868.1h0M668.7 855.5h0M668.5 873.7h0M639.1 839.7h0M655.8 842.3h0M668.7 856.5h0M659.1 843.9h0M663.7 855.8h0M638.9 840.9h0M666 869.6h0M666.3 870.9h0M668.8 834.1h0M661.5 847.9h0M668.6 813.9h0M664.9 817.8h0M668.7 849h0M653.5 841.9h0M668.3 804.5h0M665.8 867.7h0M668.6 862.6h0M660.1 845.3h0M653.3 841.8h0M665.6 814h0M668.6 813.8h0M663.2 827h0M668.6 820.4h0M661.4 833h0M668.7 822.7h0M636.7 839.8h0M662.9 828.6h0M663 828.2h0M656 838.3h0M668.8 836.6h0M668.7 822h0M663.2 853.5h0M647.8 839.2h0M666.1 810.2h0M634.7 839.8h0M668.8 836.4h0M629.2 839.9h0M668.8 845.4h0M654.8 842.1h0M668.6 865.6h0M662.9 828.5h0M639.2 839.7h0M639.4 840.9h0M666.6 807.2h0M651.4 838.9h0M650.5 839h0M647.3 839.3h0M635.1 839.8h0M637.9 840.9h0M665.1 816.5h0M668.6 869.8h0" stroke="#0000ff" stroke-opacity="0.4" stroke-width="6.4" stroke-linecap="round" fill="none"/>
<path d="M628 839.9 628.3 839.9 628.5 839.9 628.8 839.9 629 839.9 629.3 839.9 629.5 839.9 629.8 839.9 630.1 839.9 630.3 839.9 630.6 839.9 630.8 839.9 631.1 839.9 631.3 839.9 631.6 839.9 631.8 839.9 632.1 839.9 632.4 839.9 632.6 839.9 632.9 839.9 633.1 839.9 633.4 839.8 633.6 839.8 633.9 839.8 634.2 839.8 634.4 839.8 634.7 839.8 634.9 839.8 635.2 839.8 635.4 839.8 635.7 839.8 636 839.8 636.2 839.8 636.5 839.8 636.7 839.8 637 839.8 637.2 839.7 637.5 839.7 637.8 839.7 638 839.7 638.3 839.7 638.5 839.7 638.8 839.7 639 839.7 639.3 839.7 639.5 839.7 639.8 839.6 640.1 839.6 640.3 839.6 640.6 839.6 640.8 839.6 641.1 839.6 641.3 839.6 641.6 839.6 641.9 839.6 642.1 839.5 642.4 839.5 642.6 839.5 642.9 839.5 643.1 839.5 643.4 839.5 643.7 839.5 643.9 839.4 644.2 839.4 644.4 839.4 644.7 839.4 644.9 839.4 645.2 839.4 645.4 839.4 645.7 839.3 646 839.3 646.2 839.3 646.5 839.3 646.7 839.3 647 839.3 647.2 839.2 647.5 839.2 647.8 839.2 648 839.2 648.3 839.2 648.5 839.2 648.8 839.1 649 839.1 649.3 839.1 649.6 839.1 649.8 839.1 650.1 839 650.3 839 650.6 839 650.8 839 651.1 839 651.4 839 651.6 838.9 651.9 838.9 652.1 838.9 652.4 838.9 652.6 838.8 652.9 838.8 653.1 838.8 653.4 838.7 653.7 838.7 653.9 838.7 654.2 838.6 654.4 838.6 654.7 838.5 654.9 838.5 655.2 838.4 655.5 838.4 655.7 838.3 656 838.2 656.2 838.2 656.5 838.1 656.7 838 657 837.9 657.3 837.8 657.5 837.7 657.8 837.6 658 837.4 658.3 837.3 658.5 837.1 658.8 836.9 659 836.6 659.3 836.3 659.6 835.9 659.8 835.6 660.1 835.2 660.3 834.7 660.6 834.3 660.8 833.9 661.1 833.4 661.4 832.9 661.6 832.4 661.9 831.8 662.1 831.1 662.4 830.3 662.6 829.5 662.9 828.4 663.2 827.2 663.4 825.9 663.7 824.5 663.9 823 664.2 821.5 664.4 820.1 664.7 818.5 665 816.9 665.2 815.2 665.5 813.5 665.7 811.9 666 810.4 666.2 809 666.5 807.6 666.7 806.3 667 805.2 667.3 804.4 667.5 803.9 667.8 803.6 668 803.5 668.3 803.8 668.5 805.6 668.8 840.3 668.8 840.3 668.5 875 668.3 876.8 668 877.1 667.8 877 667.5 876.7 667.3 876.2 667 875.4 666.7 874.3 666.5 873 666.2 871.6 666 870.2 665.7 868.7 665.5 867.1 665.2 865.4 665 863.7 664.7 862.1 664.4 860.5 664.2 859.1 663.9 857.6 663.7 856.1 663.4 854.7 663.2 853.4 662.9 852.2 662.6 851.1 662.4 850.3 662.1 849.5 661.9 848.8 661.6 848.2 661.4 847.7 661.1 847.2 660.8 846.7 660.6 846.3 660.3 845.9 660.1 845.4 659.8 845 659.6 844.7 659.3 844.3 659 844 658.8 843.7 658.5 843.5 658.3 843.3 658 843.2 657.8 843 657.5 842.9 657.3 842.8 657 842.7 656.7 842.6 656.5 842.5 656.2 842.4 656 842.4 655.7 842.3 655.5 842.2 655.2 842.2 654.9 842.1 654.7 842.1 654.4 842 654.2 842 653.9 841.9 653.7 841.9 653.4 841.9 653.1 841.8 652.9 841.8 652.6 841.8 652.4 841.7 652.1 841.7 651.9 841.7 651.6 841.7 651.4 841.6 651.1 841.6 650.8 841.6 650.6 841.6 650.3 841.6 650.1 841.6 649.8 841.5 649.6 841.5 649.3 841.5 649 841.5 648.8 841.5 648.5 841.4 648.3 841.4 648 841.4 647.8 841.4 647.5 841.4 647.2 841.4 647 841.3 646.7 841.3 646.5 841.3 646.2 841.3 646 841.3 645.7 841.3 645.4 841.2 645.2 841.2 644.9 841.2 644.7 841.2 644.4 841.2 644.2 841.2 643.9 841.2 643.7 841.1 643.4 841.1 643.1 841.1 642.9 841.1 642.6 841.1 642.4 841.1 642.1 841.1 641.9 841 641.6 841 641.3 841 641.1 841 640.8 841 640.6 841 640.3 841 640.1 841 639.8 841 639.5 840.9 639.3 840.9 639 840.9 638.8 840.9 638.5 840.9 638.3 840.9 638 840.9 637.8 840.9 637.5 840.9 637.2 840.9 637 840.8 636.7 840.8 636.5 840.8 636.2 840.8 636 840.8 635.7 840.8 635.4 840.8 635.2 840.8 634.9 840.8 634.7 840.8 634.4 840.8 634.2 840.8 633.9 840.8 633.6 840.8 633.4 840.8 633.1 840.7 632.9 840.7 632.6 840.7 632.4 840.7 632.1 840.7 631.8 840.7 631.6 840.7 631.3 840.7 631.1 840.7 630.8 840.7 630.6 840.7 630.3 840.7 630.1 840.7 629.8 840.7 629.5 840.7 629.3 840.7 629 840.7 628.8 840.7 628.5 840.7 628.3 840.7 628 840.7Z" fill="none" stroke="#7474cc" stroke-width="0.8" stroke-linejoin="round"/>
<line x1="399" y1="840.3" x2="669.6" y2="840.3" stroke="#8a8a8a" stroke-width="0.6"/>
<circle cx="665.6" cy="840.3" r="3.3" fill="#fff" stroke="#808080" stroke-width="0.5"/>
<g fill="#ff0000" fill-opacity="0.3"><circle cx="557.4" cy="716.3" r="3.2"/><circle cx="565" cy="716.3" r="3.2"/><circle cx="579.6" cy="716.3" r="3.2"/><circle cx="592" cy="716.3" r="3.2"/><circle cx="613" cy="716.3" r="3.2"/><circle cx="613.4" cy="716.3" r="3.2"/><circle cx="620" cy="716.3" r="3.2"/><circle cx="620.6" cy="716.3" r="3.2"/><circle cx="625" cy="716.3" r="3.2"/><circle cx="629" cy="716.3" r="3.2"/><circle cx="629.5" cy="716.3" r="3.2"/><circle cx="630.9" cy="716.1" r="3.2"/><circle cx="632.5" cy="715.8" r="3.2"/><circle cx="630.6" cy="716.2" r="3.2"/><circle cx="632.1" cy="716.6" r="3.2"/><circle cx="633.4" cy="716.2" r="3.2"/></g>
<path d="M634 715.9 634.2 715.9 634.4 715.9 634.6 715.9 634.8 715.9 635.1 715.9 635.3 715.9 635.5 715.9 635.7 715.9 635.9 715.9 636.1 715.9 636.3 715.9 636.5 715.9 636.7 715.9 636.9 715.9 637.2 715.9 637.4 715.9 637.6 715.9 637.8 715.9 638 715.8 638.2 715.8 638.4 715.8 638.6 715.8 638.8 715.8 639 715.8 639.3 715.8 639.5 715.8 639.7 715.8 639.9 715.8 640.1 715.8 640.3 715.8 640.5 715.8 640.7 715.7 640.9 715.7 641.1 715.7 641.4 715.7 641.6 715.7 641.8 715.7 642 715.7 642.2 715.7 642.4 715.7 642.6 715.7 642.8 715.6 643 715.6 643.2 715.6 643.5 715.6 643.7 715.6 643.9 715.6 644.1 715.6 644.3 715.6 644.5 715.5 644.7 715.5 644.9 715.5 645.1 715.5 645.3 715.5 645.6 715.5 645.8 715.5 646 715.4 646.2 715.4 646.4 715.4 646.6 715.4 646.8 715.4 647 715.4 647.2 715.3 647.4 715.3 647.7 715.3 647.9 715.3 648.1 715.3 648.3 715.3 648.5 715.2 648.7 715.2 648.9 715.2 649.1 715.2 649.3 715.2 649.5 715.1 649.8 715.1 650 715.1 650.2 715.1 650.4 715.1 650.6 715 650.8 715 651 715 651.2 715 651.4 714.9 651.6 714.9 651.9 714.9 652.1 714.8 652.3 714.8 652.5 714.7 652.7 714.7 652.9 714.6 653.1 714.6 653.3 714.5 653.5 714.5 653.7 714.4 654 714.4 654.2 714.3 654.4 714.2 654.6 714.2 654.8 714.1 655 714 655.2 714 655.4 713.9 655.6 713.8 655.8 713.7 656.1 713.6 656.3 713.5 656.5 713.4 656.7 713.3 656.9 713.2 657.1 713 657.3 712.8 657.5 712.5 657.7 712.3 657.9 712 658.2 711.7 658.4 711.3 658.6 711 658.8 710.6 659 710.3 659.2 710 659.4 709.6 659.6 709.2 659.8 708.9 660 708.4 660.3 708 660.5 707.6 660.7 707.1 660.9 706.6 661.1 706 661.3 705.5 661.5 704.9 661.7 704.3 661.9 703.6 662.1 702.9 662.4 702.2 662.6 701.4 662.8 700.6 663 699.7 663.2 698.7 663.4 697.8 663.6 696.7 663.8 695.6 664 694.3 664.2 692.8 664.5 691.1 664.7 689.3 664.9 687.4 665.1 685.3 665.3 682.1 665.5 679.6 665.7 679.3 665.9 679.2 666.1 679.2 666.3 679.1 666.6 679.1 666.8 679.1 667 679.1 667.2 679.1 667.4 716.3 667.4 716.3 667.2 753.5 667 753.5 666.8 753.5 666.6 753.5 666.3 753.5 666.1 753.4 665.9 753.4 665.7 753.3 665.5 753 665.3 750.5 665.1 747.3 664.9 745.2 664.7 743.3 664.5 741.5 664.2 739.8 664 738.3 663.8 737 663.6 735.9 663.4 734.8 663.2 733.9 663 732.9 662.8 732 662.6 731.2 662.4 730.4 662.1 729.7 661.9 729 661.7 728.3 661.5 727.7 661.3 727.1 661.1 726.6 660.9 726 660.7 725.5 660.5 725 660.3 724.6 660 724.2 659.8 723.7 659.6 723.4 659.4 723 659.2 722.6 659 722.3 658.8 722 658.6 721.6 658.4 721.3 658.2 720.9 657.9 720.6 657.7 720.3 657.5 720.1 657.3 719.8 657.1 719.6 656.9 719.4 656.7 719.3 656.5 719.2 656.3 719.1 656.1 719 655.8 718.9 655.6 718.8 655.4 718.7 655.2 718.6 655 718.6 654.8 718.5 654.6 718.4 654.4 718.4 654.2 718.3 654 718.2 653.7 718.2 653.5 718.1 653.3 718.1 653.1 718 652.9 718 652.7 717.9 652.5 717.9 652.3 717.8 652.1 717.8 651.9 717.7 651.6 717.7 651.4 717.7 651.2 717.6 651 717.6 650.8 717.6 650.6 717.6 650.4 717.5 650.2 717.5 650 717.5 649.8 717.5 649.5 717.5 649.3 717.4 649.1 717.4 648.9 717.4 648.7 717.4 648.5 717.4 648.3 717.3 648.1 717.3 647.9 717.3 647.7 717.3 647.4 717.3 647.2 717.3 647 717.2 646.8 717.2 646.6 717.2 646.4 717.2 646.2 717.2 646 717.2 645.8 717.1 645.6 717.1 645.3 717.1 645.1 717.1 644.9 717.1 644.7 717.1 644.5 717.1 644.3 717 644.1 717 643.9 717 643.7 717 643.5 717 643.2 717 643 717 642.8 717 642.6 716.9 642.4 716.9 642.2 716.9 642 716.9 641.8 716.9 641.6 716.9 641.4 716.9 641.1 716.9 640.9 716.9 640.7 716.9 640.5 716.8 640.3 716.8 640.1 716.8 639.9 716.8 639.7 716.8 639.5 716.8 639.3 716.8 639 716.8 638.8 716.8 638.6 716.8 638.4 716.8 638.2 716.8 638 716.8 637.8 716.7 637.6 716.7 637.4 716.7 637.2 716.7 636.9 716.7 636.7 716.7 636.5 716.7 636.3 716.7 636.1 716.7 635.9 716.7 635.7 716.7 635.5 716.7 635.3 716.7 635.1 716.7 634.8 716.7 634.6 716.7 634.4 716.7 634.2 716.7 634 716.7Z" fill="#ff0000" stroke="#ff0000" stroke-width="5.9" stroke-opacity="0.35" stroke-linejoin="round"/>
<path d="M634 715.9 634.2 715.9 634.4 715.9 634.6 715.9 634.8 715.9 635.1 715.9 635.3 715.9 635.5 715.9 635.7 715.9 635.9 715.9 636.1 715.9 636.3 715.9 636.5 715.9 636.7 715.9 636.9 715.9 637.2 715.9 637.4 715.9 637.6 715.9 637.8 715.9 638 715.8 638.2 715.8 638.4 715.8 638.6 715.8 638.8 715.8 639 715.8 639.3 715.8 639.5 715.8 639.7 715.8 639.9 715.8 640.1 715.8 640.3 715.8 640.5 715.8 640.7 715.7 640.9 715.7 641.1 715.7 641.4 715.7 641.6 715.7 641.8 715.7 642 715.7 642.2 715.7 642.4 715.7 642.6 715.7 642.8 715.6 643 715.6 643.2 715.6 643.5 715.6 643.7 715.6 643.9 715.6 644.1 715.6 644.3 715.6 644.5 715.5 644.7 715.5 644.9 715.5 645.1 715.5 645.3 715.5 645.6 715.5 645.8 715.5 646 715.4 646.2 715.4 646.4 715.4 646.6 715.4 646.8 715.4 647 715.4 647.2 715.3 647.4 715.3 647.7 715.3 647.9 715.3 648.1 715.3 648.3 715.3 648.5 715.2 648.7 715.2 648.9 715.2 649.1 715.2 649.3 715.2 649.5 715.1 649.8 715.1 650 715.1 650.2 715.1 650.4 715.1 650.6 715 650.8 715 651 715 651.2 715 651.4 714.9 651.6 714.9 651.9 714.9 652.1 714.8 652.3 714.8 652.5 714.7 652.7 714.7 652.9 714.6 653.1 714.6 653.3 714.5 653.5 714.5 653.7 714.4 654 714.4 654.2 714.3 654.4 714.2 654.6 714.2 654.8 714.1 655 714 655.2 714 655.4 713.9 655.6 713.8 655.8 713.7 656.1 713.6 656.3 713.5 656.5 713.4 656.7 713.3 656.9 713.2 657.1 713 657.3 712.8 657.5 712.5 657.7 712.3 657.9 712 658.2 711.7 658.4 711.3 658.6 711 658.8 710.6 659 710.3 659.2 710 659.4 709.6 659.6 709.2 659.8 708.9 660 708.4 660.3 708 660.5 707.6 660.7 707.1 660.9 706.6 661.1 706 661.3 705.5 661.5 704.9 661.7 704.3 661.9 703.6 662.1 702.9 662.4 702.2 662.6 701.4 662.8 700.6 663 699.7 663.2 698.7 663.4 697.8 663.6 696.7 663.8 695.6 664 694.3 664.2 692.8 664.5 691.1 664.7 689.3 664.9 687.4 665.1 685.3 665.3 682.1 665.5 679.6 665.7 679.3 665.9 679.2 666.1 679.2 666.3 679.1 666.6 679.1 666.8 679.1 667 679.1 667.2 679.1 667.4 716.3 667.4 716.3 667.2 753.5 667 753.5 666.8 753.5 666.6 753.5 666.3 753.5 666.1 753.4 665.9 753.4 665.7 753.3 665.5 753 665.3 750.5 665.1 747.3 664.9 745.2 664.7 743.3 664.5 741.5 664.2 739.8 664 738.3 663.8 737 663.6 735.9 663.4 734.8 663.2 733.9 663 732.9 662.8 732 662.6 731.2 662.4 730.4 662.1 729.7 661.9 729 661.7 728.3 661.5 727.7 661.3 727.1 661.1 726.6 660.9 726 660.7 725.5 660.5 725 660.3 724.6 660 724.2 659.8 723.7 659.6 723.4 659.4 723 659.2 722.6 659 722.3 658.8 722 658.6 721.6 658.4 721.3 658.2 720.9 657.9 720.6 657.7 720.3 657.5 720.1 657.3 719.8 657.1 719.6 656.9 719.4 656.7 719.3 656.5 719.2 656.3 719.1 656.1 719 655.8 718.9 655.6 718.8 655.4 718.7 655.2 718.6 655 718.6 654.8 718.5 654.6 718.4 654.4 718.4 654.2 718.3 654 718.2 653.7 718.2 653.5 718.1 653.3 718.1 653.1 718 652.9 718 652.7 717.9 652.5 717.9 652.3 717.8 652.1 717.8 651.9 717.7 651.6 717.7 651.4 717.7 651.2 717.6 651 717.6 650.8 717.6 650.6 717.6 650.4 717.5 650.2 717.5 650 717.5 649.8 717.5 649.5 717.5 649.3 717.4 649.1 717.4 648.9 717.4 648.7 717.4 648.5 717.4 648.3 717.3 648.1 717.3 647.9 717.3 647.7 717.3 647.4 717.3 647.2 717.3 647 717.2 646.8 717.2 646.6 717.2 646.4 717.2 646.2 717.2 646 717.2 645.8 717.1 645.6 717.1 645.3 717.1 645.1 717.1 644.9 717.1 644.7 717.1 644.5 717.1 644.3 717 644.1 717 643.9 717 643.7 717 643.5 717 643.2 717 643 717 642.8 717 642.6 716.9 642.4 716.9 642.2 716.9 642 716.9 641.8 716.9 641.6 716.9 641.4 716.9 641.1 716.9 640.9 716.9 640.7 716.9 640.5 716.8 640.3 716.8 640.1 716.8 639.9 716.8 639.7 716.8 639.5 716.8 639.3 716.8 639 716.8 638.8 716.8 638.6 716.8 638.4 716.8 638.2 716.8 638 716.8 637.8 716.7 637.6 716.7 637.4 716.7 637.2 716.7 636.9 716.7 636.7 716.7 636.5 716.7 636.3 716.7 636.1 716.7 635.9 716.7 635.7 716.7 635.5 716.7 635.3 716.7 635.1 716.7 634.8 716.7 634.6 716.7 634.4 716.7 634.2 716.7 634 716.7Z" fill="#ff0000" stroke="#ff0000" stroke-width="4.5" stroke-linejoin="round"/>
<path d="M667.3 737.5h0M660.3 724.6h0M664.8 689.3h0M667.3 737.5h0M655.8 713.9h0M667.3 729.2h0M665.3 684h0M659.5 709.7h0M663.4 698.5h0M667.3 738h0M638.3 716.7h0M662.6 730.7h0M657.8 712.1h0M667.3 725h0M664 738.2h0M667.4 715h0M667.2 750h0M667.3 729.8h0M643.8 717h0M667.3 732.3h0M667.2 745.1h0M667.3 729.1h0M665.5 751.4h0M663 700.4h0M648.1 715.3h0M667.3 706.8h0M636.3 716.7h0M666.7 681h0M664.3 693.2h0M644.2 717h0M665.1 746.6h0M667.3 728.3h0M667.3 698.7h0M656.1 718.9h0M651.1 715.1h0M667.2 749.9h0M667.3 726.4h0M667.2 686.9h0M667.3 698.7h0M663.9 736.9h0M656.9 719.4h0M665.1 686.4h0M661.3 706h0M664.9 688.1h0M664.6 691.3h0M667.3 740.7h0M646.8 715.4h0M649.3 715.2h0M667.4 710.9h0M637 716.7h0M645.3 715.5h0M652.1 714.9h0M666.8 679.6h0M659.9 723.6h0M651.5 717.7h0M667.4 720.7h0M665.2 747.7h0M667.2 745.4h0M664.3 739.3h0M664.6 742h0M653.5 714.6h0M667.4 715.7h0M667.3 736.7h0M667.4 721.9h0M663.8 735.8h0M637.1 715.9h0M667.3 699.2h0" stroke="#ff0000" stroke-opacity="0.4" stroke-width="6.4" stroke-linecap="round" fill="none"/>
<path d="M662.9 732.5h0M642.4 716.9h0M667.3 735.9h0M662.7 731.5h0M664.3 738.9h0M667.4 716.1h0M659.7 723.3h0M667.3 704.2h0M655.7 718.7h0M653.7 718h0M667.4 708h0M667.4 723.7h0M665.2 683.9h0M667.4 713.5h0M663.6 697.3h0M640 716.8h0M664.3 692.6h0M646.5 715.4h0M663.1 732.6h0M647.8 717.3h0M650.8 717.5h0M636.3 715.9h0M663.1 732.3h0M667.3 725.9h0M665.2 748.8h0M649.5 715.1h0M658.4 721.3h0M667.4 724.2h0M644 717h0M667.4 723.5h0M662.4 730.4h0M667.3 693.3h0M662.7 731.3h0M663.6 697.4h0M667.2 687.7h0M665 686.8h0M667.2 688.6h0M664.9 743.7h0M649.3 717.4h0M667.4 709.1h0M667.4 716.3h0M650.2 715.1h0M652.5 717.8h0M664.7 742.9h0M656.9 713.3h0M667.3 707.7h0M667.4 719.8h0M667.2 688.3h0M665.5 750.9h0M667.3 740.6h0M667.3 692.3h0M665.7 752.8h0M645.5 717.1h0M667.2 750.9h0M667.4 720.3h0M667.3 703.2h0M637 716.7h0M665.4 681.6h0M662.8 732h0M666 681.2h0M651.8 717.7h0M667.4 718.7h0M645.7 717.1h0M660 708.6h0M667.3 694h0M667.2 682.5h0M667.4 723.8h0" stroke="#ff0000" stroke-opacity="0.4" stroke-width="6.4" stroke-linecap="round" fill="none"/>
<path d="M665.1 686.1h0M667.3 695h0M667.3 696.5h0M659.9 709h0M665.7 680.1h0M667.3 741.8h0M665.4 682.6h0M656 718.9h0M655.1 714.1h0M661 725.9h0M667.3 725.9h0M656.1 718.9h0M655 718.5h0M645.9 717.1h0M667.4 715.3h0M667.4 712.1h0M663.9 737.1h0M663.1 699.9h0M667.3 735.4h0M657.6 712.5h0M638.8 716.8h0M667.3 706.3h0M660.2 724.3h0M665.3 683.1h0M660.7 725.3h0M664.6 690.3h0M667.2 743.8h0M649.1 715.2h0M667.2 688.3h0M664.5 742.1h0M663.1 733.3h0M662.9 700.5h0M641.8 715.7h0M663.9 737.7h0M656.9 719.3h0M667.2 749h0M666.8 752.6h0M667.4 717h0M649.1 715.2h0M647.9 717.3h0M667.3 692.3h0M637.1 715.9h0M667.3 727.2h0M666.6 753.1h0M667.3 691.4h0M664.5 741.4h0M635.5 716.7h0M667.3 703h0M659.1 710.2h0M667.2 682.5h0M667.4 711.5h0M663.5 734.9h0M667.3 726h0M656.6 719.1h0M658.1 720.8h0M665.2 747.8h0M667.3 694.5h0M667.3 698.2h0M667.3 692.1h0M648.9 717.4h0M667.3 698.2h0M665.2 747.1h0M661.3 727h0M649.4 715.2h0M667.4 715.1h0M667.3 700.8h0" stroke="#ff0000" stroke-opacity="0.4" stroke-width="6.4" stroke-linecap="round" fill="none"/>
<path d="M634 715.9 634.2 715.9 634.4 715.9 634.6 715.9 634.8 715.9 635.1 715.9 635.3 715.9 635.5 715.9 635.7 715.9 635.9 715.9 636.1 715.9 636.3 715.9 636.5 715.9 636.7 715.9 636.9 715.9 637.2 715.9 637.4 715.9 637.6 715.9 637.8 715.9 638 715.8 638.2 715.8 638.4 715.8 638.6 715.8 638.8 715.8 639 715.8 639.3 715.8 639.5 715.8 639.7 715.8 639.9 715.8 640.1 715.8 640.3 715.8 640.5 715.8 640.7 715.7 640.9 715.7 641.1 715.7 641.4 715.7 641.6 715.7 641.8 715.7 642 715.7 642.2 715.7 642.4 715.7 642.6 715.7 642.8 715.6 643 715.6 643.2 715.6 643.5 715.6 643.7 715.6 643.9 715.6 644.1 715.6 644.3 715.6 644.5 715.5 644.7 715.5 644.9 715.5 645.1 715.5 645.3 715.5 645.6 715.5 645.8 715.5 646 715.4 646.2 715.4 646.4 715.4 646.6 715.4 646.8 715.4 647 715.4 647.2 715.3 647.4 715.3 647.7 715.3 647.9 715.3 648.1 715.3 648.3 715.3 648.5 715.2 648.7 715.2 648.9 715.2 649.1 715.2 649.3 715.2 649.5 715.1 649.8 715.1 650 715.1 650.2 715.1 650.4 715.1 650.6 715 650.8 715 651 715 651.2 715 651.4 714.9 651.6 714.9 651.9 714.9 652.1 714.8 652.3 714.8 652.5 714.7 652.7 714.7 652.9 714.6 653.1 714.6 653.3 714.5 653.5 714.5 653.7 714.4 654 714.4 654.2 714.3 654.4 714.2 654.6 714.2 654.8 714.1 655 714 655.2 714 655.4 713.9 655.6 713.8 655.8 713.7 656.1 713.6 656.3 713.5 656.5 713.4 656.7 713.3 656.9 713.2 657.1 713 657.3 712.8 657.5 712.5 657.7 712.3 657.9 712 658.2 711.7 658.4 711.3 658.6 711 658.8 710.6 659 710.3 659.2 710 659.4 709.6 659.6 709.2 659.8 708.9 660 708.4 660.3 708 660.5 707.6 660.7 707.1 660.9 706.6 661.1 706 661.3 705.5 661.5 704.9 661.7 704.3 661.9 703.6 662.1 702.9 662.4 702.2 662.6 701.4 662.8 700.6 663 699.7 663.2 698.7 663.4 697.8 663.6 696.7 663.8 695.6 664 694.3 664.2 692.8 664.5 691.1 664.7 689.3 664.9 687.4 665.1 685.3 665.3 682.1 665.5 679.6 665.7 679.3 665.9 679.2 666.1 679.2 666.3 679.1 666.6 679.1 666.8 679.1 667 679.1 667.2 679.1 667.4 716.3 667.4 716.3 667.2 753.5 667 753.5 666.8 753.5 666.6 753.5 666.3 753.5 666.1 753.4 665.9 753.4 665.7 753.3 665.5 753 665.3 750.5 665.1 747.3 664.9 745.2 664.7 743.3 664.5 741.5 664.2 739.8 664 738.3 663.8 737 663.6 735.9 663.4 734.8 663.2 733.9 663 732.9 662.8 732 662.6 731.2 662.4 730.4 662.1 729.7 661.9 729 661.7 728.3 661.5 727.7 661.3 727.1 661.1 726.6 660.9 726 660.7 725.5 660.5 725 660.3 724.6 660 724.2 659.8 723.7 659.6 723.4 659.4 723 659.2 722.6 659 722.3 658.8 722 658.6 721.6 658.4 721.3 658.2 720.9 657.9 720.6 657.7 720.3 657.5 720.1 657.3 719.8 657.1 719.6 656.9 719.4 656.7 719.3 656.5 719.2 656.3 719.1 656.1 719 655.8 718.9 655.6 718.8 655.4 718.7 655.2 718.6 655 718.6 654.8 718.5 654.6 718.4 654.4 718.4 654.2 718.3 654 718.2 653.7 718.2 653.5 718.1 653.3 718.1 653.1 718 652.9 718 652.7 717.9 652.5 717.9 652.3 717.8 652.1 717.8 651.9 717.7 651.6 717.7 651.4 717.7 651.2 717.6 651 717.6 650.8 717.6 650.6 717.6 650.4 717.5 650.2 717.5 650 717.5 649.8 717.5 649.5 717.5 649.3 717.4 649.1 717.4 648.9 717.4 648.7 717.4 648.5 717.4 648.3 717.3 648.1 717.3 647.9 717.3 647.7 717.3 647.4 717.3 647.2 717.3 647 717.2 646.8 717.2 646.6 717.2 646.4 717.2 646.2 717.2 646 717.2 645.8 717.1 645.6 717.1 645.3 717.1 645.1 717.1 644.9 717.1 644.7 717.1 644.5 717.1 644.3 717 644.1 717 643.9 717 643.7 717 643.5 717 643.2 717 643 717 642.8 717 642.6 716.9 642.4 716.9 642.2 716.9 642 716.9 641.8 716.9 641.6 716.9 641.4 716.9 641.1 716.9 640.9 716.9 640.7 716.9 640.5 716.8 640.3 716.8 640.1 716.8 639.9 716.8 639.7 716.8 639.5 716.8 639.3 716.8 639 716.8 638.8 716.8 638.6 716.8 638.4 716.8 638.2 716.8 638 716.8 637.8 716.7 637.6 716.7 637.4 716.7 637.2 716.7 636.9 716.7 636.7 716.7 636.5 716.7 636.3 716.7 636.1 716.7 635.9 716.7 635.7 716.7 635.5 716.7 635.3 716.7 635.1 716.7 634.8 716.7 634.6 716.7 634.4 716.7 634.2 716.7 634 716.7Z" fill="none" stroke="#d48484" stroke-width="0.8" stroke-linejoin="round"/>
<line x1="557.4" y1="716.3" x2="668.4" y2="716.3" stroke="#8a8a8a" stroke-width="0.6"/>
<circle cx="665.4" cy="716.3" r="3.3" fill="#fff" stroke="#808080" stroke-width="0.5"/>
<path d="M395.8 575.8H669" fill="none" stroke="#cdcdcd" stroke-width="1.4"/>
<path d="M668.4 575.8V327.8" fill="none" stroke="#b0b0b0" stroke-width="1.1"/>
<path d="M668.5 575.8v-3M629.6 575.8v-3M590.7 575.8v-3M551.9 575.8v-3M513 575.8v-3M474.2 575.8v-3M435.3 575.8v-3M396.4 575.8v-3M668.5 513.8h-3M668.5 389.8h-3" fill="none" stroke="#a6a6a6" stroke-width="1"/>
<text transform="translate(672.8,580.7) rotate(-90)" text-anchor="end" font-size="11.0">0</text>
<text transform="translate(633.9,580.7) rotate(-90)" text-anchor="end" font-size="11.0">1</text>
<text transform="translate(595,580.7) rotate(-90)" text-anchor="end" font-size="11.0">2</text>
<text transform="translate(556.2,580.7) rotate(-90)" text-anchor="end" font-size="11.0">3</text>
<text transform="translate(517.3,580.7) rotate(-90)" text-anchor="end" font-size="11.0">4</text>
<text transform="translate(478.5,580.7) rotate(-90)" text-anchor="end" font-size="11.0">5</text>
<text transform="translate(439.6,580.7) rotate(-90)" text-anchor="end" font-size="11.0">6</text>
<text transform="translate(400.8,580.7) rotate(-90)" text-anchor="end" font-size="11.0">7</text>
<text transform="translate(683.2,513.8) rotate(-90)" text-anchor="middle" font-size="11.0">POST</text>
<text transform="translate(683.2,389.8) rotate(-90)" text-anchor="middle" font-size="11.0">PRE Resected</text>
<text transform="translate(533.1,594.3) rotate(180)" text-anchor="middle" font-size="12.1">strength per channel</text>
<text transform="translate(390.9,451.5) rotate(-90)" text-anchor="middle" font-size="13.8" font-weight="bold" fill="#000">sdDTF</text>
<text transform="translate(394.4,574.8) rotate(-90)" font-size="11.0"><tspan font-size="10.5" fill="#777">×</tspan>10<tspan font-size="8.8" dy="-5.4" dx="0.3">-3</tspan></text>
<g fill="#0000ff" fill-opacity="0.3"><circle cx="432" cy="513.8" r="3.2"/><circle cx="441" cy="513.8" r="3.2"/><circle cx="509" cy="513.8" r="3.2"/><circle cx="576" cy="513.8" r="3.2"/><circle cx="584.4" cy="513.8" r="3.2"/><circle cx="585" cy="513.8" r="3.2"/><circle cx="586.4" cy="513.8" r="3.2"/><circle cx="590.4" cy="513.8" r="3.2"/><circle cx="595" cy="513.8" r="3.2"/><circle cx="596" cy="513.8" r="3.2"/><circle cx="597" cy="513.8" r="3.2"/><circle cx="608.6" cy="513.8" r="3.2"/><circle cx="615" cy="513.8" r="3.2"/><circle cx="616" cy="513.8" r="3.2"/><circle cx="617" cy="513.8" r="3.2"/><circle cx="618" cy="513.8" r="3.2"/><circle cx="619" cy="513.8" r="3.2"/><circle cx="620" cy="513.8" r="3.2"/><circle cx="621" cy="513.8" r="3.2"/><circle cx="626" cy="513.8" r="3.2"/><circle cx="630" cy="513.8" r="3.2"/><circle cx="630.5" cy="513.8" r="3.2"/><circle cx="631" cy="513.8" r="3.2"/><circle cx="631.4" cy="513.8" r="3.2"/><circle cx="632" cy="513.8" r="3.2"/><circle cx="638" cy="513.8" r="3.2"/><circle cx="638.6" cy="513.8" r="3.2"/></g>
<path d="M640 513.4 640.2 513.4 640.4 513.4 640.6 513.4 640.7 513.4 640.9 513.4 641.1 513.4 641.3 513.4 641.5 513.4 641.7 513.4 641.8 513.4 642 513.4 642.2 513.4 642.4 513.4 642.6 513.4 642.8 513.4 642.9 513.4 643.1 513.4 643.3 513.4 643.5 513.4 643.7 513.4 643.9 513.4 644.1 513.4 644.2 513.3 644.4 513.3 644.6 513.3 644.8 513.3 645 513.3 645.2 513.3 645.3 513.3 645.5 513.3 645.7 513.3 645.9 513.3 646.1 513.3 646.3 513.3 646.4 513.3 646.6 513.3 646.8 513.3 647 513.3 647.2 513.2 647.4 513.2 647.6 513.2 647.7 513.2 647.9 513.2 648.1 513.2 648.3 513.2 648.5 513.2 648.7 513.2 648.8 513.2 649 513.2 649.2 513.1 649.4 513.1 649.6 513.1 649.8 513.1 650 513.1 650.1 513.1 650.3 513.1 650.5 513.1 650.7 513.1 650.9 513 651.1 513 651.2 513 651.4 513 651.6 513 651.8 513 652 513 652.2 512.9 652.3 512.9 652.5 512.9 652.7 512.9 652.9 512.9 653.1 512.9 653.3 512.9 653.5 512.8 653.6 512.8 653.8 512.8 654 512.8 654.2 512.8 654.4 512.8 654.6 512.7 654.7 512.7 654.9 512.7 655.1 512.7 655.3 512.7 655.5 512.7 655.7 512.6 655.8 512.6 656 512.6 656.2 512.6 656.4 512.5 656.6 512.5 656.8 512.5 657 512.4 657.1 512.4 657.3 512.3 657.5 512.3 657.7 512.2 657.9 512.1 658.1 512 658.2 512 658.4 511.9 658.6 511.8 658.8 511.7 659 511.6 659.2 511.5 659.3 511.4 659.5 511.3 659.7 511.2 659.9 511 660.1 510.8 660.3 510.6 660.5 510.4 660.6 510.2 660.8 509.9 661 509.6 661.2 509.3 661.4 509 661.6 508.6 661.7 508.1 661.9 507.7 662.1 507.2 662.3 506.7 662.5 506.1 662.7 505.6 662.9 505 663 504.4 663.2 503.7 663.4 503.1 663.6 502.3 663.8 501.5 664 500.6 664.1 499.7 664.3 498.7 664.5 497.7 664.7 496.7 664.9 495.7 665.1 494.6 665.2 493.5 665.4 492.4 665.6 491.1 665.8 489.8 666 488.5 666.2 487.2 666.4 485.9 666.5 484.7 666.7 483.7 666.9 482.7 667.1 481.6 667.3 480.6 667.5 479.6 667.6 478.8 667.8 478.2 668 477.8 668.2 477.5 668.4 477.3 668.6 477.3 668.7 477.4 668.9 477.7 669.1 485.3 669.3 513.8 669.3 513.8 669.1 542.3 668.9 549.9 668.7 550.2 668.6 550.3 668.4 550.3 668.2 550.1 668 549.8 667.8 549.4 667.6 548.8 667.5 548 667.3 547 667.1 546 666.9 544.9 666.7 543.9 666.5 542.9 666.4 541.7 666.2 540.4 666 539.1 665.8 537.8 665.6 536.5 665.4 535.2 665.2 534.1 665.1 533 664.9 531.9 664.7 530.9 664.5 529.9 664.3 528.9 664.1 527.9 664 527 663.8 526.1 663.6 525.3 663.4 524.5 663.2 523.9 663 523.2 662.9 522.6 662.7 522 662.5 521.5 662.3 520.9 662.1 520.4 661.9 519.9 661.7 519.5 661.6 519 661.4 518.6 661.2 518.3 661 518 660.8 517.7 660.6 517.4 660.5 517.2 660.3 517 660.1 516.8 659.9 516.6 659.7 516.4 659.5 516.3 659.3 516.2 659.2 516.1 659 516 658.8 515.9 658.6 515.8 658.4 515.7 658.2 515.6 658.1 515.6 657.9 515.5 657.7 515.4 657.5 515.3 657.3 515.3 657.1 515.2 657 515.2 656.8 515.1 656.6 515.1 656.4 515.1 656.2 515 656 515 655.8 515 655.7 515 655.5 514.9 655.3 514.9 655.1 514.9 654.9 514.9 654.7 514.9 654.6 514.9 654.4 514.8 654.2 514.8 654 514.8 653.8 514.8 653.6 514.8 653.5 514.8 653.3 514.7 653.1 514.7 652.9 514.7 652.7 514.7 652.5 514.7 652.3 514.7 652.2 514.7 652 514.6 651.8 514.6 651.6 514.6 651.4 514.6 651.2 514.6 651.1 514.6 650.9 514.6 650.7 514.5 650.5 514.5 650.3 514.5 650.1 514.5 650 514.5 649.8 514.5 649.6 514.5 649.4 514.5 649.2 514.5 649 514.4 648.8 514.4 648.7 514.4 648.5 514.4 648.3 514.4 648.1 514.4 647.9 514.4 647.7 514.4 647.6 514.4 647.4 514.4 647.2 514.4 647 514.3 646.8 514.3 646.6 514.3 646.4 514.3 646.3 514.3 646.1 514.3 645.9 514.3 645.7 514.3 645.5 514.3 645.3 514.3 645.2 514.3 645 514.3 644.8 514.3 644.6 514.3 644.4 514.3 644.2 514.3 644.1 514.2 643.9 514.2 643.7 514.2 643.5 514.2 643.3 514.2 643.1 514.2 642.9 514.2 642.8 514.2 642.6 514.2 642.4 514.2 642.2 514.2 642 514.2 641.8 514.2 641.7 514.2 641.5 514.2 641.3 514.2 641.1 514.2 640.9 514.2 640.7 514.2 640.6 514.2 640.4 514.2 640.2 514.2 640 514.2Z" fill="#0000ff" stroke="#0000ff" stroke-width="5.9" stroke-opacity="0.35" stroke-linejoin="round"/>
<path d="M640 513.4 640.2 513.4 640.4 513.4 640.6 513.4 640.7 513.4 640.9 513.4 641.1 513.4 641.3 513.4 641.5 513.4 641.7 513.4 641.8 513.4 642 513.4 642.2 513.4 642.4 513.4 642.6 513.4 642.8 513.4 642.9 513.4 643.1 513.4 643.3 513.4 643.5 513.4 643.7 513.4 643.9 513.4 644.1 513.4 644.2 513.3 644.4 513.3 644.6 513.3 644.8 513.3 645 513.3 645.2 513.3 645.3 513.3 645.5 513.3 645.7 513.3 645.9 513.3 646.1 513.3 646.3 513.3 646.4 513.3 646.6 513.3 646.8 513.3 647 513.3 647.2 513.2 647.4 513.2 647.6 513.2 647.7 513.2 647.9 513.2 648.1 513.2 648.3 513.2 648.5 513.2 648.7 513.2 648.8 513.2 649 513.2 649.2 513.1 649.4 513.1 649.6 513.1 649.8 513.1 650 513.1 650.1 513.1 650.3 513.1 650.5 513.1 650.7 513.1 650.9 513 651.1 513 651.2 513 651.4 513 651.6 513 651.8 513 652 513 652.2 512.9 652.3 512.9 652.5 512.9 652.7 512.9 652.9 512.9 653.1 512.9 653.3 512.9 653.5 512.8 653.6 512.8 653.8 512.8 654 512.8 654.2 512.8 654.4 512.8 654.6 512.7 654.7 512.7 654.9 512.7 655.1 512.7 655.3 512.7 655.5 512.7 655.7 512.6 655.8 512.6 656 512.6 656.2 512.6 656.4 512.5 656.6 512.5 656.8 512.5 657 512.4 657.1 512.4 657.3 512.3 657.5 512.3 657.7 512.2 657.9 512.1 658.1 512 658.2 512 658.4 511.9 658.6 511.8 658.8 511.7 659 511.6 659.2 511.5 659.3 511.4 659.5 511.3 659.7 511.2 659.9 511 660.1 510.8 660.3 510.6 660.5 510.4 660.6 510.2 660.8 509.9 661 509.6 661.2 509.3 661.4 509 661.6 508.6 661.7 508.1 661.9 507.7 662.1 507.2 662.3 506.7 662.5 506.1 662.7 505.6 662.9 505 663 504.4 663.2 503.7 663.4 503.1 663.6 502.3 663.8 501.5 664 500.6 664.1 499.7 664.3 498.7 664.5 497.7 664.7 496.7 664.9 495.7 665.1 494.6 665.2 493.5 665.4 492.4 665.6 491.1 665.8 489.8 666 488.5 666.2 487.2 666.4 485.9 666.5 484.7 666.7 483.7 666.9 482.7 667.1 481.6 667.3 480.6 667.5 479.6 667.6 478.8 667.8 478.2 668 477.8 668.2 477.5 668.4 477.3 668.6 477.3 668.7 477.4 668.9 477.7 669.1 485.3 669.3 513.8 669.3 513.8 669.1 542.3 668.9 549.9 668.7 550.2 668.6 550.3 668.4 550.3 668.2 550.1 668 549.8 667.8 549.4 667.6 548.8 667.5 548 667.3 547 667.1 546 666.9 544.9 666.7 543.9 666.5 542.9 666.4 541.7 666.2 540.4 666 539.1 665.8 537.8 665.6 536.5 665.4 535.2 665.2 534.1 665.1 533 664.9 531.9 664.7 530.9 664.5 529.9 664.3 528.9 664.1 527.9 664 527 663.8 526.1 663.6 525.3 663.4 524.5 663.2 523.9 663 523.2 662.9 522.6 662.7 522 662.5 521.5 662.3 520.9 662.1 520.4 661.9 519.9 661.7 519.5 661.6 519 661.4 518.6 661.2 518.3 661 518 660.8 517.7 660.6 517.4 660.5 517.2 660.3 517 660.1 516.8 659.9 516.6 659.7 516.4 659.5 516.3 659.3 516.2 659.2 516.1 659 516 658.8 515.9 658.6 515.8 658.4 515.7 658.2 515.6 658.1 515.6 657.9 515.5 657.7 515.4 657.5 515.3 657.3 515.3 657.1 515.2 657 515.2 656.8 515.1 656.6 515.1 656.4 515.1 656.2 515 656 515 655.8 515 655.7 515 655.5 514.9 655.3 514.9 655.1 514.9 654.9 514.9 654.7 514.9 654.6 514.9 654.4 514.8 654.2 514.8 654 514.8 653.8 514.8 653.6 514.8 653.5 514.8 653.3 514.7 653.1 514.7 652.9 514.7 652.7 514.7 652.5 514.7 652.3 514.7 652.2 514.7 652 514.6 651.8 514.6 651.6 514.6 651.4 514.6 651.2 514.6 651.1 514.6 650.9 514.6 650.7 514.5 650.5 514.5 650.3 514.5 650.1 514.5 650 514.5 649.8 514.5 649.6 514.5 649.4 514.5 649.2 514.5 649 514.4 648.8 514.4 648.7 514.4 648.5 514.4 648.3 514.4 648.1 514.4 647.9 514.4 647.7 514.4 647.6 514.4 647.4 514.4 647.2 514.4 647 514.3 646.8 514.3 646.6 514.3 646.4 514.3 646.3 514.3 646.1 514.3 645.9 514.3 645.7 514.3 645.5 514.3 645.3 514.3 645.2 514.3 645 514.3 644.8 514.3 644.6 514.3 644.4 514.3 644.2 514.3 644.1 514.2 643.9 514.2 643.7 514.2 643.5 514.2 643.3 514.2 643.1 514.2 642.9 514.2 642.8 514.2 642.6 514.2 642.4 514.2 642.2 514.2 642 514.2 641.8 514.2 641.7 514.2 641.5 514.2 641.3 514.2 641.1 514.2 640.9 514.2 640.7 514.2 640.6 514.2 640.4 514.2 640.2 514.2 640 514.2Z" fill="#0000ff" stroke="#0000ff" stroke-width="4.5" stroke-linejoin="round"/>
<path d="M669 479.3h0M658.7 515.8h0M667.8 547.1h0M669.1 537.2h0M669.3 509.4h0M665.6 492.7h0M649.2 513.2h0M665 531.3h0M669.2 532.9h0M659.2 516.1h0M669.3 519.9h0M669.1 486.6h0M669.1 485.4h0M665.1 495.4h0M664.4 498.6h0M669.3 515h0M669.2 522.3h0M665.8 537.5h0M667 482.2h0M669.2 505.7h0M649.2 514.4h0M664.9 496.5h0M665.3 493.4h0M668 478.6h0M662.6 521.5h0M659 511.6h0M664 501h0M669.1 484.4h0M664.8 530.8h0M660.9 510h0M669.1 540.8h0M669.3 507.5h0M666.2 488.3h0M647.2 514.3h0M665.6 535.2h0M669 482.5h0M669.2 535.4h0M669 545.9h0M666.1 539.4h0M669.1 490.5h0M662.5 521.4h0M669 548h0M669.2 521.6h0M666.7 543.8h0M648.8 514.4h0M669.3 510.1h0M640.1 514.2h0M661.1 518.1h0M668.1 549.8h0M663.3 504.1h0M646.4 513.3h0M669.3 511.7h0M647.6 513.2h0M669.2 505.9h0M669 546.8h0M669 547.2h0M663.7 502.2h0M669.2 526.1h0M669.2 497.7h0M649.4 514.4h0M666.4 486.2h0M645.4 513.3h0M669.2 527.9h0M664.9 495.8h0M656.3 512.6h0M669.2 528.1h0M664.4 498.7h0" stroke="#0000ff" stroke-opacity="0.4" stroke-width="6.4" stroke-linecap="round" fill="none"/>
<path d="M669.2 523.4h0M669.3 508.7h0M650.2 513.1h0M664.4 529.1h0M660.6 510.4h0M669.1 486.4h0M661.9 519.6h0M653.1 514.7h0M667.6 546.8h0M667.9 549.5h0M669.3 507.4h0M666.6 542.5h0M662.9 522.3h0M660.7 517.4h0M643.6 514.2h0M667.1 482h0M669 480.2h0M669.2 534.3h0M663.8 525.5h0M648.4 514.4h0M669.2 502.7h0M669.3 516h0M664.4 498.6h0M669.2 527.7h0M669.2 501h0M665.2 493.9h0M642.5 514.2h0M661.8 508.1h0M669.2 497.4h0M669.2 494h0M645.9 514.3h0M669.3 511.3h0M665.8 537.3h0M661.6 518.8h0M658.8 515.9h0M669.2 499.2h0M642 514.2h0M648.7 513.2h0M642.6 513.4h0M669.2 494.9h0M669.1 541.6h0M669.2 491.8h0M665.8 536.9h0M669.3 511.4h0M662.4 520.9h0M666.9 484.2h0M654.1 514.8h0M666.9 544.6h0M669.2 534.8h0M667.7 547.3h0M669.3 516.9h0M669.2 525.9h0M669.2 500.7h0M669.3 512h0M665.5 493h0M648.6 513.2h0M652.5 514.7h0M669.1 537.1h0M667.2 482.8h0M669.1 541.6h0M661 509.6h0M662.4 506.5h0M669.1 490.2h0M666.3 487.2h0M669.2 532.4h0M650.2 514.5h0M669.1 483.7h0" stroke="#0000ff" stroke-opacity="0.4" stroke-width="6.4" stroke-linecap="round" fill="none"/>
<path d="M669.3 516h0M669.2 501.8h0M669.3 517.3h0M663.6 525.2h0M669.2 497.8h0M669.2 529.8h0M650.5 514.5h0M669.2 521.2h0M657.5 512.3h0M669.2 505.6h0M663.6 502.9h0M667.2 544.7h0M662.1 520.2h0M669.2 526.4h0M669 481.4h0M662.6 521.7h0M669 479.4h0M669.1 483.8h0M669.2 533.5h0M642.4 513.4h0M669 548.1h0M669.3 508.9h0M666.8 543.1h0M669.2 524.6h0M647.1 513.3h0M647 514.3h0M669.2 496.8h0M666.6 541.8h0M662.9 505.1h0M669.2 535.4h0M643.8 514.2h0M658.7 511.8h0M662.6 521.5h0M669.3 510.2h0M647 514.3h0M661.6 508.8h0M651.9 513h0M665.8 536.7h0M669.2 529.7h0M669 483.6h0M667.4 480.9h0M662.7 522.1h0M663.4 503.4h0M669.1 540.1h0M669.1 542.8h0M666.9 543.4h0M669.2 496.7h0M669.1 542.8h0M669 545.8h0M669.1 487.2h0M669 548.6h0M642.9 514.2h0M661.3 509.3h0M669.2 534.3h0M669.2 505.6h0M669.1 488.6h0M664.4 528.9h0M664.6 497.3h0M663.9 526.3h0M661.4 518.4h0M669 481.6h0M669 548h0M662.7 505.9h0M669.3 518.7h0M650.5 513.1h0M664.6 497.3h0" stroke="#0000ff" stroke-opacity="0.4" stroke-width="6.4" stroke-linecap="round" fill="none"/>
<path d="M640 513.4 640.2 513.4 640.4 513.4 640.6 513.4 640.7 513.4 640.9 513.4 641.1 513.4 641.3 513.4 641.5 513.4 641.7 513.4 641.8 513.4 642 513.4 642.2 513.4 642.4 513.4 642.6 513.4 642.8 513.4 642.9 513.4 643.1 513.4 643.3 513.4 643.5 513.4 643.7 513.4 643.9 513.4 644.1 513.4 644.2 513.3 644.4 513.3 644.6 513.3 644.8 513.3 645 513.3 645.2 513.3 645.3 513.3 645.5 513.3 645.7 513.3 645.9 513.3 646.1 513.3 646.3 513.3 646.4 513.3 646.6 513.3 646.8 513.3 647 513.3 647.2 513.2 647.4 513.2 647.6 513.2 647.7 513.2 647.9 513.2 648.1 513.2 648.3 513.2 648.5 513.2 648.7 513.2 648.8 513.2 649 513.2 649.2 513.1 649.4 513.1 649.6 513.1 649.8 513.1 650 513.1 650.1 513.1 650.3 513.1 650.5 513.1 650.7 513.1 650.9 513 651.1 513 651.2 513 651.4 513 651.6 513 651.8 513 652 513 652.2 512.9 652.3 512.9 652.5 512.9 652.7 512.9 652.9 512.9 653.1 512.9 653.3 512.9 653.5 512.8 653.6 512.8 653.8 512.8 654 512.8 654.2 512.8 654.4 512.8 654.6 512.7 654.7 512.7 654.9 512.7 655.1 512.7 655.3 512.7 655.5 512.7 655.7 512.6 655.8 512.6 656 512.6 656.2 512.6 656.4 512.5 656.6 512.5 656.8 512.5 657 512.4 657.1 512.4 657.3 512.3 657.5 512.3 657.7 512.2 657.9 512.1 658.1 512 658.2 512 658.4 511.9 658.6 511.8 658.8 511.7 659 511.6 659.2 511.5 659.3 511.4 659.5 511.3 659.7 511.2 659.9 511 660.1 510.8 660.3 510.6 660.5 510.4 660.6 510.2 660.8 509.9 661 509.6 661.2 509.3 661.4 509 661.6 508.6 661.7 508.1 661.9 507.7 662.1 507.2 662.3 506.7 662.5 506.1 662.7 505.6 662.9 505 663 504.4 663.2 503.7 663.4 503.1 663.6 502.3 663.8 501.5 664 500.6 664.1 499.7 664.3 498.7 664.5 497.7 664.7 496.7 664.9 495.7 665.1 494.6 665.2 493.5 665.4 492.4 665.6 491.1 665.8 489.8 666 488.5 666.2 487.2 666.4 485.9 666.5 484.7 666.7 483.7 666.9 482.7 667.1 481.6 667.3 480.6 667.5 479.6 667.6 478.8 667.8 478.2 668 477.8 668.2 477.5 668.4 477.3 668.6 477.3 668.7 477.4 668.9 477.7 669.1 485.3 669.3 513.8 669.3 513.8 669.1 542.3 668.9 549.9 668.7 550.2 668.6 550.3 668.4 550.3 668.2 550.1 668 549.8 667.8 549.4 667.6 548.8 667.5 548 667.3 547 667.1 546 666.9 544.9 666.7 543.9 666.5 542.9 666.4 541.7 666.2 540.4 666 539.1 665.8 537.8 665.6 536.5 665.4 535.2 665.2 534.1 665.1 533 664.9 531.9 664.7 530.9 664.5 529.9 664.3 528.9 664.1 527.9 664 527 663.8 526.1 663.6 525.3 663.4 524.5 663.2 523.9 663 523.2 662.9 522.6 662.7 522 662.5 521.5 662.3 520.9 662.1 520.4 661.9 519.9 661.7 519.5 661.6 519 661.4 518.6 661.2 518.3 661 518 660.8 517.7 660.6 517.4 660.5 517.2 660.3 517 660.1 516.8 659.9 516.6 659.7 516.4 659.5 516.3 659.3 516.2 659.2 516.1 659 516 658.8 515.9 658.6 515.8 658.4 515.7 658.2 515.6 658.1 515.6 657.9 515.5 657.7 515.4 657.5 515.3 657.3 515.3 657.1 515.2 657 515.2 656.8 515.1 656.6 515.1 656.4 515.1 656.2 515 656 515 655.8 515 655.7 515 655.5 514.9 655.3 514.9 655.1 514.9 654.9 514.9 654.7 514.9 654.6 514.9 654.4 514.8 654.2 514.8 654 514.8 653.8 514.8 653.6 514.8 653.5 514.8 653.3 514.7 653.1 514.7 652.9 514.7 652.7 514.7 652.5 514.7 652.3 514.7 652.2 514.7 652 514.6 651.8 514.6 651.6 514.6 651.4 514.6 651.2 514.6 651.1 514.6 650.9 514.6 650.7 514.5 650.5 514.5 650.3 514.5 650.1 514.5 650 514.5 649.8 514.5 649.6 514.5 649.4 514.5 649.2 514.5 649 514.4 648.8 514.4 648.7 514.4 648.5 514.4 648.3 514.4 648.1 514.4 647.9 514.4 647.7 514.4 647.6 514.4 647.4 514.4 647.2 514.4 647 514.3 646.8 514.3 646.6 514.3 646.4 514.3 646.3 514.3 646.1 514.3 645.9 514.3 645.7 514.3 645.5 514.3 645.3 514.3 645.2 514.3 645 514.3 644.8 514.3 644.6 514.3 644.4 514.3 644.2 514.3 644.1 514.2 643.9 514.2 643.7 514.2 643.5 514.2 643.3 514.2 643.1 514.2 642.9 514.2 642.8 514.2 642.6 514.2 642.4 514.2 642.2 514.2 642 514.2 641.8 514.2 641.7 514.2 641.5 514.2 641.3 514.2 641.1 514.2 640.9 514.2 640.7 514.2 640.6 514.2 640.4 514.2 640.2 514.2 640 514.2Z" fill="none" stroke="#7474cc" stroke-width="0.8" stroke-linejoin="round"/>
<line x1="432" y1="513.8" x2="670" y2="513.8" stroke="#8a8a8a" stroke-width="0.6"/>
<circle cx="666.4" cy="513.8" r="3.3" fill="#fff" stroke="#808080" stroke-width="0.5"/>
<g fill="#ff0000" fill-opacity="0.3"><circle cx="647" cy="389.8" r="3.2"/><circle cx="653.4" cy="389.8" r="3.2"/></g>
<path d="M659.5 389.4 659.6 389.4 659.6 389.4 659.7 389.4 659.7 389.4 659.8 389.4 659.9 389.4 659.9 389.4 660 389.4 660.1 389.4 660.1 389.4 660.2 389.4 660.2 389.4 660.3 389.3 660.4 389.3 660.4 389.3 660.5 389.3 660.5 389.3 660.6 389.3 660.7 389.3 660.7 389.3 660.8 389.3 660.9 389.3 660.9 389.2 661 389.2 661 389.2 661.1 389.2 661.2 389.2 661.2 389.2 661.3 389.2 661.3 389.1 661.4 389.1 661.5 389.1 661.5 389.1 661.6 389.1 661.7 389.1 661.7 389 661.8 389 661.8 389 661.9 389 662 389 662 388.9 662.1 388.9 662.2 388.9 662.2 388.9 662.3 388.9 662.3 388.8 662.4 388.8 662.5 388.8 662.5 388.8 662.6 388.8 662.6 388.7 662.7 388.7 662.8 388.7 662.8 388.7 662.9 388.6 663 388.6 663 388.6 663.1 388.6 663.1 388.5 663.2 388.5 663.3 388.5 663.3 388.5 663.4 388.4 663.4 388.4 663.5 388.4 663.6 388.3 663.6 388.3 663.7 388.3 663.8 388.2 663.8 388.2 663.9 388.1 663.9 388.1 664 388 664.1 388 664.1 387.9 664.2 387.8 664.2 387.8 664.3 387.7 664.4 387.6 664.4 387.5 664.5 387.5 664.6 387.4 664.6 387.3 664.7 387.2 664.7 387 664.8 386.8 664.9 386.6 664.9 386.3 665 386 665 385.7 665.1 385.4 665.2 385 665.2 384.6 665.3 383.9 665.4 383.1 665.4 382.1 665.5 380.9 665.5 379.7 665.6 378.3 665.7 377 665.7 375.6 665.8 374.3 665.8 373.1 665.9 371.9 666 370.8 666 369.8 666.1 368.8 666.2 367.8 666.2 366.8 666.3 365.9 666.3 364.9 666.4 364 666.5 363.1 666.5 362.2 666.6 361.3 666.6 360.5 666.7 359.6 666.8 358.8 666.8 357.8 666.9 356.9 667 355.9 667 355 667.1 354.2 667.1 353.6 667.2 353.1 667.3 352.8 667.3 352.8 667.4 352.9 667.5 353.2 667.5 353.5 667.6 354 667.6 354.5 667.7 355.1 667.8 355.7 667.8 356.4 667.9 357.1 667.9 357.9 668 358.6 668.1 359.4 668.1 360.2 668.2 361 668.3 361.9 668.3 362.9 668.4 364 668.4 365.2 668.5 366.5 668.6 367.8 668.6 369.3 668.7 370.8 668.7 372.5 668.8 374.7 668.9 377.2 668.9 379.8 669 382.3 669.1 384.5 669.1 386.2 669.2 387.6 669.2 388.8 669.3 389.8 669.3 389.8 669.2 390.8 669.2 392 669.1 393.4 669.1 395.1 669 397.3 668.9 399.8 668.9 402.4 668.8 404.9 668.7 407.1 668.7 408.8 668.6 410.3 668.6 411.8 668.5 413.1 668.4 414.4 668.4 415.6 668.3 416.7 668.3 417.7 668.2 418.6 668.1 419.4 668.1 420.2 668 421 667.9 421.7 667.9 422.5 667.8 423.2 667.8 423.9 667.7 424.5 667.6 425.1 667.6 425.6 667.5 426.1 667.5 426.4 667.4 426.7 667.3 426.8 667.3 426.8 667.2 426.5 667.1 426 667.1 425.4 667 424.6 667 423.7 666.9 422.7 666.8 421.8 666.8 420.8 666.7 420 666.6 419.1 666.6 418.3 666.5 417.4 666.5 416.5 666.4 415.6 666.3 414.7 666.3 413.7 666.2 412.8 666.2 411.8 666.1 410.8 666 409.8 666 408.8 665.9 407.7 665.8 406.5 665.8 405.3 665.7 404 665.7 402.6 665.6 401.3 665.5 399.9 665.5 398.7 665.4 397.5 665.4 396.5 665.3 395.7 665.2 395 665.2 394.6 665.1 394.2 665 393.9 665 393.6 664.9 393.3 664.9 393 664.8 392.8 664.7 392.6 664.7 392.4 664.6 392.3 664.6 392.2 664.5 392.1 664.4 392.1 664.4 392 664.3 391.9 664.2 391.8 664.2 391.8 664.1 391.7 664.1 391.6 664 391.6 663.9 391.5 663.9 391.5 663.8 391.4 663.8 391.4 663.7 391.3 663.6 391.3 663.6 391.3 663.5 391.2 663.4 391.2 663.4 391.2 663.3 391.1 663.3 391.1 663.2 391.1 663.1 391.1 663.1 391 663 391 663 391 662.9 391 662.8 390.9 662.8 390.9 662.7 390.9 662.6 390.9 662.6 390.8 662.5 390.8 662.5 390.8 662.4 390.8 662.3 390.8 662.3 390.7 662.2 390.7 662.2 390.7 662.1 390.7 662 390.7 662 390.6 661.9 390.6 661.8 390.6 661.8 390.6 661.7 390.6 661.7 390.5 661.6 390.5 661.5 390.5 661.5 390.5 661.4 390.5 661.3 390.5 661.3 390.4 661.2 390.4 661.2 390.4 661.1 390.4 661 390.4 661 390.4 660.9 390.4 660.9 390.3 660.8 390.3 660.7 390.3 660.7 390.3 660.6 390.3 660.5 390.3 660.5 390.3 660.4 390.3 660.4 390.3 660.3 390.3 660.2 390.2 660.2 390.2 660.1 390.2 660.1 390.2 660 390.2 659.9 390.2 659.9 390.2 659.8 390.2 659.7 390.2 659.7 390.2 659.6 390.2 659.6 390.2 659.5 390.2Z" fill="#ff0000" stroke="#ff0000" stroke-width="5.9" stroke-opacity="0.35" stroke-linejoin="round"/>
<path d="M659.5 389.4 659.6 389.4 659.6 389.4 659.7 389.4 659.7 389.4 659.8 389.4 659.9 389.4 659.9 389.4 660 389.4 660.1 389.4 660.1 389.4 660.2 389.4 660.2 389.4 660.3 389.3 660.4 389.3 660.4 389.3 660.5 389.3 660.5 389.3 660.6 389.3 660.7 389.3 660.7 389.3 660.8 389.3 660.9 389.3 660.9 389.2 661 389.2 661 389.2 661.1 389.2 661.2 389.2 661.2 389.2 661.3 389.2 661.3 389.1 661.4 389.1 661.5 389.1 661.5 389.1 661.6 389.1 661.7 389.1 661.7 389 661.8 389 661.8 389 661.9 389 662 389 662 388.9 662.1 388.9 662.2 388.9 662.2 388.9 662.3 388.9 662.3 388.8 662.4 388.8 662.5 388.8 662.5 388.8 662.6 388.8 662.6 388.7 662.7 388.7 662.8 388.7 662.8 388.7 662.9 388.6 663 388.6 663 388.6 663.1 388.6 663.1 388.5 663.2 388.5 663.3 388.5 663.3 388.5 663.4 388.4 663.4 388.4 663.5 388.4 663.6 388.3 663.6 388.3 663.7 388.3 663.8 388.2 663.8 388.2 663.9 388.1 663.9 388.1 664 388 664.1 388 664.1 387.9 664.2 387.8 664.2 387.8 664.3 387.7 664.4 387.6 664.4 387.5 664.5 387.5 664.6 387.4 664.6 387.3 664.7 387.2 664.7 387 664.8 386.8 664.9 386.6 664.9 386.3 665 386 665 385.7 665.1 385.4 665.2 385 665.2 384.6 665.3 383.9 665.4 383.1 665.4 382.1 665.5 380.9 665.5 379.7 665.6 378.3 665.7 377 665.7 375.6 665.8 374.3 665.8 373.1 665.9 371.9 666 370.8 666 369.8 666.1 368.8 666.2 367.8 666.2 366.8 666.3 365.9 666.3 364.9 666.4 364 666.5 363.1 666.5 362.2 666.6 361.3 666.6 360.5 666.7 359.6 666.8 358.8 666.8 357.8 666.9 356.9 667 355.9 667 355 667.1 354.2 667.1 353.6 667.2 353.1 667.3 352.8 667.3 352.8 667.4 352.9 667.5 353.2 667.5 353.5 667.6 354 667.6 354.5 667.7 355.1 667.8 355.7 667.8 356.4 667.9 357.1 667.9 357.9 668 358.6 668.1 359.4 668.1 360.2 668.2 361 668.3 361.9 668.3 362.9 668.4 364 668.4 365.2 668.5 366.5 668.6 367.8 668.6 369.3 668.7 370.8 668.7 372.5 668.8 374.7 668.9 377.2 668.9 379.8 669 382.3 669.1 384.5 669.1 386.2 669.2 387.6 669.2 388.8 669.3 389.8 669.3 389.8 669.2 390.8 669.2 392 669.1 393.4 669.1 395.1 669 397.3 668.9 399.8 668.9 402.4 668.8 404.9 668.7 407.1 668.7 408.8 668.6 410.3 668.6 411.8 668.5 413.1 668.4 414.4 668.4 415.6 668.3 416.7 668.3 417.7 668.2 418.6 668.1 419.4 668.1 420.2 668 421 667.9 421.7 667.9 422.5 667.8 423.2 667.8 423.9 667.7 424.5 667.6 425.1 667.6 425.6 667.5 426.1 667.5 426.4 667.4 426.7 667.3 426.8 667.3 426.8 667.2 426.5 667.1 426 667.1 425.4 667 424.6 667 423.7 666.9 422.7 666.8 421.8 666.8 420.8 666.7 420 666.6 419.1 666.6 418.3 666.5 417.4 666.5 416.5 666.4 415.6 666.3 414.7 666.3 413.7 666.2 412.8 666.2 411.8 666.1 410.8 666 409.8 666 408.8 665.9 407.7 665.8 406.5 665.8 405.3 665.7 404 665.7 402.6 665.6 401.3 665.5 399.9 665.5 398.7 665.4 397.5 665.4 396.5 665.3 395.7 665.2 395 665.2 394.6 665.1 394.2 665 393.9 665 393.6 664.9 393.3 664.9 393 664.8 392.8 664.7 392.6 664.7 392.4 664.6 392.3 664.6 392.2 664.5 392.1 664.4 392.1 664.4 392 664.3 391.9 664.2 391.8 664.2 391.8 664.1 391.7 664.1 391.6 664 391.6 663.9 391.5 663.9 391.5 663.8 391.4 663.8 391.4 663.7 391.3 663.6 391.3 663.6 391.3 663.5 391.2 663.4 391.2 663.4 391.2 663.3 391.1 663.3 391.1 663.2 391.1 663.1 391.1 663.1 391 663 391 663 391 662.9 391 662.8 390.9 662.8 390.9 662.7 390.9 662.6 390.9 662.6 390.8 662.5 390.8 662.5 390.8 662.4 390.8 662.3 390.8 662.3 390.7 662.2 390.7 662.2 390.7 662.1 390.7 662 390.7 662 390.6 661.9 390.6 661.8 390.6 661.8 390.6 661.7 390.6 661.7 390.5 661.6 390.5 661.5 390.5 661.5 390.5 661.4 390.5 661.3 390.5 661.3 390.4 661.2 390.4 661.2 390.4 661.1 390.4 661 390.4 661 390.4 660.9 390.4 660.9 390.3 660.8 390.3 660.7 390.3 660.7 390.3 660.6 390.3 660.5 390.3 660.5 390.3 660.4 390.3 660.4 390.3 660.3 390.3 660.2 390.2 660.2 390.2 660.1 390.2 660.1 390.2 660 390.2 659.9 390.2 659.9 390.2 659.8 390.2 659.7 390.2 659.7 390.2 659.6 390.2 659.6 390.2 659.5 390.2Z" fill="#ff0000" stroke="#ff0000" stroke-width="4.5" stroke-linejoin="round"/>
<path d="M665.7 377h0M666.6 417.1h0M668.2 417.8h0M665.7 376.6h0M666.6 361.5h0M665.4 382.1h0M669 382h0M660.9 390.3h0M668.4 413.4h0M668.8 376.2h0M666 369.8h0M668.7 408.3h0M668.6 410.1h0M669.3 389.5h0M665.6 379.5h0M669 395.7h0M668.2 416.4h0M669.2 391.3h0M667.3 352.9h0M666.1 370.2h0M662.3 388.9h0M665.7 403.5h0M665.2 394.8h0M667.9 421h0M668.6 411.4h0M666.5 362.7h0M666.9 357.4h0M665.5 399.1h0M667.9 422.3h0M668.4 366h0M665.6 400.3h0M666.6 416.9h0M666.3 367.5h0M666.7 359.9h0M667.4 424.7h0M666 369.9h0M667.1 423h0M669 397.5h0M666.3 412.4h0M668.1 419.1h0M666.2 368.6h0M668.4 365.3h0M668 420.1h0M665.6 379.6h0M667.8 356.5h0M668.9 399.7h0M665.5 380h0M668.4 414.4h0M668.5 368.8h0M665.6 400.5h0" stroke="#ff0000" stroke-opacity="0.4" stroke-width="6.4" stroke-linecap="round" fill="none"/>
<path d="M666.1 368.7h0M668 359.8h0M662.7 390.9h0M668.8 405.3h0M669.3 390.3h0M665.9 372.4h0M661.9 390.6h0M669.3 389.2h0M665.8 373.8h0M665.3 395.5h0M668.8 402.9h0M665.8 374.8h0M666.8 419.2h0M665.8 405.7h0M669 396.3h0M668.5 412h0M665.2 394.4h0M665.3 396h0M666.7 419.5h0M665.6 377.8h0M668.7 370.6h0M663.8 391.4h0M666.7 360.8h0M668.6 370.2h0M668.9 402.9h0M665.5 398.5h0M668.5 367.4h0M667.4 354.6h0M668.9 399.7h0M668.2 416.8h0M667.1 354.5h0M663.5 391.2h0M665.8 374.2h0M667.1 426h0M666.5 363.5h0M665.5 381.5h0M669.3 389.6h0M662.7 390.9h0M668.9 402.4h0M666.3 413.6h0M666 372.1h0M666.1 409.4h0M665.5 398.4h0M668.7 371.7h0M666.7 360.5h0M667.2 354.7h0M666 409.1h0M668.6 371.1h0M668.7 370.8h0M668.3 417.5h0" stroke="#ff0000" stroke-opacity="0.4" stroke-width="6.4" stroke-linecap="round" fill="none"/>
<path d="M668.7 407.5h0M665.9 406.1h0M663.7 388.3h0M665.5 379.6h0M665.8 375.8h0M667.5 355.6h0M667.5 355.5h0M666.8 358.7h0M666.9 358h0M665.7 402.5h0M669 382.5h0M666.1 410.6h0M666.3 366.8h0M668.8 405.9h0M666 371.9h0M668.9 380.2h0M666.5 363.6h0M667.5 425.8h0M665.9 372.3h0M665.9 406.8h0M669 381.6h0M666.4 415.4h0M665.8 373.6h0M668.9 399.3h0M669.3 390.2h0M665.5 399.3h0M668.9 377.4h0M664.7 387.1h0M666.2 367.1h0M668.4 414.7h0M663.6 388.3h0M669.2 387.1h0M669 382.7h0M668.9 380.1h0M668.6 409h0M668.6 410.4h0M667.7 424.2h0M661.3 389.2h0M666.9 356.6h0M666.2 366.8h0M662.2 388.9h0M669 383.7h0M666 371.3h0M665.8 405.2h0M666.4 413.7h0M666.1 410.5h0M665.6 378.9h0M668 359.3h0M667.9 357.2h0M661.3 390.4h0" stroke="#ff0000" stroke-opacity="0.4" stroke-width="6.4" stroke-linecap="round" fill="none"/>
<path d="M659.5 389.4 659.6 389.4 659.6 389.4 659.7 389.4 659.7 389.4 659.8 389.4 659.9 389.4 659.9 389.4 660 389.4 660.1 389.4 660.1 389.4 660.2 389.4 660.2 389.4 660.3 389.3 660.4 389.3 660.4 389.3 660.5 389.3 660.5 389.3 660.6 389.3 660.7 389.3 660.7 389.3 660.8 389.3 660.9 389.3 660.9 389.2 661 389.2 661 389.2 661.1 389.2 661.2 389.2 661.2 389.2 661.3 389.2 661.3 389.1 661.4 389.1 661.5 389.1 661.5 389.1 661.6 389.1 661.7 389.1 661.7 389 661.8 389 661.8 389 661.9 389 662 389 662 388.9 662.1 388.9 662.2 388.9 662.2 388.9 662.3 388.9 662.3 388.8 662.4 388.8 662.5 388.8 662.5 388.8 662.6 388.8 662.6 388.7 662.7 388.7 662.8 388.7 662.8 388.7 662.9 388.6 663 388.6 663 388.6 663.1 388.6 663.1 388.5 663.2 388.5 663.3 388.5 663.3 388.5 663.4 388.4 663.4 388.4 663.5 388.4 663.6 388.3 663.6 388.3 663.7 388.3 663.8 388.2 663.8 388.2 663.9 388.1 663.9 388.1 664 388 664.1 388 664.1 387.9 664.2 387.8 664.2 387.8 664.3 387.7 664.4 387.6 664.4 387.5 664.5 387.5 664.6 387.4 664.6 387.3 664.7 387.2 664.7 387 664.8 386.8 664.9 386.6 664.9 386.3 665 386 665 385.7 665.1 385.4 665.2 385 665.2 384.6 665.3 383.9 665.4 383.1 665.4 382.1 665.5 380.9 665.5 379.7 665.6 378.3 665.7 377 665.7 375.6 665.8 374.3 665.8 373.1 665.9 371.9 666 370.8 666 369.8 666.1 368.8 666.2 367.8 666.2 366.8 666.3 365.9 666.3 364.9 666.4 364 666.5 363.1 666.5 362.2 666.6 361.3 666.6 360.5 666.7 359.6 666.8 358.8 666.8 357.8 666.9 356.9 667 355.9 667 355 667.1 354.2 667.1 353.6 667.2 353.1 667.3 352.8 667.3 352.8 667.4 352.9 667.5 353.2 667.5 353.5 667.6 354 667.6 354.5 667.7 355.1 667.8 355.7 667.8 356.4 667.9 357.1 667.9 357.9 668 358.6 668.1 359.4 668.1 360.2 668.2 361 668.3 361.9 668.3 362.9 668.4 364 668.4 365.2 668.5 366.5 668.6 367.8 668.6 369.3 668.7 370.8 668.7 372.5 668.8 374.7 668.9 377.2 668.9 379.8 669 382.3 669.1 384.5 669.1 386.2 669.2 387.6 669.2 388.8 669.3 389.8 669.3 389.8 669.2 390.8 669.2 392 669.1 393.4 669.1 395.1 669 397.3 668.9 399.8 668.9 402.4 668.8 404.9 668.7 407.1 668.7 408.8 668.6 410.3 668.6 411.8 668.5 413.1 668.4 414.4 668.4 415.6 668.3 416.7 668.3 417.7 668.2 418.6 668.1 419.4 668.1 420.2 668 421 667.9 421.7 667.9 422.5 667.8 423.2 667.8 423.9 667.7 424.5 667.6 425.1 667.6 425.6 667.5 426.1 667.5 426.4 667.4 426.7 667.3 426.8 667.3 426.8 667.2 426.5 667.1 426 667.1 425.4 667 424.6 667 423.7 666.9 422.7 666.8 421.8 666.8 420.8 666.7 420 666.6 419.1 666.6 418.3 666.5 417.4 666.5 416.5 666.4 415.6 666.3 414.7 666.3 413.7 666.2 412.8 666.2 411.8 666.1 410.8 666 409.8 666 408.8 665.9 407.7 665.8 406.5 665.8 405.3 665.7 404 665.7 402.6 665.6 401.3 665.5 399.9 665.5 398.7 665.4 397.5 665.4 396.5 665.3 395.7 665.2 395 665.2 394.6 665.1 394.2 665 393.9 665 393.6 664.9 393.3 664.9 393 664.8 392.8 664.7 392.6 664.7 392.4 664.6 392.3 664.6 392.2 664.5 392.1 664.4 392.1 664.4 392 664.3 391.9 664.2 391.8 664.2 391.8 664.1 391.7 664.1 391.6 664 391.6 663.9 391.5 663.9 391.5 663.8 391.4 663.8 391.4 663.7 391.3 663.6 391.3 663.6 391.3 663.5 391.2 663.4 391.2 663.4 391.2 663.3 391.1 663.3 391.1 663.2 391.1 663.1 391.1 663.1 391 663 391 663 391 662.9 391 662.8 390.9 662.8 390.9 662.7 390.9 662.6 390.9 662.6 390.8 662.5 390.8 662.5 390.8 662.4 390.8 662.3 390.8 662.3 390.7 662.2 390.7 662.2 390.7 662.1 390.7 662 390.7 662 390.6 661.9 390.6 661.8 390.6 661.8 390.6 661.7 390.6 661.7 390.5 661.6 390.5 661.5 390.5 661.5 390.5 661.4 390.5 661.3 390.5 661.3 390.4 661.2 390.4 661.2 390.4 661.1 390.4 661 390.4 661 390.4 660.9 390.4 660.9 390.3 660.8 390.3 660.7 390.3 660.7 390.3 660.6 390.3 660.5 390.3 660.5 390.3 660.4 390.3 660.4 390.3 660.3 390.3 660.2 390.2 660.2 390.2 660.1 390.2 660.1 390.2 660 390.2 659.9 390.2 659.9 390.2 659.8 390.2 659.7 390.2 659.7 390.2 659.6 390.2 659.6 390.2 659.5 390.2Z" fill="none" stroke="#d48484" stroke-width="0.8" stroke-linejoin="round"/>
<line x1="647" y1="389.8" x2="669.6" y2="389.8" stroke="#6c6c6c" stroke-width="0.65"/>
<circle cx="667" cy="389.8" r="3.3" fill="#fff" stroke="#808080" stroke-width="0.5"/>
</svg>
</body></html>
